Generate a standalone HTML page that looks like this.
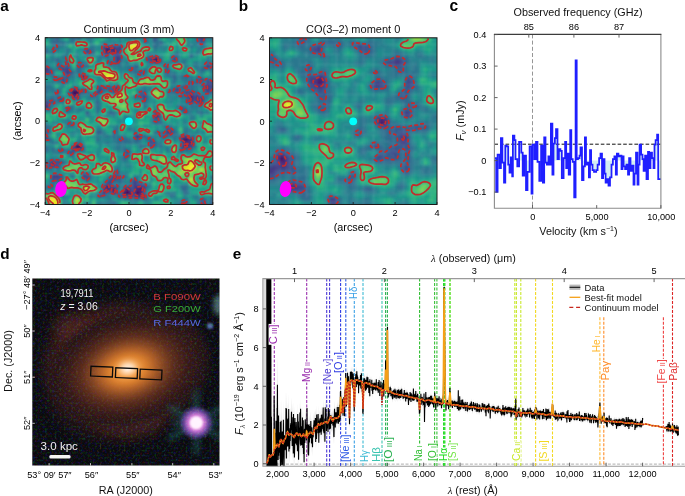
<!DOCTYPE html>
<html><head><meta charset="utf-8"><style>
html,body{margin:0;padding:0;background:#fff;}
#fig{position:relative;width:685px;height:496px;overflow:hidden;background:#fff;will-change:transform;}
svg{position:absolute;left:0;top:0;}
text{font-family:"Liberation Sans", sans-serif;}
</style></head><body><div id="fig">
<svg width="685" height="496" viewBox="0 0 685 496">
<defs>
<filter id="blur1" x="-5%" y="-5%" width="110%" height="110%"><feGaussianBlur stdDeviation="1.1"/></filter>
</defs>
<text x="0.3" y="10.8" font-size="15.3" fill="#000" font-weight="bold">a</text>
<text x="238.8" y="11.2" font-size="15.3" fill="#000" font-weight="bold">b</text>
<text x="449.5" y="11.0" font-size="15.6" fill="#000" font-weight="bold">c</text>
<text x="0.2" y="259.0" font-size="15.3" fill="#000" font-weight="bold">d</text>
<text x="232.8" y="259.1" font-size="15.3" fill="#000" font-weight="bold">e</text>
<clipPath id="ca"><rect x="45.20" y="37.70" width="167.60" height="166.80"/></clipPath>
<g clip-path="url(#ca)"><g filter="url(#blur1)">
<path fill="#1f9a8a" d="M42.2 34.7h6.7v6.6h-6.7zM62.0 34.7h3.7v6.6h-3.7zM115.6 34.7h3.7v6.6h-3.7zM189.3 34.7h3.7v6.6h-3.7zM48.6 44.4h3.7v3.6h-3.7zM65.3 44.4h3.7v3.6h-3.7zM142.4 44.4h3.7v3.6h-3.7zM165.9 47.7h3.7v3.6h-3.7zM162.5 51.0h3.7v3.6h-3.7zM179.3 54.4h3.7v3.6h-3.7zM196.0 54.4h3.7v3.6h-3.7zM209.4 54.4h6.7v3.6h-6.7zM189.3 57.7h3.7v3.6h-3.7zM196.0 57.7h3.7v3.6h-3.7zM92.1 61.1h3.7v3.6h-3.7zM98.8 61.1h3.7v3.6h-3.7zM189.3 64.4h3.7v3.6h-3.7zM72.0 67.7h3.7v3.6h-3.7zM192.7 67.7h3.7v3.6h-3.7zM125.6 71.1h3.7v3.6h-3.7zM186.0 71.1h3.7v3.6h-3.7zM95.5 74.4h3.7v3.6h-3.7zM152.5 74.4h3.7v3.6h-3.7zM192.7 74.4h3.7v3.6h-3.7zM206.1 74.4h3.7v3.6h-3.7zM78.7 77.7h3.7v3.6h-3.7zM139.1 84.4h3.7v3.6h-3.7zM105.5 91.1h3.7v3.6h-3.7zM72.0 101.1h3.7v3.6h-3.7zM162.5 101.1h3.7v3.6h-3.7zM92.1 104.4h3.7v3.6h-3.7zM129.0 107.8h3.7v3.6h-3.7zM48.6 111.1h3.7v3.6h-3.7zM159.2 111.1h3.7v3.6h-3.7zM179.3 111.1h3.7v3.6h-3.7zM98.8 114.4h3.7v3.6h-3.7zM186.0 114.4h3.7v3.6h-3.7zM179.3 117.8h3.7v3.6h-3.7zM186.0 117.8h3.7v3.6h-3.7zM51.9 124.4h3.7v3.6h-3.7zM75.4 124.4h3.7v3.6h-3.7zM132.4 124.4h3.7v3.6h-3.7zM135.7 124.4h3.7v3.6h-3.7zM159.2 124.4h3.7v3.6h-3.7zM199.4 124.4h3.7v3.6h-3.7zM62.0 127.8h3.7v3.6h-3.7zM72.0 127.8h3.7v3.6h-3.7zM159.2 127.8h3.7v3.6h-3.7zM199.4 127.8h3.7v3.6h-3.7zM58.6 131.1h3.7v3.6h-3.7zM105.5 131.1h3.7v3.6h-3.7zM48.6 134.4h3.7v3.6h-3.7zM58.6 134.4h3.7v3.6h-3.7zM88.8 134.4h3.7v3.6h-3.7zM125.6 134.4h3.7v3.6h-3.7zM206.1 134.4h3.7v3.6h-3.7zM75.4 137.8h3.7v3.6h-3.7zM85.4 137.8h3.7v3.6h-3.7zM206.1 141.1h3.7v3.6h-3.7zM88.8 144.5h3.7v3.6h-3.7zM135.7 147.8h3.7v3.6h-3.7zM169.2 147.8h3.7v3.6h-3.7zM75.4 151.1h3.7v3.6h-3.7zM85.4 151.1h3.7v3.6h-3.7zM142.4 157.8h3.7v3.6h-3.7zM172.6 161.1h3.7v3.6h-3.7zM92.1 164.5h3.7v3.6h-3.7zM78.7 174.5h3.7v3.6h-3.7zM72.0 177.8h3.7v3.6h-3.7zM78.7 177.8h3.7v3.6h-3.7zM42.2 181.1h6.7v3.6h-6.7zM98.8 181.1h3.7v3.6h-3.7zM155.8 184.5h3.7v3.6h-3.7zM98.8 187.8h3.7v3.6h-3.7zM189.3 191.2h3.7v3.6h-3.7zM186.0 194.5h3.7v3.6h-3.7zM88.8 197.8h3.7v3.6h-3.7zM98.8 197.8h3.7v3.6h-3.7zM115.6 197.8h3.7v3.6h-3.7z"/>
<path fill="#277f8e" d="M48.6 34.7h3.7v6.6h-3.7zM118.9 34.7h3.7v6.6h-3.7zM125.6 34.7h3.7v6.6h-3.7zM186.0 41.0h3.7v3.6h-3.7zM62.0 44.4h3.7v3.6h-3.7zM88.8 44.4h3.7v3.6h-3.7zM92.1 44.4h3.7v3.6h-3.7zM186.0 44.4h3.7v3.6h-3.7zM196.0 47.7h3.7v3.6h-3.7zM199.4 47.7h3.7v3.6h-3.7zM169.2 54.4h3.7v3.6h-3.7zM42.2 57.7h6.7v3.6h-6.7zM58.6 57.7h3.7v3.6h-3.7zM62.0 57.7h3.7v3.6h-3.7zM95.5 57.7h3.7v3.6h-3.7zM105.5 57.7h3.7v3.6h-3.7zM145.8 61.1h3.7v3.6h-3.7zM172.6 61.1h3.7v3.6h-3.7zM196.0 61.1h3.7v3.6h-3.7zM108.9 64.4h3.7v3.6h-3.7zM115.6 64.4h3.7v3.6h-3.7zM125.6 64.4h3.7v3.6h-3.7zM51.9 67.7h3.7v3.6h-3.7zM55.3 67.7h3.7v3.6h-3.7zM118.9 67.7h3.7v3.6h-3.7zM122.3 67.7h3.7v3.6h-3.7zM182.6 67.7h3.7v3.6h-3.7zM48.6 74.4h3.7v3.6h-3.7zM179.3 77.7h3.7v3.6h-3.7zM169.2 81.1h3.7v3.6h-3.7zM182.6 81.1h3.7v3.6h-3.7zM142.4 84.4h3.7v3.6h-3.7zM196.0 84.4h3.7v3.6h-3.7zM78.7 87.7h3.7v3.6h-3.7zM139.1 87.7h3.7v3.6h-3.7zM65.3 91.1h3.7v3.6h-3.7zM58.6 94.4h3.7v3.6h-3.7zM78.7 94.4h3.7v3.6h-3.7zM165.9 94.4h3.7v3.6h-3.7zM78.7 97.7h3.7v3.6h-3.7zM85.4 97.7h3.7v3.6h-3.7zM169.2 97.7h3.7v3.6h-3.7zM62.0 101.1h3.7v3.6h-3.7zM145.8 104.4h3.7v3.6h-3.7zM82.1 107.8h3.7v3.6h-3.7zM98.8 107.8h3.7v3.6h-3.7zM152.5 107.8h3.7v3.6h-3.7zM196.0 107.8h3.7v3.6h-3.7zM85.4 114.4h3.7v3.6h-3.7zM105.5 114.4h3.7v3.6h-3.7zM65.3 117.8h3.7v3.6h-3.7zM55.3 121.1h3.7v3.6h-3.7zM62.0 121.1h3.7v3.6h-3.7zM118.9 121.1h3.7v3.6h-3.7zM75.4 127.8h3.7v3.6h-3.7zM189.3 127.8h3.7v3.6h-3.7zM72.0 131.1h3.7v3.6h-3.7zM115.6 131.1h3.7v3.6h-3.7zM175.9 131.1h3.7v3.6h-3.7zM186.0 131.1h3.7v3.6h-3.7zM115.6 134.4h3.7v3.6h-3.7zM209.4 134.4h6.7v3.6h-6.7zM78.7 137.8h3.7v3.6h-3.7zM98.8 137.8h3.7v3.6h-3.7zM162.5 137.8h3.7v3.6h-3.7zM48.6 141.1h3.7v3.6h-3.7zM155.8 141.1h3.7v3.6h-3.7zM118.9 144.5h3.7v3.6h-3.7zM155.8 144.5h3.7v3.6h-3.7zM48.6 147.8h3.7v3.6h-3.7zM65.3 147.8h3.7v3.6h-3.7zM72.0 157.8h3.7v3.6h-3.7zM118.9 157.8h3.7v3.6h-3.7zM125.6 157.8h3.7v3.6h-3.7zM125.6 164.5h3.7v3.6h-3.7zM51.9 171.1h3.7v3.6h-3.7zM139.1 171.1h3.7v3.6h-3.7zM48.6 174.5h3.7v3.6h-3.7zM135.7 174.5h3.7v3.6h-3.7zM62.0 177.8h3.7v3.6h-3.7zM149.1 177.8h3.7v3.6h-3.7zM209.4 177.8h6.7v3.6h-6.7zM58.6 181.1h3.7v3.6h-3.7zM149.1 184.5h3.7v3.6h-3.7zM51.9 187.8h3.7v3.6h-3.7zM75.4 191.2h3.7v3.6h-3.7zM88.8 194.5h3.7v3.6h-3.7zM122.3 197.8h3.7v3.6h-3.7zM196.0 197.8h3.7v3.6h-3.7zM129.0 201.2h3.7v6.6h-3.7zM175.9 201.2h3.7v6.6h-3.7z"/>
<path fill="#2c738e" d="M51.9 34.7h3.7v6.6h-3.7zM68.7 34.7h3.7v6.6h-3.7zM75.4 34.7h3.7v6.6h-3.7zM129.0 34.7h3.7v6.6h-3.7zM62.0 41.0h3.7v3.6h-3.7zM155.8 41.0h3.7v3.6h-3.7zM155.8 44.4h3.7v3.6h-3.7zM92.1 47.7h3.7v3.6h-3.7zM98.8 54.4h3.7v3.6h-3.7zM175.9 54.4h3.7v3.6h-3.7zM51.9 57.7h3.7v3.6h-3.7zM58.6 61.1h3.7v3.6h-3.7zM175.9 61.1h3.7v3.6h-3.7zM112.2 64.4h3.7v3.6h-3.7zM118.9 64.4h3.7v3.6h-3.7zM129.0 64.4h3.7v3.6h-3.7zM68.7 67.7h3.7v3.6h-3.7zM196.0 67.7h3.7v3.6h-3.7zM206.1 67.7h3.7v3.6h-3.7zM72.0 71.1h3.7v3.6h-3.7zM199.4 71.1h3.7v3.6h-3.7zM142.4 74.4h3.7v3.6h-3.7zM165.9 74.4h3.7v3.6h-3.7zM169.2 74.4h3.7v3.6h-3.7zM186.0 77.7h3.7v3.6h-3.7zM209.4 77.7h6.7v3.6h-6.7zM42.2 84.4h6.7v3.6h-6.7zM48.6 84.4h3.7v3.6h-3.7zM199.4 84.4h3.7v3.6h-3.7zM51.9 87.7h3.7v3.6h-3.7zM42.2 91.1h6.7v3.6h-6.7zM95.5 94.4h3.7v3.6h-3.7zM132.4 94.4h3.7v3.6h-3.7zM42.2 97.7h6.7v3.6h-6.7zM95.5 97.7h3.7v3.6h-3.7zM145.8 97.7h3.7v3.6h-3.7zM189.3 104.4h3.7v3.6h-3.7zM196.0 104.4h3.7v3.6h-3.7zM65.3 111.1h3.7v3.6h-3.7zM196.0 111.1h3.7v3.6h-3.7zM206.1 111.1h3.7v3.6h-3.7zM159.2 117.8h3.7v3.6h-3.7zM98.8 127.8h3.7v3.6h-3.7zM112.2 127.8h3.7v3.6h-3.7zM48.6 131.1h3.7v3.6h-3.7zM132.4 131.1h3.7v3.6h-3.7zM182.6 131.1h3.7v3.6h-3.7zM196.0 131.1h3.7v3.6h-3.7zM105.5 134.4h3.7v3.6h-3.7zM118.9 134.4h3.7v3.6h-3.7zM192.7 134.4h3.7v3.6h-3.7zM115.6 137.8h3.7v3.6h-3.7zM139.1 137.8h3.7v3.6h-3.7zM152.5 137.8h3.7v3.6h-3.7zM192.7 137.8h3.7v3.6h-3.7zM55.3 141.1h3.7v3.6h-3.7zM105.5 141.1h3.7v3.6h-3.7zM115.6 141.1h3.7v3.6h-3.7zM122.3 141.1h3.7v3.6h-3.7zM125.6 141.1h3.7v3.6h-3.7zM135.7 141.1h3.7v3.6h-3.7zM159.2 141.1h3.7v3.6h-3.7zM122.3 151.1h3.7v3.6h-3.7zM62.0 174.5h3.7v3.6h-3.7zM68.7 174.5h3.7v3.6h-3.7zM108.9 174.5h3.7v3.6h-3.7zM82.1 177.8h3.7v3.6h-3.7zM105.5 177.8h3.7v3.6h-3.7zM186.0 191.2h3.7v3.6h-3.7zM62.0 194.5h3.7v3.6h-3.7zM105.5 194.5h3.7v3.6h-3.7zM129.0 197.8h3.7v3.6h-3.7zM108.9 201.2h3.7v6.6h-3.7zM196.0 201.2h3.7v6.6h-3.7z"/>
<path fill="#34608d" d="M55.3 34.7h3.7v6.6h-3.7zM142.4 34.7h3.7v6.6h-3.7zM196.0 34.7h3.7v6.6h-3.7zM55.3 44.4h3.7v3.6h-3.7zM115.6 44.4h3.7v3.6h-3.7zM51.9 51.0h3.7v3.6h-3.7zM135.7 64.4h3.7v3.6h-3.7zM142.4 71.1h3.7v3.6h-3.7zM172.6 74.4h3.7v3.6h-3.7zM186.0 74.4h3.7v3.6h-3.7zM196.0 81.1h3.7v3.6h-3.7zM98.8 84.4h3.7v3.6h-3.7zM78.7 91.1h3.7v3.6h-3.7zM82.1 91.1h3.7v3.6h-3.7zM175.9 91.1h3.7v3.6h-3.7zM192.7 91.1h3.7v3.6h-3.7zM48.6 101.1h3.7v3.6h-3.7zM142.4 101.1h3.7v3.6h-3.7zM199.4 104.4h3.7v3.6h-3.7zM179.3 107.8h3.7v3.6h-3.7zM112.2 111.1h3.7v3.6h-3.7zM152.5 111.1h3.7v3.6h-3.7zM98.8 131.1h3.7v3.6h-3.7zM155.8 131.1h3.7v3.6h-3.7zM42.2 134.4h6.7v3.6h-6.7zM159.2 134.4h3.7v3.6h-3.7zM186.0 134.4h3.7v3.6h-3.7zM192.7 141.1h3.7v3.6h-3.7zM182.6 147.8h3.7v3.6h-3.7zM125.6 184.5h3.7v3.6h-3.7zM115.6 187.8h3.7v3.6h-3.7zM108.9 191.2h3.7v3.6h-3.7zM199.4 201.2h3.7v6.6h-3.7z"/>
<path fill="#26828e" d="M58.6 34.7h3.7v6.6h-3.7zM108.9 34.7h3.7v6.6h-3.7zM135.7 34.7h3.7v6.6h-3.7zM139.1 34.7h3.7v6.6h-3.7zM169.2 34.7h3.7v6.6h-3.7zM48.6 41.0h3.7v3.6h-3.7zM68.7 41.0h3.7v3.6h-3.7zM192.7 41.0h3.7v3.6h-3.7zM122.3 44.4h3.7v3.6h-3.7zM192.7 44.4h3.7v3.6h-3.7zM196.0 44.4h3.7v3.6h-3.7zM68.7 47.7h3.7v3.6h-3.7zM155.8 47.7h3.7v3.6h-3.7zM189.3 47.7h3.7v3.6h-3.7zM48.6 51.0h3.7v3.6h-3.7zM149.1 51.0h3.7v3.6h-3.7zM48.6 57.7h3.7v3.6h-3.7zM108.9 57.7h3.7v3.6h-3.7zM122.3 57.7h3.7v3.6h-3.7zM179.3 61.1h3.7v3.6h-3.7zM182.6 64.4h3.7v3.6h-3.7zM82.1 67.7h3.7v3.6h-3.7zM112.2 67.7h3.7v3.6h-3.7zM145.8 67.7h3.7v3.6h-3.7zM55.3 74.4h3.7v3.6h-3.7zM175.9 74.4h3.7v3.6h-3.7zM85.4 77.7h3.7v3.6h-3.7zM175.9 77.7h3.7v3.6h-3.7zM42.2 81.1h6.7v3.6h-6.7zM48.6 81.1h3.7v3.6h-3.7zM51.9 81.1h3.7v3.6h-3.7zM58.6 81.1h3.7v3.6h-3.7zM85.4 87.7h3.7v3.6h-3.7zM145.8 87.7h3.7v3.6h-3.7zM165.9 87.7h3.7v3.6h-3.7zM115.6 91.1h3.7v3.6h-3.7zM145.8 91.1h3.7v3.6h-3.7zM48.6 94.4h3.7v3.6h-3.7zM169.2 94.4h3.7v3.6h-3.7zM88.8 97.7h3.7v3.6h-3.7zM135.7 97.7h3.7v3.6h-3.7zM179.3 97.7h3.7v3.6h-3.7zM182.6 97.7h3.7v3.6h-3.7zM98.8 101.1h3.7v3.6h-3.7zM152.5 101.1h3.7v3.6h-3.7zM65.3 104.4h3.7v3.6h-3.7zM82.1 104.4h3.7v3.6h-3.7zM98.8 104.4h3.7v3.6h-3.7zM72.0 107.8h3.7v3.6h-3.7zM108.9 107.8h3.7v3.6h-3.7zM135.7 107.8h3.7v3.6h-3.7zM192.7 107.8h3.7v3.6h-3.7zM75.4 111.1h3.7v3.6h-3.7zM115.6 111.1h3.7v3.6h-3.7zM189.3 111.1h3.7v3.6h-3.7zM202.7 111.1h3.7v3.6h-3.7zM88.8 114.4h3.7v3.6h-3.7zM102.2 114.4h3.7v3.6h-3.7zM192.7 114.4h3.7v3.6h-3.7zM62.0 117.8h3.7v3.6h-3.7zM122.3 117.8h3.7v3.6h-3.7zM192.7 117.8h3.7v3.6h-3.7zM42.2 121.1h6.7v3.6h-6.7zM125.6 127.8h3.7v3.6h-3.7zM68.7 131.1h3.7v3.6h-3.7zM199.4 131.1h3.7v3.6h-3.7zM108.9 134.4h3.7v3.6h-3.7zM159.2 137.8h3.7v3.6h-3.7zM102.2 141.1h3.7v3.6h-3.7zM112.2 141.1h3.7v3.6h-3.7zM139.1 141.1h3.7v3.6h-3.7zM145.8 144.5h3.7v3.6h-3.7zM68.7 147.8h3.7v3.6h-3.7zM112.2 147.8h3.7v3.6h-3.7zM139.1 147.8h3.7v3.6h-3.7zM149.1 147.8h3.7v3.6h-3.7zM42.2 151.1h6.7v3.6h-6.7zM95.5 151.1h3.7v3.6h-3.7zM95.5 154.5h3.7v3.6h-3.7zM129.0 154.5h3.7v3.6h-3.7zM175.9 154.5h3.7v3.6h-3.7zM58.6 157.8h3.7v3.6h-3.7zM65.3 161.1h3.7v3.6h-3.7zM125.6 161.1h3.7v3.6h-3.7zM115.6 164.5h3.7v3.6h-3.7zM112.2 167.8h3.7v3.6h-3.7zM118.9 171.1h3.7v3.6h-3.7zM122.3 171.1h3.7v3.6h-3.7zM125.6 174.5h3.7v3.6h-3.7zM122.3 181.1h3.7v3.6h-3.7zM98.8 184.5h3.7v3.6h-3.7zM118.9 184.5h3.7v3.6h-3.7zM145.8 187.8h3.7v3.6h-3.7zM179.3 187.8h3.7v3.6h-3.7zM58.6 194.5h3.7v3.6h-3.7zM65.3 194.5h3.7v3.6h-3.7zM182.6 194.5h3.7v3.6h-3.7zM62.0 197.8h3.7v3.6h-3.7zM105.5 197.8h3.7v3.6h-3.7zM139.1 197.8h3.7v3.6h-3.7zM155.8 197.8h3.7v3.6h-3.7zM179.3 197.8h3.7v3.6h-3.7zM65.3 201.2h3.7v6.6h-3.7zM85.4 201.2h3.7v6.6h-3.7zM102.2 201.2h3.7v6.6h-3.7zM132.4 201.2h3.7v6.6h-3.7zM145.8 201.2h3.7v6.6h-3.7z"/>
<path fill="#21a585" d="M65.3 34.7h3.7v6.6h-3.7zM102.2 34.7h3.7v6.6h-3.7zM165.9 41.0h3.7v3.6h-3.7zM175.9 41.0h3.7v3.6h-3.7zM172.6 44.4h3.7v3.6h-3.7zM209.4 44.4h6.7v3.6h-6.7zM72.0 47.7h3.7v3.6h-3.7zM72.0 51.0h3.7v3.6h-3.7zM182.6 51.0h3.7v3.6h-3.7zM186.0 51.0h3.7v3.6h-3.7zM162.5 54.4h3.7v3.6h-3.7zM162.5 57.7h3.7v3.6h-3.7zM142.4 61.1h3.7v3.6h-3.7zM155.8 64.4h3.7v3.6h-3.7zM202.7 74.4h3.7v3.6h-3.7zM92.1 77.7h3.7v3.6h-3.7zM122.3 77.7h3.7v3.6h-3.7zM162.5 77.7h3.7v3.6h-3.7zM165.9 77.7h3.7v3.6h-3.7zM159.2 87.7h3.7v3.6h-3.7zM129.0 94.4h3.7v3.6h-3.7zM82.1 97.7h3.7v3.6h-3.7zM102.2 101.1h3.7v3.6h-3.7zM155.8 101.1h3.7v3.6h-3.7zM159.2 101.1h3.7v3.6h-3.7zM102.2 104.4h3.7v3.6h-3.7zM149.1 104.4h3.7v3.6h-3.7zM112.2 107.8h3.7v3.6h-3.7zM145.8 107.8h3.7v3.6h-3.7zM165.9 107.8h3.7v3.6h-3.7zM75.4 114.4h3.7v3.6h-3.7zM142.4 114.4h3.7v3.6h-3.7zM149.1 114.4h3.7v3.6h-3.7zM196.0 114.4h3.7v3.6h-3.7zM202.7 114.4h3.7v3.6h-3.7zM51.9 117.8h3.7v3.6h-3.7zM75.4 117.8h3.7v3.6h-3.7zM92.1 121.1h3.7v3.6h-3.7zM95.5 121.1h3.7v3.6h-3.7zM108.9 121.1h3.7v3.6h-3.7zM179.3 121.1h3.7v3.6h-3.7zM206.1 121.1h3.7v3.6h-3.7zM62.0 124.4h3.7v3.6h-3.7zM105.5 124.4h3.7v3.6h-3.7zM139.1 124.4h3.7v3.6h-3.7zM179.3 124.4h3.7v3.6h-3.7zM108.9 127.8h3.7v3.6h-3.7zM152.5 127.8h3.7v3.6h-3.7zM108.9 131.1h3.7v3.6h-3.7zM118.9 131.1h3.7v3.6h-3.7zM92.1 137.8h3.7v3.6h-3.7zM169.2 137.8h3.7v3.6h-3.7zM58.6 141.1h3.7v3.6h-3.7zM162.5 141.1h3.7v3.6h-3.7zM175.9 141.1h3.7v3.6h-3.7zM92.1 144.5h3.7v3.6h-3.7zM95.5 144.5h3.7v3.6h-3.7zM196.0 144.5h3.7v3.6h-3.7zM85.4 147.8h3.7v3.6h-3.7zM132.4 151.1h3.7v3.6h-3.7zM152.5 151.1h3.7v3.6h-3.7zM196.0 151.1h3.7v3.6h-3.7zM72.0 161.1h3.7v3.6h-3.7zM75.4 161.1h3.7v3.6h-3.7zM92.1 161.1h3.7v3.6h-3.7zM98.8 161.1h3.7v3.6h-3.7zM135.7 161.1h3.7v3.6h-3.7zM88.8 164.5h3.7v3.6h-3.7zM132.4 167.8h3.7v3.6h-3.7zM159.2 167.8h3.7v3.6h-3.7zM129.0 171.1h3.7v3.6h-3.7zM98.8 174.5h3.7v3.6h-3.7zM196.0 174.5h3.7v3.6h-3.7zM172.6 177.8h3.7v3.6h-3.7zM206.1 177.8h3.7v3.6h-3.7zM82.1 181.1h3.7v3.6h-3.7zM155.8 181.1h3.7v3.6h-3.7zM162.5 181.1h3.7v3.6h-3.7zM62.0 184.5h3.7v3.6h-3.7zM68.7 187.8h3.7v3.6h-3.7zM152.5 187.8h3.7v3.6h-3.7zM62.0 191.2h3.7v3.6h-3.7zM72.0 194.5h3.7v3.6h-3.7zM162.5 194.5h3.7v3.6h-3.7zM175.9 194.5h3.7v3.6h-3.7zM159.2 201.2h3.7v6.6h-3.7zM189.3 201.2h3.7v6.6h-3.7z"/>
<path fill="#31688e" d="M72.0 34.7h3.7v6.6h-3.7zM51.9 41.0h3.7v3.6h-3.7zM55.3 41.0h3.7v3.6h-3.7zM145.8 41.0h3.7v3.6h-3.7zM152.5 44.4h3.7v3.6h-3.7zM82.1 47.7h3.7v3.6h-3.7zM155.8 54.4h3.7v3.6h-3.7zM65.3 57.7h3.7v3.6h-3.7zM175.9 57.7h3.7v3.6h-3.7zM58.6 67.7h3.7v3.6h-3.7zM132.4 67.7h3.7v3.6h-3.7zM142.4 67.7h3.7v3.6h-3.7zM135.7 71.1h3.7v3.6h-3.7zM51.9 74.4h3.7v3.6h-3.7zM51.9 77.7h3.7v3.6h-3.7zM172.6 77.7h3.7v3.6h-3.7zM202.7 77.7h3.7v3.6h-3.7zM65.3 81.1h3.7v3.6h-3.7zM192.7 81.1h3.7v3.6h-3.7zM199.4 81.1h3.7v3.6h-3.7zM179.3 84.4h3.7v3.6h-3.7zM186.0 87.7h3.7v3.6h-3.7zM172.6 91.1h3.7v3.6h-3.7zM51.9 97.7h3.7v3.6h-3.7zM202.7 97.7h3.7v3.6h-3.7zM142.4 104.4h3.7v3.6h-3.7zM179.3 104.4h3.7v3.6h-3.7zM68.7 107.8h3.7v3.6h-3.7zM186.0 111.1h3.7v3.6h-3.7zM72.0 121.1h3.7v3.6h-3.7zM159.2 121.1h3.7v3.6h-3.7zM165.9 124.4h3.7v3.6h-3.7zM42.2 127.8h6.7v3.6h-6.7zM172.6 131.1h3.7v3.6h-3.7zM112.2 134.4h3.7v3.6h-3.7zM132.4 134.4h3.7v3.6h-3.7zM159.2 144.5h3.7v3.6h-3.7zM192.7 144.5h3.7v3.6h-3.7zM122.3 147.8h3.7v3.6h-3.7zM189.3 147.8h3.7v3.6h-3.7zM55.3 157.8h3.7v3.6h-3.7zM122.3 157.8h3.7v3.6h-3.7zM42.2 167.8h6.7v3.6h-6.7zM115.6 167.8h3.7v3.6h-3.7zM72.0 174.5h3.7v3.6h-3.7zM88.8 174.5h3.7v3.6h-3.7zM118.9 174.5h3.7v3.6h-3.7zM129.0 184.5h3.7v3.6h-3.7zM145.8 184.5h3.7v3.6h-3.7zM182.6 184.5h3.7v3.6h-3.7zM105.5 191.2h3.7v3.6h-3.7zM118.9 191.2h3.7v3.6h-3.7zM169.2 194.5h3.7v3.6h-3.7zM142.4 197.8h3.7v3.6h-3.7zM209.4 197.8h6.7v3.6h-6.7zM186.0 201.2h3.7v6.6h-3.7z"/>
<path fill="#2d708e" d="M78.7 34.7h3.7v6.6h-3.7zM155.8 34.7h3.7v6.6h-3.7zM209.4 34.7h6.7v6.6h-6.7zM58.6 41.0h3.7v3.6h-3.7zM152.5 41.0h3.7v3.6h-3.7zM202.7 41.0h3.7v3.6h-3.7zM42.2 47.7h6.7v3.6h-6.7zM42.2 51.0h6.7v3.6h-6.7zM82.1 51.0h3.7v3.6h-3.7zM92.1 51.0h3.7v3.6h-3.7zM175.9 51.0h3.7v3.6h-3.7zM149.1 54.4h3.7v3.6h-3.7zM112.2 57.7h3.7v3.6h-3.7zM169.2 57.7h3.7v3.6h-3.7zM206.1 57.7h3.7v3.6h-3.7zM55.3 61.1h3.7v3.6h-3.7zM82.1 61.1h3.7v3.6h-3.7zM125.6 61.1h3.7v3.6h-3.7zM55.3 64.4h3.7v3.6h-3.7zM62.0 64.4h3.7v3.6h-3.7zM202.7 64.4h3.7v3.6h-3.7zM78.7 67.7h3.7v3.6h-3.7zM51.9 71.1h3.7v3.6h-3.7zM132.4 71.1h3.7v3.6h-3.7zM62.0 74.4h3.7v3.6h-3.7zM68.7 74.4h3.7v3.6h-3.7zM139.1 74.4h3.7v3.6h-3.7zM182.6 77.7h3.7v3.6h-3.7zM189.3 77.7h3.7v3.6h-3.7zM172.6 81.1h3.7v3.6h-3.7zM95.5 84.4h3.7v3.6h-3.7zM108.9 84.4h3.7v3.6h-3.7zM175.9 84.4h3.7v3.6h-3.7zM42.2 87.7h6.7v3.6h-6.7zM142.4 87.7h3.7v3.6h-3.7zM149.1 87.7h3.7v3.6h-3.7zM179.3 87.7h3.7v3.6h-3.7zM182.6 87.7h3.7v3.6h-3.7zM85.4 91.1h3.7v3.6h-3.7zM169.2 91.1h3.7v3.6h-3.7zM55.3 94.4h3.7v3.6h-3.7zM68.7 94.4h3.7v3.6h-3.7zM145.8 94.4h3.7v3.6h-3.7zM55.3 97.7h3.7v3.6h-3.7zM192.7 101.1h3.7v3.6h-3.7zM68.7 104.4h3.7v3.6h-3.7zM175.9 104.4h3.7v3.6h-3.7zM95.5 111.1h3.7v3.6h-3.7zM72.0 124.4h3.7v3.6h-3.7zM48.6 127.8h3.7v3.6h-3.7zM129.0 127.8h3.7v3.6h-3.7zM169.2 134.4h3.7v3.6h-3.7zM189.3 134.4h3.7v3.6h-3.7zM95.5 137.8h3.7v3.6h-3.7zM125.6 137.8h3.7v3.6h-3.7zM132.4 137.8h3.7v3.6h-3.7zM172.6 137.8h3.7v3.6h-3.7zM51.9 141.1h3.7v3.6h-3.7zM118.9 141.1h3.7v3.6h-3.7zM129.0 141.1h3.7v3.6h-3.7zM142.4 144.5h3.7v3.6h-3.7zM179.3 151.1h3.7v3.6h-3.7zM58.6 164.5h3.7v3.6h-3.7zM48.6 167.8h3.7v3.6h-3.7zM209.4 174.5h6.7v3.6h-6.7zM135.7 177.8h3.7v3.6h-3.7zM118.9 181.1h3.7v3.6h-3.7zM179.3 184.5h3.7v3.6h-3.7zM42.2 187.8h6.7v3.6h-6.7zM165.9 191.2h3.7v3.6h-3.7zM182.6 197.8h3.7v3.6h-3.7z"/>
<path fill="#20928c" d="M82.1 34.7h3.7v6.6h-3.7zM105.5 34.7h3.7v6.6h-3.7zM159.2 34.7h3.7v6.6h-3.7zM209.4 41.0h6.7v3.6h-6.7zM42.2 44.4h6.7v3.6h-6.7zM55.3 51.0h3.7v3.6h-3.7zM68.7 51.0h3.7v3.6h-3.7zM98.8 51.0h3.7v3.6h-3.7zM192.7 51.0h3.7v3.6h-3.7zM58.6 54.4h3.7v3.6h-3.7zM72.0 54.4h3.7v3.6h-3.7zM102.2 57.7h3.7v3.6h-3.7zM125.6 57.7h3.7v3.6h-3.7zM142.4 57.7h3.7v3.6h-3.7zM132.4 61.1h3.7v3.6h-3.7zM135.7 61.1h3.7v3.6h-3.7zM92.1 64.4h3.7v3.6h-3.7zM179.3 71.1h3.7v3.6h-3.7zM182.6 71.1h3.7v3.6h-3.7zM196.0 71.1h3.7v3.6h-3.7zM202.7 71.1h3.7v3.6h-3.7zM92.1 74.4h3.7v3.6h-3.7zM98.8 74.4h3.7v3.6h-3.7zM145.8 74.4h3.7v3.6h-3.7zM72.0 81.1h3.7v3.6h-3.7zM175.9 81.1h3.7v3.6h-3.7zM179.3 81.1h3.7v3.6h-3.7zM145.8 84.4h3.7v3.6h-3.7zM149.1 94.4h3.7v3.6h-3.7zM98.8 97.7h3.7v3.6h-3.7zM152.5 97.7h3.7v3.6h-3.7zM165.9 97.7h3.7v3.6h-3.7zM149.1 101.1h3.7v3.6h-3.7zM175.9 101.1h3.7v3.6h-3.7zM55.3 104.4h3.7v3.6h-3.7zM165.9 104.4h3.7v3.6h-3.7zM132.4 107.8h3.7v3.6h-3.7zM192.7 111.1h3.7v3.6h-3.7zM95.5 114.4h3.7v3.6h-3.7zM129.0 114.4h3.7v3.6h-3.7zM68.7 117.8h3.7v3.6h-3.7zM82.1 117.8h3.7v3.6h-3.7zM88.8 117.8h3.7v3.6h-3.7zM92.1 117.8h3.7v3.6h-3.7zM172.6 117.8h3.7v3.6h-3.7zM206.1 117.8h3.7v3.6h-3.7zM209.4 117.8h6.7v3.6h-6.7zM169.2 121.1h3.7v3.6h-3.7zM95.5 124.4h3.7v3.6h-3.7zM98.8 124.4h3.7v3.6h-3.7zM155.8 124.4h3.7v3.6h-3.7zM175.9 124.4h3.7v3.6h-3.7zM186.0 124.4h3.7v3.6h-3.7zM78.7 127.8h3.7v3.6h-3.7zM102.2 127.8h3.7v3.6h-3.7zM65.3 131.1h3.7v3.6h-3.7zM142.4 131.1h3.7v3.6h-3.7zM92.1 134.4h3.7v3.6h-3.7zM202.7 134.4h3.7v3.6h-3.7zM51.9 137.8h3.7v3.6h-3.7zM155.8 137.8h3.7v3.6h-3.7zM206.1 137.8h3.7v3.6h-3.7zM72.0 141.1h3.7v3.6h-3.7zM82.1 141.1h3.7v3.6h-3.7zM172.6 141.1h3.7v3.6h-3.7zM51.9 144.5h3.7v3.6h-3.7zM152.5 147.8h3.7v3.6h-3.7zM162.5 147.8h3.7v3.6h-3.7zM51.9 154.5h3.7v3.6h-3.7zM55.3 154.5h3.7v3.6h-3.7zM98.8 154.5h3.7v3.6h-3.7zM102.2 154.5h3.7v3.6h-3.7zM85.4 161.1h3.7v3.6h-3.7zM129.0 161.1h3.7v3.6h-3.7zM125.6 167.8h3.7v3.6h-3.7zM72.0 171.1h3.7v3.6h-3.7zM105.5 174.5h3.7v3.6h-3.7zM125.6 177.8h3.7v3.6h-3.7zM196.0 177.8h3.7v3.6h-3.7zM149.1 181.1h3.7v3.6h-3.7zM186.0 181.1h3.7v3.6h-3.7zM62.0 187.8h3.7v3.6h-3.7zM149.1 187.8h3.7v3.6h-3.7zM92.1 191.2h3.7v3.6h-3.7zM162.5 191.2h3.7v3.6h-3.7zM165.9 194.5h3.7v3.6h-3.7zM189.3 194.5h3.7v3.6h-3.7zM206.1 194.5h3.7v3.6h-3.7zM112.2 197.8h3.7v3.6h-3.7zM169.2 197.8h3.7v3.6h-3.7zM68.7 201.2h3.7v6.6h-3.7zM88.8 201.2h3.7v6.6h-3.7zM135.7 201.2h3.7v6.6h-3.7z"/>
<path fill="#2a778e" d="M85.4 34.7h3.7v6.6h-3.7zM88.8 34.7h3.7v6.6h-3.7zM145.8 34.7h3.7v6.6h-3.7zM51.9 44.4h3.7v3.6h-3.7zM58.6 44.4h3.7v3.6h-3.7zM159.2 44.4h3.7v3.6h-3.7zM189.3 44.4h3.7v3.6h-3.7zM202.7 44.4h3.7v3.6h-3.7zM65.3 47.7h3.7v3.6h-3.7zM65.3 51.0h3.7v3.6h-3.7zM196.0 51.0h3.7v3.6h-3.7zM62.0 54.4h3.7v3.6h-3.7zM65.3 54.4h3.7v3.6h-3.7zM145.8 54.4h3.7v3.6h-3.7zM98.8 57.7h3.7v3.6h-3.7zM75.4 61.1h3.7v3.6h-3.7zM118.9 61.1h3.7v3.6h-3.7zM68.7 64.4h3.7v3.6h-3.7zM192.7 64.4h3.7v3.6h-3.7zM196.0 64.4h3.7v3.6h-3.7zM125.6 67.7h3.7v3.6h-3.7zM75.4 71.1h3.7v3.6h-3.7zM118.9 71.1h3.7v3.6h-3.7zM129.0 71.1h3.7v3.6h-3.7zM172.6 71.1h3.7v3.6h-3.7zM135.7 74.4h3.7v3.6h-3.7zM179.3 74.4h3.7v3.6h-3.7zM189.3 74.4h3.7v3.6h-3.7zM196.0 74.4h3.7v3.6h-3.7zM112.2 84.4h3.7v3.6h-3.7zM192.7 84.4h3.7v3.6h-3.7zM48.6 87.7h3.7v3.6h-3.7zM55.3 87.7h3.7v3.6h-3.7zM68.7 87.7h3.7v3.6h-3.7zM92.1 91.1h3.7v3.6h-3.7zM51.9 94.4h3.7v3.6h-3.7zM202.7 94.4h3.7v3.6h-3.7zM206.1 94.4h3.7v3.6h-3.7zM55.3 101.1h3.7v3.6h-3.7zM182.6 104.4h3.7v3.6h-3.7zM192.7 104.4h3.7v3.6h-3.7zM186.0 107.8h3.7v3.6h-3.7zM125.6 117.8h3.7v3.6h-3.7zM189.3 117.8h3.7v3.6h-3.7zM65.3 121.1h3.7v3.6h-3.7zM48.6 124.4h3.7v3.6h-3.7zM65.3 124.4h3.7v3.6h-3.7zM115.6 124.4h3.7v3.6h-3.7zM162.5 124.4h3.7v3.6h-3.7zM169.2 124.4h3.7v3.6h-3.7zM132.4 127.8h3.7v3.6h-3.7zM186.0 127.8h3.7v3.6h-3.7zM135.7 131.1h3.7v3.6h-3.7zM145.8 134.4h3.7v3.6h-3.7zM172.6 134.4h3.7v3.6h-3.7zM112.2 137.8h3.7v3.6h-3.7zM78.7 141.1h3.7v3.6h-3.7zM132.4 141.1h3.7v3.6h-3.7zM42.2 144.5h6.7v3.6h-6.7zM115.6 144.5h3.7v3.6h-3.7zM115.6 147.8h3.7v3.6h-3.7zM72.0 154.5h3.7v3.6h-3.7zM48.6 157.8h3.7v3.6h-3.7zM55.3 167.8h3.7v3.6h-3.7zM55.3 171.1h3.7v3.6h-3.7zM112.2 171.1h3.7v3.6h-3.7zM88.8 177.8h3.7v3.6h-3.7zM129.0 177.8h3.7v3.6h-3.7zM55.3 181.1h3.7v3.6h-3.7zM102.2 181.1h3.7v3.6h-3.7zM142.4 181.1h3.7v3.6h-3.7zM42.2 184.5h6.7v3.6h-6.7zM122.3 184.5h3.7v3.6h-3.7zM186.0 184.5h3.7v3.6h-3.7zM48.6 187.8h3.7v3.6h-3.7zM169.2 191.2h3.7v3.6h-3.7zM115.6 194.5h3.7v3.6h-3.7zM172.6 194.5h3.7v3.6h-3.7zM192.7 194.5h3.7v3.6h-3.7zM196.0 194.5h3.7v3.6h-3.7zM108.9 197.8h3.7v3.6h-3.7zM145.8 197.8h3.7v3.6h-3.7zM186.0 197.8h3.7v3.6h-3.7zM98.8 201.2h3.7v6.6h-3.7z"/>
<path fill="#238a8d" d="M92.1 34.7h3.7v6.6h-3.7zM122.3 34.7h3.7v6.6h-3.7zM149.1 34.7h3.7v6.6h-3.7zM108.9 41.0h3.7v3.6h-3.7zM115.6 41.0h3.7v3.6h-3.7zM162.5 44.4h3.7v3.6h-3.7zM165.9 44.4h3.7v3.6h-3.7zM58.6 47.7h3.7v3.6h-3.7zM62.0 47.7h3.7v3.6h-3.7zM98.8 47.7h3.7v3.6h-3.7zM145.8 51.0h3.7v3.6h-3.7zM152.5 51.0h3.7v3.6h-3.7zM172.6 51.0h3.7v3.6h-3.7zM82.1 54.4h3.7v3.6h-3.7zM88.8 54.4h3.7v3.6h-3.7zM92.1 54.4h3.7v3.6h-3.7zM192.7 54.4h3.7v3.6h-3.7zM206.1 54.4h3.7v3.6h-3.7zM78.7 57.7h3.7v3.6h-3.7zM179.3 57.7h3.7v3.6h-3.7zM186.0 57.7h3.7v3.6h-3.7zM42.2 61.1h6.7v3.6h-6.7zM122.3 61.1h3.7v3.6h-3.7zM199.4 61.1h3.7v3.6h-3.7zM48.6 64.4h3.7v3.6h-3.7zM88.8 64.4h3.7v3.6h-3.7zM115.6 67.7h3.7v3.6h-3.7zM139.1 67.7h3.7v3.6h-3.7zM162.5 67.7h3.7v3.6h-3.7zM169.2 67.7h3.7v3.6h-3.7zM58.6 74.4h3.7v3.6h-3.7zM132.4 74.4h3.7v3.6h-3.7zM209.4 74.4h6.7v3.6h-6.7zM68.7 77.7h3.7v3.6h-3.7zM169.2 77.7h3.7v3.6h-3.7zM75.4 84.4h3.7v3.6h-3.7zM48.6 91.1h3.7v3.6h-3.7zM135.7 91.1h3.7v3.6h-3.7zM65.3 94.4h3.7v3.6h-3.7zM172.6 94.4h3.7v3.6h-3.7zM92.1 97.7h3.7v3.6h-3.7zM132.4 97.7h3.7v3.6h-3.7zM149.1 97.7h3.7v3.6h-3.7zM165.9 101.1h3.7v3.6h-3.7zM186.0 104.4h3.7v3.6h-3.7zM175.9 107.8h3.7v3.6h-3.7zM199.4 107.8h3.7v3.6h-3.7zM206.1 107.8h3.7v3.6h-3.7zM135.7 111.1h3.7v3.6h-3.7zM132.4 114.4h3.7v3.6h-3.7zM132.4 117.8h3.7v3.6h-3.7zM149.1 117.8h3.7v3.6h-3.7zM122.3 121.1h3.7v3.6h-3.7zM129.0 121.1h3.7v3.6h-3.7zM149.1 121.1h3.7v3.6h-3.7zM162.5 121.1h3.7v3.6h-3.7zM175.9 121.1h3.7v3.6h-3.7zM145.8 124.4h3.7v3.6h-3.7zM65.3 127.8h3.7v3.6h-3.7zM55.3 131.1h3.7v3.6h-3.7zM189.3 131.1h3.7v3.6h-3.7zM55.3 134.4h3.7v3.6h-3.7zM72.0 134.4h3.7v3.6h-3.7zM152.5 134.4h3.7v3.6h-3.7zM155.8 134.4h3.7v3.6h-3.7zM108.9 137.8h3.7v3.6h-3.7zM142.4 137.8h3.7v3.6h-3.7zM175.9 137.8h3.7v3.6h-3.7zM129.0 144.5h3.7v3.6h-3.7zM162.5 144.5h3.7v3.6h-3.7zM98.8 147.8h3.7v3.6h-3.7zM169.2 151.1h3.7v3.6h-3.7zM115.6 154.5h3.7v3.6h-3.7zM118.9 154.5h3.7v3.6h-3.7zM42.2 157.8h6.7v3.6h-6.7zM118.9 161.1h3.7v3.6h-3.7zM112.2 164.5h3.7v3.6h-3.7zM118.9 164.5h3.7v3.6h-3.7zM58.6 171.1h3.7v3.6h-3.7zM88.8 171.1h3.7v3.6h-3.7zM139.1 174.5h3.7v3.6h-3.7zM95.5 177.8h3.7v3.6h-3.7zM95.5 181.1h3.7v3.6h-3.7zM172.6 181.1h3.7v3.6h-3.7zM112.2 194.5h3.7v3.6h-3.7zM159.2 194.5h3.7v3.6h-3.7zM65.3 197.8h3.7v3.6h-3.7zM118.9 197.8h3.7v3.6h-3.7zM149.1 197.8h3.7v3.6h-3.7zM175.9 197.8h3.7v3.6h-3.7zM192.7 197.8h3.7v3.6h-3.7zM206.1 197.8h3.7v3.6h-3.7zM172.6 201.2h3.7v6.6h-3.7z"/>
<path fill="#1fa187" d="M95.5 34.7h3.7v6.6h-3.7zM92.1 41.0h3.7v3.6h-3.7zM182.6 44.4h3.7v3.6h-3.7zM179.3 47.7h3.7v3.6h-3.7zM169.2 51.0h3.7v3.6h-3.7zM192.7 57.7h3.7v3.6h-3.7zM199.4 57.7h3.7v3.6h-3.7zM68.7 61.1h3.7v3.6h-3.7zM189.3 61.1h3.7v3.6h-3.7zM85.4 67.7h3.7v3.6h-3.7zM172.6 67.7h3.7v3.6h-3.7zM75.4 77.7h3.7v3.6h-3.7zM118.9 77.7h3.7v3.6h-3.7zM68.7 81.1h3.7v3.6h-3.7zM115.6 81.1h3.7v3.6h-3.7zM129.0 97.7h3.7v3.6h-3.7zM162.5 97.7h3.7v3.6h-3.7zM135.7 101.1h3.7v3.6h-3.7zM108.9 104.4h3.7v3.6h-3.7zM172.6 107.8h3.7v3.6h-3.7zM42.2 111.1h6.7v3.6h-6.7zM78.7 111.1h3.7v3.6h-3.7zM182.6 114.4h3.7v3.6h-3.7zM135.7 117.8h3.7v3.6h-3.7zM139.1 117.8h3.7v3.6h-3.7zM142.4 117.8h3.7v3.6h-3.7zM58.6 121.1h3.7v3.6h-3.7zM135.7 121.1h3.7v3.6h-3.7zM165.9 121.1h3.7v3.6h-3.7zM209.4 121.1h6.7v3.6h-6.7zM118.9 124.4h3.7v3.6h-3.7zM152.5 124.4h3.7v3.6h-3.7zM68.7 127.8h3.7v3.6h-3.7zM149.1 127.8h3.7v3.6h-3.7zM125.6 131.1h3.7v3.6h-3.7zM129.0 131.1h3.7v3.6h-3.7zM199.4 134.4h3.7v3.6h-3.7zM82.1 137.8h3.7v3.6h-3.7zM165.9 137.8h3.7v3.6h-3.7zM132.4 144.5h3.7v3.6h-3.7zM209.4 144.5h6.7v3.6h-6.7zM155.8 147.8h3.7v3.6h-3.7zM175.9 147.8h3.7v3.6h-3.7zM78.7 151.1h3.7v3.6h-3.7zM139.1 151.1h3.7v3.6h-3.7zM202.7 151.1h3.7v3.6h-3.7zM186.0 154.5h3.7v3.6h-3.7zM85.4 157.8h3.7v3.6h-3.7zM152.5 161.1h3.7v3.6h-3.7zM132.4 164.5h3.7v3.6h-3.7zM88.8 167.8h3.7v3.6h-3.7zM78.7 171.1h3.7v3.6h-3.7zM169.2 174.5h3.7v3.6h-3.7zM199.4 174.5h3.7v3.6h-3.7zM42.2 177.8h6.7v3.6h-6.7zM139.1 177.8h3.7v3.6h-3.7zM78.7 181.1h3.7v3.6h-3.7zM189.3 184.5h3.7v3.6h-3.7zM206.1 184.5h3.7v3.6h-3.7zM72.0 187.8h3.7v3.6h-3.7zM175.9 187.8h3.7v3.6h-3.7zM48.6 191.2h3.7v3.6h-3.7zM175.9 191.2h3.7v3.6h-3.7zM192.7 191.2h3.7v3.6h-3.7zM196.0 191.2h3.7v3.6h-3.7zM78.7 194.5h3.7v3.6h-3.7zM199.4 194.5h3.7v3.6h-3.7zM159.2 197.8h3.7v3.6h-3.7zM189.3 197.8h3.7v3.6h-3.7zM169.2 201.2h3.7v6.6h-3.7z"/>
<path fill="#26ad81" d="M98.8 34.7h3.7v6.6h-3.7zM162.5 34.7h3.7v6.6h-3.7zM42.2 41.0h6.7v3.6h-6.7zM95.5 51.0h3.7v3.6h-3.7zM165.9 51.0h3.7v3.6h-3.7zM139.1 57.7h3.7v3.6h-3.7zM152.5 64.4h3.7v3.6h-3.7zM206.1 71.1h3.7v3.6h-3.7zM122.3 74.4h3.7v3.6h-3.7zM68.7 84.4h3.7v3.6h-3.7zM78.7 84.4h3.7v3.6h-3.7zM159.2 84.4h3.7v3.6h-3.7zM62.0 87.7h3.7v3.6h-3.7zM125.6 91.1h3.7v3.6h-3.7zM155.8 97.7h3.7v3.6h-3.7zM159.2 97.7h3.7v3.6h-3.7zM75.4 101.1h3.7v3.6h-3.7zM125.6 101.1h3.7v3.6h-3.7zM206.1 101.1h3.7v3.6h-3.7zM112.2 104.4h3.7v3.6h-3.7zM105.5 107.8h3.7v3.6h-3.7zM122.3 111.1h3.7v3.6h-3.7zM129.0 111.1h3.7v3.6h-3.7zM51.9 114.4h3.7v3.6h-3.7zM169.2 114.4h3.7v3.6h-3.7zM162.5 117.8h3.7v3.6h-3.7zM82.1 121.1h3.7v3.6h-3.7zM85.4 121.1h3.7v3.6h-3.7zM142.4 121.1h3.7v3.6h-3.7zM145.8 121.1h3.7v3.6h-3.7zM55.3 124.4h3.7v3.6h-3.7zM196.0 124.4h3.7v3.6h-3.7zM192.7 127.8h3.7v3.6h-3.7zM202.7 127.8h3.7v3.6h-3.7zM51.9 131.1h3.7v3.6h-3.7zM145.8 131.1h3.7v3.6h-3.7zM209.4 131.1h6.7v3.6h-6.7zM92.1 141.1h3.7v3.6h-3.7zM196.0 141.1h3.7v3.6h-3.7zM199.4 141.1h3.7v3.6h-3.7zM175.9 144.5h3.7v3.6h-3.7zM132.4 147.8h3.7v3.6h-3.7zM196.0 147.8h3.7v3.6h-3.7zM162.5 151.1h3.7v3.6h-3.7zM199.4 151.1h3.7v3.6h-3.7zM206.1 151.1h3.7v3.6h-3.7zM58.6 154.5h3.7v3.6h-3.7zM75.4 154.5h3.7v3.6h-3.7zM179.3 154.5h3.7v3.6h-3.7zM189.3 154.5h3.7v3.6h-3.7zM135.7 157.8h3.7v3.6h-3.7zM149.1 157.8h3.7v3.6h-3.7zM165.9 157.8h3.7v3.6h-3.7zM102.2 161.1h3.7v3.6h-3.7zM105.5 161.1h3.7v3.6h-3.7zM145.8 161.1h3.7v3.6h-3.7zM206.1 161.1h3.7v3.6h-3.7zM152.5 164.5h3.7v3.6h-3.7zM135.7 167.8h3.7v3.6h-3.7zM142.4 167.8h3.7v3.6h-3.7zM132.4 171.1h3.7v3.6h-3.7zM135.7 171.1h3.7v3.6h-3.7zM65.3 174.5h3.7v3.6h-3.7zM75.4 174.5h3.7v3.6h-3.7zM98.8 177.8h3.7v3.6h-3.7zM179.3 177.8h3.7v3.6h-3.7zM62.0 181.1h3.7v3.6h-3.7zM152.5 184.5h3.7v3.6h-3.7zM58.6 187.8h3.7v3.6h-3.7zM165.9 187.8h3.7v3.6h-3.7zM172.6 187.8h3.7v3.6h-3.7zM206.1 187.8h3.7v3.6h-3.7zM42.2 197.8h6.7v3.6h-6.7zM68.7 197.8h3.7v3.6h-3.7zM92.1 197.8h3.7v3.6h-3.7z"/>
<path fill="#218e8d" d="M112.2 34.7h3.7v6.6h-3.7zM149.1 41.0h3.7v3.6h-3.7zM162.5 41.0h3.7v3.6h-3.7zM95.5 44.4h3.7v3.6h-3.7zM149.1 44.4h3.7v3.6h-3.7zM175.9 44.4h3.7v3.6h-3.7zM206.1 44.4h3.7v3.6h-3.7zM48.6 47.7h3.7v3.6h-3.7zM175.9 47.7h3.7v3.6h-3.7zM62.0 51.0h3.7v3.6h-3.7zM48.6 54.4h3.7v3.6h-3.7zM95.5 54.4h3.7v3.6h-3.7zM108.9 54.4h3.7v3.6h-3.7zM122.3 54.4h3.7v3.6h-3.7zM159.2 54.4h3.7v3.6h-3.7zM209.4 57.7h6.7v3.6h-6.7zM51.9 61.1h3.7v3.6h-3.7zM162.5 61.1h3.7v3.6h-3.7zM122.3 71.1h3.7v3.6h-3.7zM175.9 71.1h3.7v3.6h-3.7zM75.4 74.4h3.7v3.6h-3.7zM95.5 77.7h3.7v3.6h-3.7zM108.9 81.1h3.7v3.6h-3.7zM51.9 84.4h3.7v3.6h-3.7zM58.6 84.4h3.7v3.6h-3.7zM149.1 84.4h3.7v3.6h-3.7zM62.0 94.4h3.7v3.6h-3.7zM209.4 94.4h6.7v3.6h-6.7zM92.1 101.1h3.7v3.6h-3.7zM169.2 104.4h3.7v3.6h-3.7zM62.0 107.8h3.7v3.6h-3.7zM155.8 107.8h3.7v3.6h-3.7zM72.0 111.1h3.7v3.6h-3.7zM88.8 111.1h3.7v3.6h-3.7zM132.4 111.1h3.7v3.6h-3.7zM108.9 114.4h3.7v3.6h-3.7zM78.7 117.8h3.7v3.6h-3.7zM115.6 117.8h3.7v3.6h-3.7zM118.9 117.8h3.7v3.6h-3.7zM129.0 117.8h3.7v3.6h-3.7zM125.6 121.1h3.7v3.6h-3.7zM132.4 121.1h3.7v3.6h-3.7zM186.0 121.1h3.7v3.6h-3.7zM108.9 124.4h3.7v3.6h-3.7zM142.4 124.4h3.7v3.6h-3.7zM182.6 124.4h3.7v3.6h-3.7zM162.5 127.8h3.7v3.6h-3.7zM75.4 131.1h3.7v3.6h-3.7zM78.7 131.1h3.7v3.6h-3.7zM68.7 134.4h3.7v3.6h-3.7zM58.6 144.5h3.7v3.6h-3.7zM105.5 144.5h3.7v3.6h-3.7zM108.9 144.5h3.7v3.6h-3.7zM135.7 144.5h3.7v3.6h-3.7zM95.5 147.8h3.7v3.6h-3.7zM129.0 147.8h3.7v3.6h-3.7zM192.7 147.8h3.7v3.6h-3.7zM48.6 151.1h3.7v3.6h-3.7zM82.1 151.1h3.7v3.6h-3.7zM135.7 151.1h3.7v3.6h-3.7zM165.9 151.1h3.7v3.6h-3.7zM175.9 151.1h3.7v3.6h-3.7zM182.6 151.1h3.7v3.6h-3.7zM48.6 154.5h3.7v3.6h-3.7zM62.0 157.8h3.7v3.6h-3.7zM98.8 157.8h3.7v3.6h-3.7zM145.8 157.8h3.7v3.6h-3.7zM88.8 161.1h3.7v3.6h-3.7zM115.6 161.1h3.7v3.6h-3.7zM122.3 164.5h3.7v3.6h-3.7zM159.2 164.5h3.7v3.6h-3.7zM118.9 167.8h3.7v3.6h-3.7zM62.0 171.1h3.7v3.6h-3.7zM65.3 171.1h3.7v3.6h-3.7zM68.7 171.1h3.7v3.6h-3.7zM105.5 171.1h3.7v3.6h-3.7zM92.1 174.5h3.7v3.6h-3.7zM149.1 174.5h3.7v3.6h-3.7zM145.8 181.1h3.7v3.6h-3.7zM182.6 181.1h3.7v3.6h-3.7zM58.6 184.5h3.7v3.6h-3.7zM175.9 184.5h3.7v3.6h-3.7zM118.9 187.8h3.7v3.6h-3.7zM68.7 191.2h3.7v3.6h-3.7zM78.7 191.2h3.7v3.6h-3.7zM145.8 191.2h3.7v3.6h-3.7zM92.1 194.5h3.7v3.6h-3.7zM102.2 197.8h3.7v3.6h-3.7zM152.5 197.8h3.7v3.6h-3.7zM172.6 197.8h3.7v3.6h-3.7zM82.1 201.2h3.7v6.6h-3.7zM142.4 201.2h3.7v6.6h-3.7zM149.1 201.2h3.7v6.6h-3.7z"/>
<path fill="#2f6c8e" d="M132.4 34.7h3.7v6.6h-3.7zM142.4 41.0h3.7v3.6h-3.7zM196.0 41.0h3.7v3.6h-3.7zM108.9 44.4h3.7v3.6h-3.7zM199.4 44.4h3.7v3.6h-3.7zM55.3 47.7h3.7v3.6h-3.7zM88.8 47.7h3.7v3.6h-3.7zM105.5 61.1h3.7v3.6h-3.7zM159.2 61.1h3.7v3.6h-3.7zM182.6 61.1h3.7v3.6h-3.7zM42.2 64.4h6.7v3.6h-6.7zM75.4 64.4h3.7v3.6h-3.7zM85.4 64.4h3.7v3.6h-3.7zM132.4 64.4h3.7v3.6h-3.7zM162.5 64.4h3.7v3.6h-3.7zM75.4 67.7h3.7v3.6h-3.7zM199.4 67.7h3.7v3.6h-3.7zM209.4 67.7h6.7v3.6h-6.7zM78.7 71.1h3.7v3.6h-3.7zM182.6 74.4h3.7v3.6h-3.7zM102.2 84.4h3.7v3.6h-3.7zM105.5 84.4h3.7v3.6h-3.7zM189.3 84.4h3.7v3.6h-3.7zM95.5 87.7h3.7v3.6h-3.7zM105.5 87.7h3.7v3.6h-3.7zM169.2 87.7h3.7v3.6h-3.7zM189.3 87.7h3.7v3.6h-3.7zM165.9 91.1h3.7v3.6h-3.7zM179.3 91.1h3.7v3.6h-3.7zM202.7 91.1h3.7v3.6h-3.7zM209.4 91.1h6.7v3.6h-6.7zM88.8 94.4h3.7v3.6h-3.7zM182.6 94.4h3.7v3.6h-3.7zM48.6 97.7h3.7v3.6h-3.7zM72.0 97.7h3.7v3.6h-3.7zM48.6 104.4h3.7v3.6h-3.7zM95.5 104.4h3.7v3.6h-3.7zM48.6 107.8h3.7v3.6h-3.7zM78.7 107.8h3.7v3.6h-3.7zM95.5 107.8h3.7v3.6h-3.7zM199.4 111.1h3.7v3.6h-3.7zM159.2 114.4h3.7v3.6h-3.7zM68.7 121.1h3.7v3.6h-3.7zM152.5 121.1h3.7v3.6h-3.7zM42.2 124.4h6.7v3.6h-6.7zM68.7 124.4h3.7v3.6h-3.7zM115.6 127.8h3.7v3.6h-3.7zM172.6 127.8h3.7v3.6h-3.7zM159.2 131.1h3.7v3.6h-3.7zM162.5 131.1h3.7v3.6h-3.7zM48.6 137.8h3.7v3.6h-3.7zM145.8 137.8h3.7v3.6h-3.7zM75.4 141.1h3.7v3.6h-3.7zM179.3 141.1h3.7v3.6h-3.7zM82.1 144.5h3.7v3.6h-3.7zM139.1 144.5h3.7v3.6h-3.7zM42.2 147.8h6.7v3.6h-6.7zM51.9 147.8h3.7v3.6h-3.7zM82.1 147.8h3.7v3.6h-3.7zM125.6 147.8h3.7v3.6h-3.7zM165.9 147.8h3.7v3.6h-3.7zM58.6 151.1h3.7v3.6h-3.7zM65.3 151.1h3.7v3.6h-3.7zM68.7 154.5h3.7v3.6h-3.7zM51.9 157.8h3.7v3.6h-3.7zM42.2 161.1h6.7v3.6h-6.7zM85.4 171.1h3.7v3.6h-3.7zM51.9 181.1h3.7v3.6h-3.7zM129.0 181.1h3.7v3.6h-3.7zM51.9 184.5h3.7v3.6h-3.7zM98.8 191.2h3.7v3.6h-3.7zM182.6 191.2h3.7v3.6h-3.7zM135.7 197.8h3.7v3.6h-3.7zM112.2 201.2h3.7v6.6h-3.7z"/>
<path fill="#38588c" d="M152.5 34.7h3.7v6.6h-3.7zM202.7 34.7h3.7v6.6h-3.7zM118.9 54.4h3.7v3.6h-3.7zM152.5 61.1h3.7v3.6h-3.7zM65.3 64.4h3.7v3.6h-3.7zM165.9 64.4h3.7v3.6h-3.7zM209.4 64.4h6.7v3.6h-6.7zM129.0 67.7h3.7v3.6h-3.7zM165.9 67.7h3.7v3.6h-3.7zM65.3 74.4h3.7v3.6h-3.7zM78.7 74.4h3.7v3.6h-3.7zM206.1 77.7h3.7v3.6h-3.7zM62.0 81.1h3.7v3.6h-3.7zM82.1 87.7h3.7v3.6h-3.7zM139.1 91.1h3.7v3.6h-3.7zM139.1 94.4h3.7v3.6h-3.7zM62.0 97.7h3.7v3.6h-3.7zM75.4 97.7h3.7v3.6h-3.7zM51.9 101.1h3.7v3.6h-3.7zM186.0 101.1h3.7v3.6h-3.7zM182.6 107.8h3.7v3.6h-3.7zM42.2 131.1h6.7v3.6h-6.7zM179.3 147.8h3.7v3.6h-3.7zM115.6 174.5h3.7v3.6h-3.7zM105.5 181.1h3.7v3.6h-3.7zM115.6 191.2h3.7v3.6h-3.7zM142.4 191.2h3.7v3.6h-3.7z"/>
<path fill="#1f968b" d="M165.9 34.7h3.7v6.6h-3.7zM172.6 34.7h3.7v6.6h-3.7zM98.8 41.0h3.7v3.6h-3.7zM122.3 41.0h3.7v3.6h-3.7zM169.2 41.0h3.7v3.6h-3.7zM75.4 47.7h3.7v3.6h-3.7zM58.6 51.0h3.7v3.6h-3.7zM155.8 51.0h3.7v3.6h-3.7zM159.2 51.0h3.7v3.6h-3.7zM179.3 51.0h3.7v3.6h-3.7zM82.1 57.7h3.7v3.6h-3.7zM202.7 57.7h3.7v3.6h-3.7zM186.0 61.1h3.7v3.6h-3.7zM51.9 64.4h3.7v3.6h-3.7zM105.5 64.4h3.7v3.6h-3.7zM159.2 64.4h3.7v3.6h-3.7zM88.8 74.4h3.7v3.6h-3.7zM129.0 74.4h3.7v3.6h-3.7zM149.1 74.4h3.7v3.6h-3.7zM95.5 81.1h3.7v3.6h-3.7zM98.8 81.1h3.7v3.6h-3.7zM118.9 84.4h3.7v3.6h-3.7zM199.4 87.7h3.7v3.6h-3.7zM175.9 97.7h3.7v3.6h-3.7zM172.6 101.1h3.7v3.6h-3.7zM62.0 104.4h3.7v3.6h-3.7zM105.5 104.4h3.7v3.6h-3.7zM172.6 104.4h3.7v3.6h-3.7zM92.1 107.8h3.7v3.6h-3.7zM139.1 107.8h3.7v3.6h-3.7zM202.7 107.8h3.7v3.6h-3.7zM92.1 114.4h3.7v3.6h-3.7zM58.6 117.8h3.7v3.6h-3.7zM169.2 117.8h3.7v3.6h-3.7zM88.8 121.1h3.7v3.6h-3.7zM115.6 121.1h3.7v3.6h-3.7zM149.1 124.4h3.7v3.6h-3.7zM172.6 124.4h3.7v3.6h-3.7zM175.9 127.8h3.7v3.6h-3.7zM122.3 131.1h3.7v3.6h-3.7zM42.2 141.1h6.7v3.6h-6.7zM142.4 141.1h3.7v3.6h-3.7zM125.6 144.5h3.7v3.6h-3.7zM169.2 144.5h3.7v3.6h-3.7zM108.9 147.8h3.7v3.6h-3.7zM98.8 151.1h3.7v3.6h-3.7zM115.6 151.1h3.7v3.6h-3.7zM118.9 151.1h3.7v3.6h-3.7zM65.3 154.5h3.7v3.6h-3.7zM142.4 154.5h3.7v3.6h-3.7zM75.4 157.8h3.7v3.6h-3.7zM82.1 161.1h3.7v3.6h-3.7zM209.4 161.1h6.7v3.6h-6.7zM122.3 167.8h3.7v3.6h-3.7zM129.0 167.8h3.7v3.6h-3.7zM139.1 167.8h3.7v3.6h-3.7zM95.5 174.5h3.7v3.6h-3.7zM172.6 174.5h3.7v3.6h-3.7zM92.1 177.8h3.7v3.6h-3.7zM102.2 177.8h3.7v3.6h-3.7zM175.9 177.8h3.7v3.6h-3.7zM92.1 181.1h3.7v3.6h-3.7zM175.9 181.1h3.7v3.6h-3.7zM179.3 181.1h3.7v3.6h-3.7zM55.3 184.5h3.7v3.6h-3.7zM95.5 184.5h3.7v3.6h-3.7zM202.7 187.8h3.7v3.6h-3.7zM58.6 191.2h3.7v3.6h-3.7zM72.0 191.2h3.7v3.6h-3.7zM179.3 191.2h3.7v3.6h-3.7zM68.7 194.5h3.7v3.6h-3.7zM152.5 194.5h3.7v3.6h-3.7zM155.8 194.5h3.7v3.6h-3.7zM95.5 197.8h3.7v3.6h-3.7zM42.2 201.2h6.7v6.6h-6.7z"/>
<path fill="#42be71" d="M175.9 34.7h3.7v6.6h-3.7zM129.0 41.0h3.7v3.6h-3.7zM92.1 57.7h3.7v3.6h-3.7zM95.5 67.7h3.7v3.6h-3.7zM92.1 81.1h3.7v3.6h-3.7zM165.9 81.1h3.7v3.6h-3.7zM125.6 84.4h3.7v3.6h-3.7zM155.8 87.7h3.7v3.6h-3.7zM132.4 91.1h3.7v3.6h-3.7zM85.4 104.4h3.7v3.6h-3.7zM118.9 107.8h3.7v3.6h-3.7zM149.1 107.8h3.7v3.6h-3.7zM118.9 111.1h3.7v3.6h-3.7zM125.6 111.1h3.7v3.6h-3.7zM139.1 111.1h3.7v3.6h-3.7zM58.6 114.4h3.7v3.6h-3.7zM95.5 117.8h3.7v3.6h-3.7zM51.9 127.8h3.7v3.6h-3.7zM92.1 127.8h3.7v3.6h-3.7zM139.1 127.8h3.7v3.6h-3.7zM179.3 127.8h3.7v3.6h-3.7zM169.2 141.1h3.7v3.6h-3.7zM172.6 151.1h3.7v3.6h-3.7zM88.8 154.5h3.7v3.6h-3.7zM112.2 154.5h3.7v3.6h-3.7zM196.0 154.5h3.7v3.6h-3.7zM68.7 161.1h3.7v3.6h-3.7zM82.1 164.5h3.7v3.6h-3.7zM95.5 164.5h3.7v3.6h-3.7zM98.8 164.5h3.7v3.6h-3.7zM175.9 164.5h3.7v3.6h-3.7zM82.1 167.8h3.7v3.6h-3.7zM75.4 171.1h3.7v3.6h-3.7zM186.0 171.1h3.7v3.6h-3.7zM145.8 174.5h3.7v3.6h-3.7zM152.5 174.5h3.7v3.6h-3.7zM65.3 177.8h3.7v3.6h-3.7zM186.0 177.8h3.7v3.6h-3.7zM199.4 177.8h3.7v3.6h-3.7zM78.7 184.5h3.7v3.6h-3.7zM159.2 184.5h3.7v3.6h-3.7zM199.4 191.2h3.7v3.6h-3.7zM58.6 201.2h3.7v6.6h-3.7zM78.7 201.2h3.7v6.6h-3.7zM92.1 201.2h3.7v6.6h-3.7z"/>
<path fill="#65cb5e" d="M179.3 34.7h3.7v6.6h-3.7zM179.3 41.0h3.7v3.6h-3.7zM182.6 41.0h3.7v3.6h-3.7zM125.6 47.7h3.7v3.6h-3.7zM142.4 47.7h3.7v3.6h-3.7zM145.8 47.7h3.7v3.6h-3.7zM169.2 47.7h3.7v3.6h-3.7zM209.4 47.7h6.7v3.6h-6.7zM135.7 57.7h3.7v3.6h-3.7zM98.8 64.4h3.7v3.6h-3.7zM98.8 67.7h3.7v3.6h-3.7zM125.6 74.4h3.7v3.6h-3.7zM105.5 77.7h3.7v3.6h-3.7zM129.0 81.1h3.7v3.6h-3.7zM152.5 81.1h3.7v3.6h-3.7zM65.3 101.1h3.7v3.6h-3.7zM159.2 104.4h3.7v3.6h-3.7zM125.6 107.8h3.7v3.6h-3.7zM209.4 107.8h6.7v3.6h-6.7zM169.2 111.1h3.7v3.6h-3.7zM172.6 111.1h3.7v3.6h-3.7zM102.2 117.8h3.7v3.6h-3.7zM145.8 147.8h3.7v3.6h-3.7zM132.4 154.5h3.7v3.6h-3.7zM152.5 154.5h3.7v3.6h-3.7zM88.8 157.8h3.7v3.6h-3.7zM202.7 164.5h3.7v3.6h-3.7zM95.5 167.8h3.7v3.6h-3.7zM169.2 167.8h3.7v3.6h-3.7zM179.3 167.8h3.7v3.6h-3.7zM92.1 171.1h3.7v3.6h-3.7zM162.5 171.1h3.7v3.6h-3.7zM182.6 171.1h3.7v3.6h-3.7zM159.2 174.5h3.7v3.6h-3.7zM142.4 177.8h3.7v3.6h-3.7zM159.2 177.8h3.7v3.6h-3.7zM75.4 181.1h3.7v3.6h-3.7zM65.3 184.5h3.7v3.6h-3.7zM82.1 184.5h3.7v3.6h-3.7zM42.2 194.5h6.7v3.6h-6.7zM78.7 197.8h3.7v3.6h-3.7z"/>
<path fill="#4ac16d" d="M182.6 34.7h3.7v6.6h-3.7zM75.4 41.0h3.7v3.6h-3.7zM125.6 51.0h3.7v3.6h-3.7zM172.6 64.4h3.7v3.6h-3.7zM149.1 67.7h3.7v3.6h-3.7zM162.5 81.1h3.7v3.6h-3.7zM132.4 84.4h3.7v3.6h-3.7zM122.3 87.7h3.7v3.6h-3.7zM159.2 91.1h3.7v3.6h-3.7zM159.2 94.4h3.7v3.6h-3.7zM118.9 97.7h3.7v3.6h-3.7zM68.7 101.1h3.7v3.6h-3.7zM115.6 104.4h3.7v3.6h-3.7zM125.6 104.4h3.7v3.6h-3.7zM55.3 107.8h3.7v3.6h-3.7zM122.3 107.8h3.7v3.6h-3.7zM51.9 111.1h3.7v3.6h-3.7zM165.9 114.4h3.7v3.6h-3.7zM105.5 117.8h3.7v3.6h-3.7zM202.7 121.1h3.7v3.6h-3.7zM82.1 124.4h3.7v3.6h-3.7zM209.4 124.4h6.7v3.6h-6.7zM58.6 137.8h3.7v3.6h-3.7zM199.4 137.8h3.7v3.6h-3.7zM209.4 141.1h6.7v3.6h-6.7zM202.7 147.8h3.7v3.6h-3.7zM82.1 154.5h3.7v3.6h-3.7zM92.1 154.5h3.7v3.6h-3.7zM159.2 154.5h3.7v3.6h-3.7zM182.6 154.5h3.7v3.6h-3.7zM206.1 154.5h3.7v3.6h-3.7zM209.4 154.5h6.7v3.6h-6.7zM196.0 157.8h3.7v3.6h-3.7zM68.7 164.5h3.7v3.6h-3.7zM108.9 164.5h3.7v3.6h-3.7zM155.8 174.5h3.7v3.6h-3.7zM192.7 174.5h3.7v3.6h-3.7zM209.4 187.8h6.7v3.6h-6.7zM152.5 191.2h3.7v3.6h-3.7zM155.8 191.2h3.7v3.6h-3.7zM206.1 191.2h3.7v3.6h-3.7zM75.4 194.5h3.7v3.6h-3.7zM149.1 194.5h3.7v3.6h-3.7z"/>
<path fill="#24868e" d="M186.0 34.7h3.7v6.6h-3.7zM192.7 34.7h3.7v6.6h-3.7zM206.1 34.7h3.7v6.6h-3.7zM65.3 41.0h3.7v3.6h-3.7zM105.5 41.0h3.7v3.6h-3.7zM118.9 41.0h3.7v3.6h-3.7zM189.3 41.0h3.7v3.6h-3.7zM98.8 44.4h3.7v3.6h-3.7zM78.7 47.7h3.7v3.6h-3.7zM95.5 47.7h3.7v3.6h-3.7zM159.2 47.7h3.7v3.6h-3.7zM75.4 51.0h3.7v3.6h-3.7zM189.3 51.0h3.7v3.6h-3.7zM199.4 51.0h3.7v3.6h-3.7zM51.9 54.4h3.7v3.6h-3.7zM85.4 54.4h3.7v3.6h-3.7zM75.4 57.7h3.7v3.6h-3.7zM48.6 61.1h3.7v3.6h-3.7zM62.0 61.1h3.7v3.6h-3.7zM202.7 61.1h3.7v3.6h-3.7zM122.3 64.4h3.7v3.6h-3.7zM145.8 64.4h3.7v3.6h-3.7zM149.1 64.4h3.7v3.6h-3.7zM199.4 64.4h3.7v3.6h-3.7zM82.1 71.1h3.7v3.6h-3.7zM145.8 71.1h3.7v3.6h-3.7zM209.4 71.1h6.7v3.6h-6.7zM118.9 74.4h3.7v3.6h-3.7zM162.5 74.4h3.7v3.6h-3.7zM199.4 74.4h3.7v3.6h-3.7zM72.0 77.7h3.7v3.6h-3.7zM98.8 77.7h3.7v3.6h-3.7zM102.2 77.7h3.7v3.6h-3.7zM192.7 77.7h3.7v3.6h-3.7zM55.3 81.1h3.7v3.6h-3.7zM62.0 84.4h3.7v3.6h-3.7zM72.0 84.4h3.7v3.6h-3.7zM169.2 84.4h3.7v3.6h-3.7zM172.6 84.4h3.7v3.6h-3.7zM118.9 87.7h3.7v3.6h-3.7zM135.7 87.7h3.7v3.6h-3.7zM196.0 87.7h3.7v3.6h-3.7zM199.4 91.1h3.7v3.6h-3.7zM82.1 94.4h3.7v3.6h-3.7zM85.4 94.4h3.7v3.6h-3.7zM172.6 97.7h3.7v3.6h-3.7zM206.1 97.7h3.7v3.6h-3.7zM145.8 101.1h3.7v3.6h-3.7zM169.2 101.1h3.7v3.6h-3.7zM179.3 101.1h3.7v3.6h-3.7zM182.6 101.1h3.7v3.6h-3.7zM152.5 104.4h3.7v3.6h-3.7zM142.4 107.8h3.7v3.6h-3.7zM68.7 111.1h3.7v3.6h-3.7zM105.5 111.1h3.7v3.6h-3.7zM122.3 114.4h3.7v3.6h-3.7zM199.4 114.4h3.7v3.6h-3.7zM182.6 117.8h3.7v3.6h-3.7zM75.4 121.1h3.7v3.6h-3.7zM112.2 124.4h3.7v3.6h-3.7zM129.0 124.4h3.7v3.6h-3.7zM155.8 127.8h3.7v3.6h-3.7zM196.0 127.8h3.7v3.6h-3.7zM192.7 131.1h3.7v3.6h-3.7zM202.7 131.1h3.7v3.6h-3.7zM78.7 134.4h3.7v3.6h-3.7zM98.8 134.4h3.7v3.6h-3.7zM102.2 137.8h3.7v3.6h-3.7zM105.5 137.8h3.7v3.6h-3.7zM202.7 137.8h3.7v3.6h-3.7zM95.5 141.1h3.7v3.6h-3.7zM98.8 141.1h3.7v3.6h-3.7zM108.9 141.1h3.7v3.6h-3.7zM145.8 141.1h3.7v3.6h-3.7zM202.7 141.1h3.7v3.6h-3.7zM48.6 144.5h3.7v3.6h-3.7zM98.8 144.5h3.7v3.6h-3.7zM112.2 144.5h3.7v3.6h-3.7zM165.9 144.5h3.7v3.6h-3.7zM159.2 147.8h3.7v3.6h-3.7zM88.8 151.1h3.7v3.6h-3.7zM159.2 151.1h3.7v3.6h-3.7zM186.0 151.1h3.7v3.6h-3.7zM189.3 151.1h3.7v3.6h-3.7zM145.8 154.5h3.7v3.6h-3.7zM105.5 157.8h3.7v3.6h-3.7zM122.3 161.1h3.7v3.6h-3.7zM129.0 164.5h3.7v3.6h-3.7zM51.9 167.8h3.7v3.6h-3.7zM58.6 167.8h3.7v3.6h-3.7zM48.6 171.1h3.7v3.6h-3.7zM125.6 171.1h3.7v3.6h-3.7zM132.4 174.5h3.7v3.6h-3.7zM125.6 181.1h3.7v3.6h-3.7zM95.5 191.2h3.7v3.6h-3.7zM108.9 194.5h3.7v3.6h-3.7zM209.4 194.5h6.7v3.6h-6.7zM95.5 201.2h3.7v6.6h-3.7zM115.6 201.2h3.7v6.6h-3.7zM206.1 201.2h3.7v6.6h-3.7z"/>
<path fill="#443b84" d="M199.4 34.7h3.7v6.6h-3.7zM149.1 57.7h3.7v3.6h-3.7zM112.2 87.7h3.7v3.6h-3.7zM165.9 131.1h3.7v3.6h-3.7zM169.2 131.1h3.7v3.6h-3.7zM182.6 141.1h3.7v3.6h-3.7zM72.0 147.8h3.7v3.6h-3.7zM51.9 174.5h3.7v3.6h-3.7zM55.3 174.5h3.7v3.6h-3.7zM135.7 184.5h3.7v3.6h-3.7zM139.1 184.5h3.7v3.6h-3.7zM102.2 187.8h3.7v3.6h-3.7zM132.4 191.2h3.7v3.6h-3.7z"/>
<path fill="#297b8e" d="M72.0 41.0h3.7v3.6h-3.7zM88.8 41.0h3.7v3.6h-3.7zM102.2 41.0h3.7v3.6h-3.7zM112.2 41.0h3.7v3.6h-3.7zM152.5 47.7h3.7v3.6h-3.7zM162.5 47.7h3.7v3.6h-3.7zM75.4 54.4h3.7v3.6h-3.7zM182.6 57.7h3.7v3.6h-3.7zM85.4 61.1h3.7v3.6h-3.7zM95.5 61.1h3.7v3.6h-3.7zM165.9 61.1h3.7v3.6h-3.7zM169.2 61.1h3.7v3.6h-3.7zM192.7 61.1h3.7v3.6h-3.7zM209.4 61.1h6.7v3.6h-6.7zM186.0 64.4h3.7v3.6h-3.7zM135.7 67.7h3.7v3.6h-3.7zM162.5 71.1h3.7v3.6h-3.7zM169.2 71.1h3.7v3.6h-3.7zM42.2 74.4h6.7v3.6h-6.7zM72.0 74.4h3.7v3.6h-3.7zM135.7 77.7h3.7v3.6h-3.7zM186.0 81.1h3.7v3.6h-3.7zM202.7 81.1h3.7v3.6h-3.7zM58.6 87.7h3.7v3.6h-3.7zM192.7 87.7h3.7v3.6h-3.7zM51.9 91.1h3.7v3.6h-3.7zM58.6 91.1h3.7v3.6h-3.7zM88.8 91.1h3.7v3.6h-3.7zM102.2 91.1h3.7v3.6h-3.7zM108.9 91.1h3.7v3.6h-3.7zM42.2 94.4h6.7v3.6h-6.7zM175.9 94.4h3.7v3.6h-3.7zM139.1 97.7h3.7v3.6h-3.7zM58.6 101.1h3.7v3.6h-3.7zM202.7 101.1h3.7v3.6h-3.7zM51.9 104.4h3.7v3.6h-3.7zM72.0 104.4h3.7v3.6h-3.7zM75.4 107.8h3.7v3.6h-3.7zM189.3 107.8h3.7v3.6h-3.7zM112.2 114.4h3.7v3.6h-3.7zM125.6 114.4h3.7v3.6h-3.7zM189.3 114.4h3.7v3.6h-3.7zM51.9 121.1h3.7v3.6h-3.7zM182.6 121.1h3.7v3.6h-3.7zM199.4 121.1h3.7v3.6h-3.7zM95.5 127.8h3.7v3.6h-3.7zM182.6 127.8h3.7v3.6h-3.7zM102.2 131.1h3.7v3.6h-3.7zM152.5 131.1h3.7v3.6h-3.7zM95.5 134.4h3.7v3.6h-3.7zM102.2 134.4h3.7v3.6h-3.7zM122.3 134.4h3.7v3.6h-3.7zM149.1 134.4h3.7v3.6h-3.7zM175.9 134.4h3.7v3.6h-3.7zM129.0 137.8h3.7v3.6h-3.7zM122.3 144.5h3.7v3.6h-3.7zM55.3 147.8h3.7v3.6h-3.7zM118.9 147.8h3.7v3.6h-3.7zM51.9 151.1h3.7v3.6h-3.7zM55.3 151.1h3.7v3.6h-3.7zM62.0 151.1h3.7v3.6h-3.7zM129.0 151.1h3.7v3.6h-3.7zM48.6 177.8h3.7v3.6h-3.7zM122.3 177.8h3.7v3.6h-3.7zM48.6 181.1h3.7v3.6h-3.7zM85.4 181.1h3.7v3.6h-3.7zM112.2 181.1h3.7v3.6h-3.7zM115.6 181.1h3.7v3.6h-3.7zM186.0 187.8h3.7v3.6h-3.7zM172.6 191.2h3.7v3.6h-3.7zM95.5 194.5h3.7v3.6h-3.7zM145.8 194.5h3.7v3.6h-3.7zM125.6 197.8h3.7v3.6h-3.7zM132.4 197.8h3.7v3.6h-3.7zM62.0 201.2h3.7v6.6h-3.7zM105.5 201.2h3.7v6.6h-3.7z"/>
<path fill="#5ac864" d="M78.7 41.0h3.7v3.6h-3.7zM206.1 47.7h3.7v3.6h-3.7zM129.0 51.0h3.7v3.6h-3.7zM202.7 51.0h3.7v3.6h-3.7zM132.4 57.7h3.7v3.6h-3.7zM88.8 61.1h3.7v3.6h-3.7zM112.2 71.1h3.7v3.6h-3.7zM152.5 71.1h3.7v3.6h-3.7zM115.6 74.4h3.7v3.6h-3.7zM159.2 81.1h3.7v3.6h-3.7zM122.3 91.1h3.7v3.6h-3.7zM78.7 101.1h3.7v3.6h-3.7zM108.9 101.1h3.7v3.6h-3.7zM122.3 101.1h3.7v3.6h-3.7zM135.7 104.4h3.7v3.6h-3.7zM165.9 111.1h3.7v3.6h-3.7zM105.5 121.1h3.7v3.6h-3.7zM122.3 124.4h3.7v3.6h-3.7zM209.4 127.8h6.7v3.6h-6.7zM196.0 137.8h3.7v3.6h-3.7zM142.4 151.1h3.7v3.6h-3.7zM78.7 154.5h3.7v3.6h-3.7zM192.7 154.5h3.7v3.6h-3.7zM139.1 157.8h3.7v3.6h-3.7zM152.5 157.8h3.7v3.6h-3.7zM199.4 157.8h3.7v3.6h-3.7zM85.4 164.5h3.7v3.6h-3.7zM175.9 167.8h3.7v3.6h-3.7zM98.8 171.1h3.7v3.6h-3.7zM155.8 171.1h3.7v3.6h-3.7zM165.9 174.5h3.7v3.6h-3.7zM179.3 174.5h3.7v3.6h-3.7zM145.8 177.8h3.7v3.6h-3.7zM72.0 181.1h3.7v3.6h-3.7zM75.4 184.5h3.7v3.6h-3.7z"/>
<path fill="#3bbb75" d="M82.1 41.0h3.7v3.6h-3.7zM75.4 44.4h3.7v3.6h-3.7zM85.4 44.4h3.7v3.6h-3.7zM68.7 54.4h3.7v3.6h-3.7zM72.0 61.1h3.7v3.6h-3.7zM88.8 77.7h3.7v3.6h-3.7zM115.6 77.7h3.7v3.6h-3.7zM78.7 81.1h3.7v3.6h-3.7zM118.9 81.1h3.7v3.6h-3.7zM122.3 84.4h3.7v3.6h-3.7zM165.9 84.4h3.7v3.6h-3.7zM88.8 87.7h3.7v3.6h-3.7zM162.5 91.1h3.7v3.6h-3.7zM125.6 94.4h3.7v3.6h-3.7zM162.5 94.4h3.7v3.6h-3.7zM115.6 107.8h3.7v3.6h-3.7zM102.2 111.1h3.7v3.6h-3.7zM142.4 111.1h3.7v3.6h-3.7zM145.8 111.1h3.7v3.6h-3.7zM135.7 114.4h3.7v3.6h-3.7zM162.5 114.4h3.7v3.6h-3.7zM72.0 117.8h3.7v3.6h-3.7zM85.4 117.8h3.7v3.6h-3.7zM189.3 121.1h3.7v3.6h-3.7zM102.2 124.4h3.7v3.6h-3.7zM58.6 127.8h3.7v3.6h-3.7zM142.4 127.8h3.7v3.6h-3.7zM145.8 127.8h3.7v3.6h-3.7zM62.0 141.1h3.7v3.6h-3.7zM172.6 144.5h3.7v3.6h-3.7zM105.5 147.8h3.7v3.6h-3.7zM108.9 151.1h3.7v3.6h-3.7zM155.8 154.5h3.7v3.6h-3.7zM162.5 154.5h3.7v3.6h-3.7zM132.4 157.8h3.7v3.6h-3.7zM155.8 157.8h3.7v3.6h-3.7zM172.6 157.8h3.7v3.6h-3.7zM112.2 161.1h3.7v3.6h-3.7zM139.1 161.1h3.7v3.6h-3.7zM202.7 161.1h3.7v3.6h-3.7zM65.3 164.5h3.7v3.6h-3.7zM172.6 164.5h3.7v3.6h-3.7zM199.4 164.5h3.7v3.6h-3.7zM62.0 167.8h3.7v3.6h-3.7zM85.4 167.8h3.7v3.6h-3.7zM149.1 167.8h3.7v3.6h-3.7zM165.9 167.8h3.7v3.6h-3.7zM209.4 167.8h6.7v3.6h-6.7zM42.2 174.5h6.7v3.6h-6.7zM75.4 177.8h3.7v3.6h-3.7zM169.2 177.8h3.7v3.6h-3.7zM192.7 177.8h3.7v3.6h-3.7zM169.2 181.1h3.7v3.6h-3.7zM202.7 181.1h3.7v3.6h-3.7zM92.1 184.5h3.7v3.6h-3.7zM196.0 184.5h3.7v3.6h-3.7zM209.4 184.5h6.7v3.6h-6.7zM55.3 187.8h3.7v3.6h-3.7zM202.7 191.2h3.7v3.6h-3.7zM72.0 197.8h3.7v3.6h-3.7zM85.4 197.8h3.7v3.6h-3.7z"/>
<path fill="#23a983" d="M85.4 41.0h3.7v3.6h-3.7zM125.6 41.0h3.7v3.6h-3.7zM139.1 44.4h3.7v3.6h-3.7zM139.1 47.7h3.7v3.6h-3.7zM172.6 47.7h3.7v3.6h-3.7zM202.7 47.7h3.7v3.6h-3.7zM42.2 54.4h6.7v3.6h-6.7zM182.6 54.4h3.7v3.6h-3.7zM199.4 54.4h3.7v3.6h-3.7zM165.9 57.7h3.7v3.6h-3.7zM139.1 64.4h3.7v3.6h-3.7zM142.4 64.4h3.7v3.6h-3.7zM186.0 67.7h3.7v3.6h-3.7zM55.3 71.1h3.7v3.6h-3.7zM58.6 71.1h3.7v3.6h-3.7zM85.4 71.1h3.7v3.6h-3.7zM155.8 71.1h3.7v3.6h-3.7zM132.4 77.7h3.7v3.6h-3.7zM152.5 77.7h3.7v3.6h-3.7zM135.7 81.1h3.7v3.6h-3.7zM65.3 84.4h3.7v3.6h-3.7zM155.8 84.4h3.7v3.6h-3.7zM129.0 87.7h3.7v3.6h-3.7zM132.4 87.7h3.7v3.6h-3.7zM62.0 91.1h3.7v3.6h-3.7zM129.0 91.1h3.7v3.6h-3.7zM149.1 91.1h3.7v3.6h-3.7zM112.2 94.4h3.7v3.6h-3.7zM68.7 97.7h3.7v3.6h-3.7zM209.4 97.7h6.7v3.6h-6.7zM85.4 101.1h3.7v3.6h-3.7zM105.5 101.1h3.7v3.6h-3.7zM129.0 101.1h3.7v3.6h-3.7zM75.4 104.4h3.7v3.6h-3.7zM129.0 104.4h3.7v3.6h-3.7zM155.8 104.4h3.7v3.6h-3.7zM202.7 104.4h3.7v3.6h-3.7zM88.8 107.8h3.7v3.6h-3.7zM169.2 107.8h3.7v3.6h-3.7zM149.1 111.1h3.7v3.6h-3.7zM48.6 114.4h3.7v3.6h-3.7zM65.3 114.4h3.7v3.6h-3.7zM206.1 114.4h3.7v3.6h-3.7zM209.4 114.4h6.7v3.6h-6.7zM108.9 117.8h3.7v3.6h-3.7zM145.8 117.8h3.7v3.6h-3.7zM196.0 117.8h3.7v3.6h-3.7zM112.2 121.1h3.7v3.6h-3.7zM105.5 127.8h3.7v3.6h-3.7zM139.1 131.1h3.7v3.6h-3.7zM82.1 134.4h3.7v3.6h-3.7zM196.0 134.4h3.7v3.6h-3.7zM88.8 137.8h3.7v3.6h-3.7zM202.7 144.5h3.7v3.6h-3.7zM206.1 144.5h3.7v3.6h-3.7zM88.8 147.8h3.7v3.6h-3.7zM206.1 147.8h3.7v3.6h-3.7zM149.1 151.1h3.7v3.6h-3.7zM192.7 151.1h3.7v3.6h-3.7zM108.9 154.5h3.7v3.6h-3.7zM95.5 157.8h3.7v3.6h-3.7zM108.9 157.8h3.7v3.6h-3.7zM129.0 157.8h3.7v3.6h-3.7zM108.9 161.1h3.7v3.6h-3.7zM196.0 161.1h3.7v3.6h-3.7zM149.1 164.5h3.7v3.6h-3.7zM155.8 164.5h3.7v3.6h-3.7zM162.5 164.5h3.7v3.6h-3.7zM206.1 164.5h3.7v3.6h-3.7zM78.7 167.8h3.7v3.6h-3.7zM206.1 167.8h3.7v3.6h-3.7zM149.1 171.1h3.7v3.6h-3.7zM169.2 171.1h3.7v3.6h-3.7zM206.1 171.1h3.7v3.6h-3.7zM209.4 171.1h6.7v3.6h-6.7zM102.2 174.5h3.7v3.6h-3.7zM206.1 174.5h3.7v3.6h-3.7zM159.2 181.1h3.7v3.6h-3.7zM196.0 181.1h3.7v3.6h-3.7zM199.4 181.1h3.7v3.6h-3.7zM209.4 181.1h6.7v3.6h-6.7zM169.2 187.8h3.7v3.6h-3.7zM179.3 194.5h3.7v3.6h-3.7zM118.9 201.2h3.7v6.6h-3.7zM139.1 201.2h3.7v6.6h-3.7zM192.7 201.2h3.7v6.6h-3.7z"/>
<path fill="#35b779" d="M95.5 41.0h3.7v3.6h-3.7zM68.7 44.4h3.7v3.6h-3.7zM186.0 47.7h3.7v3.6h-3.7zM132.4 51.0h3.7v3.6h-3.7zM142.4 54.4h3.7v3.6h-3.7zM72.0 57.7h3.7v3.6h-3.7zM102.2 61.1h3.7v3.6h-3.7zM102.2 64.4h3.7v3.6h-3.7zM155.8 67.7h3.7v3.6h-3.7zM88.8 71.1h3.7v3.6h-3.7zM149.1 71.1h3.7v3.6h-3.7zM159.2 71.1h3.7v3.6h-3.7zM125.6 77.7h3.7v3.6h-3.7zM82.1 81.1h3.7v3.6h-3.7zM125.6 81.1h3.7v3.6h-3.7zM152.5 87.7h3.7v3.6h-3.7zM108.9 94.4h3.7v3.6h-3.7zM152.5 94.4h3.7v3.6h-3.7zM88.8 101.1h3.7v3.6h-3.7zM118.9 101.1h3.7v3.6h-3.7zM139.1 104.4h3.7v3.6h-3.7zM162.5 104.4h3.7v3.6h-3.7zM58.6 111.1h3.7v3.6h-3.7zM42.2 114.4h6.7v3.6h-6.7zM172.6 114.4h3.7v3.6h-3.7zM202.7 117.8h3.7v3.6h-3.7zM78.7 121.1h3.7v3.6h-3.7zM98.8 121.1h3.7v3.6h-3.7zM139.1 121.1h3.7v3.6h-3.7zM189.3 124.4h3.7v3.6h-3.7zM92.1 131.1h3.7v3.6h-3.7zM51.9 134.4h3.7v3.6h-3.7zM209.4 137.8h6.7v3.6h-6.7zM199.4 147.8h3.7v3.6h-3.7zM105.5 151.1h3.7v3.6h-3.7zM172.6 154.5h3.7v3.6h-3.7zM199.4 154.5h3.7v3.6h-3.7zM202.7 154.5h3.7v3.6h-3.7zM78.7 157.8h3.7v3.6h-3.7zM82.1 157.8h3.7v3.6h-3.7zM169.2 157.8h3.7v3.6h-3.7zM175.9 157.8h3.7v3.6h-3.7zM202.7 157.8h3.7v3.6h-3.7zM159.2 161.1h3.7v3.6h-3.7zM169.2 161.1h3.7v3.6h-3.7zM199.4 161.1h3.7v3.6h-3.7zM139.1 164.5h3.7v3.6h-3.7zM145.8 164.5h3.7v3.6h-3.7zM165.9 164.5h3.7v3.6h-3.7zM209.4 164.5h6.7v3.6h-6.7zM92.1 167.8h3.7v3.6h-3.7zM142.4 171.1h3.7v3.6h-3.7zM159.2 171.1h3.7v3.6h-3.7zM202.7 174.5h3.7v3.6h-3.7zM152.5 181.1h3.7v3.6h-3.7zM165.9 181.1h3.7v3.6h-3.7zM162.5 184.5h3.7v3.6h-3.7zM192.7 184.5h3.7v3.6h-3.7zM95.5 187.8h3.7v3.6h-3.7zM65.3 191.2h3.7v3.6h-3.7zM82.1 191.2h3.7v3.6h-3.7zM149.1 191.2h3.7v3.6h-3.7zM162.5 197.8h3.7v3.6h-3.7zM122.3 201.2h3.7v6.6h-3.7zM165.9 201.2h3.7v6.6h-3.7z"/>
<path fill="#81d34d" d="M132.4 41.0h3.7v3.6h-3.7zM129.0 57.7h3.7v3.6h-3.7zM152.5 67.7h3.7v3.6h-3.7zM108.9 71.1h3.7v3.6h-3.7zM145.8 81.1h3.7v3.6h-3.7zM122.3 94.4h3.7v3.6h-3.7zM209.4 101.1h6.7v3.6h-6.7zM122.3 104.4h3.7v3.6h-3.7zM82.1 131.1h3.7v3.6h-3.7zM62.0 134.4h3.7v3.6h-3.7zM165.9 141.1h3.7v3.6h-3.7zM182.6 157.8h3.7v3.6h-3.7zM179.3 164.5h3.7v3.6h-3.7zM65.3 167.8h3.7v3.6h-3.7zM172.6 167.8h3.7v3.6h-3.7zM202.7 167.8h3.7v3.6h-3.7zM175.9 171.1h3.7v3.6h-3.7zM189.3 171.1h3.7v3.6h-3.7zM196.0 171.1h3.7v3.6h-3.7zM68.7 184.5h3.7v3.6h-3.7zM88.8 187.8h3.7v3.6h-3.7zM92.1 187.8h3.7v3.6h-3.7z"/>
<path fill="#a0da39" d="M135.7 41.0h3.7v3.6h-3.7zM135.7 54.4h3.7v3.6h-3.7zM95.5 71.1h3.7v3.6h-3.7zM139.1 81.1h3.7v3.6h-3.7zM152.5 91.1h3.7v3.6h-3.7zM155.8 91.1h3.7v3.6h-3.7zM105.5 94.4h3.7v3.6h-3.7zM115.6 94.4h3.7v3.6h-3.7zM139.1 114.4h3.7v3.6h-3.7zM98.8 117.8h3.7v3.6h-3.7zM102.2 121.1h3.7v3.6h-3.7zM82.1 127.8h3.7v3.6h-3.7zM172.6 147.8h3.7v3.6h-3.7zM186.0 157.8h3.7v3.6h-3.7zM186.0 161.1h3.7v3.6h-3.7zM108.9 167.8h3.7v3.6h-3.7zM48.6 194.5h3.7v3.6h-3.7zM75.4 201.2h3.7v6.6h-3.7z"/>
<path fill="#1f9e89" d="M139.1 41.0h3.7v3.6h-3.7zM206.1 41.0h3.7v3.6h-3.7zM72.0 44.4h3.7v3.6h-3.7zM145.8 44.4h3.7v3.6h-3.7zM192.7 47.7h3.7v3.6h-3.7zM78.7 51.0h3.7v3.6h-3.7zM55.3 54.4h3.7v3.6h-3.7zM78.7 54.4h3.7v3.6h-3.7zM186.0 54.4h3.7v3.6h-3.7zM129.0 61.1h3.7v3.6h-3.7zM169.2 64.4h3.7v3.6h-3.7zM42.2 77.7h6.7v3.6h-6.7zM48.6 77.7h3.7v3.6h-3.7zM75.4 81.1h3.7v3.6h-3.7zM102.2 81.1h3.7v3.6h-3.7zM112.2 81.1h3.7v3.6h-3.7zM82.1 84.4h3.7v3.6h-3.7zM92.1 84.4h3.7v3.6h-3.7zM152.5 84.4h3.7v3.6h-3.7zM65.3 87.7h3.7v3.6h-3.7zM98.8 94.4h3.7v3.6h-3.7zM132.4 101.1h3.7v3.6h-3.7zM139.1 101.1h3.7v3.6h-3.7zM78.7 104.4h3.7v3.6h-3.7zM85.4 107.8h3.7v3.6h-3.7zM62.0 111.1h3.7v3.6h-3.7zM82.1 111.1h3.7v3.6h-3.7zM92.1 111.1h3.7v3.6h-3.7zM98.8 111.1h3.7v3.6h-3.7zM209.4 111.1h6.7v3.6h-6.7zM55.3 114.4h3.7v3.6h-3.7zM68.7 114.4h3.7v3.6h-3.7zM78.7 114.4h3.7v3.6h-3.7zM82.1 114.4h3.7v3.6h-3.7zM115.6 114.4h3.7v3.6h-3.7zM145.8 114.4h3.7v3.6h-3.7zM55.3 117.8h3.7v3.6h-3.7zM112.2 117.8h3.7v3.6h-3.7zM175.9 117.8h3.7v3.6h-3.7zM48.6 121.1h3.7v3.6h-3.7zM172.6 121.1h3.7v3.6h-3.7zM196.0 121.1h3.7v3.6h-3.7zM92.1 124.4h3.7v3.6h-3.7zM125.6 124.4h3.7v3.6h-3.7zM135.7 127.8h3.7v3.6h-3.7zM62.0 131.1h3.7v3.6h-3.7zM75.4 134.4h3.7v3.6h-3.7zM85.4 134.4h3.7v3.6h-3.7zM129.0 134.4h3.7v3.6h-3.7zM55.3 137.8h3.7v3.6h-3.7zM68.7 141.1h3.7v3.6h-3.7zM68.7 144.5h3.7v3.6h-3.7zM85.4 144.5h3.7v3.6h-3.7zM102.2 144.5h3.7v3.6h-3.7zM92.1 147.8h3.7v3.6h-3.7zM209.4 147.8h6.7v3.6h-6.7zM92.1 151.1h3.7v3.6h-3.7zM155.8 151.1h3.7v3.6h-3.7zM42.2 154.5h6.7v3.6h-6.7zM105.5 154.5h3.7v3.6h-3.7zM165.9 154.5h3.7v3.6h-3.7zM169.2 154.5h3.7v3.6h-3.7zM65.3 157.8h3.7v3.6h-3.7zM102.2 157.8h3.7v3.6h-3.7zM115.6 157.8h3.7v3.6h-3.7zM206.1 157.8h3.7v3.6h-3.7zM209.4 157.8h6.7v3.6h-6.7zM132.4 161.1h3.7v3.6h-3.7zM179.3 161.1h3.7v3.6h-3.7zM62.0 164.5h3.7v3.6h-3.7zM42.2 171.1h6.7v3.6h-6.7zM145.8 171.1h3.7v3.6h-3.7zM152.5 177.8h3.7v3.6h-3.7zM88.8 181.1h3.7v3.6h-3.7zM172.6 184.5h3.7v3.6h-3.7zM75.4 187.8h3.7v3.6h-3.7zM155.8 187.8h3.7v3.6h-3.7zM189.3 187.8h3.7v3.6h-3.7zM192.7 187.8h3.7v3.6h-3.7zM196.0 187.8h3.7v3.6h-3.7zM199.4 187.8h3.7v3.6h-3.7zM42.2 191.2h6.7v3.6h-6.7zM55.3 191.2h3.7v3.6h-3.7zM88.8 191.2h3.7v3.6h-3.7zM82.1 194.5h3.7v3.6h-3.7zM202.7 194.5h3.7v3.6h-3.7z"/>
<path fill="#32648e" d="M159.2 41.0h3.7v3.6h-3.7zM118.9 51.0h3.7v3.6h-3.7zM102.2 54.4h3.7v3.6h-3.7zM112.2 54.4h3.7v3.6h-3.7zM152.5 54.4h3.7v3.6h-3.7zM172.6 54.4h3.7v3.6h-3.7zM189.3 54.4h3.7v3.6h-3.7zM55.3 57.7h3.7v3.6h-3.7zM78.7 61.1h3.7v3.6h-3.7zM112.2 61.1h3.7v3.6h-3.7zM149.1 61.1h3.7v3.6h-3.7zM206.1 61.1h3.7v3.6h-3.7zM82.1 64.4h3.7v3.6h-3.7zM202.7 67.7h3.7v3.6h-3.7zM62.0 71.1h3.7v3.6h-3.7zM58.6 77.7h3.7v3.6h-3.7zM182.6 84.4h3.7v3.6h-3.7zM186.0 84.4h3.7v3.6h-3.7zM102.2 87.7h3.7v3.6h-3.7zM172.6 87.7h3.7v3.6h-3.7zM196.0 91.1h3.7v3.6h-3.7zM95.5 101.1h3.7v3.6h-3.7zM42.2 107.8h6.7v3.6h-6.7zM108.9 111.1h3.7v3.6h-3.7zM182.6 111.1h3.7v3.6h-3.7zM152.5 117.8h3.7v3.6h-3.7zM155.8 121.1h3.7v3.6h-3.7zM95.5 131.1h3.7v3.6h-3.7zM142.4 134.4h3.7v3.6h-3.7zM165.9 134.4h3.7v3.6h-3.7zM122.3 137.8h3.7v3.6h-3.7zM152.5 144.5h3.7v3.6h-3.7zM179.3 144.5h3.7v3.6h-3.7zM62.0 147.8h3.7v3.6h-3.7zM186.0 147.8h3.7v3.6h-3.7zM122.3 154.5h3.7v3.6h-3.7zM62.0 161.1h3.7v3.6h-3.7zM42.2 164.5h6.7v3.6h-6.7zM82.1 171.1h3.7v3.6h-3.7zM122.3 174.5h3.7v3.6h-3.7zM115.6 177.8h3.7v3.6h-3.7zM118.9 177.8h3.7v3.6h-3.7zM112.2 184.5h3.7v3.6h-3.7zM182.6 187.8h3.7v3.6h-3.7zM102.2 194.5h3.7v3.6h-3.7zM199.4 197.8h3.7v3.6h-3.7zM179.3 201.2h3.7v6.6h-3.7zM209.4 201.2h6.7v6.6h-6.7z"/>
<path fill="#2fb47c" d="M172.6 41.0h3.7v3.6h-3.7zM82.1 44.4h3.7v3.6h-3.7zM125.6 44.4h3.7v3.6h-3.7zM179.3 44.4h3.7v3.6h-3.7zM122.3 47.7h3.7v3.6h-3.7zM135.7 47.7h3.7v3.6h-3.7zM122.3 51.0h3.7v3.6h-3.7zM125.6 54.4h3.7v3.6h-3.7zM202.7 54.4h3.7v3.6h-3.7zM85.4 57.7h3.7v3.6h-3.7zM139.1 61.1h3.7v3.6h-3.7zM72.0 64.4h3.7v3.6h-3.7zM88.8 67.7h3.7v3.6h-3.7zM108.9 67.7h3.7v3.6h-3.7zM115.6 71.1h3.7v3.6h-3.7zM155.8 74.4h3.7v3.6h-3.7zM159.2 74.4h3.7v3.6h-3.7zM149.1 77.7h3.7v3.6h-3.7zM105.5 81.1h3.7v3.6h-3.7zM132.4 81.1h3.7v3.6h-3.7zM92.1 87.7h3.7v3.6h-3.7zM102.2 94.4h3.7v3.6h-3.7zM65.3 97.7h3.7v3.6h-3.7zM125.6 97.7h3.7v3.6h-3.7zM132.4 104.4h3.7v3.6h-3.7zM102.2 107.8h3.7v3.6h-3.7zM55.3 111.1h3.7v3.6h-3.7zM72.0 114.4h3.7v3.6h-3.7zM118.9 114.4h3.7v3.6h-3.7zM179.3 114.4h3.7v3.6h-3.7zM48.6 117.8h3.7v3.6h-3.7zM165.9 117.8h3.7v3.6h-3.7zM85.4 124.4h3.7v3.6h-3.7zM118.9 127.8h3.7v3.6h-3.7zM122.3 127.8h3.7v3.6h-3.7zM206.1 131.1h3.7v3.6h-3.7zM65.3 134.4h3.7v3.6h-3.7zM62.0 154.5h3.7v3.6h-3.7zM149.1 154.5h3.7v3.6h-3.7zM68.7 157.8h3.7v3.6h-3.7zM179.3 157.8h3.7v3.6h-3.7zM78.7 161.1h3.7v3.6h-3.7zM165.9 161.1h3.7v3.6h-3.7zM135.7 164.5h3.7v3.6h-3.7zM142.4 164.5h3.7v3.6h-3.7zM145.8 167.8h3.7v3.6h-3.7zM162.5 167.8h3.7v3.6h-3.7zM102.2 171.1h3.7v3.6h-3.7zM108.9 171.1h3.7v3.6h-3.7zM172.6 171.1h3.7v3.6h-3.7zM142.4 174.5h3.7v3.6h-3.7zM186.0 174.5h3.7v3.6h-3.7zM155.8 177.8h3.7v3.6h-3.7zM202.7 177.8h3.7v3.6h-3.7zM169.2 184.5h3.7v3.6h-3.7zM65.3 187.8h3.7v3.6h-3.7zM162.5 187.8h3.7v3.6h-3.7zM159.2 191.2h3.7v3.6h-3.7zM58.6 197.8h3.7v3.6h-3.7zM165.9 197.8h3.7v3.6h-3.7zM155.8 201.2h3.7v6.6h-3.7zM162.5 201.2h3.7v6.6h-3.7z"/>
<path fill="#3a538b" d="M199.4 41.0h3.7v3.6h-3.7zM102.2 44.4h3.7v3.6h-3.7zM118.9 57.7h3.7v3.6h-3.7zM65.3 61.1h3.7v3.6h-3.7zM108.9 61.1h3.7v3.6h-3.7zM58.6 64.4h3.7v3.6h-3.7zM139.1 71.1h3.7v3.6h-3.7zM55.3 77.7h3.7v3.6h-3.7zM82.1 77.7h3.7v3.6h-3.7zM189.3 81.1h3.7v3.6h-3.7zM115.6 84.4h3.7v3.6h-3.7zM108.9 87.7h3.7v3.6h-3.7zM209.4 87.7h6.7v3.6h-6.7zM55.3 91.1h3.7v3.6h-3.7zM186.0 94.4h3.7v3.6h-3.7zM196.0 101.1h3.7v3.6h-3.7zM65.3 107.8h3.7v3.6h-3.7zM169.2 127.8h3.7v3.6h-3.7zM162.5 134.4h3.7v3.6h-3.7zM149.1 137.8h3.7v3.6h-3.7zM179.3 137.8h3.7v3.6h-3.7zM125.6 154.5h3.7v3.6h-3.7zM48.6 161.1h3.7v3.6h-3.7zM58.6 161.1h3.7v3.6h-3.7zM48.6 164.5h3.7v3.6h-3.7zM115.6 171.1h3.7v3.6h-3.7zM108.9 177.8h3.7v3.6h-3.7zM132.4 177.8h3.7v3.6h-3.7zM135.7 181.1h3.7v3.6h-3.7zM102.2 184.5h3.7v3.6h-3.7zM108.9 184.5h3.7v3.6h-3.7zM118.9 194.5h3.7v3.6h-3.7zM125.6 194.5h3.7v3.6h-3.7z"/>
<path fill="#2ab07f" d="M78.7 44.4h3.7v3.6h-3.7zM169.2 44.4h3.7v3.6h-3.7zM149.1 47.7h3.7v3.6h-3.7zM135.7 51.0h3.7v3.6h-3.7zM142.4 51.0h3.7v3.6h-3.7zM165.9 54.4h3.7v3.6h-3.7zM92.1 67.7h3.7v3.6h-3.7zM175.9 67.7h3.7v3.6h-3.7zM179.3 67.7h3.7v3.6h-3.7zM92.1 71.1h3.7v3.6h-3.7zM189.3 71.1h3.7v3.6h-3.7zM139.1 77.7h3.7v3.6h-3.7zM122.3 81.1h3.7v3.6h-3.7zM55.3 84.4h3.7v3.6h-3.7zM135.7 84.4h3.7v3.6h-3.7zM125.6 87.7h3.7v3.6h-3.7zM162.5 87.7h3.7v3.6h-3.7zM82.1 101.1h3.7v3.6h-3.7zM58.6 104.4h3.7v3.6h-3.7zM51.9 107.8h3.7v3.6h-3.7zM58.6 107.8h3.7v3.6h-3.7zM42.2 117.8h6.7v3.6h-6.7zM199.4 117.8h3.7v3.6h-3.7zM88.8 124.4h3.7v3.6h-3.7zM149.1 131.1h3.7v3.6h-3.7zM179.3 131.1h3.7v3.6h-3.7zM68.7 137.8h3.7v3.6h-3.7zM72.0 137.8h3.7v3.6h-3.7zM85.4 141.1h3.7v3.6h-3.7zM88.8 141.1h3.7v3.6h-3.7zM55.3 144.5h3.7v3.6h-3.7zM62.0 144.5h3.7v3.6h-3.7zM65.3 144.5h3.7v3.6h-3.7zM199.4 144.5h3.7v3.6h-3.7zM102.2 147.8h3.7v3.6h-3.7zM142.4 147.8h3.7v3.6h-3.7zM102.2 151.1h3.7v3.6h-3.7zM112.2 151.1h3.7v3.6h-3.7zM85.4 154.5h3.7v3.6h-3.7zM95.5 161.1h3.7v3.6h-3.7zM142.4 161.1h3.7v3.6h-3.7zM149.1 161.1h3.7v3.6h-3.7zM155.8 161.1h3.7v3.6h-3.7zM175.9 161.1h3.7v3.6h-3.7zM129.0 174.5h3.7v3.6h-3.7zM175.9 174.5h3.7v3.6h-3.7zM68.7 177.8h3.7v3.6h-3.7zM162.5 177.8h3.7v3.6h-3.7zM165.9 177.8h3.7v3.6h-3.7zM206.1 181.1h3.7v3.6h-3.7zM165.9 184.5h3.7v3.6h-3.7zM199.4 184.5h3.7v3.6h-3.7zM202.7 184.5h3.7v3.6h-3.7zM78.7 187.8h3.7v3.6h-3.7zM51.9 191.2h3.7v3.6h-3.7zM55.3 194.5h3.7v3.6h-3.7zM85.4 194.5h3.7v3.6h-3.7zM82.1 197.8h3.7v3.6h-3.7zM125.6 201.2h3.7v6.6h-3.7zM152.5 201.2h3.7v6.6h-3.7z"/>
<path fill="#404588" d="M105.5 44.4h3.7v3.6h-3.7zM115.6 47.7h3.7v3.6h-3.7zM115.6 54.4h3.7v3.6h-3.7zM172.6 57.7h3.7v3.6h-3.7zM115.6 61.1h3.7v3.6h-3.7zM62.0 67.7h3.7v3.6h-3.7zM42.2 71.1h6.7v3.6h-6.7zM68.7 91.1h3.7v3.6h-3.7zM95.5 91.1h3.7v3.6h-3.7zM189.3 91.1h3.7v3.6h-3.7zM42.2 101.1h6.7v3.6h-6.7zM189.3 101.1h3.7v3.6h-3.7zM182.6 134.4h3.7v3.6h-3.7zM149.1 144.5h3.7v3.6h-3.7zM189.3 144.5h3.7v3.6h-3.7zM55.3 164.5h3.7v3.6h-3.7zM108.9 181.1h3.7v3.6h-3.7zM142.4 184.5h3.7v3.6h-3.7zM129.0 187.8h3.7v3.6h-3.7zM142.4 187.8h3.7v3.6h-3.7zM122.3 194.5h3.7v3.6h-3.7z"/>
<path fill="#3d4e8a" d="M112.2 44.4h3.7v3.6h-3.7zM118.9 44.4h3.7v3.6h-3.7zM85.4 47.7h3.7v3.6h-3.7zM108.9 51.0h3.7v3.6h-3.7zM155.8 61.1h3.7v3.6h-3.7zM78.7 64.4h3.7v3.6h-3.7zM62.0 77.7h3.7v3.6h-3.7zM209.4 81.1h6.7v3.6h-6.7zM98.8 91.1h3.7v3.6h-3.7zM192.7 97.7h3.7v3.6h-3.7zM152.5 114.4h3.7v3.6h-3.7zM165.9 127.8h3.7v3.6h-3.7zM139.1 134.4h3.7v3.6h-3.7zM152.5 141.1h3.7v3.6h-3.7zM72.0 144.5h3.7v3.6h-3.7zM125.6 151.1h3.7v3.6h-3.7zM58.6 174.5h3.7v3.6h-3.7zM85.4 174.5h3.7v3.6h-3.7zM55.3 177.8h3.7v3.6h-3.7zM85.4 177.8h3.7v3.6h-3.7zM112.2 177.8h3.7v3.6h-3.7zM122.3 187.8h3.7v3.6h-3.7zM132.4 194.5h3.7v3.6h-3.7zM182.6 201.2h3.7v6.6h-3.7zM202.7 201.2h3.7v6.6h-3.7z"/>
<path fill="#f4e61e" d="M129.0 44.4h3.7v3.6h-3.7zM135.7 44.4h3.7v3.6h-3.7zM85.4 187.8h3.7v3.6h-3.7z"/>
<path fill="#fde725" d="M132.4 44.4h3.7v3.6h-3.7zM105.5 74.4h3.7v3.6h-3.7zM108.9 74.4h3.7v3.6h-3.7zM189.3 164.5h3.7v3.6h-3.7zM192.7 164.5h3.7v3.6h-3.7zM186.0 167.8h3.7v3.6h-3.7zM189.3 167.8h3.7v3.6h-3.7zM48.6 197.8h3.7v3.6h-3.7zM51.9 197.8h3.7v3.6h-3.7z"/>
<path fill="#365c8d" d="M51.9 47.7h3.7v3.6h-3.7zM88.8 51.0h3.7v3.6h-3.7zM105.5 54.4h3.7v3.6h-3.7zM145.8 57.7h3.7v3.6h-3.7zM159.2 57.7h3.7v3.6h-3.7zM48.6 67.7h3.7v3.6h-3.7zM165.9 71.1h3.7v3.6h-3.7zM85.4 74.4h3.7v3.6h-3.7zM65.3 77.7h3.7v3.6h-3.7zM196.0 77.7h3.7v3.6h-3.7zM202.7 87.7h3.7v3.6h-3.7zM112.2 91.1h3.7v3.6h-3.7zM142.4 91.1h3.7v3.6h-3.7zM182.6 91.1h3.7v3.6h-3.7zM92.1 94.4h3.7v3.6h-3.7zM135.7 94.4h3.7v3.6h-3.7zM179.3 94.4h3.7v3.6h-3.7zM199.4 94.4h3.7v3.6h-3.7zM186.0 97.7h3.7v3.6h-3.7zM85.4 111.1h3.7v3.6h-3.7zM155.8 117.8h3.7v3.6h-3.7zM112.2 131.1h3.7v3.6h-3.7zM179.3 134.4h3.7v3.6h-3.7zM118.9 137.8h3.7v3.6h-3.7zM135.7 137.8h3.7v3.6h-3.7zM58.6 147.8h3.7v3.6h-3.7zM72.0 151.1h3.7v3.6h-3.7zM58.6 177.8h3.7v3.6h-3.7zM139.1 181.1h3.7v3.6h-3.7zM48.6 184.5h3.7v3.6h-3.7zM115.6 184.5h3.7v3.6h-3.7zM202.7 197.8h3.7v3.6h-3.7z"/>
<path fill="#3e4989" d="M102.2 47.7h3.7v3.6h-3.7zM85.4 51.0h3.7v3.6h-3.7zM102.2 51.0h3.7v3.6h-3.7zM48.6 71.1h3.7v3.6h-3.7zM68.7 71.1h3.7v3.6h-3.7zM199.4 77.7h3.7v3.6h-3.7zM206.1 81.1h3.7v3.6h-3.7zM202.7 84.4h3.7v3.6h-3.7zM209.4 84.4h6.7v3.6h-6.7zM186.0 91.1h3.7v3.6h-3.7zM206.1 91.1h3.7v3.6h-3.7zM192.7 94.4h3.7v3.6h-3.7zM58.6 97.7h3.7v3.6h-3.7zM142.4 97.7h3.7v3.6h-3.7zM42.2 137.8h6.7v3.6h-6.7zM149.1 141.1h3.7v3.6h-3.7zM68.7 151.1h3.7v3.6h-3.7zM55.3 161.1h3.7v3.6h-3.7zM51.9 177.8h3.7v3.6h-3.7zM132.4 187.8h3.7v3.6h-3.7zM98.8 194.5h3.7v3.6h-3.7z"/>
<path fill="#48186a" d="M105.5 47.7h3.7v3.6h-3.7zM182.6 137.8h3.7v3.6h-3.7zM186.0 137.8h3.7v3.6h-3.7zM125.6 187.8h3.7v3.6h-3.7zM139.1 187.8h3.7v3.6h-3.7z"/>
<path fill="#472d7b" d="M108.9 47.7h3.7v3.6h-3.7zM189.3 97.7h3.7v3.6h-3.7zM199.4 101.1h3.7v3.6h-3.7zM42.2 104.4h6.7v3.6h-6.7zM112.2 174.5h3.7v3.6h-3.7zM105.5 187.8h3.7v3.6h-3.7z"/>
<path fill="#482374" d="M112.2 47.7h3.7v3.6h-3.7zM82.1 74.4h3.7v3.6h-3.7zM72.0 94.4h3.7v3.6h-3.7zM189.3 141.1h3.7v3.6h-3.7zM78.7 144.5h3.7v3.6h-3.7zM135.7 187.8h3.7v3.6h-3.7zM129.0 191.2h3.7v3.6h-3.7z"/>
<path fill="#424086" d="M118.9 47.7h3.7v3.6h-3.7zM115.6 51.0h3.7v3.6h-3.7zM65.3 67.7h3.7v3.6h-3.7zM98.8 87.7h3.7v3.6h-3.7zM175.9 87.7h3.7v3.6h-3.7zM142.4 94.4h3.7v3.6h-3.7zM196.0 94.4h3.7v3.6h-3.7zM155.8 111.1h3.7v3.6h-3.7zM78.7 147.8h3.7v3.6h-3.7zM51.9 164.5h3.7v3.6h-3.7zM132.4 181.1h3.7v3.6h-3.7zM132.4 184.5h3.7v3.6h-3.7z"/>
<path fill="#cae11f" d="M129.0 47.7h3.7v3.6h-3.7zM98.8 71.1h3.7v3.6h-3.7zM102.2 71.1h3.7v3.6h-3.7zM182.6 164.5h3.7v3.6h-3.7zM182.6 167.8h3.7v3.6h-3.7zM189.3 177.8h3.7v3.6h-3.7z"/>
<path fill="#aadc32" d="M132.4 47.7h3.7v3.6h-3.7zM115.6 97.7h3.7v3.6h-3.7zM159.2 107.8h3.7v3.6h-3.7z"/>
<path fill="#52c569" d="M182.6 47.7h3.7v3.6h-3.7zM139.1 51.0h3.7v3.6h-3.7zM129.0 54.4h3.7v3.6h-3.7zM132.4 54.4h3.7v3.6h-3.7zM68.7 57.7h3.7v3.6h-3.7zM95.5 64.4h3.7v3.6h-3.7zM159.2 67.7h3.7v3.6h-3.7zM192.7 71.1h3.7v3.6h-3.7zM108.9 77.7h3.7v3.6h-3.7zM129.0 77.7h3.7v3.6h-3.7zM142.4 77.7h3.7v3.6h-3.7zM159.2 77.7h3.7v3.6h-3.7zM85.4 84.4h3.7v3.6h-3.7zM88.8 84.4h3.7v3.6h-3.7zM102.2 97.7h3.7v3.6h-3.7zM122.3 97.7h3.7v3.6h-3.7zM162.5 107.8h3.7v3.6h-3.7zM62.0 114.4h3.7v3.6h-3.7zM175.9 114.4h3.7v3.6h-3.7zM192.7 121.1h3.7v3.6h-3.7zM55.3 127.8h3.7v3.6h-3.7zM65.3 141.1h3.7v3.6h-3.7zM209.4 151.1h6.7v3.6h-6.7zM135.7 154.5h3.7v3.6h-3.7zM92.1 157.8h3.7v3.6h-3.7zM192.7 157.8h3.7v3.6h-3.7zM182.6 161.1h3.7v3.6h-3.7zM78.7 164.5h3.7v3.6h-3.7zM196.0 164.5h3.7v3.6h-3.7zM72.0 167.8h3.7v3.6h-3.7zM75.4 167.8h3.7v3.6h-3.7zM155.8 167.8h3.7v3.6h-3.7zM165.9 171.1h3.7v3.6h-3.7zM192.7 171.1h3.7v3.6h-3.7zM162.5 174.5h3.7v3.6h-3.7zM182.6 174.5h3.7v3.6h-3.7zM182.6 177.8h3.7v3.6h-3.7zM85.4 191.2h3.7v3.6h-3.7zM72.0 201.2h3.7v6.6h-3.7z"/>
<path fill="#482878" d="M105.5 51.0h3.7v3.6h-3.7zM112.2 51.0h3.7v3.6h-3.7zM189.3 94.4h3.7v3.6h-3.7zM105.5 184.5h3.7v3.6h-3.7zM112.2 191.2h3.7v3.6h-3.7z"/>
<path fill="#8bd646" d="M206.1 51.0h3.7v3.6h-3.7zM88.8 57.7h3.7v3.6h-3.7zM102.2 74.4h3.7v3.6h-3.7zM108.9 97.7h3.7v3.6h-3.7zM115.6 101.1h3.7v3.6h-3.7zM192.7 124.4h3.7v3.6h-3.7zM88.8 131.1h3.7v3.6h-3.7zM145.8 151.1h3.7v3.6h-3.7zM112.2 157.8h3.7v3.6h-3.7zM68.7 167.8h3.7v3.6h-3.7zM152.5 167.8h3.7v3.6h-3.7zM152.5 171.1h3.7v3.6h-3.7zM65.3 181.1h3.7v3.6h-3.7zM189.3 181.1h3.7v3.6h-3.7zM85.4 184.5h3.7v3.6h-3.7zM88.8 184.5h3.7v3.6h-3.7z"/>
<path fill="#77d153" d="M209.4 51.0h6.7v3.6h-6.7zM102.2 67.7h3.7v3.6h-3.7zM112.2 77.7h3.7v3.6h-3.7zM155.8 77.7h3.7v3.6h-3.7zM85.4 81.1h3.7v3.6h-3.7zM142.4 81.1h3.7v3.6h-3.7zM149.1 81.1h3.7v3.6h-3.7zM118.9 91.1h3.7v3.6h-3.7zM112.2 101.1h3.7v3.6h-3.7zM206.1 104.4h3.7v3.6h-3.7zM58.6 124.4h3.7v3.6h-3.7zM206.1 124.4h3.7v3.6h-3.7zM88.8 127.8h3.7v3.6h-3.7zM206.1 127.8h3.7v3.6h-3.7zM85.4 131.1h3.7v3.6h-3.7zM62.0 137.8h3.7v3.6h-3.7zM65.3 137.8h3.7v3.6h-3.7zM162.5 161.1h3.7v3.6h-3.7zM192.7 161.1h3.7v3.6h-3.7zM75.4 164.5h3.7v3.6h-3.7zM169.2 164.5h3.7v3.6h-3.7zM98.8 167.8h3.7v3.6h-3.7zM95.5 171.1h3.7v3.6h-3.7zM189.3 174.5h3.7v3.6h-3.7zM192.7 181.1h3.7v3.6h-3.7zM72.0 184.5h3.7v3.6h-3.7z"/>
<path fill="#b5de2b" d="M139.1 54.4h3.7v3.6h-3.7zM199.4 167.8h3.7v3.6h-3.7z"/>
<path fill="#453781" d="M115.6 57.7h3.7v3.6h-3.7zM65.3 71.1h3.7v3.6h-3.7zM206.1 84.4h3.7v3.6h-3.7zM72.0 87.7h3.7v3.6h-3.7zM75.4 87.7h3.7v3.6h-3.7zM206.1 87.7h3.7v3.6h-3.7zM196.0 97.7h3.7v3.6h-3.7zM189.3 137.8h3.7v3.6h-3.7zM75.4 147.8h3.7v3.6h-3.7zM82.1 174.5h3.7v3.6h-3.7zM108.9 187.8h3.7v3.6h-3.7zM135.7 194.5h3.7v3.6h-3.7zM139.1 194.5h3.7v3.6h-3.7z"/>
<path fill="#481d6f" d="M152.5 57.7h3.7v3.6h-3.7zM115.6 87.7h3.7v3.6h-3.7zM112.2 187.8h3.7v3.6h-3.7zM139.1 191.2h3.7v3.6h-3.7z"/>
<path fill="#470d60" d="M155.8 57.7h3.7v3.6h-3.7z"/>
<path fill="#6ece58" d="M175.9 64.4h3.7v3.6h-3.7zM179.3 64.4h3.7v3.6h-3.7zM105.5 67.7h3.7v3.6h-3.7zM189.3 67.7h3.7v3.6h-3.7zM88.8 81.1h3.7v3.6h-3.7zM155.8 81.1h3.7v3.6h-3.7zM129.0 84.4h3.7v3.6h-3.7zM162.5 84.4h3.7v3.6h-3.7zM112.2 97.7h3.7v3.6h-3.7zM88.8 104.4h3.7v3.6h-3.7zM118.9 104.4h3.7v3.6h-3.7zM162.5 111.1h3.7v3.6h-3.7zM175.9 111.1h3.7v3.6h-3.7zM78.7 124.4h3.7v3.6h-3.7zM202.7 124.4h3.7v3.6h-3.7zM85.4 127.8h3.7v3.6h-3.7zM139.1 154.5h3.7v3.6h-3.7zM72.0 164.5h3.7v3.6h-3.7zM102.2 164.5h3.7v3.6h-3.7zM105.5 167.8h3.7v3.6h-3.7zM196.0 167.8h3.7v3.6h-3.7zM199.4 171.1h3.7v3.6h-3.7zM202.7 171.1h3.7v3.6h-3.7zM68.7 181.1h3.7v3.6h-3.7zM159.2 187.8h3.7v3.6h-3.7zM209.4 191.2h6.7v3.6h-6.7zM48.6 201.2h3.7v6.6h-3.7z"/>
<path fill="#46327e" d="M206.1 64.4h3.7v3.6h-3.7zM42.2 67.7h6.7v3.6h-6.7zM75.4 94.4h3.7v3.6h-3.7zM199.4 97.7h3.7v3.6h-3.7zM155.8 114.4h3.7v3.6h-3.7zM135.7 134.4h3.7v3.6h-3.7zM186.0 141.1h3.7v3.6h-3.7zM182.6 144.5h3.7v3.6h-3.7zM186.0 144.5h3.7v3.6h-3.7zM51.9 161.1h3.7v3.6h-3.7zM102.2 191.2h3.7v3.6h-3.7zM129.0 194.5h3.7v3.6h-3.7zM142.4 194.5h3.7v3.6h-3.7z"/>
<path fill="#c0df25" d="M105.5 71.1h3.7v3.6h-3.7zM102.2 167.8h3.7v3.6h-3.7zM55.3 197.8h3.7v3.6h-3.7zM75.4 197.8h3.7v3.6h-3.7z"/>
<path fill="#eae51a" d="M112.2 74.4h3.7v3.6h-3.7zM51.9 201.2h3.7v6.6h-3.7zM55.3 201.2h3.7v6.6h-3.7z"/>
<path fill="#95d840" d="M145.8 77.7h3.7v3.6h-3.7zM155.8 94.4h3.7v3.6h-3.7zM105.5 97.7h3.7v3.6h-3.7zM159.2 157.8h3.7v3.6h-3.7zM162.5 157.8h3.7v3.6h-3.7zM189.3 157.8h3.7v3.6h-3.7zM105.5 164.5h3.7v3.6h-3.7zM192.7 167.8h3.7v3.6h-3.7zM179.3 171.1h3.7v3.6h-3.7zM82.1 187.8h3.7v3.6h-3.7zM51.9 194.5h3.7v3.6h-3.7z"/>
<path fill="#440154" d="M72.0 91.1h3.7v3.6h-3.7zM75.4 91.1h3.7v3.6h-3.7zM75.4 144.5h3.7v3.6h-3.7zM125.6 191.2h3.7v3.6h-3.7z"/>
<path fill="#d5e21a" d="M118.9 94.4h3.7v3.6h-3.7zM209.4 104.4h6.7v3.6h-6.7zM189.3 161.1h3.7v3.6h-3.7zM186.0 164.5h3.7v3.6h-3.7z"/>
<path fill="#471365" d="M122.3 191.2h3.7v3.6h-3.7z"/>
<path fill="#46075a" d="M135.7 191.2h3.7v3.6h-3.7z"/>
</g>
<path d="M183.7 38.2 184.2 39.2 184.8 40.2 184.7 41.7 183.7 43.2 182.8 44.2 181.9 45.2 181.4 45.2 180.4 44.2 179.7 42.9 178.7 41.3 177.7 40.4 176.7 39.4 176.4 38.2M130.7 61.2 129.7 61.0 128.7 60.1 128.0 58.2 127.7 56.5 127.1 55.2 125.7 54.4 124.7 53.2 124.1 52.2 123.7 51.2 123.7 50.2 124.7 48.6 125.7 47.9 126.7 46.5 126.8 45.2 127.2 43.2 128.7 42.2 129.7 42.0 131.7 41.9 133.7 41.6 135.3 41.2 136.7 41.1 137.7 41.3 139.0 42.2 139.7 43.9 139.7 44.5 139.2 46.2 138.5 47.2 137.7 48.2 136.7 49.2 135.6 50.2 134.7 51.2 133.7 52.5 132.6 53.2 131.3 54.2 132.7 54.4 134.1 54.2 135.7 53.3 136.7 52.6 137.7 52.0 139.7 51.4 140.7 51.2 141.6 49.2 142.5 48.2 143.7 47.6 144.8 47.2 146.7 46.9 148.7 47.2 149.6 48.2 148.7 50.1 147.7 50.3 145.7 50.4 143.7 51.2 143.0 52.2 143.6 54.2 143.7 55.2 143.5 56.2 142.7 57.4 141.4 58.2 139.7 58.8 138.7 59.3 136.9 60.2 135.7 60.4 133.7 60.3 131.7 61.0 130.7 61.2zM86.7 45.6 84.7 45.9 82.7 45.3 81.7 44.9 80.3 45.2 78.7 45.7 76.7 45.8 75.9 44.2 76.5 42.2 77.7 41.8 79.7 41.8 81.7 42.0 83.7 42.1 85.0 42.2 86.7 43.2 87.1 44.2 86.7 45.6zM171.7 50.4 169.7 50.5 169.3 49.2 169.7 47.6 170.7 46.4 172.7 47.0 173.0 48.2 172.7 49.4 171.7 50.4zM185.7 50.8 183.7 50.7 182.7 49.7 182.5 48.2 183.7 47.8 185.7 48.2 186.7 48.8 186.7 49.8 185.7 50.8zM212.7 53.4 210.7 54.0 208.7 53.9 206.7 54.2 205.7 54.6 203.7 55.0 202.8 53.2 203.2 51.2 203.7 50.2 204.7 49.2 206.7 48.6 208.7 48.4 209.7 48.1 211.7 48.0 212.7 48.2M72.7 63.0 70.7 62.4 69.9 61.2 69.5 60.2 69.5 58.2 69.7 56.8 70.5 55.2 70.8 55.2 71.5 57.2 72.3 58.2 73.1 59.2 73.7 60.6 73.7 61.4 72.7 63.0zM91.7 62.4 89.7 62.8 88.7 62.0 87.7 60.5 87.2 59.2 87.7 58.1 89.7 57.6 91.7 57.6 93.2 58.2 93.0 60.2 92.4 61.2 91.7 62.4zM114.7 80.4 112.7 80.3 111.7 80.0 109.7 79.8 108.5 80.2 106.7 80.9 105.7 79.6 104.7 78.3 103.7 77.4 102.7 76.5 101.7 75.6 100.7 74.9 98.7 74.6 96.7 74.6 95.4 74.2 94.6 73.2 94.4 71.2 94.9 70.2 95.7 68.8 95.8 67.2 95.7 66.2 96.0 65.2 97.4 64.2 98.7 63.9 100.7 63.2 101.7 62.8 103.6 63.2 103.7 64.2 103.4 65.2 103.7 67.0 105.7 67.1 106.7 67.2 108.7 67.8 109.7 68.8 110.4 70.2 111.7 71.2 112.7 71.5 114.7 71.7 116.0 72.2 116.7 73.2 117.3 75.2 117.7 77.2 117.5 79.2 115.7 80.1 114.7 80.4zM141.7 65.5 141.1 64.2 141.7 62.6 142.7 63.7 142.7 65.0 141.7 65.5zM179.7 69.3 178.4 69.2 176.7 68.6 175.4 68.2 173.7 67.6 172.7 66.3 172.7 66.1 173.7 64.8 175.7 64.9 177.7 64.4 178.7 64.0 180.2 64.2 181.5 65.2 181.9 66.2 181.7 67.3 180.7 68.8 179.7 69.3zM154.7 73.3 152.7 73.5 151.7 73.1 150.3 72.2 149.3 71.2 149.7 69.3 150.7 68.3 151.7 67.5 152.7 66.9 154.7 66.7 155.7 67.2 156.6 69.2 155.5 70.2 155.1 72.2 154.7 73.3zM159.7 72.3 158.7 72.0 157.7 71.2 156.7 69.2 157.7 68.0 159.7 68.0 160.7 68.6 161.6 70.2 160.7 71.9 159.7 72.3zM193.7 73.5 192.7 73.2 191.6 72.2 189.7 71.3 188.7 70.9 188.1 69.2 188.8 68.2 190.7 67.7 191.7 68.5 192.7 69.8 193.7 71.0 194.5 72.2 193.7 73.5zM91.7 71.2 89.7 71.8 88.0 71.2 88.7 70.1 90.7 69.8 91.9 70.2 91.7 71.2zM119.7 114.6 119.4 113.2 119.3 111.2 118.7 110.2 116.7 109.3 115.7 108.9 113.8 108.2 113.3 107.2 114.7 106.3 115.7 105.5 116.0 104.2 114.7 103.6 112.7 103.5 110.7 103.5 109.7 103.0 108.7 102.2 106.7 101.3 105.7 101.1 103.7 100.4 102.7 99.7 102.0 98.2 102.7 96.3 103.7 95.6 104.7 94.9 106.0 94.2 107.7 93.9 108.7 94.2 109.8 95.2 110.7 96.5 111.7 97.5 113.5 97.2 114.2 96.2 114.9 95.2 116.0 94.2 117.2 93.2 118.5 92.2 119.7 91.5 120.7 90.9 121.7 90.0 122.3 88.2 122.5 86.2 123.4 85.2 124.7 84.8 125.7 83.3 126.7 82.3 127.7 81.4 128.1 80.2 127.2 79.2 125.7 78.7 124.7 77.4 124.4 76.2 124.7 74.5 125.7 73.8 127.2 74.2 128.0 75.2 128.7 76.9 129.7 77.6 131.7 78.1 132.6 79.2 132.7 80.2 133.4 82.2 134.7 83.0 135.7 83.2 137.0 84.2 136.5 85.2 135.5 86.2 133.7 86.7 131.9 87.2 130.7 87.9 128.7 88.2 127.2 87.2 125.7 86.5 125.2 88.2 125.2 90.2 125.3 92.2 125.7 94.2 126.4 95.2 127.3 96.2 127.8 97.2 127.5 98.2 126.4 99.2 125.4 100.2 125.7 101.6 126.7 102.9 127.7 104.2 127.7 104.4 127.3 106.2 127.6 108.2 128.1 109.2 128.7 110.2 128.7 112.0 127.7 112.5 126.3 112.2 124.7 111.5 122.7 111.3 121.7 112.2 120.7 113.5 119.7 114.6zM165.7 87.6 163.7 87.9 162.7 87.1 161.7 86.1 160.7 85.0 159.7 84.1 157.7 83.6 155.7 83.8 153.7 83.8 151.7 84.0 149.7 84.1 147.7 84.0 145.7 83.7 143.7 83.7 142.3 84.2 140.7 84.4 139.3 84.2 137.8 83.2 138.6 81.2 139.4 80.2 140.6 79.2 141.7 78.9 143.7 78.6 144.7 78.1 146.7 77.4 148.7 77.5 149.7 78.8 150.7 79.8 152.6 80.2 152.7 80.2 154.7 79.2 155.3 78.2 155.9 77.2 157.0 76.2 158.7 75.9 160.3 76.2 161.1 77.2 161.3 79.2 161.7 80.5 162.7 81.3 164.2 81.2 165.7 80.7 167.3 81.2 167.6 83.2 167.4 85.2 166.7 86.7 165.7 87.6zM90.7 89.3 89.7 89.2 88.5 88.2 87.6 87.2 86.4 86.2 84.7 85.3 83.7 84.7 82.7 83.7 82.7 83.0 84.0 82.2 85.7 81.5 86.7 81.1 88.3 80.2 89.6 79.2 90.7 79.0 91.7 79.5 93.0 80.2 93.8 81.2 93.4 82.2 92.5 83.2 91.5 84.2 91.3 86.2 91.9 87.2 91.7 89.1 90.7 89.3zM158.7 98.6 157.5 98.2 155.8 97.2 154.7 96.5 153.7 95.6 152.7 94.7 151.7 93.6 151.4 92.2 151.9 91.2 152.8 90.2 153.8 89.2 155.4 88.2 156.3 88.2 157.7 89.1 158.7 90.2 159.7 91.0 160.7 91.5 162.7 91.7 163.7 93.0 163.8 94.2 163.7 95.2 162.7 96.9 160.7 96.7 159.6 97.2 158.7 98.6zM68.7 103.5 66.7 103.3 66.1 102.2 66.6 100.2 67.7 99.3 69.4 100.2 70.1 101.2 69.7 102.7 68.7 103.5zM121.3 102.2 122.7 101.3 122.9 100.2 121.7 99.6 120.0 100.2 119.6 101.2 120.1 102.2 121.3 102.2zM212.7 109.6 210.7 110.1 209.5 109.2 208.4 108.2 206.7 107.3 205.7 107.1 204.5 106.2 204.7 105.1 205.7 103.6 206.7 103.0 208.3 102.2 209.6 101.2 210.7 100.2 211.7 99.6M79.7 104.6 77.7 105.1 76.5 104.2 76.7 103.1 77.9 102.2 79.7 101.5 80.7 101.2 82.4 101.2 81.7 103.0 80.7 103.9 79.7 104.6zM90.7 107.9 88.7 108.1 86.7 107.4 86.3 106.2 86.6 104.2 87.4 103.2 88.7 102.6 90.2 103.2 90.9 104.2 91.7 106.1 91.7 106.6 90.7 107.9zM139.7 106.6 137.7 107.1 135.7 106.7 134.5 106.2 134.4 104.2 135.7 103.9 137.7 103.2 138.7 103.1 139.7 103.6 140.2 105.2 139.7 106.6zM165.7 120.0 164.7 119.2 163.9 117.2 163.7 115.3 163.5 114.2 162.7 113.0 161.6 112.2 160.2 111.2 159.0 110.2 158.2 109.2 157.6 108.2 157.3 106.2 157.8 105.2 159.7 104.3 161.7 104.6 163.2 105.2 163.7 106.2 164.1 108.2 164.7 109.3 165.8 110.2 167.7 110.9 169.7 110.8 171.7 111.0 173.7 110.9 175.7 110.4 177.3 111.2 178.7 112.2 179.7 113.1 180.6 114.2 179.7 115.7 178.4 116.2 176.7 116.8 174.7 116.3 173.7 115.7 172.7 115.2 170.7 114.9 169.2 115.2 167.9 116.2 167.3 117.2 166.7 118.8 165.7 120.0zM149.7 110.9 148.0 110.2 148.7 108.6 149.7 108.0 150.7 109.0 150.7 109.8 149.7 110.9zM54.7 113.2 52.7 113.6 52.3 112.2 52.7 110.9 53.7 109.3 54.7 108.6 56.7 108.4 57.6 110.2 56.7 111.6 55.7 112.5 54.7 113.2zM102.7 112.3 101.9 111.2 102.7 110.1 103.9 109.2 105.1 109.2 104.8 111.2 103.7 112.1 102.7 112.3zM64.7 116.2 62.7 116.7 60.7 117.0 59.2 116.2 59.2 114.2 59.7 112.2 60.7 111.7 61.7 112.5 62.7 113.3 64.2 114.2 65.3 115.2 64.7 116.2zM140.7 117.3 138.7 118.0 137.2 117.2 136.6 116.2 136.7 114.2 137.4 113.2 138.7 112.3 139.7 111.9 141.7 112.1 143.7 112.0 145.7 111.6 147.1 112.2 146.7 113.2 144.7 114.1 143.7 114.6 142.7 115.5 141.7 116.6 140.7 117.3zM74.7 119.3 73.5 119.2 72.1 118.2 72.7 116.3 73.7 115.8 75.6 116.2 76.2 117.2 75.7 118.6 74.7 119.3zM104.7 125.7 102.7 125.6 101.7 124.7 100.7 123.3 99.7 122.4 98.7 121.8 97.1 121.2 96.1 120.2 96.7 118.7 97.7 117.6 99.7 117.2 101.7 118.0 102.7 118.4 104.7 118.7 106.7 118.8 107.7 119.6 107.9 121.2 107.5 122.2 106.7 123.6 105.7 124.8 104.7 125.7zM212.7 132.3 211.7 131.6 209.7 131.8 207.7 132.1 206.7 130.9 205.7 129.5 204.7 128.8 203.2 128.2 202.4 127.2 202.7 125.2 203.0 124.2 203.4 122.2 203.7 120.8 204.7 121.2 205.8 122.2 206.7 123.2 208.7 124.2 209.7 124.4 211.3 125.2 212.7 126.2M193.7 128.3 192.7 127.9 191.7 126.9 190.7 125.7 189.7 124.5 189.4 123.2 190.6 122.2 191.7 121.9 193.7 121.7 195.2 122.2 195.9 123.2 196.5 125.2 195.8 127.2 194.7 128.1 193.7 128.3zM85.7 134.3 83.7 134.2 82.7 133.6 81.7 132.2 81.4 131.2 81.2 129.2 80.7 127.8 79.7 127.2 78.3 126.2 78.2 124.2 78.9 123.2 80.7 122.3 82.7 123.2 83.7 123.9 84.7 124.6 85.7 125.6 86.7 126.5 88.7 126.9 90.7 127.1 91.7 127.5 92.7 128.2 93.7 130.0 93.7 130.4 93.1 132.2 91.9 133.2 90.7 133.7 88.7 133.9 86.7 134.0 85.7 134.3zM53.7 131.2 52.9 130.2 53.2 128.2 54.4 127.2 55.7 126.9 56.8 126.2 57.7 125.2 58.7 124.1 60.7 124.1 61.7 125.0 62.2 126.2 61.7 127.8 60.7 128.8 59.7 129.5 57.7 129.8 56.4 130.2 54.7 130.9 53.7 131.2zM121.7 130.5 120.7 130.2 120.5 128.2 120.7 126.8 121.5 125.2 122.7 124.5 124.7 125.2 124.8 126.2 124.5 127.2 123.7 128.9 122.7 130.1 121.7 130.5zM139.7 131.3 138.7 130.4 138.7 129.6 139.7 128.7 141.7 128.8 143.7 129.2 143.7 129.5 142.7 130.2 140.7 131.2 139.7 131.3zM148.7 132.5 147.7 132.1 146.5 131.2 144.7 130.2 144.7 130.0 146.7 129.2 148.7 130.0 149.6 131.2 148.7 132.5zM66.7 144.5 64.7 144.6 62.7 145.1 61.7 143.3 61.4 142.2 60.3 141.2 59.3 140.2 59.6 138.2 60.4 137.2 61.0 136.2 61.7 134.9 62.7 133.9 64.7 134.1 65.7 134.8 66.7 135.9 67.7 137.0 68.7 138.2 69.1 139.2 68.7 140.9 68.2 142.2 67.7 143.8 66.7 144.5zM199.7 141.6 197.7 141.6 196.7 140.4 196.4 139.2 196.7 137.4 197.5 136.2 198.7 135.8 199.9 136.2 200.9 137.2 201.1 139.2 200.7 140.2 199.7 141.6zM169.7 143.5 167.7 143.7 165.7 143.3 164.8 142.2 165.7 140.7 166.7 140.1 168.7 139.7 170.2 140.2 170.8 141.2 170.7 142.4 169.7 143.5zM212.7 144.0 210.7 143.7 209.9 142.2 210.3 140.2 211.7 139.9M174.7 152.3 173.0 152.2 172.1 151.2 171.7 149.9 171.7 149.2 172.5 147.2 173.2 146.2 174.6 145.2 175.7 145.1 176.4 146.2 176.3 148.2 176.2 150.2 175.7 151.3 174.7 152.3zM202.7 150.4 201.7 150.2 201.1 148.2 202.6 147.2 203.3 147.2 204.7 147.9 204.7 148.8 203.7 149.9 202.7 150.4zM108.7 152.8 107.2 152.2 105.7 151.3 104.7 150.7 104.3 149.2 105.7 148.6 106.8 149.2 107.9 150.2 108.9 151.2 108.7 152.8zM147.7 153.5 145.7 153.5 143.8 153.2 142.7 152.8 142.6 151.2 143.2 150.2 144.3 149.2 145.7 148.5 147.7 149.2 148.5 150.2 148.9 151.2 148.7 152.8 147.7 153.5zM196.7 186.4 195.0 186.2 193.7 185.6 192.7 185.2 191.1 184.2 190.0 183.2 189.0 182.2 188.3 181.2 187.6 180.2 186.7 179.0 185.4 179.2 183.7 179.7 181.7 179.2 180.9 178.2 180.3 177.2 179.1 176.2 177.7 175.4 176.7 174.7 175.7 173.7 174.7 172.5 173.7 172.0 171.7 171.4 170.7 170.9 169.7 170.2 168.0 170.2 168.2 172.2 168.7 174.0 169.0 175.2 169.1 177.2 169.7 178.3 170.7 179.2 171.0 181.2 170.7 182.4 169.7 183.8 168.2 183.2 167.5 182.2 167.6 180.2 168.0 179.2 167.7 178.2 165.7 177.5 163.7 178.0 162.9 179.2 161.9 180.2 160.7 180.7 158.7 180.7 157.6 180.2 156.7 178.3 156.2 177.2 154.7 176.3 153.7 175.9 152.6 175.2 151.7 173.6 151.3 172.2 150.8 170.2 149.9 169.2 148.7 168.8 147.0 168.2 146.6 167.2 146.8 166.2 147.7 164.7 148.7 165.8 149.4 167.2 150.7 168.1 152.5 167.2 153.7 166.5 154.7 166.0 155.7 166.3 156.7 167.3 157.5 169.2 157.7 170.6 158.7 171.9 159.7 172.2 160.7 172.2 162.3 171.2 163.1 170.2 164.1 169.2 165.5 168.2 166.7 167.7 167.5 166.2 167.6 164.2 168.1 163.2 169.5 162.2 170.5 162.2 171.4 163.2 172.3 164.2 173.3 165.2 174.6 166.2 175.7 166.5 176.7 165.8 177.7 164.8 178.8 164.2 180.7 164.0 182.3 163.2 182.3 161.2 181.5 160.2 181.0 158.2 181.3 156.2 181.9 155.2 183.7 154.8 184.7 155.5 185.7 156.4 187.7 157.0 189.7 156.7 191.0 156.2 192.3 155.2 193.5 154.2 194.7 154.2 195.7 154.5 197.5 155.2 198.7 155.6 200.7 155.7 202.7 155.7 204.7 155.8 205.8 155.2 206.8 154.2 207.7 152.6 208.7 151.3 209.7 151.0 210.8 151.2 212.0 152.2 212.6 154.2 211.7 155.6 210.7 156.6 209.6 157.2 208.0 157.2 206.7 156.9 205.4 157.2 204.3 158.2 203.7 159.2 203.1 161.2 203.9 162.2 205.3 163.2 205.4 165.2 205.2 167.2 205.5 169.2 205.7 170.5 205.9 172.2 206.2 174.2 206.3 176.2 205.7 177.8 204.7 178.6 202.7 178.3 201.2 179.2 200.2 179.2 199.7 178.2 200.7 177.5 202.6 177.2 203.5 176.2 203.8 175.2 203.6 174.2 202.0 173.2 200.7 173.2 199.7 173.5 198.0 174.2 196.7 174.4 194.7 174.8 194.3 176.2 193.9 178.2 194.2 180.2 194.7 181.2 195.7 182.7 196.7 183.7 197.7 184.5 197.7 185.8 196.7 186.4zM112.7 162.4 111.7 162.1 110.9 160.2 111.1 158.2 111.7 157.0 112.2 155.2 111.6 154.2 111.7 152.7 113.6 153.2 113.9 154.2 114.0 156.2 114.7 157.3 115.5 159.2 115.0 161.2 113.7 162.1 112.7 162.4zM82.7 159.4 80.7 159.9 79.7 159.2 78.7 157.9 77.7 156.3 77.4 155.2 77.7 154.0 79.7 153.6 81.2 154.2 82.7 154.8 83.9 155.2 85.7 156.1 86.6 157.2 84.7 158.1 83.7 158.8 82.7 159.4zM143.7 165.4 141.7 165.8 139.7 165.3 139.5 164.2 139.4 162.2 138.7 160.9 137.8 159.2 136.7 158.4 134.7 158.7 133.7 159.5 131.9 159.2 132.2 157.2 132.3 155.2 132.7 154.2 134.7 153.8 136.0 154.2 137.7 154.3 138.7 154.1 140.7 153.8 141.7 154.2 142.2 156.2 142.2 158.2 141.7 160.2 142.6 162.2 143.7 163.0 144.4 164.2 143.7 165.4zM92.7 160.4 90.7 160.3 89.7 159.9 88.7 159.2 87.7 158.2 87.7 156.3 88.7 155.9 90.1 155.2 91.7 154.6 93.6 155.2 94.1 156.2 94.4 158.2 93.7 159.9 92.7 160.4zM165.7 163.7 163.7 164.1 161.8 163.2 160.7 162.5 159.7 161.9 157.7 161.2 156.7 160.7 154.7 160.5 153.4 160.2 151.7 159.6 150.8 158.2 150.6 157.2 150.7 155.2 151.7 154.6 153.7 154.5 155.7 155.0 156.7 155.2 157.7 155.1 159.7 155.0 161.5 155.2 162.7 155.3 164.7 156.2 165.4 157.2 165.9 158.2 166.2 160.2 166.5 162.2 165.7 163.7zM61.7 157.5 60.5 157.2 60.7 155.7 62.7 155.8 62.7 156.9 61.7 157.5zM177.7 161.4 176.2 161.2 174.9 160.2 173.7 159.5 171.7 159.3 171.5 158.2 172.1 157.2 173.7 156.4 174.7 157.9 175.7 158.8 176.8 159.2 178.3 160.2 177.7 161.4zM200.3 165.2 201.4 164.2 201.8 163.2 201.5 162.2 199.7 161.7 198.7 161.1 197.3 160.2 195.7 159.9 194.7 161.1 194.7 161.2 195.7 162.8 196.7 163.7 197.7 164.4 198.9 165.2 200.3 165.2zM77.7 173.4 76.7 172.7 75.9 171.2 74.7 170.3 73.7 170.1 72.6 170.2 70.7 170.6 68.7 170.9 66.7 170.6 65.0 170.2 63.7 169.7 63.0 168.2 63.7 167.2 65.1 166.2 66.7 165.7 68.6 165.2 69.2 164.2 69.5 162.2 69.7 161.1 70.7 161.4 71.7 162.4 72.8 163.2 74.7 164.0 76.7 163.7 77.7 163.2 79.7 163.0 80.6 164.2 81.3 165.2 82.7 165.5 83.7 165.0 85.7 164.5 87.6 165.2 88.2 166.2 87.9 168.2 86.7 169.2 85.7 169.6 83.7 169.5 82.7 169.0 81.7 167.8 79.7 167.8 78.7 168.8 78.0 170.2 78.0 172.2 77.7 173.4zM99.7 173.6 97.7 173.9 95.7 174.0 93.7 173.8 92.7 173.2 91.8 171.2 92.7 169.6 93.7 169.1 95.5 168.2 96.1 167.2 96.2 165.2 96.7 163.6 98.7 163.5 99.7 164.3 100.7 165.5 101.7 165.2 102.7 164.1 103.7 163.2 105.7 162.7 107.6 163.2 108.7 163.8 109.7 164.5 110.7 165.5 111.7 167.0 112.1 168.2 112.2 170.2 111.7 171.6 109.7 171.6 108.7 170.9 106.7 170.3 104.9 171.2 103.7 171.9 102.7 172.3 100.7 173.1 99.7 173.6zM212.7 170.5 211.4 170.2 210.3 169.2 209.8 167.2 210.7 166.1 211.7 166.2M187.8 176.2 188.7 175.0 188.7 173.7 187.7 172.7 185.7 173.1 184.9 174.2 185.7 175.9 186.7 176.7 187.8 176.2zM145.7 180.4 144.1 180.2 142.7 179.4 142.0 178.2 142.9 177.2 143.7 176.2 144.7 174.6 146.4 175.2 147.1 176.2 147.5 178.2 146.7 180.2 145.7 180.4zM85.7 193.9 84.1 193.2 83.2 192.2 82.6 191.2 81.7 189.8 80.7 189.0 78.7 188.3 77.7 187.9 75.7 187.9 73.7 187.8 71.7 187.4 69.7 187.9 68.7 188.3 67.7 188.2 66.7 186.9 65.7 186.0 64.5 185.2 63.4 184.2 63.7 182.8 64.7 181.7 65.7 180.7 66.4 179.2 66.1 177.2 67.6 177.2 68.1 178.2 68.7 179.2 69.7 180.2 71.5 181.2 72.7 181.2 73.7 180.9 75.1 180.2 76.7 179.4 77.6 181.2 77.9 182.2 78.7 183.9 79.7 184.6 81.7 184.3 82.7 184.1 83.7 184.3 85.7 184.5 87.7 184.3 88.7 184.1 90.7 183.8 91.7 184.4 92.7 185.2 94.3 186.2 95.7 187.2 96.7 188.1 96.7 188.4 95.7 189.4 94.2 190.2 92.7 190.6 90.7 190.8 89.1 191.2 87.7 192.1 86.7 193.0 85.7 193.9zM204.7 184.7 202.9 184.2 203.5 182.2 204.0 181.2 204.7 180.0 205.9 180.2 206.4 182.2 205.7 183.7 204.7 184.7zM212.7 194.1 210.7 193.6 208.7 193.4 206.7 193.5 204.7 193.6 203.7 194.2 201.7 194.7 200.6 194.2 200.1 192.2 201.7 191.7 203.7 192.0 205.5 191.2 206.7 190.5 207.7 190.2 209.6 189.2 210.0 188.2 210.5 186.2 210.8 185.2 211.7 183.7 212.7 183.2M150.7 196.2 149.6 196.2 148.6 195.2 148.7 193.3 149.7 192.5 150.7 192.1 152.4 191.2 153.7 190.8 155.7 190.9 157.7 191.0 158.7 189.2 159.0 188.2 159.4 186.2 159.9 185.2 160.7 184.2 162.7 184.2 163.5 185.2 164.0 186.2 163.9 188.2 163.5 189.2 162.7 190.9 161.7 191.8 159.7 191.7 157.7 191.6 156.7 193.0 155.7 193.4 153.7 193.4 152.6 194.2 151.7 195.5 150.7 196.2zM169.7 188.3 167.7 188.4 167.2 187.2 168.2 186.2 169.6 186.2 170.2 187.2 169.7 188.3zM45.7 193.4 47.7 194.0 49.7 193.5 50.7 192.8 52.7 192.6 53.7 193.4 54.7 194.4 55.7 195.3 56.7 196.2 57.7 197.3 58.7 198.5 59.7 199.9 60.0 201.2 59.8 203.2M73.2 204.2 72.7 202.4 72.4 201.2 72.7 199.8 73.3 198.2 73.7 197.0 74.7 195.6 76.7 195.3 78.7 196.2 79.7 197.2 80.6 198.2 81.2 199.2 80.8 201.2 80.1 202.2 79.2 203.2 78.6 204.2M49.1 204.2 48.7 202.9 48.0 201.2 47.5 200.2 46.7 198.7 45.7 197.8M167.7 202.0 165.7 201.9 164.2 201.2 163.6 200.2 164.7 199.5 165.7 199.2 166.7 199.4 168.0 200.2 167.7 202.0z" fill="none" stroke="#c42b2b" stroke-width="1.7" stroke-linejoin="round"/>
<path d="M132.7 50.3 130.7 50.7 129.7 49.8 129.2 48.2 128.9 46.2 129.1 44.2 130.7 43.3 131.7 43.1 133.7 42.6 135.7 42.3 137.5 43.2 137.9 44.2 137.7 45.3 136.7 46.9 135.7 47.8 134.7 48.4 133.6 49.2 132.7 50.3zM138.7 56.2 137.7 56.2 137.7 55.2 138.7 54.2 140.3 54.2 141.0 55.2 139.7 56.1 138.7 56.2zM113.7 77.9 111.7 78.1 109.7 77.9 107.7 78.2 105.7 77.5 104.7 76.7 103.7 75.7 102.7 74.2 102.0 73.2 100.7 72.4 98.7 72.5 98.7 71.6 99.7 71.2 101.7 71.1 103.7 70.9 105.3 71.2 106.7 71.8 107.7 72.2 109.7 72.7 111.7 73.2 112.7 73.4 114.7 74.2 115.0 75.2 114.7 76.7 113.7 77.9zM118.7 97.4 117.3 97.2 117.4 95.2 118.3 94.2 119.7 93.3 120.7 93.1 121.7 93.7 122.2 95.2 121.7 96.5 119.7 97.1 118.7 97.4zM107.7 98.6 105.7 98.2 105.3 97.2 106.4 96.2 107.7 96.1 108.5 97.2 107.7 98.6zM210.7 106.8 209.3 106.2 209.6 104.2 210.7 103.6 212.2 104.2 211.7 105.9 210.7 106.8zM139.7 115.7 138.4 115.2 138.7 114.0 140.7 113.9 140.7 115.1 139.7 115.7zM84.7 131.6 83.5 131.2 83.7 129.3 85.5 130.2 84.7 131.6zM191.7 170.5 189.7 170.9 187.7 170.4 185.7 170.5 184.2 170.2 183.1 169.2 182.5 168.2 182.3 166.2 183.7 165.2 184.7 164.8 186.7 164.8 187.9 164.2 188.7 162.4 189.1 161.2 190.7 160.8 191.7 161.3 192.8 162.2 193.7 163.2 194.7 164.7 195.2 166.2 194.7 167.4 193.7 168.6 192.7 169.6 191.7 170.5zM103.7 169.4 102.2 169.2 102.7 168.1 103.7 166.9 104.7 166.1 105.7 166.5 105.7 167.5 104.7 168.8 103.7 169.4zM86.7 190.4 84.7 190.7 83.7 189.3 83.4 188.2 83.7 187.1 85.3 186.2 86.7 186.1 87.7 186.3 89.6 187.2 88.7 188.3 87.7 189.5 86.7 190.4zM53.6 204.2 52.6 203.2 51.3 202.2 50.2 201.2 49.4 200.2 48.7 198.8 48.3 197.2 49.2 196.2 50.7 195.8 52.7 196.1 53.7 196.5 55.0 197.2 56.1 198.2 56.8 199.2 57.7 201.1 57.9 202.2 57.7 203.8" fill="none" stroke="#c42b2b" stroke-width="1.7" stroke-linejoin="round"/>
<path d="M145.9 41.2 145.7 40.1 144.7 38.9 143.7 39.4 143.6 41.2 144.7 41.8 145.9 41.2zM197.3 38.2 197.2 40.2 197.8 41.2 198.8 42.2 199.7 43.3 200.7 44.4 202.2 44.2 202.7 43.2 203.3 41.2 203.7 40.2 204.7 38.3M117.5 63.2 118.7 62.5 119.6 61.2 120.3 60.2 121.0 59.2 121.7 58.2 121.8 56.2 120.9 55.2 119.7 54.2 119.7 53.2 120.1 52.2 120.7 51.2 121.5 49.2 121.9 48.2 122.1 46.2 121.3 45.2 119.7 44.6 117.7 45.0 115.7 44.9 113.9 44.2 113.6 44.2 112.3 45.2 110.8 46.2 109.7 46.2 108.7 45.7 107.7 45.0 106.0 44.2 104.7 44.0 103.4 44.2 102.4 45.2 101.8 47.2 101.9 49.2 101.9 51.2 101.8 53.2 102.6 55.2 103.7 55.5 105.7 56.0 107.7 55.3 108.5 54.2 109.7 53.2 110.7 53.1 111.7 53.5 112.7 54.3 113.7 55.5 114.3 57.2 114.2 59.2 113.9 61.2 113.7 63.2 115.7 63.6 117.5 63.2zM53.0 52.2 54.7 51.3 55.5 50.2 56.0 49.2 56.7 47.8 57.3 46.2 56.7 45.1 55.7 45.3 54.7 46.4 53.7 47.7 52.7 49.1 52.2 50.2 52.6 52.2 53.0 52.2zM89.6 53.2 90.7 52.5 90.7 51.8 89.8 50.2 88.7 49.2 87.7 48.9 85.7 48.7 83.9 49.2 83.6 50.2 83.8 51.2 84.7 52.9 85.7 53.4 87.7 53.7 89.6 53.2zM159.2 62.2 160.3 61.2 160.4 59.2 159.7 58.1 158.7 57.2 157.0 56.2 155.7 55.7 153.7 55.7 152.1 56.2 150.7 56.7 148.7 57.1 147.7 57.3 146.5 58.2 146.7 59.6 147.7 60.5 148.8 61.2 150.5 62.2 151.7 62.5 153.7 62.6 155.7 62.8 157.7 62.6 159.2 62.2zM176.8 61.2 176.7 59.2 176.2 58.2 175.7 57.2 174.7 56.0 173.3 56.2 172.1 57.2 171.7 58.2 171.7 59.7 172.7 60.6 174.1 61.2 175.7 61.6 176.8 61.2zM66.1 82.2 66.9 81.2 67.0 79.2 66.7 78.2 66.7 77.0 67.7 76.1 69.1 75.2 70.1 74.2 70.9 73.2 70.7 71.4 69.7 70.2 69.0 69.2 68.7 68.2 68.7 66.2 68.7 65.2 68.5 64.2 67.7 62.3 67.0 61.2 66.6 60.2 65.7 58.3 65.2 60.2 65.5 62.2 65.8 63.2 66.1 65.2 65.5 66.2 63.7 66.6 62.5 66.2 60.9 65.2 59.7 64.2 58.7 63.6 57.7 64.8 57.5 66.2 57.7 67.4 58.7 68.3 60.6 69.2 61.7 70.2 62.5 71.2 63.2 72.2 63.9 73.2 64.5 75.2 63.7 77.0 62.7 77.7 61.7 78.3 60.1 79.2 61.0 80.2 61.7 81.5 62.7 82.6 64.7 82.9 66.1 82.2zM111.6 64.2 112.6 63.2 111.7 62.2 110.5 61.2 108.7 60.7 107.7 61.2 107.4 63.2 108.6 64.2 109.7 64.3 111.6 64.2zM212.7 64.1 210.7 63.6 209.7 62.9 208.4 62.2 206.9 62.2 205.7 62.9 204.7 64.2 204.5 65.2 204.5 67.2 205.7 68.1 206.7 68.3 208.7 68.6 210.1 68.2 211.1 67.2 212.0 66.2M81.2 67.2 82.7 66.3 83.4 65.2 82.7 63.7 81.7 63.0 79.7 62.3 77.7 63.0 77.0 64.2 77.7 66.1 78.7 67.0 79.7 67.3 81.2 67.2zM167.3 73.2 168.3 72.2 168.9 71.2 168.7 70.0 167.8 68.2 167.6 67.2 167.7 66.2 168.0 64.2 166.7 63.6 164.9 64.2 164.2 65.2 164.6 67.2 165.1 68.2 165.7 70.2 165.7 72.2 166.1 73.2 167.3 73.2zM45.7 73.5 47.7 74.1 49.7 73.8 51.7 73.5 51.9 72.2 51.6 71.2 50.7 69.9 49.7 68.6 48.7 67.5 47.7 66.6 45.7 66.2M132.1 70.2 132.6 68.2 130.7 67.8 129.5 68.2 129.5 70.2 130.7 70.7 132.1 70.2zM143.2 74.2 143.8 73.2 144.1 71.2 143.7 70.0 142.4 70.2 140.7 71.1 139.7 71.5 137.9 72.2 137.4 73.2 138.0 74.2 139.7 74.9 141.7 74.8 143.2 74.2zM85.2 79.2 86.3 78.2 86.8 77.2 86.7 75.2 85.7 74.3 84.7 73.9 82.7 73.4 81.0 73.2 80.2 73.2 79.2 74.2 79.4 76.2 80.1 77.2 81.0 78.2 82.2 79.2 83.7 79.7 85.2 79.2zM188.2 76.2 186.7 75.3 184.9 76.2 186.7 77.1 188.2 76.2zM56.8 80.2 58.7 79.4 59.7 78.2 57.7 77.5 56.5 77.2 54.7 76.8 53.3 77.2 53.6 79.2 54.7 80.2 55.7 80.4 56.8 80.2zM199.7 83.2 200.7 81.5 201.6 80.2 202.1 79.2 201.4 78.2 200.0 77.2 198.7 76.7 197.4 77.2 197.0 79.2 197.1 81.2 197.7 83.0 198.7 83.5 199.7 83.2zM212.7 81.2 211.7 81.1 210.4 80.2 209.5 79.2 207.7 78.5 205.7 79.0 205.0 80.2 205.1 82.2 204.5 83.2 203.4 84.2 202.3 85.2 202.5 87.2 202.9 88.2 203.7 90.1 203.9 91.2 204.7 93.1 205.7 93.9 207.7 93.7 208.7 92.8 209.7 91.8 210.7 91.1 211.7 90.0 212.7 88.6M192.3 84.2 193.1 83.2 192.7 82.0 191.7 81.0 189.7 81.0 189.1 82.2 189.0 84.2 190.7 84.8 192.3 84.2zM94.9 96.2 95.7 94.9 96.7 94.1 98.7 93.2 99.7 92.8 101.1 92.2 102.0 91.2 102.7 89.6 103.7 88.4 104.7 87.7 106.0 88.2 107.4 89.2 108.6 90.2 109.7 90.6 111.5 91.2 112.7 91.9 113.7 92.3 114.8 92.2 116.7 91.2 117.7 90.5 118.7 89.5 119.2 88.2 118.7 86.6 117.7 85.7 115.7 85.4 114.3 86.2 113.0 87.2 111.7 87.8 110.5 87.2 109.2 86.2 107.7 86.0 106.4 86.2 104.7 86.8 103.1 86.2 101.7 85.8 99.7 85.4 98.1 86.2 97.7 87.7 97.1 89.2 96.4 90.2 95.7 91.6 94.7 93.1 93.7 93.7 91.7 93.8 90.7 95.1 90.7 95.3 91.7 96.3 93.7 96.6 94.9 96.2zM179.4 92.2 179.7 91.2 180.1 89.2 180.5 87.2 179.7 85.8 177.7 86.1 176.7 86.8 175.7 87.6 174.7 88.5 173.7 89.4 173.4 91.2 174.7 91.9 175.7 92.2 177.7 92.7 179.4 92.2zM186.9 88.2 187.2 86.2 185.7 85.6 183.7 86.2 184.7 88.0 185.7 88.6 186.9 88.2zM77.4 99.2 78.3 98.2 78.4 96.2 78.7 94.6 79.4 93.2 80.1 92.2 79.7 90.8 78.7 89.9 77.7 88.8 76.7 87.8 74.7 87.2 72.7 88.2 71.7 88.9 70.7 89.6 69.7 90.2 68.6 91.2 68.4 93.2 68.9 94.2 69.8 95.2 70.8 96.2 71.7 97.2 72.7 98.2 73.9 99.2 75.7 99.7 77.4 99.2zM85.6 92.2 86.1 91.2 85.7 90.0 84.7 88.9 82.7 88.8 81.7 90.2 81.5 91.2 82.7 92.1 83.7 92.6 85.6 92.2zM168.8 92.2 170.1 91.2 169.7 90.1 168.5 90.2 167.7 91.2 168.6 92.2 168.8 92.2zM201.2 105.2 202.0 104.2 202.7 102.6 203.0 101.2 203.4 99.2 203.0 97.2 202.1 96.2 200.9 95.2 200.0 94.2 198.8 93.2 197.7 92.6 195.7 92.2 194.7 92.0 192.8 91.2 191.7 90.6 190.7 90.2 188.7 89.9 187.7 90.3 185.7 90.7 184.6 91.2 183.2 92.2 181.9 93.2 180.7 93.4 179.2 94.2 179.3 96.2 180.7 96.5 181.7 95.8 182.7 95.1 184.7 95.2 185.7 95.7 186.7 96.5 187.2 98.2 186.7 99.6 186.5 101.2 186.7 102.3 187.7 103.5 189.7 104.0 191.7 103.3 192.6 102.2 193.7 101.4 195.7 102.0 196.7 103.1 197.2 104.2 198.0 105.2 199.7 106.0 201.2 105.2zM57.3 93.2 58.2 92.2 57.7 90.4 55.7 91.2 55.3 92.2 55.7 93.7 57.3 93.2zM144.7 101.2 145.1 100.2 145.6 98.2 145.8 97.2 146.0 95.2 145.7 94.1 144.7 92.5 143.7 91.6 141.7 91.3 139.7 91.7 138.7 92.5 137.7 93.8 136.7 94.9 135.7 95.6 135.7 97.2 137.7 96.5 139.7 96.4 140.9 97.2 141.6 99.2 141.9 100.2 142.7 101.5 144.7 101.2zM62.0 101.2 63.2 100.2 63.3 98.2 61.7 97.2 60.7 97.1 59.7 97.2 58.3 98.2 58.7 100.2 59.7 100.9 60.7 101.2 62.0 101.2zM45.7 108.7 46.9 109.2 48.7 109.4 49.2 108.2 49.2 106.2 49.6 104.2 50.7 103.3 52.7 104.1 54.7 103.2 54.3 101.2 53.5 100.2 52.5 100.2 50.7 100.9 48.7 100.4 46.7 100.5M186.2 112.2 186.7 111.2 186.1 110.2 184.9 109.2 183.7 108.6 182.1 108.2 180.7 107.2 179.8 106.2 179.4 106.2 178.7 107.2 179.3 108.2 180.7 109.1 181.7 109.7 182.7 110.9 183.7 111.8 184.7 112.3 186.2 112.2zM67.8 110.2 68.7 109.1 69.8 108.2 70.8 107.2 69.7 106.9 68.6 107.2 66.7 107.7 65.7 108.4 65.4 110.2 66.7 110.8 67.8 110.2zM158.9 121.2 158.7 120.1 158.2 118.2 158.7 117.2 159.7 115.7 159.7 114.4 159.0 113.2 158.1 112.2 156.8 111.2 155.7 110.7 154.4 111.2 153.6 112.2 152.9 114.2 153.2 116.2 153.7 117.7 154.0 119.2 153.7 120.2 154.1 121.2 155.7 121.8 157.7 121.6 158.9 121.2zM72.7 125.2 73.7 124.5 74.0 123.2 72.7 122.3 71.7 122.1 70.7 122.3 68.7 123.2 68.2 124.2 69.6 125.2 70.7 125.4 72.7 125.2zM164.5 137.2 165.6 136.2 166.7 135.3 168.7 135.3 169.7 135.1 171.6 134.2 172.4 133.2 173.0 132.2 173.1 130.2 172.1 129.2 171.0 128.2 169.9 127.2 168.7 126.4 166.7 126.8 166.3 128.2 165.7 129.9 165.1 131.2 164.5 132.2 163.2 133.2 161.7 133.6 159.7 133.4 158.9 132.2 157.7 131.7 157.6 133.2 158.7 133.8 159.7 135.1 160.3 136.2 161.5 137.2 162.7 137.6 164.5 137.2zM45.7 140.0 46.7 140.2 48.6 140.2 48.9 139.2 48.3 138.2 47.7 137.0 46.7 135.4 46.2 134.2 47.0 133.2 48.0 132.2 48.4 130.2 46.7 129.9M114.8 133.2 114.9 131.2 114.4 131.2 113.6 132.2 113.7 133.9 114.8 133.2zM138.8 139.2 140.7 138.2 141.7 137.5 142.7 136.7 142.7 135.3 141.7 135.1 139.7 134.6 138.7 134.2 136.7 133.2 135.7 132.9 134.7 133.4 134.0 135.2 133.8 137.2 134.7 138.4 135.8 139.2 137.7 139.7 138.8 139.2zM182.0 150.2 183.7 149.4 184.7 149.2 186.7 149.1 187.7 149.2 189.7 149.2 190.7 148.4 191.7 147.4 192.7 146.6 193.6 145.2 193.8 144.2 193.7 142.3 193.4 141.2 192.9 139.2 192.7 137.8 191.7 136.6 189.7 136.3 188.7 136.1 186.7 135.3 185.7 134.7 183.7 134.2 181.7 134.9 180.7 135.5 179.7 136.5 179.6 138.2 180.1 139.2 180.7 140.5 181.1 142.2 181.1 144.2 180.7 146.2 180.4 147.2 180.0 149.2 180.7 150.5 182.0 150.2zM123.1 140.2 122.7 138.6 121.8 137.2 120.7 137.1 119.7 138.2 119.5 139.2 119.8 140.2 121.7 141.0 123.1 140.2zM152.4 147.2 153.2 146.2 154.0 145.2 154.8 144.2 154.7 142.3 154.1 141.2 153.4 140.2 152.7 139.1 151.7 137.9 149.7 137.7 148.5 138.2 148.3 140.2 148.7 142.1 148.7 142.2 148.4 144.2 148.7 145.9 149.6 147.2 150.7 147.9 152.4 147.2zM70.9 155.2 72.3 154.2 73.0 153.2 73.7 152.1 74.7 151.2 76.7 150.4 77.7 150.2 79.7 150.2 80.7 150.3 81.7 150.2 82.8 149.2 83.3 147.2 82.7 145.6 81.7 144.5 80.7 143.8 79.7 143.2 77.7 142.4 75.7 143.0 74.7 143.5 73.5 144.2 72.6 145.2 72.0 147.2 71.7 148.3 70.7 150.0 69.7 150.9 68.7 151.5 68.0 153.2 68.7 154.5 69.7 155.2 70.9 155.2zM61.4 151.2 62.7 150.3 62.7 150.0 61.7 148.9 59.7 149.1 58.7 150.2 58.7 150.4 59.7 151.4 61.4 151.2zM125.9 157.2 127.7 156.3 128.7 155.3 129.0 154.2 128.8 152.2 128.2 151.2 126.7 150.4 125.5 151.2 124.7 152.4 123.9 154.2 123.9 156.2 124.7 157.8 125.9 157.2zM45.7 165.1 46.7 165.9 46.9 167.2 47.6 169.2 47.9 169.2 49.4 168.2 50.7 167.6 52.7 167.3 53.7 167.2 55.7 167.2 56.7 167.4 58.0 167.2 58.8 166.2 59.7 164.2 60.6 163.2 61.3 162.2 60.4 161.2 58.7 160.3 57.7 159.9 55.7 159.9 53.7 159.7 51.7 159.8 50.7 160.3 49.7 161.2 48.7 162.4 47.7 163.3 46.2 163.2M101.4 196.2 102.7 195.8 104.7 195.3 105.5 194.2 105.9 193.2 106.7 192.0 108.7 191.3 110.0 192.2 111.1 193.2 112.7 193.9 114.7 194.0 116.7 193.5 117.2 192.2 117.0 190.2 117.0 188.2 117.7 186.3 117.7 185.6 116.7 184.9 115.5 185.2 113.7 185.8 111.7 186.2 111.3 184.2 111.9 183.2 112.5 181.2 113.4 180.2 114.7 179.8 116.5 179.2 117.7 178.2 117.7 177.2 117.6 176.2 117.4 174.2 117.5 172.2 116.9 170.2 115.7 169.7 114.9 171.2 114.6 172.2 113.7 173.6 112.7 174.6 111.7 175.3 110.6 176.2 109.7 177.6 108.7 179.0 107.7 179.9 106.7 180.9 105.7 181.9 104.7 182.8 103.7 183.6 102.7 184.7 102.0 186.2 101.8 188.2 101.7 189.2 101.0 191.2 100.1 192.2 98.7 193.2 97.9 194.2 98.3 196.2 99.7 196.6 101.4 196.2zM87.1 180.2 88.6 179.2 89.2 178.2 89.3 176.2 88.4 175.2 87.7 174.1 86.7 173.0 84.7 172.3 83.7 172.2 82.7 172.4 81.7 173.2 81.3 175.2 81.7 176.6 82.7 178.0 83.7 178.6 84.8 179.2 86.5 180.2 87.1 180.2zM52.8 181.2 54.7 180.7 56.7 180.6 58.7 180.3 59.7 179.7 60.7 179.1 61.8 178.2 62.3 176.2 61.6 175.2 59.7 174.6 58.6 174.2 56.7 173.4 54.7 173.2 52.7 173.5 51.5 174.2 50.9 176.2 50.9 178.2 51.4 180.2 52.6 181.2 52.8 181.2zM122.0 178.2 123.5 177.2 123.8 176.2 122.7 175.4 120.7 176.0 119.9 177.2 119.4 178.2 120.7 178.9 122.0 178.2zM145.7 198.2 146.0 197.2 145.7 195.2 145.2 194.2 144.7 192.9 144.5 191.2 144.7 190.2 145.1 188.2 145.7 186.8 146.3 185.2 145.7 184.2 143.7 183.2 142.7 182.9 140.8 182.2 139.7 181.9 137.7 181.3 136.7 180.9 135.7 179.7 134.7 178.2 133.7 178.2 132.7 178.5 131.7 179.2 130.7 181.0 130.7 181.7 131.0 183.2 131.3 185.2 130.7 186.2 128.9 186.2 127.7 185.8 125.7 185.6 124.7 186.5 123.7 188.1 123.0 189.2 122.3 190.2 121.5 191.2 120.6 192.2 119.5 193.2 118.7 194.2 118.7 196.2 119.7 196.9 121.7 197.2 121.9 197.2 123.7 197.2 125.7 196.8 127.7 197.1 128.7 197.7 130.7 197.9 132.7 197.2 133.7 197.1 134.7 197.5 136.1 198.2 137.2 198.2 138.7 197.7 140.7 197.6 142.1 198.2 143.7 198.9 145.7 198.2zM52.3 187.2 52.1 185.2 50.7 184.4 49.4 185.2 48.5 186.2 48.7 187.3 50.7 187.7 52.3 187.2zM205.6 204.2 204.9 202.2 204.6 201.2 204.0 199.2 202.7 198.4 200.9 199.2 200.4 200.2 200.6 202.2 201.5 203.2 202.4 204.2M184.1 203.2 185.7 202.7 186.7 202.0 186.7 200.4 185.7 200.0 183.7 200.0 182.7 200.3 181.5 201.2 181.0 203.2 182.7 203.5 184.1 203.2z" fill="none" stroke="#c42b2b" stroke-width="1.7" stroke-dasharray="3.8 2.3"/>
<path d="M115.4 53.2 115.8 52.2 115.7 50.8 115.1 49.2 114.2 48.2 112.7 47.9 111.7 48.2 109.7 48.9 108.7 48.1 107.6 47.2 105.7 46.5 104.7 47.4 104.3 49.2 104.4 51.2 104.7 52.3 106.7 53.1 107.9 52.2 109.0 51.2 110.7 50.7 111.7 51.4 112.7 52.2 114.2 53.2 115.4 53.2zM157.4 61.2 158.6 60.2 157.7 58.4 156.7 57.8 154.7 57.6 153.2 58.2 151.7 59.1 151.4 60.2 152.7 60.7 154.1 61.2 155.7 61.4 157.4 61.2zM84.4 78.2 85.4 77.2 84.7 75.3 83.7 75.0 81.8 75.2 81.4 76.2 81.8 77.2 83.1 78.2 84.4 78.2zM207.1 89.2 207.6 87.2 206.8 85.2 205.7 85.1 204.7 86.0 204.5 87.2 204.9 88.2 205.7 89.7 207.1 89.2zM115.9 90.2 117.3 89.2 117.8 88.2 117.1 87.2 115.7 87.2 114.7 88.1 114.2 89.2 114.7 90.3 115.9 90.2zM75.8 97.2 76.7 95.8 77.4 94.2 77.8 93.2 78.0 91.2 77.4 90.2 76.5 89.2 74.7 88.6 73.3 89.2 72.1 90.2 71.2 91.2 70.7 93.2 71.7 95.0 72.7 96.1 73.7 96.8 74.7 97.3 75.8 97.2zM190.2 101.2 191.0 100.2 190.9 98.2 191.7 96.4 192.0 95.2 191.7 94.1 190.5 93.2 189.2 93.2 188.2 94.2 188.7 95.2 189.7 96.4 190.6 98.2 189.6 99.2 189.0 101.2 190.2 101.2zM200.8 102.2 200.8 100.2 200.5 99.2 199.3 98.2 197.7 97.7 197.4 99.2 198.2 100.2 199.0 101.2 199.7 103.1 200.8 102.2zM157.4 115.2 157.1 113.2 155.7 112.7 154.7 113.4 154.5 115.2 155.7 116.2 157.4 115.2zM169.8 132.2 169.7 130.8 168.7 130.2 167.7 131.2 168.7 132.5 169.8 132.2zM187.3 146.2 186.8 144.2 188.7 144.2 189.7 144.4 191.0 144.2 191.8 143.2 191.7 141.9 190.9 140.2 190.3 139.2 189.4 138.2 187.7 137.5 186.7 137.2 184.7 136.7 182.7 136.5 181.5 137.2 181.7 138.8 182.5 140.2 183.4 141.2 184.7 142.0 185.7 142.3 187.2 143.2 185.7 144.0 184.5 144.2 183.3 145.2 183.7 146.5 185.7 147.0 187.3 146.2zM76.6 149.2 77.7 149.0 79.7 148.8 81.2 148.2 81.1 146.2 80.0 145.2 78.7 144.4 77.7 144.0 76.0 144.2 74.7 144.9 73.8 146.2 73.5 147.2 73.7 149.1 74.7 149.4 76.6 149.2zM55.5 164.2 54.7 162.9 53.7 162.2 52.0 162.2 51.0 163.2 51.7 164.9 53.7 165.1 55.5 164.2zM115.1 177.2 114.7 175.4 112.9 176.2 112.3 177.2 113.7 178.1 115.1 177.2zM104.1 191.2 105.6 190.2 106.7 189.6 107.7 189.2 109.2 188.2 108.8 186.2 108.4 185.2 106.7 185.0 105.7 185.7 104.7 186.6 103.7 188.0 103.5 189.2 103.5 191.2 104.1 191.2zM143.8 196.2 143.6 195.2 142.5 194.2 141.7 193.2 141.7 191.4 142.3 190.2 142.8 189.2 142.8 187.2 141.8 186.2 141.4 186.2 139.7 186.6 137.7 187.0 136.7 187.5 135.7 188.6 134.8 190.2 134.3 191.2 134.1 193.2 134.9 194.2 136.3 195.2 137.7 195.6 139.7 195.6 141.7 195.8 142.7 196.3 143.8 196.2zM114.6 192.2 115.3 191.2 115.0 189.2 114.0 188.2 113.1 188.2 111.7 188.8 111.2 190.2 111.7 191.3 112.7 192.2 114.6 192.2zM132.0 195.2 132.4 193.2 131.4 192.2 130.4 191.2 129.6 190.2 128.7 189.2 127.1 188.2 125.7 188.2 124.7 188.9 123.8 190.2 123.2 191.2 122.5 192.2 122.1 194.2 123.7 194.9 125.7 194.7 127.7 194.9 128.7 195.4 130.7 195.9 132.0 195.2z" fill="none" stroke="#c42b2b" stroke-width="1.7" stroke-dasharray="3.8 2.3"/>
</g>
<circle cx="128.9" cy="121.3" r="3.9" fill="#00ffff"/>
<ellipse cx="61" cy="189" rx="5.8" ry="8.1" fill="#ff00ff" transform="rotate(8 61 189)"/>
<rect x="45.20" y="37.70" width="167.60" height="166.80" fill="none" stroke="#1a1a1a" stroke-width="1"/>
<path d="M45.2 204.5v-2.5M45.2 204.5h2.5M87.1 204.5v-2.5M45.2 162.8h2.5M129.0 204.5v-2.5M45.2 121.1h2.5M170.9 204.5v-2.5M45.2 79.4h2.5M212.8 204.5v-2.5M45.2 37.7h2.5" stroke="#1a1a1a" stroke-width="0.8"/>
<text x="45.2" y="216.4" font-size="9.2" text-anchor="middle">−4</text>
<text x="40.2" y="207.8" font-size="9.2" text-anchor="end">−4</text>
<text x="87.1" y="216.4" font-size="9.2" text-anchor="middle">−2</text>
<text x="40.2" y="166.1" font-size="9.2" text-anchor="end">−2</text>
<text x="129.0" y="216.4" font-size="9.2" text-anchor="middle">0</text>
<text x="40.2" y="124.4" font-size="9.2" text-anchor="end">0</text>
<text x="170.9" y="216.4" font-size="9.2" text-anchor="middle">2</text>
<text x="40.2" y="82.7" font-size="9.2" text-anchor="end">2</text>
<text x="212.8" y="216.4" font-size="9.2" text-anchor="middle">4</text>
<text x="40.2" y="41.0" font-size="9.2" text-anchor="end">4</text>
<text x="129.0" y="230.6" font-size="10.8" text-anchor="middle">(arcsec)</text>
<text x="129.0" y="32.5" font-size="11" text-anchor="middle" fill="#111">Continuum (3 mm)</text>
<text x="20.6" y="120.9" font-size="10.8" text-anchor="middle" transform="rotate(-90 20.6 120.9)">(arcsec)</text>
<clipPath id="cb"><rect x="269.50" y="37.80" width="167.50" height="166.70"/></clipPath>
<g clip-path="url(#cb)"><g filter="url(#blur1)">
<path fill="#1f9a8a" d="M266.5 34.8h6.7v6.6h-6.7zM313.1 34.8h3.6v6.6h-3.6zM356.6 34.8h3.6v6.6h-3.6zM433.6 41.1h6.7v3.6h-6.7zM272.9 47.8h3.6v3.6h-3.6zM276.2 47.8h3.6v3.6h-3.6zM326.4 47.8h3.6v3.6h-3.6zM400.1 47.8h3.6v3.6h-3.6zM286.2 54.5h3.6v3.6h-3.6zM289.6 54.5h3.6v3.6h-3.6zM423.6 64.5h3.6v3.6h-3.6zM430.3 67.8h3.6v3.6h-3.6zM433.6 67.8h6.7v3.6h-6.7zM276.2 71.1h3.6v3.6h-3.6zM359.9 71.1h3.6v3.6h-3.6zM282.9 74.5h3.6v3.6h-3.6zM366.6 74.5h3.6v3.6h-3.6zM420.2 74.5h3.6v3.6h-3.6zM276.2 77.8h3.6v3.6h-3.6zM282.9 77.8h3.6v3.6h-3.6zM329.8 77.8h3.6v3.6h-3.6zM363.3 77.8h3.6v3.6h-3.6zM282.9 81.1h3.6v3.6h-3.6zM299.6 81.1h3.6v3.6h-3.6zM343.2 81.1h3.6v3.6h-3.6zM359.9 81.1h3.6v3.6h-3.6zM363.3 81.1h3.6v3.6h-3.6zM363.3 84.5h3.6v3.6h-3.6zM336.5 87.8h3.6v3.6h-3.6zM306.4 94.5h3.6v3.6h-3.6zM413.6 94.5h3.6v3.6h-3.6zM376.7 101.1h3.6v3.6h-3.6zM336.5 104.5h3.6v3.6h-3.6zM343.2 104.5h3.6v3.6h-3.6zM349.9 104.5h3.6v3.6h-3.6zM336.5 107.8h3.6v3.6h-3.6zM433.6 107.8h6.7v3.6h-6.7zM309.7 111.1h3.6v3.6h-3.6zM339.9 111.1h3.6v3.6h-3.6zM390.1 111.1h3.6v3.6h-3.6zM289.6 114.5h3.6v3.6h-3.6zM316.4 114.5h3.6v3.6h-3.6zM279.6 117.8h3.6v3.6h-3.6zM316.4 117.8h3.6v3.6h-3.6zM323.1 117.8h3.6v3.6h-3.6zM336.5 117.8h3.6v3.6h-3.6zM343.2 117.8h3.6v3.6h-3.6zM303.0 121.1h3.6v3.6h-3.6zM292.9 127.8h3.6v3.6h-3.6zM286.2 134.5h3.6v3.6h-3.6zM303.0 134.5h3.6v3.6h-3.6zM326.4 134.5h3.6v3.6h-3.6zM349.9 134.5h3.6v3.6h-3.6zM306.4 137.8h3.6v3.6h-3.6zM416.9 137.8h3.6v3.6h-3.6zM299.6 141.2h3.6v3.6h-3.6zM326.4 141.2h3.6v3.6h-3.6zM363.3 141.2h3.6v3.6h-3.6zM416.9 141.2h3.6v3.6h-3.6zM343.2 144.5h3.6v3.6h-3.6zM346.6 144.5h3.6v3.6h-3.6zM416.9 144.5h3.6v3.6h-3.6zM353.2 151.2h3.6v3.6h-3.6zM353.2 154.5h3.6v3.6h-3.6zM427.0 157.8h3.6v3.6h-3.6zM333.1 161.2h3.6v3.6h-3.6zM336.5 161.2h3.6v3.6h-3.6zM343.2 161.2h3.6v3.6h-3.6zM309.7 164.5h3.6v3.6h-3.6zM329.8 167.8h3.6v3.6h-3.6zM376.7 167.8h3.6v3.6h-3.6zM390.1 167.8h3.6v3.6h-3.6zM336.5 171.2h3.6v3.6h-3.6zM366.6 174.5h3.6v3.6h-3.6zM370.0 174.5h3.6v3.6h-3.6zM373.4 174.5h3.6v3.6h-3.6zM433.6 174.5h6.7v3.6h-6.7zM356.6 177.8h3.6v3.6h-3.6zM420.2 177.8h3.6v3.6h-3.6zM393.4 181.2h3.6v3.6h-3.6zM326.4 184.5h3.6v3.6h-3.6zM329.8 184.5h3.6v3.6h-3.6zM333.1 184.5h3.6v3.6h-3.6zM406.9 184.5h3.6v3.6h-3.6zM380.1 187.8h3.6v3.6h-3.6zM383.4 187.8h3.6v3.6h-3.6zM316.4 191.2h3.6v3.6h-3.6zM319.8 191.2h3.6v3.6h-3.6zM279.6 194.5h3.6v3.6h-3.6zM319.8 194.5h3.6v3.6h-3.6zM356.6 194.5h3.6v3.6h-3.6zM400.1 194.5h3.6v3.6h-3.6zM403.5 194.5h3.6v3.6h-3.6zM420.2 197.8h3.6v3.6h-3.6zM416.9 201.2h3.6v6.6h-3.6z"/>
<path fill="#21a585" d="M272.9 34.8h3.6v6.6h-3.6zM276.2 34.8h3.6v6.6h-3.6zM430.3 34.8h3.6v6.6h-3.6zM266.5 41.1h6.7v3.6h-6.7zM276.2 41.1h3.6v3.6h-3.6zM423.6 44.5h3.6v3.6h-3.6zM403.5 47.8h3.6v3.6h-3.6zM423.6 47.8h3.6v3.6h-3.6zM292.9 51.1h3.6v3.6h-3.6zM336.5 67.8h3.6v3.6h-3.6zM329.8 71.1h3.6v3.6h-3.6zM266.5 74.5h6.7v3.6h-6.7zM296.3 77.8h3.6v3.6h-3.6zM339.9 77.8h3.6v3.6h-3.6zM276.2 81.1h3.6v3.6h-3.6zM359.9 84.5h3.6v3.6h-3.6zM396.8 84.5h3.6v3.6h-3.6zM359.9 87.8h3.6v3.6h-3.6zM393.4 87.8h3.6v3.6h-3.6zM427.0 87.8h3.6v3.6h-3.6zM289.6 91.1h3.6v3.6h-3.6zM292.9 94.5h3.6v3.6h-3.6zM336.5 97.8h3.6v3.6h-3.6zM433.6 97.8h6.7v3.6h-6.7zM266.5 101.1h6.7v3.6h-6.7zM430.3 104.5h3.6v3.6h-3.6zM272.9 107.8h3.6v3.6h-3.6zM376.7 107.8h3.6v3.6h-3.6zM363.3 111.1h3.6v3.6h-3.6zM292.9 114.5h3.6v3.6h-3.6zM313.1 114.5h3.6v3.6h-3.6zM266.5 117.8h6.7v3.6h-6.7zM282.9 117.8h3.6v3.6h-3.6zM313.1 117.8h3.6v3.6h-3.6zM306.4 121.1h3.6v3.6h-3.6zM333.1 127.8h3.6v3.6h-3.6zM306.4 134.5h3.6v3.6h-3.6zM286.2 137.8h3.6v3.6h-3.6zM323.1 141.2h3.6v3.6h-3.6zM359.9 141.2h3.6v3.6h-3.6zM420.2 141.2h3.6v3.6h-3.6zM313.1 144.5h3.6v3.6h-3.6zM306.4 151.2h3.6v3.6h-3.6zM333.1 151.2h3.6v3.6h-3.6zM313.1 154.5h3.6v3.6h-3.6zM349.9 154.5h3.6v3.6h-3.6zM306.4 157.8h3.6v3.6h-3.6zM309.7 157.8h3.6v3.6h-3.6zM309.7 161.2h3.6v3.6h-3.6zM339.9 164.5h3.6v3.6h-3.6zM346.6 167.8h3.6v3.6h-3.6zM339.9 171.2h3.6v3.6h-3.6zM390.1 171.2h3.6v3.6h-3.6zM376.7 174.5h3.6v3.6h-3.6zM396.8 174.5h3.6v3.6h-3.6zM323.1 177.8h3.6v3.6h-3.6zM326.4 177.8h3.6v3.6h-3.6zM393.4 177.8h3.6v3.6h-3.6zM410.2 177.8h3.6v3.6h-3.6zM430.3 177.8h3.6v3.6h-3.6zM416.9 181.2h3.6v3.6h-3.6zM323.1 184.5h3.6v3.6h-3.6zM376.7 184.5h3.6v3.6h-3.6zM316.4 187.8h3.6v3.6h-3.6zM323.1 187.8h3.6v3.6h-3.6zM427.0 191.2h3.6v3.6h-3.6zM406.9 194.5h3.6v3.6h-3.6zM390.1 197.8h3.6v3.6h-3.6zM296.3 201.2h3.6v6.6h-3.6zM383.4 201.2h3.6v6.6h-3.6zM390.1 201.2h3.6v6.6h-3.6zM413.6 201.2h3.6v6.6h-3.6zM427.0 201.2h3.6v6.6h-3.6zM430.3 201.2h3.6v6.6h-3.6z"/>
<path fill="#238a8d" d="M279.6 34.8h3.6v6.6h-3.6zM309.7 34.8h3.6v6.6h-3.6zM343.2 34.8h3.6v6.6h-3.6zM346.6 34.8h3.6v6.6h-3.6zM383.4 34.8h3.6v6.6h-3.6zM279.6 41.1h3.6v3.6h-3.6zM393.4 41.1h3.6v3.6h-3.6zM390.1 44.5h3.6v3.6h-3.6zM292.9 47.8h3.6v3.6h-3.6zM329.8 47.8h3.6v3.6h-3.6zM416.9 47.8h3.6v3.6h-3.6zM282.9 51.1h3.6v3.6h-3.6zM326.4 51.1h3.6v3.6h-3.6zM329.8 51.1h3.6v3.6h-3.6zM353.2 51.1h3.6v3.6h-3.6zM376.7 51.1h3.6v3.6h-3.6zM380.1 51.1h3.6v3.6h-3.6zM376.7 54.5h3.6v3.6h-3.6zM380.1 54.5h3.6v3.6h-3.6zM433.6 54.5h6.7v3.6h-6.7zM313.1 57.8h3.6v3.6h-3.6zM329.8 57.8h3.6v3.6h-3.6zM343.2 57.8h3.6v3.6h-3.6zM353.2 57.8h3.6v3.6h-3.6zM319.8 61.1h3.6v3.6h-3.6zM329.8 61.1h3.6v3.6h-3.6zM333.1 61.1h3.6v3.6h-3.6zM339.9 61.1h3.6v3.6h-3.6zM343.2 61.1h3.6v3.6h-3.6zM370.0 61.1h3.6v3.6h-3.6zM353.2 64.5h3.6v3.6h-3.6zM373.4 64.5h3.6v3.6h-3.6zM376.7 64.5h3.6v3.6h-3.6zM266.5 67.8h6.7v3.6h-6.7zM272.9 67.8h3.6v3.6h-3.6zM383.4 67.8h3.6v3.6h-3.6zM279.6 71.1h3.6v3.6h-3.6zM416.9 74.5h3.6v3.6h-3.6zM279.6 77.8h3.6v3.6h-3.6zM333.1 81.1h3.6v3.6h-3.6zM336.5 81.1h3.6v3.6h-3.6zM356.6 81.1h3.6v3.6h-3.6zM336.5 84.5h3.6v3.6h-3.6zM333.1 87.8h3.6v3.6h-3.6zM420.2 87.8h3.6v3.6h-3.6zM433.6 87.8h6.7v3.6h-6.7zM306.4 91.1h3.6v3.6h-3.6zM333.1 91.1h3.6v3.6h-3.6zM376.7 91.1h3.6v3.6h-3.6zM380.1 91.1h3.6v3.6h-3.6zM390.1 91.1h3.6v3.6h-3.6zM299.6 94.5h3.6v3.6h-3.6zM333.1 94.5h3.6v3.6h-3.6zM356.6 94.5h3.6v3.6h-3.6zM359.9 94.5h3.6v3.6h-3.6zM370.0 94.5h3.6v3.6h-3.6zM383.4 94.5h3.6v3.6h-3.6zM410.2 94.5h3.6v3.6h-3.6zM416.9 94.5h3.6v3.6h-3.6zM433.6 94.5h6.7v3.6h-6.7zM309.7 97.8h3.6v3.6h-3.6zM346.6 97.8h3.6v3.6h-3.6zM380.1 97.8h3.6v3.6h-3.6zM416.9 97.8h3.6v3.6h-3.6zM420.2 97.8h3.6v3.6h-3.6zM343.2 101.1h3.6v3.6h-3.6zM346.6 101.1h3.6v3.6h-3.6zM349.9 101.1h3.6v3.6h-3.6zM329.8 104.5h3.6v3.6h-3.6zM383.4 104.5h3.6v3.6h-3.6zM390.1 104.5h3.6v3.6h-3.6zM359.9 107.8h3.6v3.6h-3.6zM383.4 107.8h3.6v3.6h-3.6zM430.3 107.8h3.6v3.6h-3.6zM356.6 111.1h3.6v3.6h-3.6zM373.4 111.1h3.6v3.6h-3.6zM416.9 111.1h3.6v3.6h-3.6zM319.8 114.5h3.6v3.6h-3.6zM363.3 114.5h3.6v3.6h-3.6zM416.9 114.5h3.6v3.6h-3.6zM427.0 114.5h3.6v3.6h-3.6zM276.2 117.8h3.6v3.6h-3.6zM353.2 117.8h3.6v3.6h-3.6zM393.4 117.8h3.6v3.6h-3.6zM400.1 117.8h3.6v3.6h-3.6zM416.9 117.8h3.6v3.6h-3.6zM339.9 121.1h3.6v3.6h-3.6zM343.2 121.1h3.6v3.6h-3.6zM346.6 121.1h3.6v3.6h-3.6zM349.9 121.1h3.6v3.6h-3.6zM403.5 121.1h3.6v3.6h-3.6zM339.9 124.5h3.6v3.6h-3.6zM433.6 124.5h6.7v3.6h-6.7zM339.9 127.8h3.6v3.6h-3.6zM366.6 127.8h3.6v3.6h-3.6zM430.3 127.8h3.6v3.6h-3.6zM266.5 131.2h6.7v3.6h-6.7zM339.9 131.2h3.6v3.6h-3.6zM370.0 131.2h3.6v3.6h-3.6zM373.4 131.2h3.6v3.6h-3.6zM319.8 134.5h3.6v3.6h-3.6zM366.6 134.5h3.6v3.6h-3.6zM376.7 134.5h3.6v3.6h-3.6zM309.7 137.8h3.6v3.6h-3.6zM353.2 137.8h3.6v3.6h-3.6zM370.0 137.8h3.6v3.6h-3.6zM376.7 137.8h3.6v3.6h-3.6zM276.2 141.2h3.6v3.6h-3.6zM339.9 141.2h3.6v3.6h-3.6zM413.6 141.2h3.6v3.6h-3.6zM266.5 144.5h6.7v3.6h-6.7zM286.2 144.5h3.6v3.6h-3.6zM356.6 144.5h3.6v3.6h-3.6zM292.9 147.8h3.6v3.6h-3.6zM416.9 154.5h3.6v3.6h-3.6zM423.6 154.5h3.6v3.6h-3.6zM299.6 157.8h3.6v3.6h-3.6zM370.0 161.2h3.6v3.6h-3.6zM306.4 164.5h3.6v3.6h-3.6zM380.1 164.5h3.6v3.6h-3.6zM433.6 167.8h6.7v3.6h-6.7zM383.4 171.2h3.6v3.6h-3.6zM413.6 171.2h3.6v3.6h-3.6zM433.6 171.2h6.7v3.6h-6.7zM400.1 174.5h3.6v3.6h-3.6zM420.2 174.5h3.6v3.6h-3.6zM333.1 177.8h3.6v3.6h-3.6zM370.0 184.5h3.6v3.6h-3.6zM393.4 184.5h3.6v3.6h-3.6zM266.5 187.8h6.7v3.6h-6.7zM272.9 187.8h3.6v3.6h-3.6zM276.2 187.8h3.6v3.6h-3.6zM279.6 187.8h3.6v3.6h-3.6zM376.7 187.8h3.6v3.6h-3.6zM403.5 187.8h3.6v3.6h-3.6zM276.2 191.2h3.6v3.6h-3.6zM353.2 191.2h3.6v3.6h-3.6zM376.7 191.2h3.6v3.6h-3.6zM396.8 191.2h3.6v3.6h-3.6zM339.9 194.5h3.6v3.6h-3.6zM370.0 194.5h3.6v3.6h-3.6zM390.1 194.5h3.6v3.6h-3.6zM393.4 194.5h3.6v3.6h-3.6zM356.6 197.8h3.6v3.6h-3.6zM403.5 197.8h3.6v3.6h-3.6zM309.7 201.2h3.6v6.6h-3.6zM343.2 201.2h3.6v6.6h-3.6zM373.4 201.2h3.6v6.6h-3.6z"/>
<path fill="#277f8e" d="M282.9 34.8h3.6v6.6h-3.6zM286.2 34.8h3.6v6.6h-3.6zM339.9 34.8h3.6v6.6h-3.6zM366.6 34.8h3.6v6.6h-3.6zM343.2 41.1h3.6v3.6h-3.6zM380.1 41.1h3.6v3.6h-3.6zM289.6 44.5h3.6v3.6h-3.6zM343.2 44.5h3.6v3.6h-3.6zM376.7 44.5h3.6v3.6h-3.6zM380.1 44.5h3.6v3.6h-3.6zM383.4 44.5h3.6v3.6h-3.6zM393.4 47.8h3.6v3.6h-3.6zM333.1 51.1h3.6v3.6h-3.6zM420.2 51.1h3.6v3.6h-3.6zM306.4 54.5h3.6v3.6h-3.6zM336.5 54.5h3.6v3.6h-3.6zM373.4 54.5h3.6v3.6h-3.6zM423.6 54.5h3.6v3.6h-3.6zM289.6 57.8h3.6v3.6h-3.6zM326.4 57.8h3.6v3.6h-3.6zM356.6 57.8h3.6v3.6h-3.6zM420.2 57.8h3.6v3.6h-3.6zM423.6 57.8h3.6v3.6h-3.6zM427.0 57.8h3.6v3.6h-3.6zM286.2 61.1h3.6v3.6h-3.6zM323.1 61.1h3.6v3.6h-3.6zM353.2 61.1h3.6v3.6h-3.6zM376.7 61.1h3.6v3.6h-3.6zM410.2 61.1h3.6v3.6h-3.6zM299.6 64.5h3.6v3.6h-3.6zM380.1 64.5h3.6v3.6h-3.6zM406.9 64.5h3.6v3.6h-3.6zM292.9 67.8h3.6v3.6h-3.6zM386.8 67.8h3.6v3.6h-3.6zM406.9 67.8h3.6v3.6h-3.6zM313.1 71.1h3.6v3.6h-3.6zM383.4 74.5h3.6v3.6h-3.6zM400.1 74.5h3.6v3.6h-3.6zM430.3 74.5h3.6v3.6h-3.6zM433.6 74.5h6.7v3.6h-6.7zM303.0 81.1h3.6v3.6h-3.6zM353.2 81.1h3.6v3.6h-3.6zM329.8 84.5h3.6v3.6h-3.6zM416.9 84.5h3.6v3.6h-3.6zM303.0 87.8h3.6v3.6h-3.6zM306.4 87.8h3.6v3.6h-3.6zM329.8 87.8h3.6v3.6h-3.6zM346.6 91.1h3.6v3.6h-3.6zM349.9 91.1h3.6v3.6h-3.6zM373.4 91.1h3.6v3.6h-3.6zM386.8 91.1h3.6v3.6h-3.6zM433.6 91.1h6.7v3.6h-6.7zM386.8 94.5h3.6v3.6h-3.6zM313.1 97.8h3.6v3.6h-3.6zM359.9 97.8h3.6v3.6h-3.6zM309.7 101.1h3.6v3.6h-3.6zM353.2 104.5h3.6v3.6h-3.6zM359.9 104.5h3.6v3.6h-3.6zM386.8 104.5h3.6v3.6h-3.6zM416.9 107.8h3.6v3.6h-3.6zM413.6 111.1h3.6v3.6h-3.6zM413.6 114.5h3.6v3.6h-3.6zM366.6 117.8h3.6v3.6h-3.6zM279.6 121.1h3.6v3.6h-3.6zM396.8 121.1h3.6v3.6h-3.6zM373.4 124.5h3.6v3.6h-3.6zM430.3 124.5h3.6v3.6h-3.6zM286.2 127.8h3.6v3.6h-3.6zM376.7 127.8h3.6v3.6h-3.6zM413.6 131.2h3.6v3.6h-3.6zM266.5 137.8h6.7v3.6h-6.7zM313.1 137.8h3.6v3.6h-3.6zM316.4 137.8h3.6v3.6h-3.6zM380.1 137.8h3.6v3.6h-3.6zM410.2 141.2h3.6v3.6h-3.6zM427.0 141.2h3.6v3.6h-3.6zM276.2 144.5h3.6v3.6h-3.6zM272.9 147.8h3.6v3.6h-3.6zM356.6 147.8h3.6v3.6h-3.6zM413.6 147.8h3.6v3.6h-3.6zM296.3 151.2h3.6v3.6h-3.6zM356.6 151.2h3.6v3.6h-3.6zM266.5 154.5h6.7v3.6h-6.7zM359.9 154.5h3.6v3.6h-3.6zM363.3 154.5h3.6v3.6h-3.6zM413.6 157.8h3.6v3.6h-3.6zM416.9 157.8h3.6v3.6h-3.6zM386.8 164.5h3.6v3.6h-3.6zM413.6 164.5h3.6v3.6h-3.6zM416.9 164.5h3.6v3.6h-3.6zM420.2 164.5h3.6v3.6h-3.6zM430.3 164.5h3.6v3.6h-3.6zM353.2 167.8h3.6v3.6h-3.6zM430.3 167.8h3.6v3.6h-3.6zM306.4 171.2h3.6v3.6h-3.6zM410.2 171.2h3.6v3.6h-3.6zM430.3 171.2h3.6v3.6h-3.6zM279.6 177.8h3.6v3.6h-3.6zM282.9 181.2h3.6v3.6h-3.6zM403.5 184.5h3.6v3.6h-3.6zM356.6 187.8h3.6v3.6h-3.6zM343.2 191.2h3.6v3.6h-3.6zM349.9 191.2h3.6v3.6h-3.6zM363.3 191.2h3.6v3.6h-3.6zM386.8 191.2h3.6v3.6h-3.6zM309.7 194.5h3.6v3.6h-3.6zM346.6 194.5h3.6v3.6h-3.6zM349.9 194.5h3.6v3.6h-3.6zM279.6 197.8h3.6v3.6h-3.6zM282.9 197.8h3.6v3.6h-3.6zM346.6 197.8h3.6v3.6h-3.6zM272.9 201.2h3.6v6.6h-3.6zM339.9 201.2h3.6v6.6h-3.6zM346.6 201.2h3.6v6.6h-3.6zM370.0 201.2h3.6v6.6h-3.6zM400.1 201.2h3.6v6.6h-3.6z"/>
<path fill="#26828e" d="M289.6 34.8h3.6v6.6h-3.6zM349.9 34.8h3.6v6.6h-3.6zM373.4 34.8h3.6v6.6h-3.6zM376.7 34.8h3.6v6.6h-3.6zM380.1 34.8h3.6v6.6h-3.6zM393.4 34.8h3.6v6.6h-3.6zM309.7 41.1h3.6v3.6h-3.6zM313.1 41.1h3.6v3.6h-3.6zM346.6 44.5h3.6v3.6h-3.6zM286.2 47.8h3.6v3.6h-3.6zM323.1 47.8h3.6v3.6h-3.6zM383.4 47.8h3.6v3.6h-3.6zM386.8 47.8h3.6v3.6h-3.6zM390.1 47.8h3.6v3.6h-3.6zM272.9 51.1h3.6v3.6h-3.6zM299.6 51.1h3.6v3.6h-3.6zM390.1 51.1h3.6v3.6h-3.6zM413.6 51.1h3.6v3.6h-3.6zM276.2 54.5h3.6v3.6h-3.6zM296.3 54.5h3.6v3.6h-3.6zM299.6 54.5h3.6v3.6h-3.6zM303.0 54.5h3.6v3.6h-3.6zM356.6 54.5h3.6v3.6h-3.6zM383.4 54.5h3.6v3.6h-3.6zM386.8 54.5h3.6v3.6h-3.6zM406.9 54.5h3.6v3.6h-3.6zM413.6 54.5h3.6v3.6h-3.6zM430.3 54.5h3.6v3.6h-3.6zM309.7 57.8h3.6v3.6h-3.6zM319.8 57.8h3.6v3.6h-3.6zM336.5 57.8h3.6v3.6h-3.6zM373.4 57.8h3.6v3.6h-3.6zM376.7 57.8h3.6v3.6h-3.6zM410.2 57.8h3.6v3.6h-3.6zM413.6 57.8h3.6v3.6h-3.6zM416.9 57.8h3.6v3.6h-3.6zM433.6 57.8h6.7v3.6h-6.7zM326.4 61.1h3.6v3.6h-3.6zM363.3 61.1h3.6v3.6h-3.6zM416.9 61.1h3.6v3.6h-3.6zM430.3 61.1h3.6v3.6h-3.6zM289.6 64.5h3.6v3.6h-3.6zM323.1 64.5h3.6v3.6h-3.6zM356.6 64.5h3.6v3.6h-3.6zM359.9 64.5h3.6v3.6h-3.6zM416.9 64.5h3.6v3.6h-3.6zM276.2 67.8h3.6v3.6h-3.6zM326.4 67.8h3.6v3.6h-3.6zM383.4 71.1h3.6v3.6h-3.6zM390.1 77.8h3.6v3.6h-3.6zM329.8 81.1h3.6v3.6h-3.6zM333.1 84.5h3.6v3.6h-3.6zM353.2 84.5h3.6v3.6h-3.6zM349.9 87.8h3.6v3.6h-3.6zM309.7 91.1h3.6v3.6h-3.6zM416.9 91.1h3.6v3.6h-3.6zM363.3 97.8h3.6v3.6h-3.6zM370.0 97.8h3.6v3.6h-3.6zM373.4 97.8h3.6v3.6h-3.6zM410.2 97.8h3.6v3.6h-3.6zM329.8 101.1h3.6v3.6h-3.6zM353.2 101.1h3.6v3.6h-3.6zM393.4 101.1h3.6v3.6h-3.6zM423.6 104.5h3.6v3.6h-3.6zM380.1 111.1h3.6v3.6h-3.6zM386.8 111.1h3.6v3.6h-3.6zM423.6 111.1h3.6v3.6h-3.6zM427.0 111.1h3.6v3.6h-3.6zM430.3 111.1h3.6v3.6h-3.6zM433.6 111.1h6.7v3.6h-6.7zM323.1 114.5h3.6v3.6h-3.6zM359.9 114.5h3.6v3.6h-3.6zM370.0 114.5h3.6v3.6h-3.6zM390.1 117.8h3.6v3.6h-3.6zM410.2 117.8h3.6v3.6h-3.6zM420.2 117.8h3.6v3.6h-3.6zM427.0 117.8h3.6v3.6h-3.6zM366.6 121.1h3.6v3.6h-3.6zM370.0 121.1h3.6v3.6h-3.6zM413.6 121.1h3.6v3.6h-3.6zM433.6 121.1h6.7v3.6h-6.7zM272.9 124.5h3.6v3.6h-3.6zM282.9 124.5h3.6v3.6h-3.6zM353.2 124.5h3.6v3.6h-3.6zM272.9 127.8h3.6v3.6h-3.6zM272.9 131.2h3.6v3.6h-3.6zM349.9 131.2h3.6v3.6h-3.6zM376.7 131.2h3.6v3.6h-3.6zM416.9 131.2h3.6v3.6h-3.6zM266.5 134.5h6.7v3.6h-6.7zM289.6 134.5h3.6v3.6h-3.6zM316.4 134.5h3.6v3.6h-3.6zM272.9 137.8h3.6v3.6h-3.6zM299.6 137.8h3.6v3.6h-3.6zM319.8 137.8h3.6v3.6h-3.6zM410.2 137.8h3.6v3.6h-3.6zM266.5 141.2h6.7v3.6h-6.7zM272.9 141.2h3.6v3.6h-3.6zM333.1 141.2h3.6v3.6h-3.6zM336.5 141.2h3.6v3.6h-3.6zM430.3 141.2h3.6v3.6h-3.6zM279.6 144.5h3.6v3.6h-3.6zM336.5 144.5h3.6v3.6h-3.6zM413.6 144.5h3.6v3.6h-3.6zM427.0 144.5h3.6v3.6h-3.6zM430.3 144.5h3.6v3.6h-3.6zM289.6 147.8h3.6v3.6h-3.6zM266.5 151.2h6.7v3.6h-6.7zM420.2 154.5h3.6v3.6h-3.6zM427.0 154.5h3.6v3.6h-3.6zM366.6 157.8h3.6v3.6h-3.6zM299.6 161.2h3.6v3.6h-3.6zM416.9 161.2h3.6v3.6h-3.6zM303.0 164.5h3.6v3.6h-3.6zM383.4 164.5h3.6v3.6h-3.6zM390.1 164.5h3.6v3.6h-3.6zM423.6 164.5h3.6v3.6h-3.6zM427.0 164.5h3.6v3.6h-3.6zM306.4 167.8h3.6v3.6h-3.6zM413.6 167.8h3.6v3.6h-3.6zM416.9 167.8h3.6v3.6h-3.6zM306.4 174.5h3.6v3.6h-3.6zM336.5 174.5h3.6v3.6h-3.6zM403.5 174.5h3.6v3.6h-3.6zM282.9 177.8h3.6v3.6h-3.6zM279.6 181.2h3.6v3.6h-3.6zM306.4 181.2h3.6v3.6h-3.6zM333.1 181.2h3.6v3.6h-3.6zM396.8 181.2h3.6v3.6h-3.6zM266.5 184.5h6.7v3.6h-6.7zM272.9 184.5h3.6v3.6h-3.6zM276.2 184.5h3.6v3.6h-3.6zM279.6 184.5h3.6v3.6h-3.6zM343.2 184.5h3.6v3.6h-3.6zM356.6 184.5h3.6v3.6h-3.6zM309.7 187.8h3.6v3.6h-3.6zM343.2 187.8h3.6v3.6h-3.6zM393.4 187.8h3.6v3.6h-3.6zM272.9 191.2h3.6v3.6h-3.6zM309.7 191.2h3.6v3.6h-3.6zM373.4 191.2h3.6v3.6h-3.6zM393.4 191.2h3.6v3.6h-3.6zM266.5 194.5h6.7v3.6h-6.7zM272.9 194.5h3.6v3.6h-3.6zM336.5 194.5h3.6v3.6h-3.6zM366.6 194.5h3.6v3.6h-3.6zM276.2 197.8h3.6v3.6h-3.6zM286.2 197.8h3.6v3.6h-3.6zM309.7 197.8h3.6v3.6h-3.6zM353.2 197.8h3.6v3.6h-3.6zM359.9 197.8h3.6v3.6h-3.6zM266.5 201.2h6.7v6.6h-6.7zM276.2 201.2h3.6v6.6h-3.6zM279.6 201.2h3.6v6.6h-3.6zM282.9 201.2h3.6v6.6h-3.6zM396.8 201.2h3.6v6.6h-3.6z"/>
<path fill="#297b8e" d="M292.9 34.8h3.6v6.6h-3.6zM319.8 34.8h3.6v6.6h-3.6zM370.0 34.8h3.6v6.6h-3.6zM396.8 34.8h3.6v6.6h-3.6zM282.9 41.1h3.6v3.6h-3.6zM286.2 41.1h3.6v3.6h-3.6zM289.6 41.1h3.6v3.6h-3.6zM346.6 41.1h3.6v3.6h-3.6zM376.7 41.1h3.6v3.6h-3.6zM326.4 44.5h3.6v3.6h-3.6zM329.8 44.5h3.6v3.6h-3.6zM296.3 47.8h3.6v3.6h-3.6zM333.1 47.8h3.6v3.6h-3.6zM339.9 47.8h3.6v3.6h-3.6zM303.0 51.1h3.6v3.6h-3.6zM336.5 51.1h3.6v3.6h-3.6zM373.4 51.1h3.6v3.6h-3.6zM400.1 51.1h3.6v3.6h-3.6zM416.9 51.1h3.6v3.6h-3.6zM309.7 54.5h3.6v3.6h-3.6zM313.1 54.5h3.6v3.6h-3.6zM316.4 54.5h3.6v3.6h-3.6zM390.1 54.5h3.6v3.6h-3.6zM279.6 57.8h3.6v3.6h-3.6zM299.6 57.8h3.6v3.6h-3.6zM303.0 57.8h3.6v3.6h-3.6zM306.4 57.8h3.6v3.6h-3.6zM363.3 57.8h3.6v3.6h-3.6zM380.1 57.8h3.6v3.6h-3.6zM430.3 57.8h3.6v3.6h-3.6zM289.6 61.1h3.6v3.6h-3.6zM299.6 61.1h3.6v3.6h-3.6zM413.6 61.1h3.6v3.6h-3.6zM410.2 64.5h3.6v3.6h-3.6zM279.6 67.8h3.6v3.6h-3.6zM370.0 67.8h3.6v3.6h-3.6zM376.7 67.8h3.6v3.6h-3.6zM390.1 67.8h3.6v3.6h-3.6zM410.2 67.8h3.6v3.6h-3.6zM416.9 67.8h3.6v3.6h-3.6zM326.4 71.1h3.6v3.6h-3.6zM380.1 71.1h3.6v3.6h-3.6zM386.8 71.1h3.6v3.6h-3.6zM416.9 71.1h3.6v3.6h-3.6zM326.4 74.5h3.6v3.6h-3.6zM386.8 74.5h3.6v3.6h-3.6zM396.8 74.5h3.6v3.6h-3.6zM413.6 74.5h3.6v3.6h-3.6zM386.8 77.8h3.6v3.6h-3.6zM386.8 81.1h3.6v3.6h-3.6zM416.9 87.8h3.6v3.6h-3.6zM303.0 91.1h3.6v3.6h-3.6zM329.8 91.1h3.6v3.6h-3.6zM410.2 91.1h3.6v3.6h-3.6zM313.1 94.5h3.6v3.6h-3.6zM390.1 94.5h3.6v3.6h-3.6zM383.4 97.8h3.6v3.6h-3.6zM313.1 101.1h3.6v3.6h-3.6zM383.4 101.1h3.6v3.6h-3.6zM400.1 101.1h3.6v3.6h-3.6zM309.7 104.5h3.6v3.6h-3.6zM356.6 107.8h3.6v3.6h-3.6zM413.6 107.8h3.6v3.6h-3.6zM427.0 107.8h3.6v3.6h-3.6zM316.4 111.1h3.6v3.6h-3.6zM326.4 111.1h3.6v3.6h-3.6zM383.4 111.1h3.6v3.6h-3.6zM430.3 114.5h3.6v3.6h-3.6zM356.6 117.8h3.6v3.6h-3.6zM370.0 117.8h3.6v3.6h-3.6zM403.5 117.8h3.6v3.6h-3.6zM406.9 117.8h3.6v3.6h-3.6zM430.3 117.8h3.6v3.6h-3.6zM433.6 117.8h6.7v3.6h-6.7zM276.2 121.1h3.6v3.6h-3.6zM356.6 121.1h3.6v3.6h-3.6zM430.3 121.1h3.6v3.6h-3.6zM356.6 124.5h3.6v3.6h-3.6zM363.3 124.5h3.6v3.6h-3.6zM276.2 131.2h3.6v3.6h-3.6zM282.9 131.2h3.6v3.6h-3.6zM420.2 131.2h3.6v3.6h-3.6zM423.6 131.2h3.6v3.6h-3.6zM299.6 134.5h3.6v3.6h-3.6zM346.6 141.2h3.6v3.6h-3.6zM349.9 141.2h3.6v3.6h-3.6zM363.3 144.5h3.6v3.6h-3.6zM373.4 147.8h3.6v3.6h-3.6zM410.2 154.5h3.6v3.6h-3.6zM430.3 154.5h3.6v3.6h-3.6zM433.6 154.5h6.7v3.6h-6.7zM413.6 161.2h3.6v3.6h-3.6zM430.3 161.2h3.6v3.6h-3.6zM299.6 164.5h3.6v3.6h-3.6zM420.2 171.2h3.6v3.6h-3.6zM286.2 177.8h3.6v3.6h-3.6zM276.2 181.2h3.6v3.6h-3.6zM336.5 181.2h3.6v3.6h-3.6zM363.3 184.5h3.6v3.6h-3.6zM366.6 184.5h3.6v3.6h-3.6zM346.6 187.8h3.6v3.6h-3.6zM359.9 187.8h3.6v3.6h-3.6zM373.4 187.8h3.6v3.6h-3.6zM396.8 187.8h3.6v3.6h-3.6zM400.1 187.8h3.6v3.6h-3.6zM346.6 191.2h3.6v3.6h-3.6zM370.0 191.2h3.6v3.6h-3.6zM390.1 191.2h3.6v3.6h-3.6zM299.6 197.8h3.6v3.6h-3.6zM339.9 197.8h3.6v3.6h-3.6zM356.6 201.2h3.6v6.6h-3.6zM359.9 201.2h3.6v6.6h-3.6zM403.5 201.2h3.6v6.6h-3.6z"/>
<path fill="#2d708e" d="M296.3 34.8h3.6v6.6h-3.6zM292.9 41.1h3.6v3.6h-3.6zM366.6 41.1h3.6v3.6h-3.6zM370.0 41.1h3.6v3.6h-3.6zM323.1 44.5h3.6v3.6h-3.6zM349.9 44.5h3.6v3.6h-3.6zM336.5 47.8h3.6v3.6h-3.6zM306.4 61.1h3.6v3.6h-3.6zM380.1 61.1h3.6v3.6h-3.6zM272.9 64.5h3.6v3.6h-3.6zM403.5 64.5h3.6v3.6h-3.6zM393.4 67.8h3.6v3.6h-3.6zM370.0 71.1h3.6v3.6h-3.6zM403.5 71.1h3.6v3.6h-3.6zM303.0 74.5h3.6v3.6h-3.6zM376.7 74.5h3.6v3.6h-3.6zM373.4 77.8h3.6v3.6h-3.6zM370.0 81.1h3.6v3.6h-3.6zM413.6 81.1h3.6v3.6h-3.6zM306.4 84.5h3.6v3.6h-3.6zM326.4 87.8h3.6v3.6h-3.6zM370.0 87.8h3.6v3.6h-3.6zM296.3 91.1h3.6v3.6h-3.6zM299.6 91.1h3.6v3.6h-3.6zM316.4 97.8h3.6v3.6h-3.6zM386.8 97.8h3.6v3.6h-3.6zM406.9 97.8h3.6v3.6h-3.6zM386.8 101.1h3.6v3.6h-3.6zM413.6 101.1h3.6v3.6h-3.6zM313.1 104.5h3.6v3.6h-3.6zM319.8 111.1h3.6v3.6h-3.6zM323.1 111.1h3.6v3.6h-3.6zM373.4 114.5h3.6v3.6h-3.6zM423.6 121.1h3.6v3.6h-3.6zM427.0 124.5h3.6v3.6h-3.6zM276.2 127.8h3.6v3.6h-3.6zM380.1 127.8h3.6v3.6h-3.6zM383.4 134.5h3.6v3.6h-3.6zM393.4 137.8h3.6v3.6h-3.6zM386.8 141.2h3.6v3.6h-3.6zM393.4 141.2h3.6v3.6h-3.6zM366.6 144.5h3.6v3.6h-3.6zM386.8 144.5h3.6v3.6h-3.6zM276.2 147.8h3.6v3.6h-3.6zM286.2 147.8h3.6v3.6h-3.6zM359.9 147.8h3.6v3.6h-3.6zM289.6 151.2h3.6v3.6h-3.6zM376.7 151.2h3.6v3.6h-3.6zM400.1 151.2h3.6v3.6h-3.6zM373.4 154.5h3.6v3.6h-3.6zM400.1 154.5h3.6v3.6h-3.6zM433.6 157.8h6.7v3.6h-6.7zM376.7 161.2h3.6v3.6h-3.6zM380.1 161.2h3.6v3.6h-3.6zM386.8 161.2h3.6v3.6h-3.6zM390.1 161.2h3.6v3.6h-3.6zM279.6 174.5h3.6v3.6h-3.6zM289.6 174.5h3.6v3.6h-3.6zM299.6 174.5h3.6v3.6h-3.6zM303.0 174.5h3.6v3.6h-3.6zM353.2 177.8h3.6v3.6h-3.6zM306.4 187.8h3.6v3.6h-3.6zM306.4 191.2h3.6v3.6h-3.6zM303.0 197.8h3.6v3.6h-3.6zM306.4 197.8h3.6v3.6h-3.6z"/>
<path fill="#34608d" d="M299.6 34.8h3.6v6.6h-3.6zM296.3 41.1h3.6v3.6h-3.6zM336.5 44.5h3.6v3.6h-3.6zM356.6 47.8h3.6v3.6h-3.6zM319.8 51.1h3.6v3.6h-3.6zM366.6 51.1h3.6v3.6h-3.6zM323.1 54.5h3.6v3.6h-3.6zM390.1 57.8h3.6v3.6h-3.6zM272.9 61.1h3.6v3.6h-3.6zM403.5 61.1h3.6v3.6h-3.6zM306.4 64.5h3.6v3.6h-3.6zM396.8 67.8h3.6v3.6h-3.6zM323.1 71.1h3.6v3.6h-3.6zM376.7 77.8h3.6v3.6h-3.6zM306.4 81.1h3.6v3.6h-3.6zM403.5 81.1h3.6v3.6h-3.6zM403.5 84.5h3.6v3.6h-3.6zM403.5 87.8h3.6v3.6h-3.6zM323.1 97.8h3.6v3.6h-3.6zM323.1 104.5h3.6v3.6h-3.6zM319.8 107.8h3.6v3.6h-3.6zM323.1 107.8h3.6v3.6h-3.6zM403.5 107.8h3.6v3.6h-3.6zM406.9 107.8h3.6v3.6h-3.6zM410.2 111.1h3.6v3.6h-3.6zM376.7 114.5h3.6v3.6h-3.6zM373.4 117.8h3.6v3.6h-3.6zM376.7 124.5h3.6v3.6h-3.6zM386.8 124.5h3.6v3.6h-3.6zM410.2 124.5h3.6v3.6h-3.6zM416.9 124.5h3.6v3.6h-3.6zM423.6 124.5h3.6v3.6h-3.6zM279.6 127.8h3.6v3.6h-3.6zM390.1 127.8h3.6v3.6h-3.6zM403.5 127.8h3.6v3.6h-3.6zM406.9 127.8h3.6v3.6h-3.6zM359.9 131.2h3.6v3.6h-3.6zM390.1 131.2h3.6v3.6h-3.6zM396.8 137.8h3.6v3.6h-3.6zM406.9 137.8h3.6v3.6h-3.6zM396.8 141.2h3.6v3.6h-3.6zM370.0 144.5h3.6v3.6h-3.6zM376.7 144.5h3.6v3.6h-3.6zM393.4 144.5h3.6v3.6h-3.6zM403.5 147.8h3.6v3.6h-3.6zM380.1 151.2h3.6v3.6h-3.6zM396.8 151.2h3.6v3.6h-3.6zM406.9 151.2h3.6v3.6h-3.6zM289.6 154.5h3.6v3.6h-3.6zM383.4 154.5h3.6v3.6h-3.6zM396.8 154.5h3.6v3.6h-3.6zM406.9 154.5h3.6v3.6h-3.6zM373.4 157.8h3.6v3.6h-3.6zM390.1 157.8h3.6v3.6h-3.6zM393.4 157.8h3.6v3.6h-3.6zM403.5 161.2h3.6v3.6h-3.6zM400.1 164.5h3.6v3.6h-3.6zM406.9 164.5h3.6v3.6h-3.6zM400.1 167.8h3.6v3.6h-3.6zM282.9 171.2h3.6v3.6h-3.6zM286.2 171.2h3.6v3.6h-3.6zM353.2 171.2h3.6v3.6h-3.6zM349.9 177.8h3.6v3.6h-3.6zM299.6 181.2h3.6v3.6h-3.6zM346.6 181.2h3.6v3.6h-3.6zM366.6 187.8h3.6v3.6h-3.6zM296.3 191.2h3.6v3.6h-3.6zM299.6 191.2h3.6v3.6h-3.6zM336.5 197.8h3.6v3.6h-3.6z"/>
<path fill="#365c8d" d="M303.0 34.8h3.6v6.6h-3.6zM299.6 41.1h3.6v3.6h-3.6zM319.8 44.5h3.6v3.6h-3.6zM353.2 44.5h3.6v3.6h-3.6zM366.6 44.5h3.6v3.6h-3.6zM309.7 47.8h3.6v3.6h-3.6zM366.6 47.8h3.6v3.6h-3.6zM363.3 51.1h3.6v3.6h-3.6zM272.9 57.8h3.6v3.6h-3.6zM276.2 61.1h3.6v3.6h-3.6zM383.4 61.1h3.6v3.6h-3.6zM393.4 64.5h3.6v3.6h-3.6zM400.1 64.5h3.6v3.6h-3.6zM319.8 71.1h3.6v3.6h-3.6zM373.4 71.1h3.6v3.6h-3.6zM306.4 77.8h3.6v3.6h-3.6zM370.0 84.5h3.6v3.6h-3.6zM383.4 84.5h3.6v3.6h-3.6zM323.1 87.8h3.6v3.6h-3.6zM406.9 87.8h3.6v3.6h-3.6zM316.4 91.1h3.6v3.6h-3.6zM323.1 91.1h3.6v3.6h-3.6zM400.1 91.1h3.6v3.6h-3.6zM319.8 94.5h3.6v3.6h-3.6zM323.1 94.5h3.6v3.6h-3.6zM403.5 94.5h3.6v3.6h-3.6zM413.6 104.5h3.6v3.6h-3.6zM383.4 114.5h3.6v3.6h-3.6zM413.6 124.5h3.6v3.6h-3.6zM420.2 124.5h3.6v3.6h-3.6zM393.4 127.8h3.6v3.6h-3.6zM396.8 127.8h3.6v3.6h-3.6zM400.1 127.8h3.6v3.6h-3.6zM413.6 127.8h3.6v3.6h-3.6zM393.4 131.2h3.6v3.6h-3.6zM403.5 131.2h3.6v3.6h-3.6zM396.8 134.5h3.6v3.6h-3.6zM396.8 144.5h3.6v3.6h-3.6zM396.8 147.8h3.6v3.6h-3.6zM406.9 147.8h3.6v3.6h-3.6zM386.8 151.2h3.6v3.6h-3.6zM386.8 154.5h3.6v3.6h-3.6zM289.6 161.2h3.6v3.6h-3.6zM289.6 164.5h3.6v3.6h-3.6zM292.9 167.8h3.6v3.6h-3.6zM406.9 167.8h3.6v3.6h-3.6zM279.6 171.2h3.6v3.6h-3.6zM289.6 171.2h3.6v3.6h-3.6zM292.9 171.2h3.6v3.6h-3.6zM349.9 174.5h3.6v3.6h-3.6zM353.2 174.5h3.6v3.6h-3.6zM346.6 177.8h3.6v3.6h-3.6zM303.0 184.5h3.6v3.6h-3.6zM303.0 187.8h3.6v3.6h-3.6z"/>
<path fill="#2f6c8e" d="M306.4 34.8h3.6v6.6h-3.6zM339.9 41.1h3.6v3.6h-3.6zM349.9 41.1h3.6v3.6h-3.6zM356.6 41.1h3.6v3.6h-3.6zM296.3 44.5h3.6v3.6h-3.6zM333.1 44.5h3.6v3.6h-3.6zM339.9 44.5h3.6v3.6h-3.6zM370.0 44.5h3.6v3.6h-3.6zM370.0 51.1h3.6v3.6h-3.6zM272.9 54.5h3.6v3.6h-3.6zM363.3 54.5h3.6v3.6h-3.6zM393.4 54.5h3.6v3.6h-3.6zM400.1 54.5h3.6v3.6h-3.6zM276.2 57.8h3.6v3.6h-3.6zM383.4 57.8h3.6v3.6h-3.6zM303.0 67.8h3.6v3.6h-3.6zM403.5 67.8h3.6v3.6h-3.6zM299.6 71.1h3.6v3.6h-3.6zM303.0 71.1h3.6v3.6h-3.6zM403.5 77.8h3.6v3.6h-3.6zM380.1 87.8h3.6v3.6h-3.6zM383.4 87.8h3.6v3.6h-3.6zM313.1 91.1h3.6v3.6h-3.6zM326.4 91.1h3.6v3.6h-3.6zM396.8 91.1h3.6v3.6h-3.6zM406.9 94.5h3.6v3.6h-3.6zM319.8 101.1h3.6v3.6h-3.6zM403.5 101.1h3.6v3.6h-3.6zM316.4 104.5h3.6v3.6h-3.6zM326.4 104.5h3.6v3.6h-3.6zM356.6 104.5h3.6v3.6h-3.6zM416.9 104.5h3.6v3.6h-3.6zM410.2 107.8h3.6v3.6h-3.6zM420.2 121.1h3.6v3.6h-3.6zM390.1 124.5h3.6v3.6h-3.6zM403.5 124.5h3.6v3.6h-3.6zM406.9 124.5h3.6v3.6h-3.6zM383.4 131.2h3.6v3.6h-3.6zM406.9 131.2h3.6v3.6h-3.6zM386.8 137.8h3.6v3.6h-3.6zM390.1 137.8h3.6v3.6h-3.6zM390.1 141.2h3.6v3.6h-3.6zM380.1 144.5h3.6v3.6h-3.6zM282.9 147.8h3.6v3.6h-3.6zM363.3 147.8h3.6v3.6h-3.6zM376.7 147.8h3.6v3.6h-3.6zM383.4 147.8h3.6v3.6h-3.6zM410.2 147.8h3.6v3.6h-3.6zM400.1 157.8h3.6v3.6h-3.6zM292.9 161.2h3.6v3.6h-3.6zM296.3 167.8h3.6v3.6h-3.6zM296.3 171.2h3.6v3.6h-3.6zM292.9 174.5h3.6v3.6h-3.6zM272.9 177.8h3.6v3.6h-3.6zM289.6 177.8h3.6v3.6h-3.6zM296.3 177.8h3.6v3.6h-3.6zM299.6 177.8h3.6v3.6h-3.6zM303.0 177.8h3.6v3.6h-3.6zM339.9 177.8h3.6v3.6h-3.6zM343.2 181.2h3.6v3.6h-3.6zM349.9 184.5h3.6v3.6h-3.6zM400.1 184.5h3.6v3.6h-3.6zM370.0 187.8h3.6v3.6h-3.6zM289.6 191.2h3.6v3.6h-3.6zM292.9 191.2h3.6v3.6h-3.6zM299.6 194.5h3.6v3.6h-3.6zM306.4 194.5h3.6v3.6h-3.6z"/>
<path fill="#218e8d" d="M316.4 34.8h3.6v6.6h-3.6zM386.8 34.8h3.6v6.6h-3.6zM390.1 34.8h3.6v6.6h-3.6zM400.1 34.8h3.6v6.6h-3.6zM386.8 41.1h3.6v3.6h-3.6zM390.1 41.1h3.6v3.6h-3.6zM393.4 44.5h3.6v3.6h-3.6zM266.5 47.8h6.7v3.6h-6.7zM289.6 47.8h3.6v3.6h-3.6zM349.9 47.8h3.6v3.6h-3.6zM433.6 47.8h6.7v3.6h-6.7zM296.3 51.1h3.6v3.6h-3.6zM433.6 51.1h6.7v3.6h-6.7zM292.9 54.5h3.6v3.6h-3.6zM316.4 57.8h3.6v3.6h-3.6zM346.6 57.8h3.6v3.6h-3.6zM316.4 61.1h3.6v3.6h-3.6zM420.2 61.1h3.6v3.6h-3.6zM423.6 61.1h3.6v3.6h-3.6zM329.8 64.5h3.6v3.6h-3.6zM336.5 64.5h3.6v3.6h-3.6zM363.3 64.5h3.6v3.6h-3.6zM370.0 64.5h3.6v3.6h-3.6zM313.1 67.8h3.6v3.6h-3.6zM316.4 67.8h3.6v3.6h-3.6zM366.6 67.8h3.6v3.6h-3.6zM292.9 71.1h3.6v3.6h-3.6zM279.6 74.5h3.6v3.6h-3.6zM359.9 74.5h3.6v3.6h-3.6zM370.0 74.5h3.6v3.6h-3.6zM427.0 74.5h3.6v3.6h-3.6zM359.9 77.8h3.6v3.6h-3.6zM370.0 77.8h3.6v3.6h-3.6zM339.9 81.1h3.6v3.6h-3.6zM390.1 81.1h3.6v3.6h-3.6zM400.1 81.1h3.6v3.6h-3.6zM343.2 91.1h3.6v3.6h-3.6zM356.6 91.1h3.6v3.6h-3.6zM303.0 94.5h3.6v3.6h-3.6zM309.7 94.5h3.6v3.6h-3.6zM353.2 94.5h3.6v3.6h-3.6zM363.3 94.5h3.6v3.6h-3.6zM366.6 94.5h3.6v3.6h-3.6zM343.2 97.8h3.6v3.6h-3.6zM349.9 97.8h3.6v3.6h-3.6zM376.7 97.8h3.6v3.6h-3.6zM339.9 101.1h3.6v3.6h-3.6zM313.1 111.1h3.6v3.6h-3.6zM359.9 111.1h3.6v3.6h-3.6zM366.6 114.5h3.6v3.6h-3.6zM420.2 114.5h3.6v3.6h-3.6zM396.8 117.8h3.6v3.6h-3.6zM413.6 117.8h3.6v3.6h-3.6zM282.9 121.1h3.6v3.6h-3.6zM406.9 121.1h3.6v3.6h-3.6zM286.2 124.5h3.6v3.6h-3.6zM366.6 124.5h3.6v3.6h-3.6zM266.5 127.8h6.7v3.6h-6.7zM289.6 127.8h3.6v3.6h-3.6zM336.5 127.8h3.6v3.6h-3.6zM343.2 127.8h3.6v3.6h-3.6zM346.6 127.8h3.6v3.6h-3.6zM373.4 127.8h3.6v3.6h-3.6zM289.6 131.2h3.6v3.6h-3.6zM336.5 131.2h3.6v3.6h-3.6zM343.2 131.2h3.6v3.6h-3.6zM427.0 131.2h3.6v3.6h-3.6zM339.9 134.5h3.6v3.6h-3.6zM370.0 134.5h3.6v3.6h-3.6zM326.4 137.8h3.6v3.6h-3.6zM333.1 137.8h3.6v3.6h-3.6zM336.5 137.8h3.6v3.6h-3.6zM339.9 137.8h3.6v3.6h-3.6zM343.2 137.8h3.6v3.6h-3.6zM356.6 137.8h3.6v3.6h-3.6zM427.0 137.8h3.6v3.6h-3.6zM289.6 141.2h3.6v3.6h-3.6zM296.3 141.2h3.6v3.6h-3.6zM433.6 141.2h6.7v3.6h-6.7zM289.6 144.5h3.6v3.6h-3.6zM339.9 144.5h3.6v3.6h-3.6zM349.9 144.5h3.6v3.6h-3.6zM433.6 144.5h6.7v3.6h-6.7zM296.3 147.8h3.6v3.6h-3.6zM416.9 147.8h3.6v3.6h-3.6zM423.6 147.8h3.6v3.6h-3.6zM416.9 151.2h3.6v3.6h-3.6zM430.3 151.2h3.6v3.6h-3.6zM299.6 154.5h3.6v3.6h-3.6zM359.9 157.8h3.6v3.6h-3.6zM376.7 164.5h3.6v3.6h-3.6zM349.9 167.8h3.6v3.6h-3.6zM380.1 167.8h3.6v3.6h-3.6zM326.4 171.2h3.6v3.6h-3.6zM333.1 171.2h3.6v3.6h-3.6zM380.1 171.2h3.6v3.6h-3.6zM386.8 171.2h3.6v3.6h-3.6zM333.1 174.5h3.6v3.6h-3.6zM416.9 174.5h3.6v3.6h-3.6zM430.3 174.5h3.6v3.6h-3.6zM326.4 181.2h3.6v3.6h-3.6zM329.8 181.2h3.6v3.6h-3.6zM309.7 184.5h3.6v3.6h-3.6zM339.9 184.5h3.6v3.6h-3.6zM386.8 187.8h3.6v3.6h-3.6zM326.4 191.2h3.6v3.6h-3.6zM329.8 191.2h3.6v3.6h-3.6zM339.9 191.2h3.6v3.6h-3.6zM383.4 191.2h3.6v3.6h-3.6zM323.1 194.5h3.6v3.6h-3.6zM353.2 194.5h3.6v3.6h-3.6zM386.8 194.5h3.6v3.6h-3.6zM289.6 197.8h3.6v3.6h-3.6zM296.3 197.8h3.6v3.6h-3.6zM323.1 197.8h3.6v3.6h-3.6zM396.8 197.8h3.6v3.6h-3.6zM400.1 197.8h3.6v3.6h-3.6zM376.7 201.2h3.6v6.6h-3.6zM393.4 201.2h3.6v6.6h-3.6z"/>
<path fill="#2a778e" d="M323.1 34.8h3.6v6.6h-3.6zM333.1 34.8h3.6v6.6h-3.6zM336.5 34.8h3.6v6.6h-3.6zM316.4 41.1h3.6v3.6h-3.6zM373.4 41.1h3.6v3.6h-3.6zM286.2 44.5h3.6v3.6h-3.6zM292.9 44.5h3.6v3.6h-3.6zM306.4 44.5h3.6v3.6h-3.6zM373.4 44.5h3.6v3.6h-3.6zM282.9 47.8h3.6v3.6h-3.6zM353.2 47.8h3.6v3.6h-3.6zM373.4 47.8h3.6v3.6h-3.6zM306.4 51.1h3.6v3.6h-3.6zM356.6 51.1h3.6v3.6h-3.6zM326.4 54.5h3.6v3.6h-3.6zM370.0 54.5h3.6v3.6h-3.6zM403.5 54.5h3.6v3.6h-3.6zM416.9 54.5h3.6v3.6h-3.6zM420.2 54.5h3.6v3.6h-3.6zM292.9 57.8h3.6v3.6h-3.6zM296.3 57.8h3.6v3.6h-3.6zM323.1 57.8h3.6v3.6h-3.6zM359.9 57.8h3.6v3.6h-3.6zM406.9 57.8h3.6v3.6h-3.6zM282.9 61.1h3.6v3.6h-3.6zM292.9 61.1h3.6v3.6h-3.6zM296.3 61.1h3.6v3.6h-3.6zM303.0 61.1h3.6v3.6h-3.6zM309.7 61.1h3.6v3.6h-3.6zM356.6 61.1h3.6v3.6h-3.6zM266.5 64.5h6.7v3.6h-6.7zM282.9 64.5h3.6v3.6h-3.6zM292.9 64.5h3.6v3.6h-3.6zM296.3 64.5h3.6v3.6h-3.6zM413.6 64.5h3.6v3.6h-3.6zM299.6 67.8h3.6v3.6h-3.6zM319.8 67.8h3.6v3.6h-3.6zM390.1 71.1h3.6v3.6h-3.6zM406.9 71.1h3.6v3.6h-3.6zM373.4 74.5h3.6v3.6h-3.6zM380.1 74.5h3.6v3.6h-3.6zM390.1 74.5h3.6v3.6h-3.6zM403.5 74.5h3.6v3.6h-3.6zM303.0 77.8h3.6v3.6h-3.6zM413.6 77.8h3.6v3.6h-3.6zM366.6 84.5h3.6v3.6h-3.6zM386.8 87.8h3.6v3.6h-3.6zM329.8 97.8h3.6v3.6h-3.6zM393.4 97.8h3.6v3.6h-3.6zM356.6 101.1h3.6v3.6h-3.6zM359.9 101.1h3.6v3.6h-3.6zM390.1 101.1h3.6v3.6h-3.6zM416.9 101.1h3.6v3.6h-3.6zM420.2 104.5h3.6v3.6h-3.6zM313.1 107.8h3.6v3.6h-3.6zM420.2 107.8h3.6v3.6h-3.6zM386.8 114.5h3.6v3.6h-3.6zM363.3 117.8h3.6v3.6h-3.6zM363.3 121.1h3.6v3.6h-3.6zM390.1 121.1h3.6v3.6h-3.6zM393.4 121.1h3.6v3.6h-3.6zM416.9 121.1h3.6v3.6h-3.6zM427.0 121.1h3.6v3.6h-3.6zM276.2 124.5h3.6v3.6h-3.6zM279.6 124.5h3.6v3.6h-3.6zM353.2 127.8h3.6v3.6h-3.6zM363.3 127.8h3.6v3.6h-3.6zM427.0 127.8h3.6v3.6h-3.6zM279.6 131.2h3.6v3.6h-3.6zM363.3 131.2h3.6v3.6h-3.6zM410.2 131.2h3.6v3.6h-3.6zM359.9 134.5h3.6v3.6h-3.6zM380.1 134.5h3.6v3.6h-3.6zM380.1 141.2h3.6v3.6h-3.6zM383.4 141.2h3.6v3.6h-3.6zM383.4 144.5h3.6v3.6h-3.6zM370.0 147.8h3.6v3.6h-3.6zM292.9 151.2h3.6v3.6h-3.6zM363.3 151.2h3.6v3.6h-3.6zM410.2 151.2h3.6v3.6h-3.6zM370.0 157.8h3.6v3.6h-3.6zM430.3 157.8h3.6v3.6h-3.6zM296.3 161.2h3.6v3.6h-3.6zM373.4 161.2h3.6v3.6h-3.6zM433.6 161.2h6.7v3.6h-6.7zM396.8 164.5h3.6v3.6h-3.6zM303.0 167.8h3.6v3.6h-3.6zM420.2 167.8h3.6v3.6h-3.6zM427.0 171.2h3.6v3.6h-3.6zM286.2 174.5h3.6v3.6h-3.6zM266.5 181.2h6.7v3.6h-6.7zM272.9 181.2h3.6v3.6h-3.6zM339.9 181.2h3.6v3.6h-3.6zM353.2 181.2h3.6v3.6h-3.6zM400.1 181.2h3.6v3.6h-3.6zM306.4 184.5h3.6v3.6h-3.6zM282.9 187.8h3.6v3.6h-3.6zM353.2 187.8h3.6v3.6h-3.6zM366.6 191.2h3.6v3.6h-3.6zM296.3 194.5h3.6v3.6h-3.6zM326.4 194.5h3.6v3.6h-3.6zM349.9 197.8h3.6v3.6h-3.6zM363.3 197.8h3.6v3.6h-3.6zM366.6 197.8h3.6v3.6h-3.6zM353.2 201.2h3.6v6.6h-3.6z"/>
<path fill="#2c738e" d="M326.4 34.8h3.6v6.6h-3.6zM329.8 34.8h3.6v6.6h-3.6zM306.4 41.1h3.6v3.6h-3.6zM359.9 41.1h3.6v3.6h-3.6zM363.3 41.1h3.6v3.6h-3.6zM282.9 44.5h3.6v3.6h-3.6zM303.0 44.5h3.6v3.6h-3.6zM299.6 47.8h3.6v3.6h-3.6zM303.0 47.8h3.6v3.6h-3.6zM306.4 47.8h3.6v3.6h-3.6zM266.5 51.1h6.7v3.6h-6.7zM323.1 51.1h3.6v3.6h-3.6zM393.4 51.1h3.6v3.6h-3.6zM396.8 51.1h3.6v3.6h-3.6zM359.9 54.5h3.6v3.6h-3.6zM366.6 54.5h3.6v3.6h-3.6zM359.9 61.1h3.6v3.6h-3.6zM406.9 61.1h3.6v3.6h-3.6zM303.0 64.5h3.6v3.6h-3.6zM383.4 64.5h3.6v3.6h-3.6zM296.3 67.8h3.6v3.6h-3.6zM323.1 67.8h3.6v3.6h-3.6zM373.4 67.8h3.6v3.6h-3.6zM413.6 67.8h3.6v3.6h-3.6zM296.3 71.1h3.6v3.6h-3.6zM309.7 71.1h3.6v3.6h-3.6zM316.4 71.1h3.6v3.6h-3.6zM393.4 71.1h3.6v3.6h-3.6zM410.2 71.1h3.6v3.6h-3.6zM413.6 71.1h3.6v3.6h-3.6zM299.6 74.5h3.6v3.6h-3.6zM393.4 74.5h3.6v3.6h-3.6zM326.4 77.8h3.6v3.6h-3.6zM383.4 77.8h3.6v3.6h-3.6zM386.8 84.5h3.6v3.6h-3.6zM296.3 87.8h3.6v3.6h-3.6zM299.6 87.8h3.6v3.6h-3.6zM400.1 87.8h3.6v3.6h-3.6zM413.6 87.8h3.6v3.6h-3.6zM329.8 94.5h3.6v3.6h-3.6zM393.4 94.5h3.6v3.6h-3.6zM390.1 97.8h3.6v3.6h-3.6zM396.8 97.8h3.6v3.6h-3.6zM316.4 101.1h3.6v3.6h-3.6zM403.5 104.5h3.6v3.6h-3.6zM326.4 107.8h3.6v3.6h-3.6zM400.1 107.8h3.6v3.6h-3.6zM423.6 107.8h3.6v3.6h-3.6zM400.1 114.5h3.6v3.6h-3.6zM433.6 114.5h6.7v3.6h-6.7zM359.9 117.8h3.6v3.6h-3.6zM359.9 121.1h3.6v3.6h-3.6zM359.9 124.5h3.6v3.6h-3.6zM380.1 131.2h3.6v3.6h-3.6zM292.9 134.5h3.6v3.6h-3.6zM353.2 134.5h3.6v3.6h-3.6zM292.9 137.8h3.6v3.6h-3.6zM296.3 137.8h3.6v3.6h-3.6zM383.4 137.8h3.6v3.6h-3.6zM370.0 141.2h3.6v3.6h-3.6zM376.7 141.2h3.6v3.6h-3.6zM410.2 144.5h3.6v3.6h-3.6zM366.6 147.8h3.6v3.6h-3.6zM272.9 151.2h3.6v3.6h-3.6zM359.9 151.2h3.6v3.6h-3.6zM296.3 154.5h3.6v3.6h-3.6zM266.5 157.8h6.7v3.6h-6.7zM296.3 157.8h3.6v3.6h-3.6zM410.2 157.8h3.6v3.6h-3.6zM383.4 161.2h3.6v3.6h-3.6zM393.4 161.2h3.6v3.6h-3.6zM396.8 161.2h3.6v3.6h-3.6zM410.2 161.2h3.6v3.6h-3.6zM296.3 164.5h3.6v3.6h-3.6zM410.2 164.5h3.6v3.6h-3.6zM299.6 167.8h3.6v3.6h-3.6zM410.2 167.8h3.6v3.6h-3.6zM423.6 167.8h3.6v3.6h-3.6zM427.0 167.8h3.6v3.6h-3.6zM299.6 171.2h3.6v3.6h-3.6zM303.0 171.2h3.6v3.6h-3.6zM400.1 171.2h3.6v3.6h-3.6zM423.6 171.2h3.6v3.6h-3.6zM282.9 174.5h3.6v3.6h-3.6zM296.3 174.5h3.6v3.6h-3.6zM346.6 174.5h3.6v3.6h-3.6zM276.2 177.8h3.6v3.6h-3.6zM336.5 177.8h3.6v3.6h-3.6zM282.9 184.5h3.6v3.6h-3.6zM346.6 184.5h3.6v3.6h-3.6zM353.2 184.5h3.6v3.6h-3.6zM396.8 184.5h3.6v3.6h-3.6zM349.9 187.8h3.6v3.6h-3.6zM286.2 191.2h3.6v3.6h-3.6zM333.1 194.5h3.6v3.6h-3.6zM326.4 201.2h3.6v6.6h-3.6zM349.9 201.2h3.6v6.6h-3.6zM363.3 201.2h3.6v6.6h-3.6zM366.6 201.2h3.6v6.6h-3.6z"/>
<path fill="#24868e" d="M353.2 34.8h3.6v6.6h-3.6zM383.4 41.1h3.6v3.6h-3.6zM279.6 44.5h3.6v3.6h-3.6zM386.8 44.5h3.6v3.6h-3.6zM279.6 47.8h3.6v3.6h-3.6zM376.7 47.8h3.6v3.6h-3.6zM380.1 47.8h3.6v3.6h-3.6zM396.8 47.8h3.6v3.6h-3.6zM339.9 51.1h3.6v3.6h-3.6zM383.4 51.1h3.6v3.6h-3.6zM386.8 51.1h3.6v3.6h-3.6zM403.5 51.1h3.6v3.6h-3.6zM329.8 54.5h3.6v3.6h-3.6zM333.1 54.5h3.6v3.6h-3.6zM339.9 54.5h3.6v3.6h-3.6zM410.2 54.5h3.6v3.6h-3.6zM427.0 54.5h3.6v3.6h-3.6zM282.9 57.8h3.6v3.6h-3.6zM286.2 57.8h3.6v3.6h-3.6zM333.1 57.8h3.6v3.6h-3.6zM339.9 57.8h3.6v3.6h-3.6zM366.6 57.8h3.6v3.6h-3.6zM370.0 57.8h3.6v3.6h-3.6zM313.1 61.1h3.6v3.6h-3.6zM336.5 61.1h3.6v3.6h-3.6zM346.6 61.1h3.6v3.6h-3.6zM349.9 61.1h3.6v3.6h-3.6zM373.4 61.1h3.6v3.6h-3.6zM427.0 61.1h3.6v3.6h-3.6zM433.6 61.1h6.7v3.6h-6.7zM286.2 64.5h3.6v3.6h-3.6zM313.1 64.5h3.6v3.6h-3.6zM319.8 64.5h3.6v3.6h-3.6zM326.4 64.5h3.6v3.6h-3.6zM282.9 67.8h3.6v3.6h-3.6zM380.1 67.8h3.6v3.6h-3.6zM366.6 71.1h3.6v3.6h-3.6zM430.3 71.1h3.6v3.6h-3.6zM433.6 71.1h6.7v3.6h-6.7zM296.3 74.5h3.6v3.6h-3.6zM299.6 77.8h3.6v3.6h-3.6zM353.2 77.8h3.6v3.6h-3.6zM356.6 77.8h3.6v3.6h-3.6zM393.4 77.8h3.6v3.6h-3.6zM349.9 81.1h3.6v3.6h-3.6zM366.6 81.1h3.6v3.6h-3.6zM303.0 84.5h3.6v3.6h-3.6zM349.9 84.5h3.6v3.6h-3.6zM400.1 84.5h3.6v3.6h-3.6zM292.9 87.8h3.6v3.6h-3.6zM346.6 87.8h3.6v3.6h-3.6zM353.2 87.8h3.6v3.6h-3.6zM366.6 87.8h3.6v3.6h-3.6zM396.8 87.8h3.6v3.6h-3.6zM292.9 91.1h3.6v3.6h-3.6zM353.2 91.1h3.6v3.6h-3.6zM370.0 91.1h3.6v3.6h-3.6zM383.4 91.1h3.6v3.6h-3.6zM393.4 91.1h3.6v3.6h-3.6zM413.6 91.1h3.6v3.6h-3.6zM420.2 91.1h3.6v3.6h-3.6zM346.6 94.5h3.6v3.6h-3.6zM349.9 94.5h3.6v3.6h-3.6zM373.4 94.5h3.6v3.6h-3.6zM420.2 94.5h3.6v3.6h-3.6zM356.6 97.8h3.6v3.6h-3.6zM366.6 97.8h3.6v3.6h-3.6zM363.3 101.1h3.6v3.6h-3.6zM396.8 101.1h3.6v3.6h-3.6zM420.2 101.1h3.6v3.6h-3.6zM400.1 104.5h3.6v3.6h-3.6zM309.7 107.8h3.6v3.6h-3.6zM386.8 107.8h3.6v3.6h-3.6zM376.7 111.1h3.6v3.6h-3.6zM420.2 111.1h3.6v3.6h-3.6zM326.4 114.5h3.6v3.6h-3.6zM356.6 114.5h3.6v3.6h-3.6zM423.6 117.8h3.6v3.6h-3.6zM272.9 121.1h3.6v3.6h-3.6zM353.2 121.1h3.6v3.6h-3.6zM400.1 121.1h3.6v3.6h-3.6zM410.2 121.1h3.6v3.6h-3.6zM343.2 124.5h3.6v3.6h-3.6zM346.6 124.5h3.6v3.6h-3.6zM349.9 124.5h3.6v3.6h-3.6zM349.9 127.8h3.6v3.6h-3.6zM286.2 131.2h3.6v3.6h-3.6zM366.6 131.2h3.6v3.6h-3.6zM272.9 134.5h3.6v3.6h-3.6zM313.1 134.5h3.6v3.6h-3.6zM363.3 134.5h3.6v3.6h-3.6zM410.2 134.5h3.6v3.6h-3.6zM420.2 134.5h3.6v3.6h-3.6zM423.6 134.5h3.6v3.6h-3.6zM289.6 137.8h3.6v3.6h-3.6zM323.1 137.8h3.6v3.6h-3.6zM373.4 137.8h3.6v3.6h-3.6zM423.6 137.8h3.6v3.6h-3.6zM292.9 141.2h3.6v3.6h-3.6zM343.2 141.2h3.6v3.6h-3.6zM353.2 141.2h3.6v3.6h-3.6zM366.6 141.2h3.6v3.6h-3.6zM272.9 144.5h3.6v3.6h-3.6zM282.9 144.5h3.6v3.6h-3.6zM333.1 144.5h3.6v3.6h-3.6zM353.2 144.5h3.6v3.6h-3.6zM359.9 144.5h3.6v3.6h-3.6zM266.5 147.8h6.7v3.6h-6.7zM427.0 147.8h3.6v3.6h-3.6zM366.6 151.2h3.6v3.6h-3.6zM420.2 151.2h3.6v3.6h-3.6zM423.6 151.2h3.6v3.6h-3.6zM427.0 151.2h3.6v3.6h-3.6zM356.6 154.5h3.6v3.6h-3.6zM366.6 154.5h3.6v3.6h-3.6zM370.0 154.5h3.6v3.6h-3.6zM363.3 157.8h3.6v3.6h-3.6zM393.4 164.5h3.6v3.6h-3.6zM433.6 164.5h6.7v3.6h-6.7zM383.4 167.8h3.6v3.6h-3.6zM386.8 167.8h3.6v3.6h-3.6zM396.8 167.8h3.6v3.6h-3.6zM329.8 171.2h3.6v3.6h-3.6zM346.6 171.2h3.6v3.6h-3.6zM416.9 171.2h3.6v3.6h-3.6zM339.9 174.5h3.6v3.6h-3.6zM343.2 174.5h3.6v3.6h-3.6zM406.9 174.5h3.6v3.6h-3.6zM423.6 174.5h3.6v3.6h-3.6zM427.0 174.5h3.6v3.6h-3.6zM306.4 177.8h3.6v3.6h-3.6zM400.1 177.8h3.6v3.6h-3.6zM403.5 181.2h3.6v3.6h-3.6zM359.9 184.5h3.6v3.6h-3.6zM390.1 187.8h3.6v3.6h-3.6zM266.5 191.2h6.7v3.6h-6.7zM282.9 191.2h3.6v3.6h-3.6zM286.2 194.5h3.6v3.6h-3.6zM289.6 194.5h3.6v3.6h-3.6zM292.9 194.5h3.6v3.6h-3.6zM343.2 194.5h3.6v3.6h-3.6zM363.3 194.5h3.6v3.6h-3.6zM266.5 197.8h6.7v3.6h-6.7zM272.9 197.8h3.6v3.6h-3.6zM343.2 197.8h3.6v3.6h-3.6zM370.0 197.8h3.6v3.6h-3.6zM286.2 201.2h3.6v6.6h-3.6zM303.0 201.2h3.6v6.6h-3.6zM306.4 201.2h3.6v6.6h-3.6zM406.9 201.2h3.6v6.6h-3.6z"/>
<path fill="#1f9e89" d="M359.9 34.8h3.6v6.6h-3.6zM430.3 41.1h3.6v3.6h-3.6zM276.2 44.5h3.6v3.6h-3.6zM416.9 44.5h3.6v3.6h-3.6zM420.2 44.5h3.6v3.6h-3.6zM346.6 47.8h3.6v3.6h-3.6zM430.3 47.8h3.6v3.6h-3.6zM343.2 51.1h3.6v3.6h-3.6zM427.0 51.1h3.6v3.6h-3.6zM346.6 54.5h3.6v3.6h-3.6zM349.9 54.5h3.6v3.6h-3.6zM286.2 67.8h3.6v3.6h-3.6zM420.2 67.8h3.6v3.6h-3.6zM427.0 67.8h3.6v3.6h-3.6zM276.2 74.5h3.6v3.6h-3.6zM423.6 74.5h3.6v3.6h-3.6zM366.6 77.8h3.6v3.6h-3.6zM416.9 77.8h3.6v3.6h-3.6zM296.3 84.5h3.6v3.6h-3.6zM423.6 84.5h3.6v3.6h-3.6zM289.6 87.8h3.6v3.6h-3.6zM339.9 87.8h3.6v3.6h-3.6zM363.3 87.8h3.6v3.6h-3.6zM390.1 87.8h3.6v3.6h-3.6zM423.6 87.8h3.6v3.6h-3.6zM336.5 91.1h3.6v3.6h-3.6zM363.3 91.1h3.6v3.6h-3.6zM380.1 107.8h3.6v3.6h-3.6zM370.0 111.1h3.6v3.6h-3.6zM266.5 114.5h6.7v3.6h-6.7zM272.9 114.5h3.6v3.6h-3.6zM393.4 114.5h3.6v3.6h-3.6zM286.2 117.8h3.6v3.6h-3.6zM333.1 117.8h3.6v3.6h-3.6zM339.9 117.8h3.6v3.6h-3.6zM319.8 121.1h3.6v3.6h-3.6zM296.3 127.8h3.6v3.6h-3.6zM299.6 131.2h3.6v3.6h-3.6zM329.8 134.5h3.6v3.6h-3.6zM333.1 134.5h3.6v3.6h-3.6zM427.0 134.5h3.6v3.6h-3.6zM359.9 137.8h3.6v3.6h-3.6zM306.4 141.2h3.6v3.6h-3.6zM316.4 141.2h3.6v3.6h-3.6zM356.6 141.2h3.6v3.6h-3.6zM299.6 147.8h3.6v3.6h-3.6zM339.9 147.8h3.6v3.6h-3.6zM433.6 147.8h6.7v3.6h-6.7zM303.0 154.5h3.6v3.6h-3.6zM339.9 157.8h3.6v3.6h-3.6zM349.9 157.8h3.6v3.6h-3.6zM353.2 157.8h3.6v3.6h-3.6zM326.4 164.5h3.6v3.6h-3.6zM373.4 164.5h3.6v3.6h-3.6zM356.6 167.8h3.6v3.6h-3.6zM309.7 171.2h3.6v3.6h-3.6zM373.4 171.2h3.6v3.6h-3.6zM396.8 171.2h3.6v3.6h-3.6zM326.4 174.5h3.6v3.6h-3.6zM329.8 174.5h3.6v3.6h-3.6zM406.9 177.8h3.6v3.6h-3.6zM323.1 181.2h3.6v3.6h-3.6zM406.9 181.2h3.6v3.6h-3.6zM373.4 184.5h3.6v3.6h-3.6zM390.1 184.5h3.6v3.6h-3.6zM326.4 187.8h3.6v3.6h-3.6zM336.5 187.8h3.6v3.6h-3.6zM333.1 191.2h3.6v3.6h-3.6zM336.5 191.2h3.6v3.6h-3.6zM403.5 191.2h3.6v3.6h-3.6zM316.4 194.5h3.6v3.6h-3.6zM423.6 194.5h3.6v3.6h-3.6zM319.8 197.8h3.6v3.6h-3.6zM376.7 197.8h3.6v3.6h-3.6zM416.9 197.8h3.6v3.6h-3.6zM292.9 201.2h3.6v6.6h-3.6zM316.4 201.2h3.6v6.6h-3.6zM410.2 201.2h3.6v6.6h-3.6zM433.6 201.2h6.7v6.6h-6.7z"/>
<path fill="#20928c" d="M363.3 34.8h3.6v6.6h-3.6zM433.6 34.8h6.7v6.6h-6.7zM396.8 41.1h3.6v3.6h-3.6zM420.2 47.8h3.6v3.6h-3.6zM279.6 51.1h3.6v3.6h-3.6zM406.9 51.1h3.6v3.6h-3.6zM410.2 51.1h3.6v3.6h-3.6zM430.3 51.1h3.6v3.6h-3.6zM279.6 54.5h3.6v3.6h-3.6zM282.9 54.5h3.6v3.6h-3.6zM343.2 54.5h3.6v3.6h-3.6zM353.2 54.5h3.6v3.6h-3.6zM349.9 57.8h3.6v3.6h-3.6zM366.6 61.1h3.6v3.6h-3.6zM316.4 64.5h3.6v3.6h-3.6zM333.1 64.5h3.6v3.6h-3.6zM339.9 64.5h3.6v3.6h-3.6zM346.6 64.5h3.6v3.6h-3.6zM349.9 64.5h3.6v3.6h-3.6zM433.6 64.5h6.7v3.6h-6.7zM282.9 71.1h3.6v3.6h-3.6zM363.3 71.1h3.6v3.6h-3.6zM427.0 71.1h3.6v3.6h-3.6zM363.3 74.5h3.6v3.6h-3.6zM349.9 77.8h3.6v3.6h-3.6zM396.8 77.8h3.6v3.6h-3.6zM400.1 77.8h3.6v3.6h-3.6zM416.9 81.1h3.6v3.6h-3.6zM299.6 84.5h3.6v3.6h-3.6zM339.9 84.5h3.6v3.6h-3.6zM346.6 84.5h3.6v3.6h-3.6zM420.2 84.5h3.6v3.6h-3.6zM343.2 87.8h3.6v3.6h-3.6zM343.2 94.5h3.6v3.6h-3.6zM376.7 94.5h3.6v3.6h-3.6zM339.9 97.8h3.6v3.6h-3.6zM353.2 97.8h3.6v3.6h-3.6zM413.6 97.8h3.6v3.6h-3.6zM306.4 101.1h3.6v3.6h-3.6zM373.4 101.1h3.6v3.6h-3.6zM380.1 101.1h3.6v3.6h-3.6zM339.9 104.5h3.6v3.6h-3.6zM427.0 104.5h3.6v3.6h-3.6zM329.8 107.8h3.6v3.6h-3.6zM396.8 111.1h3.6v3.6h-3.6zM396.8 114.5h3.6v3.6h-3.6zM423.6 114.5h3.6v3.6h-3.6zM272.9 117.8h3.6v3.6h-3.6zM289.6 117.8h3.6v3.6h-3.6zM286.2 121.1h3.6v3.6h-3.6zM292.9 121.1h3.6v3.6h-3.6zM296.3 121.1h3.6v3.6h-3.6zM289.6 124.5h3.6v3.6h-3.6zM292.9 124.5h3.6v3.6h-3.6zM296.3 124.5h3.6v3.6h-3.6zM299.6 124.5h3.6v3.6h-3.6zM303.0 124.5h3.6v3.6h-3.6zM370.0 124.5h3.6v3.6h-3.6zM433.6 127.8h6.7v3.6h-6.7zM292.9 131.2h3.6v3.6h-3.6zM346.6 131.2h3.6v3.6h-3.6zM309.7 134.5h3.6v3.6h-3.6zM336.5 134.5h3.6v3.6h-3.6zM373.4 134.5h3.6v3.6h-3.6zM276.2 137.8h3.6v3.6h-3.6zM329.8 137.8h3.6v3.6h-3.6zM349.9 137.8h3.6v3.6h-3.6zM366.6 137.8h3.6v3.6h-3.6zM313.1 141.2h3.6v3.6h-3.6zM329.8 141.2h3.6v3.6h-3.6zM423.6 141.2h3.6v3.6h-3.6zM292.9 144.5h3.6v3.6h-3.6zM336.5 147.8h3.6v3.6h-3.6zM430.3 147.8h3.6v3.6h-3.6zM299.6 151.2h3.6v3.6h-3.6zM370.0 151.2h3.6v3.6h-3.6zM373.4 151.2h3.6v3.6h-3.6zM413.6 151.2h3.6v3.6h-3.6zM413.6 154.5h3.6v3.6h-3.6zM420.2 157.8h3.6v3.6h-3.6zM326.4 167.8h3.6v3.6h-3.6zM356.6 171.2h3.6v3.6h-3.6zM376.7 171.2h3.6v3.6h-3.6zM356.6 174.5h3.6v3.6h-3.6zM410.2 174.5h3.6v3.6h-3.6zM403.5 177.8h3.6v3.6h-3.6zM336.5 184.5h3.6v3.6h-3.6zM339.9 187.8h3.6v3.6h-3.6zM313.1 191.2h3.6v3.6h-3.6zM359.9 191.2h3.6v3.6h-3.6zM380.1 191.2h3.6v3.6h-3.6zM400.1 191.2h3.6v3.6h-3.6zM276.2 194.5h3.6v3.6h-3.6zM282.9 194.5h3.6v3.6h-3.6zM373.4 194.5h3.6v3.6h-3.6zM376.7 194.5h3.6v3.6h-3.6zM406.9 197.8h3.6v3.6h-3.6zM289.6 201.2h3.6v6.6h-3.6zM380.1 201.2h3.6v6.6h-3.6z"/>
<path fill="#26ad81" d="M403.5 34.8h3.6v6.6h-3.6zM272.9 41.1h3.6v3.6h-3.6zM406.9 47.8h3.6v3.6h-3.6zM423.6 67.8h3.6v3.6h-3.6zM286.2 71.1h3.6v3.6h-3.6zM289.6 71.1h3.6v3.6h-3.6zM272.9 74.5h3.6v3.6h-3.6zM420.2 81.1h3.6v3.6h-3.6zM423.6 81.1h3.6v3.6h-3.6zM427.0 81.1h3.6v3.6h-3.6zM279.6 84.5h3.6v3.6h-3.6zM393.4 84.5h3.6v3.6h-3.6zM430.3 84.5h3.6v3.6h-3.6zM286.2 87.8h3.6v3.6h-3.6zM427.0 91.1h3.6v3.6h-3.6zM430.3 94.5h3.6v3.6h-3.6zM266.5 97.8h6.7v3.6h-6.7zM299.6 97.8h3.6v3.6h-3.6zM272.9 101.1h3.6v3.6h-3.6zM333.1 101.1h3.6v3.6h-3.6zM433.6 101.1h6.7v3.6h-6.7zM373.4 104.5h3.6v3.6h-3.6zM376.7 104.5h3.6v3.6h-3.6zM343.2 107.8h3.6v3.6h-3.6zM363.3 107.8h3.6v3.6h-3.6zM353.2 111.1h3.6v3.6h-3.6zM366.6 111.1h3.6v3.6h-3.6zM286.2 114.5h3.6v3.6h-3.6zM309.7 114.5h3.6v3.6h-3.6zM346.6 114.5h3.6v3.6h-3.6zM349.9 114.5h3.6v3.6h-3.6zM299.6 117.8h3.6v3.6h-3.6zM309.7 117.8h3.6v3.6h-3.6zM309.7 121.1h3.6v3.6h-3.6zM323.1 121.1h3.6v3.6h-3.6zM313.1 124.5h3.6v3.6h-3.6zM319.8 124.5h3.6v3.6h-3.6zM306.4 131.2h3.6v3.6h-3.6zM326.4 131.2h3.6v3.6h-3.6zM433.6 134.5h6.7v3.6h-6.7zM316.4 144.5h3.6v3.6h-3.6zM303.0 147.8h3.6v3.6h-3.6zM323.1 154.5h3.6v3.6h-3.6zM313.1 157.8h3.6v3.6h-3.6zM319.8 157.8h3.6v3.6h-3.6zM423.6 157.8h3.6v3.6h-3.6zM326.4 161.2h3.6v3.6h-3.6zM356.6 161.2h3.6v3.6h-3.6zM333.1 164.5h3.6v3.6h-3.6zM333.1 167.8h3.6v3.6h-3.6zM339.9 167.8h3.6v3.6h-3.6zM343.2 167.8h3.6v3.6h-3.6zM373.4 167.8h3.6v3.6h-3.6zM370.0 171.2h3.6v3.6h-3.6zM380.1 174.5h3.6v3.6h-3.6zM383.4 174.5h3.6v3.6h-3.6zM366.6 177.8h3.6v3.6h-3.6zM359.9 181.2h3.6v3.6h-3.6zM413.6 181.2h3.6v3.6h-3.6zM406.9 191.2h3.6v3.6h-3.6zM430.3 191.2h3.6v3.6h-3.6zM386.8 197.8h3.6v3.6h-3.6zM413.6 197.8h3.6v3.6h-3.6z"/>
<path fill="#35b779" d="M406.9 34.8h3.6v6.6h-3.6zM349.9 67.8h3.6v3.6h-3.6zM339.9 71.1h3.6v3.6h-3.6zM286.2 74.5h3.6v3.6h-3.6zM349.9 74.5h3.6v3.6h-3.6zM286.2 77.8h3.6v3.6h-3.6zM433.6 81.1h6.7v3.6h-6.7zM266.5 84.5h6.7v3.6h-6.7zM286.2 91.1h3.6v3.6h-3.6zM427.0 94.5h3.6v3.6h-3.6zM279.6 97.8h3.6v3.6h-3.6zM299.6 101.1h3.6v3.6h-3.6zM366.6 104.5h3.6v3.6h-3.6zM370.0 104.5h3.6v3.6h-3.6zM370.0 107.8h3.6v3.6h-3.6zM276.2 111.1h3.6v3.6h-3.6zM316.4 127.8h3.6v3.6h-3.6zM319.8 127.8h3.6v3.6h-3.6zM323.1 127.8h3.6v3.6h-3.6zM326.4 127.8h3.6v3.6h-3.6zM329.8 127.8h3.6v3.6h-3.6zM282.9 141.2h3.6v3.6h-3.6zM326.4 144.5h3.6v3.6h-3.6zM343.2 147.8h3.6v3.6h-3.6zM329.8 151.2h3.6v3.6h-3.6zM349.9 151.2h3.6v3.6h-3.6zM316.4 161.2h3.6v3.6h-3.6zM349.9 161.2h3.6v3.6h-3.6zM319.8 164.5h3.6v3.6h-3.6zM370.0 164.5h3.6v3.6h-3.6zM359.9 171.2h3.6v3.6h-3.6zM363.3 171.2h3.6v3.6h-3.6zM393.4 171.2h3.6v3.6h-3.6zM363.3 174.5h3.6v3.6h-3.6zM363.3 177.8h3.6v3.6h-3.6zM427.0 181.2h3.6v3.6h-3.6zM433.6 181.2h6.7v3.6h-6.7zM410.2 184.5h3.6v3.6h-3.6zM430.3 184.5h3.6v3.6h-3.6zM410.2 187.8h3.6v3.6h-3.6zM427.0 187.8h3.6v3.6h-3.6zM410.2 191.2h3.6v3.6h-3.6zM430.3 197.8h3.6v3.6h-3.6z"/>
<path fill="#65cb5e" d="M410.2 34.8h3.6v6.6h-3.6zM403.5 44.5h3.6v3.6h-3.6zM279.6 91.1h3.6v3.6h-3.6zM282.9 111.1h3.6v3.6h-3.6zM299.6 114.5h3.6v3.6h-3.6zM376.7 177.8h3.6v3.6h-3.6zM380.1 177.8h3.6v3.6h-3.6zM376.7 181.2h3.6v3.6h-3.6zM420.2 184.5h3.6v3.6h-3.6z"/>
<path fill="#8bd646" d="M413.6 34.8h3.6v6.6h-3.6zM416.9 34.8h3.6v6.6h-3.6zM299.6 111.1h3.6v3.6h-3.6z"/>
<path fill="#6ece58" d="M420.2 34.8h3.6v6.6h-3.6zM289.6 77.8h3.6v3.6h-3.6zM272.9 91.1h3.6v3.6h-3.6zM276.2 91.1h3.6v3.6h-3.6zM276.2 94.5h3.6v3.6h-3.6zM292.9 101.1h3.6v3.6h-3.6zM292.9 104.5h3.6v3.6h-3.6zM282.9 107.8h3.6v3.6h-3.6zM296.3 107.8h3.6v3.6h-3.6zM299.6 107.8h3.6v3.6h-3.6zM279.6 111.1h3.6v3.6h-3.6zM346.6 147.8h3.6v3.6h-3.6zM373.4 181.2h3.6v3.6h-3.6zM423.6 184.5h3.6v3.6h-3.6z"/>
<path fill="#52c569" d="M423.6 34.8h3.6v6.6h-3.6zM289.6 74.5h3.6v3.6h-3.6zM333.1 74.5h3.6v3.6h-3.6zM266.5 91.1h6.7v3.6h-6.7zM266.5 94.5h6.7v3.6h-6.7zM279.6 94.5h3.6v3.6h-3.6zM292.9 97.8h3.6v3.6h-3.6zM427.0 97.8h3.6v3.6h-3.6zM279.6 101.1h3.6v3.6h-3.6zM296.3 104.5h3.6v3.6h-3.6zM292.9 107.8h3.6v3.6h-3.6zM279.6 114.5h3.6v3.6h-3.6zM282.9 114.5h3.6v3.6h-3.6zM303.0 114.5h3.6v3.6h-3.6zM326.4 124.5h3.6v3.6h-3.6zM329.8 124.5h3.6v3.6h-3.6zM319.8 144.5h3.6v3.6h-3.6zM326.4 147.8h3.6v3.6h-3.6zM323.1 151.2h3.6v3.6h-3.6zM326.4 151.2h3.6v3.6h-3.6zM346.6 164.5h3.6v3.6h-3.6zM316.4 177.8h3.6v3.6h-3.6zM380.1 181.2h3.6v3.6h-3.6zM383.4 181.2h3.6v3.6h-3.6zM416.9 191.2h3.6v3.6h-3.6zM420.2 191.2h3.6v3.6h-3.6z"/>
<path fill="#3bbb75" d="M427.0 34.8h3.6v6.6h-3.6zM410.2 41.1h3.6v3.6h-3.6zM420.2 41.1h3.6v3.6h-3.6zM333.1 71.1h3.6v3.6h-3.6zM336.5 71.1h3.6v3.6h-3.6zM343.2 71.1h3.6v3.6h-3.6zM339.9 74.5h3.6v3.6h-3.6zM266.5 81.1h6.7v3.6h-6.7zM272.9 81.1h3.6v3.6h-3.6zM272.9 87.8h3.6v3.6h-3.6zM282.9 87.8h3.6v3.6h-3.6zM286.2 94.5h3.6v3.6h-3.6zM272.9 97.8h3.6v3.6h-3.6zM276.2 97.8h3.6v3.6h-3.6zM296.3 97.8h3.6v3.6h-3.6zM427.0 101.1h3.6v3.6h-3.6zM393.4 107.8h3.6v3.6h-3.6zM292.9 111.1h3.6v3.6h-3.6zM349.9 111.1h3.6v3.6h-3.6zM306.4 114.5h3.6v3.6h-3.6zM326.4 121.1h3.6v3.6h-3.6zM329.8 121.1h3.6v3.6h-3.6zM326.4 154.5h3.6v3.6h-3.6zM353.2 164.5h3.6v3.6h-3.6zM359.9 167.8h3.6v3.6h-3.6zM313.1 177.8h3.6v3.6h-3.6zM319.8 177.8h3.6v3.6h-3.6zM359.9 177.8h3.6v3.6h-3.6zM386.8 177.8h3.6v3.6h-3.6zM386.8 181.2h3.6v3.6h-3.6zM413.6 184.5h3.6v3.6h-3.6zM416.9 184.5h3.6v3.6h-3.6zM413.6 191.2h3.6v3.6h-3.6z"/>
<path fill="#32648e" d="M303.0 41.1h3.6v3.6h-3.6zM319.8 41.1h3.6v3.6h-3.6zM323.1 41.1h3.6v3.6h-3.6zM336.5 41.1h3.6v3.6h-3.6zM353.2 41.1h3.6v3.6h-3.6zM319.8 54.5h3.6v3.6h-3.6zM386.8 57.8h3.6v3.6h-3.6zM403.5 57.8h3.6v3.6h-3.6zM266.5 61.1h6.7v3.6h-6.7zM279.6 61.1h3.6v3.6h-3.6zM276.2 64.5h3.6v3.6h-3.6zM390.1 64.5h3.6v3.6h-3.6zM309.7 67.8h3.6v3.6h-3.6zM400.1 71.1h3.6v3.6h-3.6zM306.4 74.5h3.6v3.6h-3.6zM380.1 77.8h3.6v3.6h-3.6zM383.4 81.1h3.6v3.6h-3.6zM373.4 87.8h3.6v3.6h-3.6zM406.9 91.1h3.6v3.6h-3.6zM316.4 94.5h3.6v3.6h-3.6zM396.8 94.5h3.6v3.6h-3.6zM319.8 97.8h3.6v3.6h-3.6zM323.1 101.1h3.6v3.6h-3.6zM319.8 104.5h3.6v3.6h-3.6zM410.2 114.5h3.6v3.6h-3.6zM386.8 117.8h3.6v3.6h-3.6zM373.4 121.1h3.6v3.6h-3.6zM416.9 127.8h3.6v3.6h-3.6zM390.1 134.5h3.6v3.6h-3.6zM406.9 134.5h3.6v3.6h-3.6zM373.4 141.2h3.6v3.6h-3.6zM406.9 141.2h3.6v3.6h-3.6zM390.1 144.5h3.6v3.6h-3.6zM406.9 144.5h3.6v3.6h-3.6zM380.1 147.8h3.6v3.6h-3.6zM386.8 147.8h3.6v3.6h-3.6zM400.1 147.8h3.6v3.6h-3.6zM286.2 151.2h3.6v3.6h-3.6zM383.4 151.2h3.6v3.6h-3.6zM403.5 151.2h3.6v3.6h-3.6zM403.5 154.5h3.6v3.6h-3.6zM272.9 157.8h3.6v3.6h-3.6zM383.4 157.8h3.6v3.6h-3.6zM386.8 157.8h3.6v3.6h-3.6zM403.5 157.8h3.6v3.6h-3.6zM406.9 157.8h3.6v3.6h-3.6zM266.5 161.2h6.7v3.6h-6.7zM406.9 161.2h3.6v3.6h-3.6zM349.9 171.2h3.6v3.6h-3.6zM403.5 171.2h3.6v3.6h-3.6zM276.2 174.5h3.6v3.6h-3.6zM343.2 177.8h3.6v3.6h-3.6zM349.9 181.2h3.6v3.6h-3.6zM336.5 201.2h3.6v6.6h-3.6z"/>
<path fill="#31688e" d="M326.4 41.1h3.6v3.6h-3.6zM329.8 41.1h3.6v3.6h-3.6zM333.1 41.1h3.6v3.6h-3.6zM299.6 44.5h3.6v3.6h-3.6zM309.7 44.5h3.6v3.6h-3.6zM370.0 47.8h3.6v3.6h-3.6zM309.7 51.1h3.6v3.6h-3.6zM359.9 51.1h3.6v3.6h-3.6zM396.8 54.5h3.6v3.6h-3.6zM279.6 64.5h3.6v3.6h-3.6zM309.7 64.5h3.6v3.6h-3.6zM386.8 64.5h3.6v3.6h-3.6zM306.4 71.1h3.6v3.6h-3.6zM376.7 71.1h3.6v3.6h-3.6zM396.8 71.1h3.6v3.6h-3.6zM406.9 74.5h3.6v3.6h-3.6zM410.2 74.5h3.6v3.6h-3.6zM326.4 81.1h3.6v3.6h-3.6zM326.4 84.5h3.6v3.6h-3.6zM413.6 84.5h3.6v3.6h-3.6zM309.7 87.8h3.6v3.6h-3.6zM376.7 87.8h3.6v3.6h-3.6zM410.2 87.8h3.6v3.6h-3.6zM326.4 94.5h3.6v3.6h-3.6zM326.4 97.8h3.6v3.6h-3.6zM400.1 97.8h3.6v3.6h-3.6zM403.5 97.8h3.6v3.6h-3.6zM326.4 101.1h3.6v3.6h-3.6zM406.9 101.1h3.6v3.6h-3.6zM410.2 101.1h3.6v3.6h-3.6zM406.9 104.5h3.6v3.6h-3.6zM316.4 107.8h3.6v3.6h-3.6zM400.1 111.1h3.6v3.6h-3.6zM393.4 124.5h3.6v3.6h-3.6zM396.8 124.5h3.6v3.6h-3.6zM400.1 124.5h3.6v3.6h-3.6zM282.9 127.8h3.6v3.6h-3.6zM356.6 127.8h3.6v3.6h-3.6zM359.9 127.8h3.6v3.6h-3.6zM383.4 127.8h3.6v3.6h-3.6zM386.8 127.8h3.6v3.6h-3.6zM420.2 127.8h3.6v3.6h-3.6zM423.6 127.8h3.6v3.6h-3.6zM353.2 131.2h3.6v3.6h-3.6zM386.8 131.2h3.6v3.6h-3.6zM296.3 134.5h3.6v3.6h-3.6zM356.6 134.5h3.6v3.6h-3.6zM386.8 134.5h3.6v3.6h-3.6zM393.4 134.5h3.6v3.6h-3.6zM279.6 147.8h3.6v3.6h-3.6zM272.9 154.5h3.6v3.6h-3.6zM292.9 154.5h3.6v3.6h-3.6zM292.9 157.8h3.6v3.6h-3.6zM396.8 157.8h3.6v3.6h-3.6zM400.1 161.2h3.6v3.6h-3.6zM292.9 164.5h3.6v3.6h-3.6zM406.9 171.2h3.6v3.6h-3.6zM266.5 177.8h6.7v3.6h-6.7zM292.9 177.8h3.6v3.6h-3.6zM286.2 181.2h3.6v3.6h-3.6zM303.0 181.2h3.6v3.6h-3.6zM363.3 187.8h3.6v3.6h-3.6zM303.0 191.2h3.6v3.6h-3.6zM303.0 194.5h3.6v3.6h-3.6zM329.8 194.5h3.6v3.6h-3.6zM326.4 197.8h3.6v3.6h-3.6z"/>
<path fill="#2ab07f" d="M400.1 41.1h3.6v3.6h-3.6zM413.6 44.5h3.6v3.6h-3.6zM289.6 51.1h3.6v3.6h-3.6zM346.6 67.8h3.6v3.6h-3.6zM353.2 67.8h3.6v3.6h-3.6zM292.9 74.5h3.6v3.6h-3.6zM329.8 74.5h3.6v3.6h-3.6zM266.5 77.8h6.7v3.6h-6.7zM423.6 77.8h3.6v3.6h-3.6zM430.3 81.1h3.6v3.6h-3.6zM276.2 84.5h3.6v3.6h-3.6zM433.6 84.5h6.7v3.6h-6.7zM289.6 94.5h3.6v3.6h-3.6zM276.2 107.8h3.6v3.6h-3.6zM306.4 111.1h3.6v3.6h-3.6zM276.2 114.5h3.6v3.6h-3.6zM336.5 114.5h3.6v3.6h-3.6zM303.0 117.8h3.6v3.6h-3.6zM306.4 117.8h3.6v3.6h-3.6zM309.7 124.5h3.6v3.6h-3.6zM333.1 124.5h3.6v3.6h-3.6zM309.7 127.8h3.6v3.6h-3.6zM316.4 131.2h3.6v3.6h-3.6zM319.8 131.2h3.6v3.6h-3.6zM286.2 141.2h3.6v3.6h-3.6zM303.0 144.5h3.6v3.6h-3.6zM306.4 144.5h3.6v3.6h-3.6zM306.4 147.8h3.6v3.6h-3.6zM309.7 147.8h3.6v3.6h-3.6zM313.1 151.2h3.6v3.6h-3.6zM316.4 151.2h3.6v3.6h-3.6zM319.8 151.2h3.6v3.6h-3.6zM333.1 154.5h3.6v3.6h-3.6zM339.9 154.5h3.6v3.6h-3.6zM343.2 154.5h3.6v3.6h-3.6zM316.4 157.8h3.6v3.6h-3.6zM323.1 157.8h3.6v3.6h-3.6zM329.8 157.8h3.6v3.6h-3.6zM313.1 161.2h3.6v3.6h-3.6zM313.1 164.5h3.6v3.6h-3.6zM323.1 164.5h3.6v3.6h-3.6zM336.5 167.8h3.6v3.6h-3.6zM433.6 177.8h6.7v3.6h-6.7zM313.1 181.2h3.6v3.6h-3.6zM366.6 181.2h3.6v3.6h-3.6zM410.2 181.2h3.6v3.6h-3.6zM383.4 184.5h3.6v3.6h-3.6zM430.3 187.8h3.6v3.6h-3.6zM433.6 191.2h6.7v3.6h-6.7zM410.2 194.5h3.6v3.6h-3.6zM416.9 194.5h3.6v3.6h-3.6zM433.6 194.5h6.7v3.6h-6.7zM427.0 197.8h3.6v3.6h-3.6zM386.8 201.2h3.6v6.6h-3.6z"/>
<path fill="#42be71" d="M403.5 41.1h3.6v3.6h-3.6zM406.9 41.1h3.6v3.6h-3.6zM413.6 41.1h3.6v3.6h-3.6zM416.9 41.1h3.6v3.6h-3.6zM400.1 44.5h3.6v3.6h-3.6zM353.2 71.1h3.6v3.6h-3.6zM343.2 74.5h3.6v3.6h-3.6zM346.6 74.5h3.6v3.6h-3.6zM289.6 81.1h3.6v3.6h-3.6zM272.9 84.5h3.6v3.6h-3.6zM282.9 94.5h3.6v3.6h-3.6zM282.9 97.8h3.6v3.6h-3.6zM430.3 101.1h3.6v3.6h-3.6zM303.0 107.8h3.6v3.6h-3.6zM366.6 107.8h3.6v3.6h-3.6zM346.6 151.2h3.6v3.6h-3.6zM359.9 164.5h3.6v3.6h-3.6zM366.6 164.5h3.6v3.6h-3.6zM313.1 167.8h3.6v3.6h-3.6zM319.8 167.8h3.6v3.6h-3.6zM313.1 174.5h3.6v3.6h-3.6zM319.8 174.5h3.6v3.6h-3.6zM359.9 174.5h3.6v3.6h-3.6zM370.0 177.8h3.6v3.6h-3.6zM316.4 181.2h3.6v3.6h-3.6zM423.6 181.2h3.6v3.6h-3.6zM413.6 187.8h3.6v3.6h-3.6z"/>
<path fill="#2fb47c" d="M423.6 41.1h3.6v3.6h-3.6zM272.9 77.8h3.6v3.6h-3.6zM420.2 77.8h3.6v3.6h-3.6zM296.3 81.1h3.6v3.6h-3.6zM266.5 87.8h6.7v3.6h-6.7zM276.2 101.1h3.6v3.6h-3.6zM276.2 104.5h3.6v3.6h-3.6zM303.0 104.5h3.6v3.6h-3.6zM349.9 107.8h3.6v3.6h-3.6zM286.2 111.1h3.6v3.6h-3.6zM339.9 114.5h3.6v3.6h-3.6zM323.1 124.5h3.6v3.6h-3.6zM313.1 127.8h3.6v3.6h-3.6zM323.1 131.2h3.6v3.6h-3.6zM430.3 134.5h3.6v3.6h-3.6zM282.9 137.8h3.6v3.6h-3.6zM313.1 147.8h3.6v3.6h-3.6zM316.4 147.8h3.6v3.6h-3.6zM343.2 151.2h3.6v3.6h-3.6zM326.4 157.8h3.6v3.6h-3.6zM319.8 161.2h3.6v3.6h-3.6zM323.1 161.2h3.6v3.6h-3.6zM353.2 161.2h3.6v3.6h-3.6zM423.6 161.2h3.6v3.6h-3.6zM343.2 164.5h3.6v3.6h-3.6zM356.6 164.5h3.6v3.6h-3.6zM366.6 171.2h3.6v3.6h-3.6zM393.4 174.5h3.6v3.6h-3.6zM319.8 181.2h3.6v3.6h-3.6zM420.2 181.2h3.6v3.6h-3.6zM430.3 181.2h3.6v3.6h-3.6zM316.4 184.5h3.6v3.6h-3.6zM319.8 184.5h3.6v3.6h-3.6zM433.6 184.5h6.7v3.6h-6.7zM433.6 187.8h6.7v3.6h-6.7zM423.6 191.2h3.6v3.6h-3.6zM413.6 194.5h3.6v3.6h-3.6zM430.3 194.5h3.6v3.6h-3.6z"/>
<path fill="#23a983" d="M427.0 41.1h3.6v3.6h-3.6zM272.9 44.5h3.6v3.6h-3.6zM410.2 47.8h3.6v3.6h-3.6zM427.0 47.8h3.6v3.6h-3.6zM346.6 51.1h3.6v3.6h-3.6zM343.2 67.8h3.6v3.6h-3.6zM356.6 71.1h3.6v3.6h-3.6zM353.2 74.5h3.6v3.6h-3.6zM333.1 77.8h3.6v3.6h-3.6zM336.5 77.8h3.6v3.6h-3.6zM343.2 77.8h3.6v3.6h-3.6zM286.2 81.1h3.6v3.6h-3.6zM396.8 81.1h3.6v3.6h-3.6zM282.9 84.5h3.6v3.6h-3.6zM423.6 97.8h3.6v3.6h-3.6zM303.0 101.1h3.6v3.6h-3.6zM336.5 101.1h3.6v3.6h-3.6zM266.5 104.5h6.7v3.6h-6.7zM272.9 104.5h3.6v3.6h-3.6zM346.6 104.5h3.6v3.6h-3.6zM433.6 104.5h6.7v3.6h-6.7zM266.5 107.8h6.7v3.6h-6.7zM373.4 107.8h3.6v3.6h-3.6zM289.6 111.1h3.6v3.6h-3.6zM343.2 111.1h3.6v3.6h-3.6zM393.4 111.1h3.6v3.6h-3.6zM343.2 114.5h3.6v3.6h-3.6zM333.1 121.1h3.6v3.6h-3.6zM316.4 124.5h3.6v3.6h-3.6zM306.4 127.8h3.6v3.6h-3.6zM303.0 131.2h3.6v3.6h-3.6zM309.7 131.2h3.6v3.6h-3.6zM313.1 131.2h3.6v3.6h-3.6zM329.8 131.2h3.6v3.6h-3.6zM346.6 134.5h3.6v3.6h-3.6zM279.6 137.8h3.6v3.6h-3.6zM319.8 141.2h3.6v3.6h-3.6zM309.7 144.5h3.6v3.6h-3.6zM420.2 144.5h3.6v3.6h-3.6zM329.8 147.8h3.6v3.6h-3.6zM309.7 151.2h3.6v3.6h-3.6zM339.9 151.2h3.6v3.6h-3.6zM316.4 154.5h3.6v3.6h-3.6zM319.8 154.5h3.6v3.6h-3.6zM336.5 154.5h3.6v3.6h-3.6zM346.6 154.5h3.6v3.6h-3.6zM346.6 161.2h3.6v3.6h-3.6zM359.9 161.2h3.6v3.6h-3.6zM336.5 164.5h3.6v3.6h-3.6zM323.1 167.8h3.6v3.6h-3.6zM323.1 171.2h3.6v3.6h-3.6zM309.7 174.5h3.6v3.6h-3.6zM323.1 174.5h3.6v3.6h-3.6zM390.1 174.5h3.6v3.6h-3.6zM309.7 177.8h3.6v3.6h-3.6zM329.8 177.8h3.6v3.6h-3.6zM390.1 177.8h3.6v3.6h-3.6zM363.3 181.2h3.6v3.6h-3.6zM390.1 181.2h3.6v3.6h-3.6zM380.1 184.5h3.6v3.6h-3.6zM386.8 184.5h3.6v3.6h-3.6zM319.8 187.8h3.6v3.6h-3.6zM333.1 187.8h3.6v3.6h-3.6zM420.2 194.5h3.6v3.6h-3.6zM383.4 197.8h3.6v3.6h-3.6zM410.2 197.8h3.6v3.6h-3.6zM433.6 197.8h6.7v3.6h-6.7z"/>
<path fill="#1fa187" d="M266.5 44.5h6.7v3.6h-6.7zM396.8 44.5h3.6v3.6h-3.6zM427.0 44.5h3.6v3.6h-3.6zM430.3 44.5h3.6v3.6h-3.6zM286.2 51.1h3.6v3.6h-3.6zM349.9 51.1h3.6v3.6h-3.6zM333.1 67.8h3.6v3.6h-3.6zM339.9 67.8h3.6v3.6h-3.6zM356.6 67.8h3.6v3.6h-3.6zM272.9 71.1h3.6v3.6h-3.6zM423.6 71.1h3.6v3.6h-3.6zM346.6 77.8h3.6v3.6h-3.6zM427.0 77.8h3.6v3.6h-3.6zM393.4 81.1h3.6v3.6h-3.6zM286.2 84.5h3.6v3.6h-3.6zM289.6 84.5h3.6v3.6h-3.6zM292.9 84.5h3.6v3.6h-3.6zM427.0 84.5h3.6v3.6h-3.6zM339.9 91.1h3.6v3.6h-3.6zM423.6 91.1h3.6v3.6h-3.6zM423.6 94.5h3.6v3.6h-3.6zM303.0 97.8h3.6v3.6h-3.6zM333.1 97.8h3.6v3.6h-3.6zM423.6 101.1h3.6v3.6h-3.6zM333.1 104.5h3.6v3.6h-3.6zM363.3 104.5h3.6v3.6h-3.6zM380.1 104.5h3.6v3.6h-3.6zM393.4 104.5h3.6v3.6h-3.6zM396.8 104.5h3.6v3.6h-3.6zM306.4 107.8h3.6v3.6h-3.6zM333.1 107.8h3.6v3.6h-3.6zM390.1 107.8h3.6v3.6h-3.6zM396.8 107.8h3.6v3.6h-3.6zM266.5 111.1h6.7v3.6h-6.7zM272.9 111.1h3.6v3.6h-3.6zM333.1 111.1h3.6v3.6h-3.6zM336.5 111.1h3.6v3.6h-3.6zM333.1 114.5h3.6v3.6h-3.6zM353.2 114.5h3.6v3.6h-3.6zM296.3 117.8h3.6v3.6h-3.6zM326.4 117.8h3.6v3.6h-3.6zM329.8 117.8h3.6v3.6h-3.6zM266.5 121.1h6.7v3.6h-6.7zM313.1 121.1h3.6v3.6h-3.6zM306.4 124.5h3.6v3.6h-3.6zM299.6 127.8h3.6v3.6h-3.6zM303.0 127.8h3.6v3.6h-3.6zM333.1 131.2h3.6v3.6h-3.6zM430.3 131.2h3.6v3.6h-3.6zM433.6 131.2h6.7v3.6h-6.7zM279.6 134.5h3.6v3.6h-3.6zM282.9 134.5h3.6v3.6h-3.6zM363.3 137.8h3.6v3.6h-3.6zM430.3 137.8h3.6v3.6h-3.6zM433.6 137.8h6.7v3.6h-6.7zM279.6 141.2h3.6v3.6h-3.6zM303.0 141.2h3.6v3.6h-3.6zM299.6 144.5h3.6v3.6h-3.6zM329.8 144.5h3.6v3.6h-3.6zM303.0 151.2h3.6v3.6h-3.6zM336.5 151.2h3.6v3.6h-3.6zM306.4 154.5h3.6v3.6h-3.6zM309.7 154.5h3.6v3.6h-3.6zM303.0 157.8h3.6v3.6h-3.6zM333.1 157.8h3.6v3.6h-3.6zM336.5 157.8h3.6v3.6h-3.6zM306.4 161.2h3.6v3.6h-3.6zM329.8 161.2h3.6v3.6h-3.6zM363.3 161.2h3.6v3.6h-3.6zM427.0 161.2h3.6v3.6h-3.6zM329.8 164.5h3.6v3.6h-3.6zM393.4 167.8h3.6v3.6h-3.6zM343.2 171.2h3.6v3.6h-3.6zM386.8 174.5h3.6v3.6h-3.6zM413.6 177.8h3.6v3.6h-3.6zM423.6 177.8h3.6v3.6h-3.6zM427.0 177.8h3.6v3.6h-3.6zM309.7 181.2h3.6v3.6h-3.6zM313.1 184.5h3.6v3.6h-3.6zM329.8 187.8h3.6v3.6h-3.6zM406.9 187.8h3.6v3.6h-3.6zM427.0 194.5h3.6v3.6h-3.6zM316.4 197.8h3.6v3.6h-3.6zM380.1 197.8h3.6v3.6h-3.6zM423.6 197.8h3.6v3.6h-3.6zM319.8 201.2h3.6v6.6h-3.6zM423.6 201.2h3.6v6.6h-3.6z"/>
<path fill="#38588c" d="M313.1 44.5h3.6v3.6h-3.6zM319.8 47.8h3.6v3.6h-3.6zM313.1 51.1h3.6v3.6h-3.6zM266.5 54.5h6.7v3.6h-6.7zM266.5 57.8h6.7v3.6h-6.7zM396.8 64.5h3.6v3.6h-3.6zM306.4 67.8h3.6v3.6h-3.6zM400.1 67.8h3.6v3.6h-3.6zM309.7 74.5h3.6v3.6h-3.6zM313.1 74.5h3.6v3.6h-3.6zM410.2 77.8h3.6v3.6h-3.6zM319.8 91.1h3.6v3.6h-3.6zM403.5 91.1h3.6v3.6h-3.6zM400.1 94.5h3.6v3.6h-3.6zM410.2 104.5h3.6v3.6h-3.6zM380.1 114.5h3.6v3.6h-3.6zM386.8 121.1h3.6v3.6h-3.6zM410.2 127.8h3.6v3.6h-3.6zM356.6 131.2h3.6v3.6h-3.6zM396.8 131.2h3.6v3.6h-3.6zM403.5 144.5h3.6v3.6h-3.6zM390.1 147.8h3.6v3.6h-3.6zM282.9 151.2h3.6v3.6h-3.6zM289.6 157.8h3.6v3.6h-3.6zM380.1 157.8h3.6v3.6h-3.6zM272.9 161.2h3.6v3.6h-3.6zM403.5 164.5h3.6v3.6h-3.6zM272.9 174.5h3.6v3.6h-3.6zM296.3 181.2h3.6v3.6h-3.6zM286.2 187.8h3.6v3.6h-3.6z"/>
<path fill="#3d4e8a" d="M316.4 44.5h3.6v3.6h-3.6zM356.6 44.5h3.6v3.6h-3.6zM359.9 44.5h3.6v3.6h-3.6zM363.3 47.8h3.6v3.6h-3.6zM393.4 57.8h3.6v3.6h-3.6zM386.8 61.1h3.6v3.6h-3.6zM323.1 74.5h3.6v3.6h-3.6zM406.9 77.8h3.6v3.6h-3.6zM373.4 81.1h3.6v3.6h-3.6zM380.1 81.1h3.6v3.6h-3.6zM410.2 81.1h3.6v3.6h-3.6zM309.7 84.5h3.6v3.6h-3.6zM406.9 84.5h3.6v3.6h-3.6zM316.4 87.8h3.6v3.6h-3.6zM319.8 87.8h3.6v3.6h-3.6zM403.5 114.5h3.6v3.6h-3.6zM400.1 131.2h3.6v3.6h-3.6zM373.4 144.5h3.6v3.6h-3.6zM276.2 151.2h3.6v3.6h-3.6zM390.1 151.2h3.6v3.6h-3.6zM393.4 151.2h3.6v3.6h-3.6zM393.4 154.5h3.6v3.6h-3.6zM376.7 157.8h3.6v3.6h-3.6zM266.5 164.5h6.7v3.6h-6.7zM279.6 167.8h3.6v3.6h-3.6zM286.2 167.8h3.6v3.6h-3.6zM266.5 174.5h6.7v3.6h-6.7zM286.2 184.5h3.6v3.6h-3.6zM299.6 187.8h3.6v3.6h-3.6z"/>
<path fill="#3a538b" d="M363.3 44.5h3.6v3.6h-3.6zM359.9 47.8h3.6v3.6h-3.6zM316.4 51.1h3.6v3.6h-3.6zM400.1 57.8h3.6v3.6h-3.6zM410.2 84.5h3.6v3.6h-3.6zM313.1 87.8h3.6v3.6h-3.6zM400.1 144.5h3.6v3.6h-3.6zM393.4 147.8h3.6v3.6h-3.6zM286.2 154.5h3.6v3.6h-3.6zM376.7 154.5h3.6v3.6h-3.6zM380.1 154.5h3.6v3.6h-3.6zM390.1 154.5h3.6v3.6h-3.6zM289.6 167.8h3.6v3.6h-3.6zM403.5 167.8h3.6v3.6h-3.6zM276.2 171.2h3.6v3.6h-3.6zM329.8 201.2h3.6v6.6h-3.6z"/>
<path fill="#5ac864" d="M406.9 44.5h3.6v3.6h-3.6zM346.6 71.1h3.6v3.6h-3.6zM349.9 71.1h3.6v3.6h-3.6zM292.9 77.8h3.6v3.6h-3.6zM286.2 97.8h3.6v3.6h-3.6zM289.6 97.8h3.6v3.6h-3.6zM279.6 107.8h3.6v3.6h-3.6zM286.2 107.8h3.6v3.6h-3.6zM303.0 111.1h3.6v3.6h-3.6zM323.1 144.5h3.6v3.6h-3.6zM316.4 164.5h3.6v3.6h-3.6zM349.9 164.5h3.6v3.6h-3.6zM363.3 167.8h3.6v3.6h-3.6zM366.6 167.8h3.6v3.6h-3.6zM373.4 177.8h3.6v3.6h-3.6zM383.4 177.8h3.6v3.6h-3.6zM416.9 187.8h3.6v3.6h-3.6zM423.6 187.8h3.6v3.6h-3.6z"/>
<path fill="#4ac16d" d="M410.2 44.5h3.6v3.6h-3.6zM336.5 74.5h3.6v3.6h-3.6zM292.9 81.1h3.6v3.6h-3.6zM276.2 87.8h3.6v3.6h-3.6zM279.6 87.8h3.6v3.6h-3.6zM282.9 91.1h3.6v3.6h-3.6zM430.3 97.8h3.6v3.6h-3.6zM296.3 101.1h3.6v3.6h-3.6zM299.6 104.5h3.6v3.6h-3.6zM289.6 107.8h3.6v3.6h-3.6zM346.6 107.8h3.6v3.6h-3.6zM346.6 111.1h3.6v3.6h-3.6zM296.3 114.5h3.6v3.6h-3.6zM319.8 147.8h3.6v3.6h-3.6zM349.9 147.8h3.6v3.6h-3.6zM329.8 154.5h3.6v3.6h-3.6zM363.3 164.5h3.6v3.6h-3.6zM370.0 167.8h3.6v3.6h-3.6zM313.1 171.2h3.6v3.6h-3.6zM319.8 171.2h3.6v3.6h-3.6zM370.0 181.2h3.6v3.6h-3.6zM427.0 184.5h3.6v3.6h-3.6z"/>
<path fill="#1f968b" d="M433.6 44.5h6.7v3.6h-6.7zM343.2 47.8h3.6v3.6h-3.6zM413.6 47.8h3.6v3.6h-3.6zM276.2 51.1h3.6v3.6h-3.6zM423.6 51.1h3.6v3.6h-3.6zM343.2 64.5h3.6v3.6h-3.6zM366.6 64.5h3.6v3.6h-3.6zM420.2 64.5h3.6v3.6h-3.6zM427.0 64.5h3.6v3.6h-3.6zM430.3 64.5h3.6v3.6h-3.6zM289.6 67.8h3.6v3.6h-3.6zM329.8 67.8h3.6v3.6h-3.6zM359.9 67.8h3.6v3.6h-3.6zM363.3 67.8h3.6v3.6h-3.6zM266.5 71.1h6.7v3.6h-6.7zM420.2 71.1h3.6v3.6h-3.6zM356.6 74.5h3.6v3.6h-3.6zM430.3 77.8h3.6v3.6h-3.6zM433.6 77.8h6.7v3.6h-6.7zM279.6 81.1h3.6v3.6h-3.6zM346.6 81.1h3.6v3.6h-3.6zM343.2 84.5h3.6v3.6h-3.6zM356.6 84.5h3.6v3.6h-3.6zM390.1 84.5h3.6v3.6h-3.6zM356.6 87.8h3.6v3.6h-3.6zM430.3 87.8h3.6v3.6h-3.6zM359.9 91.1h3.6v3.6h-3.6zM366.6 91.1h3.6v3.6h-3.6zM430.3 91.1h3.6v3.6h-3.6zM296.3 94.5h3.6v3.6h-3.6zM336.5 94.5h3.6v3.6h-3.6zM339.9 94.5h3.6v3.6h-3.6zM380.1 94.5h3.6v3.6h-3.6zM306.4 97.8h3.6v3.6h-3.6zM366.6 101.1h3.6v3.6h-3.6zM370.0 101.1h3.6v3.6h-3.6zM306.4 104.5h3.6v3.6h-3.6zM339.9 107.8h3.6v3.6h-3.6zM353.2 107.8h3.6v3.6h-3.6zM329.8 111.1h3.6v3.6h-3.6zM329.8 114.5h3.6v3.6h-3.6zM390.1 114.5h3.6v3.6h-3.6zM292.9 117.8h3.6v3.6h-3.6zM319.8 117.8h3.6v3.6h-3.6zM346.6 117.8h3.6v3.6h-3.6zM349.9 117.8h3.6v3.6h-3.6zM289.6 121.1h3.6v3.6h-3.6zM299.6 121.1h3.6v3.6h-3.6zM316.4 121.1h3.6v3.6h-3.6zM336.5 121.1h3.6v3.6h-3.6zM266.5 124.5h6.7v3.6h-6.7zM336.5 124.5h3.6v3.6h-3.6zM370.0 127.8h3.6v3.6h-3.6zM296.3 131.2h3.6v3.6h-3.6zM276.2 134.5h3.6v3.6h-3.6zM323.1 134.5h3.6v3.6h-3.6zM343.2 134.5h3.6v3.6h-3.6zM413.6 134.5h3.6v3.6h-3.6zM416.9 134.5h3.6v3.6h-3.6zM303.0 137.8h3.6v3.6h-3.6zM346.6 137.8h3.6v3.6h-3.6zM413.6 137.8h3.6v3.6h-3.6zM420.2 137.8h3.6v3.6h-3.6zM309.7 141.2h3.6v3.6h-3.6zM296.3 144.5h3.6v3.6h-3.6zM423.6 144.5h3.6v3.6h-3.6zM333.1 147.8h3.6v3.6h-3.6zM353.2 147.8h3.6v3.6h-3.6zM420.2 147.8h3.6v3.6h-3.6zM433.6 151.2h6.7v3.6h-6.7zM343.2 157.8h3.6v3.6h-3.6zM346.6 157.8h3.6v3.6h-3.6zM356.6 157.8h3.6v3.6h-3.6zM303.0 161.2h3.6v3.6h-3.6zM339.9 161.2h3.6v3.6h-3.6zM366.6 161.2h3.6v3.6h-3.6zM420.2 161.2h3.6v3.6h-3.6zM309.7 167.8h3.6v3.6h-3.6zM413.6 174.5h3.6v3.6h-3.6zM396.8 177.8h3.6v3.6h-3.6zM416.9 177.8h3.6v3.6h-3.6zM356.6 181.2h3.6v3.6h-3.6zM313.1 187.8h3.6v3.6h-3.6zM279.6 191.2h3.6v3.6h-3.6zM323.1 191.2h3.6v3.6h-3.6zM356.6 191.2h3.6v3.6h-3.6zM313.1 194.5h3.6v3.6h-3.6zM359.9 194.5h3.6v3.6h-3.6zM380.1 194.5h3.6v3.6h-3.6zM383.4 194.5h3.6v3.6h-3.6zM396.8 194.5h3.6v3.6h-3.6zM292.9 197.8h3.6v3.6h-3.6zM313.1 197.8h3.6v3.6h-3.6zM373.4 197.8h3.6v3.6h-3.6zM393.4 197.8h3.6v3.6h-3.6zM299.6 201.2h3.6v6.6h-3.6zM313.1 201.2h3.6v6.6h-3.6zM323.1 201.2h3.6v6.6h-3.6zM420.2 201.2h3.6v6.6h-3.6z"/>
<path fill="#424086" d="M313.1 47.8h3.6v3.6h-3.6zM319.8 74.5h3.6v3.6h-3.6zM309.7 77.8h3.6v3.6h-3.6zM309.7 81.1h3.6v3.6h-3.6zM376.7 84.5h3.6v3.6h-3.6zM406.9 111.1h3.6v3.6h-3.6zM380.1 124.5h3.6v3.6h-3.6zM403.5 134.5h3.6v3.6h-3.6zM286.2 157.8h3.6v3.6h-3.6zM276.2 161.2h3.6v3.6h-3.6zM272.9 164.5h3.6v3.6h-3.6zM329.8 197.8h3.6v3.6h-3.6zM333.1 197.8h3.6v3.6h-3.6z"/>
<path fill="#453781" d="M316.4 47.8h3.6v3.6h-3.6zM393.4 61.1h3.6v3.6h-3.6zM396.8 61.1h3.6v3.6h-3.6zM313.1 77.8h3.6v3.6h-3.6zM376.7 117.8h3.6v3.6h-3.6zM400.1 137.8h3.6v3.6h-3.6zM282.9 154.5h3.6v3.6h-3.6zM279.6 164.5h3.6v3.6h-3.6z"/>
<path fill="#404588" d="M396.8 57.8h3.6v3.6h-3.6zM390.1 61.1h3.6v3.6h-3.6zM400.1 61.1h3.6v3.6h-3.6zM323.1 77.8h3.6v3.6h-3.6zM376.7 81.1h3.6v3.6h-3.6zM406.9 81.1h3.6v3.6h-3.6zM323.1 84.5h3.6v3.6h-3.6zM373.4 84.5h3.6v3.6h-3.6zM403.5 111.1h3.6v3.6h-3.6zM383.4 124.5h3.6v3.6h-3.6zM400.1 141.2h3.6v3.6h-3.6zM403.5 141.2h3.6v3.6h-3.6zM286.2 164.5h3.6v3.6h-3.6zM276.2 167.8h3.6v3.6h-3.6zM272.9 171.2h3.6v3.6h-3.6zM289.6 187.8h3.6v3.6h-3.6zM292.9 187.8h3.6v3.6h-3.6zM296.3 187.8h3.6v3.6h-3.6z"/>
<path fill="#3e4989" d="M316.4 74.5h3.6v3.6h-3.6zM380.1 84.5h3.6v3.6h-3.6zM406.9 114.5h3.6v3.6h-3.6zM279.6 151.2h3.6v3.6h-3.6zM282.9 167.8h3.6v3.6h-3.6zM289.6 181.2h3.6v3.6h-3.6zM292.9 181.2h3.6v3.6h-3.6zM299.6 184.5h3.6v3.6h-3.6zM333.1 201.2h3.6v6.6h-3.6z"/>
<path fill="#482878" d="M316.4 77.8h3.6v3.6h-3.6zM319.8 77.8h3.6v3.6h-3.6zM282.9 157.8h3.6v3.6h-3.6zM279.6 161.2h3.6v3.6h-3.6zM282.9 161.2h3.6v3.6h-3.6z"/>
<path fill="#46327e" d="M313.1 81.1h3.6v3.6h-3.6zM316.4 84.5h3.6v3.6h-3.6zM319.8 84.5h3.6v3.6h-3.6zM383.4 117.8h3.6v3.6h-3.6zM376.7 121.1h3.6v3.6h-3.6zM276.2 154.5h3.6v3.6h-3.6zM276.2 157.8h3.6v3.6h-3.6zM282.9 164.5h3.6v3.6h-3.6z"/>
<path fill="#481d6f" d="M316.4 81.1h3.6v3.6h-3.6zM319.8 81.1h3.6v3.6h-3.6z"/>
<path fill="#443b84" d="M323.1 81.1h3.6v3.6h-3.6zM313.1 84.5h3.6v3.6h-3.6zM400.1 134.5h3.6v3.6h-3.6zM403.5 137.8h3.6v3.6h-3.6zM286.2 161.2h3.6v3.6h-3.6zM276.2 164.5h3.6v3.6h-3.6zM266.5 167.8h6.7v3.6h-6.7zM272.9 167.8h3.6v3.6h-3.6zM266.5 171.2h6.7v3.6h-6.7zM296.3 184.5h3.6v3.6h-3.6z"/>
<path fill="#77d153" d="M272.9 94.5h3.6v3.6h-3.6zM279.6 104.5h3.6v3.6h-3.6zM323.1 147.8h3.6v3.6h-3.6zM316.4 174.5h3.6v3.6h-3.6zM420.2 187.8h3.6v3.6h-3.6z"/>
<path fill="#aadc32" d="M282.9 101.1h3.6v3.6h-3.6z"/>
<path fill="#dfe318" d="M286.2 101.1h3.6v3.6h-3.6z"/>
<path fill="#c0df25" d="M289.6 101.1h3.6v3.6h-3.6zM289.6 104.5h3.6v3.6h-3.6z"/>
<path fill="#d5e21a" d="M282.9 104.5h3.6v3.6h-3.6z"/>
<path fill="#f4e61e" d="M286.2 104.5h3.6v3.6h-3.6z"/>
<path fill="#81d34d" d="M296.3 111.1h3.6v3.6h-3.6z"/>
<path fill="#482374" d="M380.1 117.8h3.6v3.6h-3.6zM383.4 121.1h3.6v3.6h-3.6zM279.6 154.5h3.6v3.6h-3.6z"/>
<path fill="#471365" d="M380.1 121.1h3.6v3.6h-3.6zM279.6 157.8h3.6v3.6h-3.6z"/>
<path fill="#b5de2b" d="M316.4 167.8h3.6v3.6h-3.6zM316.4 171.2h3.6v3.6h-3.6z"/>
<path fill="#472d7b" d="M289.6 184.5h3.6v3.6h-3.6zM292.9 184.5h3.6v3.6h-3.6z"/>
</g>
<path d="M428.2 38.3 428.0 39.5 427.0 40.8 426.0 41.5 424.0 42.2 423.0 42.4 421.0 42.6 419.0 42.7 417.0 42.9 415.0 43.2 414.0 43.7 413.5 45.3 413.0 46.4 411.9 47.3 410.0 48.0 408.0 48.2 406.0 48.0 404.0 47.6 402.8 47.3 401.0 46.3 400.5 45.3 401.0 43.8 402.0 42.9 403.0 42.3 405.0 41.5 406.0 41.2 407.7 40.3 408.0 39.1M339.0 77.4 337.0 77.9 335.0 78.0 333.0 77.4 332.1 76.3 332.0 75.3 332.2 74.3 333.0 73.1 334.0 72.3 336.0 71.8 338.0 72.0 339.4 72.3 341.0 72.7 343.0 72.4 344.0 71.9 345.1 71.3 347.0 70.4 348.0 70.1 350.0 69.5 352.0 69.4 354.0 69.9 355.0 70.7 355.5 72.3 354.9 73.3 353.7 74.3 352.0 75.2 351.0 75.6 349.1 76.3 348.0 76.6 346.0 76.9 344.0 76.7 342.0 76.6 340.0 77.1 339.0 77.4zM295.0 83.5 293.0 83.6 291.8 83.3 290.0 82.4 289.0 81.7 288.0 80.4 287.5 79.3 287.2 77.3 287.8 75.3 288.5 74.3 290.0 73.7 291.3 74.3 292.5 75.3 293.5 76.3 294.3 77.3 295.0 78.4 296.0 80.1 296.5 81.3 296.0 83.1 295.0 83.5zM270.0 90.8 271.0 90.1 271.9 88.3 271.0 86.4 270.5 85.3 270.2 83.3 271.0 81.7 272.0 80.6 274.0 81.3 274.5 82.3 275.0 83.4 275.2 85.3 275.0 86.5 275.0 87.5 277.0 87.9 279.0 87.5 281.0 87.4 283.0 88.2 284.0 89.0 285.0 89.8 286.0 90.9 287.0 92.2 287.7 93.3 288.2 94.3 289.0 95.5 290.0 96.4 292.0 97.2 293.0 97.4 295.0 97.9 296.1 98.3 298.0 99.2 299.0 100.0 300.0 101.1 300.9 102.3 301.7 103.3 302.5 104.3 303.2 105.3 304.0 107.1 304.4 108.3 305.0 109.6 305.8 111.3 306.3 112.3 307.0 113.6 307.9 115.3 308.0 116.3 307.4 117.3 306.0 117.8 304.0 118.1 302.0 118.1 300.0 117.9 298.3 117.3 297.0 116.6 296.0 115.8 295.0 114.5 294.3 113.3 293.6 112.3 292.7 111.3 291.0 110.4 290.0 110.3 289.0 110.4 287.0 111.3 286.8 112.3 286.8 114.3 286.0 116.1 285.0 116.9 283.6 117.3 282.8 117.3 281.0 116.9 279.6 116.3 278.3 115.3 277.7 114.3 277.6 112.3 278.0 111.2 278.5 109.3 278.2 107.3 278.2 105.3 278.5 103.3 279.0 101.3 279.0 100.3 278.0 100.0 276.0 99.9 274.0 99.5 273.0 99.1 271.5 98.3 270.0 97.4M432.0 103.4 430.0 103.3 429.0 103.0 427.8 102.3 426.9 101.3 426.7 99.3 427.0 97.7 427.7 96.3 429.0 95.7 430.1 96.3 431.2 97.3 432.1 98.3 433.0 99.7 433.4 101.3 433.0 102.7 432.0 103.4zM368.0 110.4 367.0 110.2 366.1 108.3 367.0 106.5 368.0 105.8 370.0 105.6 371.8 106.3 372.4 107.3 372.0 108.3 370.9 109.3 369.0 110.3 368.0 110.4zM350.0 113.7 348.0 113.7 347.0 113.0 346.0 111.3 345.8 110.3 346.0 109.3 347.0 108.0 349.0 107.9 350.0 108.7 351.0 110.3 351.4 111.3 351.0 113.2 350.0 113.7zM332.0 128.5 330.0 129.2 328.0 129.3 326.0 129.0 324.8 128.3 324.5 126.3 324.9 124.3 325.4 123.3 326.4 122.3 328.0 121.7 330.0 121.7 331.5 122.3 332.7 123.3 333.4 124.3 333.5 126.3 333.0 127.4 332.0 128.5zM322.0 130.5 320.0 130.6 318.0 130.3 317.4 129.3 319.0 128.9 321.0 129.1 322.0 129.3 322.0 130.5zM330.0 158.4 328.0 158.3 327.1 157.3 326.4 156.3 325.6 155.3 324.5 154.3 323.4 153.3 322.3 152.3 321.2 151.3 320.3 150.3 319.7 149.3 319.2 147.3 319.4 145.3 320.0 144.3 322.0 143.7 324.0 144.1 325.0 144.4 326.8 145.3 328.0 146.3 328.6 147.3 329.0 148.4 329.3 150.3 330.0 152.3 331.0 152.7 332.7 153.3 333.5 154.3 333.4 156.3 332.6 157.3 331.0 158.1 330.0 158.4zM350.0 152.6 348.0 153.1 346.0 152.7 345.0 151.4 344.6 150.3 345.0 148.6 346.0 147.8 348.0 147.4 350.0 147.9 351.0 148.6 351.8 150.3 351.0 152.0 350.0 152.6zM319.0 184.5 317.7 184.3 316.5 183.3 315.5 182.3 314.6 181.3 313.9 180.3 313.3 178.3 313.3 176.3 313.3 174.3 313.3 172.3 313.4 170.3 313.8 168.3 314.1 167.3 314.9 165.3 315.5 164.3 316.4 163.3 318.0 162.6 319.4 163.3 320.5 164.3 321.0 165.3 321.7 167.3 321.9 169.3 322.0 171.3 322.0 173.3 321.9 175.3 321.7 177.3 321.1 179.3 320.7 180.3 320.0 182.3 319.6 183.3 319.0 184.5zM350.0 167.4 348.0 167.7 346.0 167.5 345.0 166.5 345.0 166.1 346.0 164.7 347.0 164.0 348.5 163.3 350.0 162.8 352.0 162.4 354.0 162.6 355.6 163.3 356.6 164.3 356.0 165.3 354.0 166.2 353.0 166.5 351.0 167.1 350.0 167.4zM363.0 180.3 361.6 180.3 360.7 179.3 360.4 177.3 360.5 175.3 360.9 173.3 361.1 172.3 361.0 170.7 360.6 169.3 360.0 168.0 359.5 166.3 360.0 165.0 362.0 164.4 364.0 164.6 366.0 164.8 368.0 165.1 369.0 165.3 371.0 166.1 372.0 166.9 372.8 168.3 372.0 170.3 371.0 171.0 370.0 171.4 368.0 171.7 366.0 171.8 364.1 172.3 363.7 173.3 364.0 174.7 364.3 176.3 364.4 178.3 364.0 179.5 363.0 180.3zM385.0 184.4 383.6 184.3 382.0 184.1 380.0 184.1 378.0 184.2 376.0 184.2 374.0 183.9 372.0 183.4 371.0 183.0 369.5 182.3 368.7 181.3 369.0 180.2 370.1 179.3 372.0 178.5 373.0 178.2 375.0 177.9 377.0 177.5 378.0 177.3 380.0 176.9 382.0 176.7 384.0 176.8 386.0 177.3 387.0 177.8 388.0 178.7 388.6 180.3 388.3 182.3 387.6 183.3 386.0 184.3 385.0 184.4zM420.0 194.5 418.0 194.7 416.0 194.6 414.7 194.3 413.0 193.3 412.1 192.3 411.7 191.3 411.5 189.3 411.7 187.3 412.0 186.0 413.0 184.9 415.0 185.2 416.0 185.4 417.0 185.3 419.0 184.4 420.0 183.7 421.0 183.0 422.2 182.3 424.0 181.7 426.0 181.8 427.6 182.3 429.0 183.0 430.0 183.9 430.5 185.3 430.0 186.4 429.0 187.9 428.0 189.0 427.0 189.9 426.0 190.8 425.0 191.6 424.0 192.4 422.7 193.3 421.0 194.1 420.0 194.5z" fill="none" stroke="#c42b2b" stroke-width="1.7" stroke-linejoin="round"/>
<path d="M288.0 107.4 286.0 107.6 284.1 107.3 283.0 106.4 282.7 105.3 283.0 103.9 284.0 102.7 285.0 102.0 287.0 101.3 288.0 101.2 289.4 101.3 291.0 101.9 292.0 103.0 292.2 104.3 291.9 105.3 291.0 106.3 289.0 107.2 288.0 107.4zM318.0 172.5 316.5 172.3 316.4 170.3 318.0 169.9 318.2 171.3 318.0 172.5z" fill="none" stroke="#c42b2b" stroke-width="1.7" stroke-linejoin="round"/>
<path d="M302.8 38.3 301.0 39.0 300.0 39.5 298.6 40.3 297.5 41.3 297.6 43.3 298.8 44.3 300.0 44.3 301.0 43.7 302.0 43.1 303.4 42.3 305.0 41.5 306.0 40.6 306.1 39.3 305.1 38.3M324.3 56.3 324.2 54.3 323.0 53.6 322.0 53.1 321.3 51.3 321.6 49.3 321.7 47.3 322.0 45.3 323.0 44.4 324.0 43.4 324.0 42.8 323.0 42.2 321.8 42.3 320.1 43.3 319.0 43.7 317.0 44.1 316.0 44.3 314.0 44.9 313.0 45.3 311.5 46.3 310.8 47.3 310.3 49.3 311.0 51.3 311.9 52.3 313.0 52.9 314.4 53.3 316.0 53.5 318.0 53.6 320.0 54.0 320.8 55.3 322.0 56.3 323.0 56.6 324.3 56.3zM339.7 45.3 340.0 44.3 339.5 43.3 338.0 42.8 336.7 43.3 336.8 45.3 338.0 46.2 339.7 45.3zM367.5 53.3 368.7 52.3 369.3 51.3 369.6 49.3 369.6 47.3 369.0 45.4 368.0 44.5 367.0 44.2 365.0 43.9 363.0 43.8 361.0 43.6 359.0 43.3 358.0 43.1 356.0 42.7 354.0 42.5 352.4 43.3 352.6 45.3 353.5 46.3 354.6 47.3 356.0 48.3 357.0 49.0 358.0 49.6 359.2 50.3 360.7 51.3 361.9 52.3 363.0 53.3 364.0 53.9 366.0 54.0 367.5 53.3zM270.0 61.8 271.8 62.3 273.0 62.8 274.0 63.4 275.3 64.3 277.0 65.3 278.0 65.6 280.0 65.5 281.0 64.4 281.0 64.1 280.2 62.3 279.0 61.4 278.0 60.8 277.0 60.2 275.6 59.3 274.7 58.3 273.9 57.3 273.0 56.1 272.0 55.0 271.0 54.3M402.9 71.3 403.4 70.3 403.4 68.3 403.0 66.7 403.0 66.1 404.0 64.5 404.8 63.3 405.2 62.3 405.1 60.3 404.5 59.3 403.4 58.3 402.0 57.5 401.0 57.2 399.0 56.6 397.0 56.4 395.0 57.0 394.0 57.5 392.5 58.3 391.0 58.9 389.1 59.3 388.0 59.5 386.0 59.8 384.9 60.3 383.8 61.3 383.8 63.3 385.0 64.3 386.0 64.7 388.0 65.2 389.0 65.4 391.0 65.8 393.0 66.1 394.5 66.3 396.0 66.9 397.0 68.3 397.3 69.3 398.0 70.8 399.0 71.7 401.0 72.2 402.9 71.3zM309.7 70.3 310.6 69.3 311.1 68.3 311.0 66.8 310.0 65.4 309.0 64.9 307.1 65.3 306.2 66.3 305.7 67.3 305.5 69.3 306.2 70.3 308.0 71.0 309.7 70.3zM376.6 73.3 377.1 72.3 376.4 71.3 375.0 70.9 373.3 71.3 374.0 73.1 375.0 73.5 376.6 73.3zM325.5 99.3 326.0 98.1 326.1 96.3 326.0 95.3 325.5 93.3 325.0 91.5 325.0 90.4 325.5 89.3 326.0 88.3 326.8 86.3 327.0 85.3 327.1 83.3 327.0 82.3 326.4 80.3 326.0 78.7 325.7 77.3 325.5 75.3 325.2 73.3 324.6 72.3 323.0 71.4 321.0 71.8 320.0 72.3 318.4 73.3 317.0 74.0 316.0 74.4 314.0 74.7 312.0 74.5 310.0 74.3 308.0 75.1 307.3 76.3 307.0 77.5 306.7 79.3 306.9 81.3 307.1 82.3 308.0 84.2 308.6 85.3 309.3 86.3 310.1 87.3 311.0 88.4 312.0 89.5 313.0 90.3 314.3 91.3 315.3 92.3 316.0 93.3 317.0 94.6 318.0 95.8 319.0 96.9 320.0 97.8 321.0 98.6 322.2 99.3 324.0 100.2 325.5 99.3zM404.8 98.3 405.8 97.3 406.3 96.3 407.0 94.6 407.3 93.3 408.0 91.5 408.9 90.3 410.0 89.5 411.0 88.9 412.0 88.3 413.4 87.3 414.1 86.3 414.3 84.3 414.0 82.8 413.6 81.3 413.0 79.6 412.4 78.3 411.7 77.3 410.2 76.3 409.0 76.2 408.0 76.5 407.0 77.4 406.0 78.8 405.4 80.3 405.0 81.3 404.7 83.3 404.7 85.3 404.7 87.3 404.3 89.3 403.4 90.3 402.0 91.2 401.0 91.8 400.0 92.4 399.0 93.6 398.6 95.3 399.0 96.3 400.0 97.4 401.6 98.3 403.0 98.7 404.8 98.3zM384.3 88.3 385.5 87.3 385.8 85.3 385.2 83.3 384.6 82.3 383.7 81.3 382.4 80.3 381.0 79.6 380.0 79.2 378.0 79.1 377.0 79.3 375.0 80.3 374.0 81.0 373.0 81.8 372.0 82.7 371.0 83.9 370.4 85.3 370.9 87.3 371.9 88.3 373.0 88.9 375.0 89.1 377.0 88.9 379.0 88.7 381.0 88.6 383.0 88.6 384.3 88.3zM413.8 107.3 415.0 106.9 416.1 106.3 416.2 104.3 415.0 103.6 414.0 103.2 412.0 103.0 410.0 103.1 409.0 103.5 408.6 105.3 409.3 106.3 411.0 107.3 412.0 107.4 413.8 107.3zM323.2 110.3 324.8 109.3 325.3 108.3 325.7 106.3 325.3 104.3 324.0 103.7 323.0 104.5 322.0 105.3 320.5 106.3 319.2 107.3 318.9 108.3 319.4 109.3 321.0 110.2 322.0 110.4 323.2 110.3zM409.6 117.3 411.0 116.4 411.8 115.3 412.0 114.3 412.0 113.3 411.1 111.3 410.4 110.3 409.2 109.3 408.0 108.8 406.0 108.7 404.1 109.3 403.0 110.1 402.2 111.3 401.9 112.3 402.0 113.6 402.7 115.3 403.5 116.3 405.0 117.3 406.0 117.6 408.0 117.7 409.6 117.3zM385.2 128.3 387.0 127.3 387.9 126.3 388.5 125.3 388.9 123.3 388.6 121.3 388.0 119.3 387.5 118.3 387.0 117.3 386.0 116.0 385.0 115.3 383.0 114.9 381.0 115.1 379.7 115.3 378.0 115.7 376.6 116.3 375.3 117.3 374.6 118.3 374.2 120.3 374.8 122.3 375.4 123.3 376.1 124.3 377.0 125.3 378.2 126.3 379.6 127.3 381.0 128.1 382.0 128.5 384.0 128.6 385.2 128.3zM407.8 171.3 408.7 170.3 409.0 169.3 409.0 167.4 408.7 166.3 408.0 164.8 407.4 163.3 407.2 161.3 407.9 159.3 408.2 158.3 408.2 156.3 408.2 154.3 409.0 152.3 409.4 151.3 409.9 149.3 409.0 147.5 408.3 146.3 408.0 145.3 407.8 143.3 408.0 141.3 408.1 140.3 408.1 138.3 408.0 137.3 407.6 135.3 407.0 133.5 406.4 132.3 406.0 131.3 406.3 130.3 408.0 130.0 409.4 130.3 411.0 130.5 413.0 130.5 414.1 130.3 416.0 129.7 417.1 129.3 419.0 128.6 421.0 128.6 423.0 128.7 424.4 128.3 425.4 127.3 425.4 125.3 424.5 124.3 423.0 123.6 421.0 123.9 419.9 124.3 418.0 125.1 416.0 125.2 414.0 125.3 413.0 125.4 411.0 125.8 409.5 126.3 408.0 127.0 407.0 127.4 405.0 127.5 404.0 127.2 402.0 126.7 400.0 126.6 398.0 126.8 396.0 126.9 394.0 126.9 392.6 127.3 391.1 128.3 390.3 129.3 389.8 130.3 389.6 132.3 390.0 133.4 391.5 134.3 392.5 134.3 394.0 134.2 395.0 134.3 396.2 135.3 397.0 136.9 397.3 138.3 397.5 140.3 397.5 142.3 397.0 144.2 396.0 145.1 395.0 145.4 393.0 145.7 391.3 146.3 390.1 147.3 389.2 148.3 388.3 149.3 387.4 150.3 386.3 151.3 385.0 152.1 383.0 151.8 382.0 151.2 380.2 151.3 379.5 152.3 378.7 153.3 377.7 154.3 376.6 155.3 375.5 156.3 374.8 157.3 374.4 159.3 375.2 160.3 377.0 161.1 379.0 161.1 381.0 160.7 382.0 160.3 383.6 159.3 384.8 158.3 386.0 157.7 387.7 158.3 389.0 158.9 390.0 159.3 392.0 159.7 394.0 159.6 395.3 159.3 397.0 158.4 397.8 157.3 398.1 156.3 398.4 154.3 398.6 152.3 399.0 150.9 400.0 149.4 401.0 148.9 403.0 148.8 404.2 149.3 405.1 150.3 405.7 152.3 405.9 154.3 405.8 156.3 405.5 158.3 405.0 159.6 404.0 160.9 403.0 161.9 402.0 163.0 401.3 164.3 400.9 165.3 400.8 167.3 401.0 168.3 402.0 170.3 403.0 171.3 404.0 171.8 406.0 172.0 407.8 171.3zM360.1 134.3 361.0 132.7 361.0 131.4 360.1 130.3 359.0 130.0 357.6 130.3 356.0 131.2 355.2 132.3 355.5 134.3 357.0 135.2 359.0 135.0 360.1 134.3zM378.4 147.3 378.4 145.3 377.8 144.3 376.9 143.3 375.0 142.4 373.0 142.6 371.9 143.3 371.0 144.4 370.6 146.3 371.6 147.3 373.0 147.6 375.0 147.8 377.0 147.6 378.4 147.3zM270.0 178.7 272.0 178.3 273.0 178.0 274.7 177.3 276.0 176.6 277.0 175.8 278.0 175.1 279.2 174.3 281.0 173.4 282.0 173.1 284.0 172.7 286.0 172.4 288.0 172.5 290.0 173.1 291.0 173.5 293.0 173.8 294.5 173.3 295.5 172.3 296.0 170.3 295.0 168.4 294.0 167.4 293.0 166.5 292.2 165.3 291.9 164.3 292.0 163.2 292.6 161.3 293.0 159.6 293.1 158.3 292.9 157.3 292.0 156.0 291.0 155.1 290.0 154.3 288.6 153.3 287.0 152.3 286.0 151.8 285.0 151.3 283.0 150.4 282.0 150.2 280.0 149.9 278.0 150.2 277.0 150.8 276.0 151.7 275.1 153.3 274.7 154.3 274.3 156.3 274.1 158.3 273.9 159.3 273.0 160.9 272.0 161.8 271.0 162.6M350.7 182.3 351.4 181.3 352.0 179.7 353.0 178.7 354.0 177.8 354.8 176.3 355.1 175.3 355.1 173.3 354.7 172.3 353.0 171.6 351.5 172.3 350.8 173.3 350.2 175.3 350.0 176.9 349.0 177.8 347.5 178.3 346.0 179.0 345.0 179.9 345.0 180.7 346.0 181.8 347.0 182.4 349.0 182.9 350.7 182.3zM302.2 192.3 303.6 191.3 304.5 190.3 305.0 189.3 305.3 187.3 305.0 186.0 304.2 184.3 303.5 183.3 302.4 182.3 301.0 181.6 299.1 181.3 298.0 181.1 296.0 180.5 295.0 180.3 293.0 179.9 291.0 180.3 290.0 180.7 289.0 181.4 288.0 182.3 287.0 183.4 286.0 184.9 285.5 186.3 285.6 188.3 286.2 189.3 287.1 190.3 289.0 191.3 290.0 191.4 292.0 191.5 294.0 191.7 296.0 192.1 297.0 192.3 299.0 192.8 301.0 192.8 302.2 192.3zM336.2 204.3 337.0 203.3 338.0 202.0 338.5 200.3 338.0 199.0 337.0 198.0 335.8 197.3 334.0 196.6 332.9 196.3 331.0 196.1 330.0 196.3 328.6 197.3 328.0 198.8 328.0 199.7 328.5 201.3 329.3 202.3 330.3 203.3 331.2 204.3" fill="none" stroke="#c42b2b" stroke-width="1.7" stroke-dasharray="3.8 2.3"/>
<path d="M321.2 86.3 322.5 85.3 323.2 84.3 323.5 82.3 323.1 80.3 322.6 79.3 322.0 78.2 320.9 77.3 319.0 77.3 318.0 77.6 316.4 78.3 315.0 79.1 314.0 79.8 313.0 81.3 313.4 83.3 314.0 84.4 315.0 85.5 316.5 86.3 318.0 86.7 320.0 86.7 321.2 86.3zM384.8 124.3 385.4 123.3 385.6 121.3 385.0 119.6 384.0 118.6 383.0 118.1 381.0 118.0 380.0 118.3 378.4 119.3 377.8 120.3 378.0 122.3 378.6 123.3 379.7 124.3 381.0 125.0 383.0 125.2 384.8 124.3zM404.1 139.3 404.2 137.3 403.2 136.3 402.6 136.3 401.8 137.3 402.0 139.3 403.0 140.1 404.1 139.3zM285.2 165.3 286.0 163.8 286.3 162.3 286.2 160.3 285.8 159.3 285.0 157.5 284.3 156.3 283.4 155.3 282.0 154.3 281.0 153.9 279.0 153.9 278.0 154.6 277.2 156.3 277.0 158.3 277.6 160.3 278.1 161.3 279.0 163.0 279.6 164.3 280.5 165.3 282.0 165.9 284.0 166.0 285.2 165.3zM296.1 187.3 296.3 185.3 295.0 184.3 294.0 184.0 292.0 183.9 290.8 184.3 289.9 185.3 290.0 186.9 291.0 187.7 293.0 187.9 295.0 187.7 296.1 187.3z" fill="none" stroke="#c42b2b" stroke-width="1.7" stroke-dasharray="3.8 2.3"/>
</g>
<circle cx="353.2" cy="121.3" r="3.9" fill="#00ffff"/>
<ellipse cx="285.5" cy="189" rx="5.8" ry="8.1" fill="#ff00ff" transform="rotate(8 285.5 189)"/>
<rect x="269.50" y="37.80" width="167.50" height="166.70" fill="none" stroke="#1a1a1a" stroke-width="1"/>
<path d="M269.5 204.5v-2.5M269.5 204.5h2.5M311.4 204.5v-2.5M269.5 162.8h2.5M353.2 204.5v-2.5M269.5 121.2h2.5M395.1 204.5v-2.5M269.5 79.5h2.5M437.0 204.5v-2.5M269.5 37.8h2.5" stroke="#1a1a1a" stroke-width="0.8"/>
<text x="269.5" y="216.4" font-size="9.2" text-anchor="middle">−4</text>
<text x="264.5" y="207.8" font-size="9.2" text-anchor="end">−4</text>
<text x="311.4" y="216.4" font-size="9.2" text-anchor="middle">−2</text>
<text x="264.5" y="166.1" font-size="9.2" text-anchor="end">−2</text>
<text x="353.2" y="216.4" font-size="9.2" text-anchor="middle">0</text>
<text x="264.5" y="124.5" font-size="9.2" text-anchor="end">0</text>
<text x="395.1" y="216.4" font-size="9.2" text-anchor="middle">2</text>
<text x="264.5" y="82.8" font-size="9.2" text-anchor="end">2</text>
<text x="437.0" y="216.4" font-size="9.2" text-anchor="middle">4</text>
<text x="264.5" y="41.1" font-size="9.2" text-anchor="end">4</text>
<text x="353.2" y="230.6" font-size="10.8" text-anchor="middle">(arcsec)</text>
<text x="353.2" y="32.5" font-size="11" text-anchor="middle" fill="#111">CO(3–2) moment 0</text>
<path d="M494.4 160.6V158.2H496.2V191.8H497.6V154.5H499.5V168.2H500.9V138.2H502.4V162.7H504.0V182.7H505.3V145.5H506.7V146.4H508.2V164.5H509.5V172.7H510.7V157.3H512.2V176.4H512.9V135.5H514.4V140.0H515.5V159.1H517.3V166.4H519.1V141.8H521.3V152.7H522.7V175.5H524.2V155.5H526.0V190.0H527.5V171.8H529.6V146.4H531.5V193.6H532.5V144.5H534.4V159.1H536.0V141.8H537.5V161.8H539.3V180.9H541.1V145.5H542.9V182.7H544.2V137.3H545.5V162.7H546.9V164.5H548.4V156.4H549.6V164.5H550.9V123.6H552.4V174.5H553.5V143.6H554.9V138.2H556.0V129.1H557.5V159.1H558.9V149.1H560.4V150.9H561.8V178.2H563.6V158.2H565.1V141.8H566.2V168.2H567.3V153.6H568.7V174.5H570.2V130.0H571.3V159.1H572.7V161.8H574.2V197.3H575.6V60.3H576.7V159.1H578.0V158.2H579.5V155.5H580.5V147.3H582.0V180.0H583.5V166.4H584.9V137.3H586.0V164.5H587.5V162.7H588.9V177.3H590.0V150.0H591.1V164.5H592.5V170.0H594.0V171.8H596.2V170.0H597.6V164.5H599.1V158.2H600.5V153.6H602.0V178.2H603.1V159.1H604.5V173.6H605.6V182.7H607.1V179.1H608.5V185.5H610.0V177.3H611.5V164.5H612.9V159.1H614.4V156.4H615.8V174.5H616.9V153.6H618.4V156.4H620.0V155.5H621.5V169.1H622.5V156.4H623.6V166.4H625.1V169.1H626.5V164.5H628.0V174.5H629.1V158.2H630.5V170.9H632.0V165.5H633.5V184.5H634.5V173.6H636.0V152.7H637.5V184.5H638.5V164.5H639.6V144.5H641.1V154.5H642.5V159.1H643.6V170.9H645.1V155.5H646.5V179.1H648.0V151.8H649.1V168.2H650.5V152.7H652.0V158.2H653.5V168.2H654.5V144.5H655.6V140.0H657.1V134.5H658.2V179.1H660.9V160.6Z" fill="#d3edf3"/>
<path d="M532.5 34.4V208.3" stroke="#8a8a8a" stroke-width="0.9" stroke-dasharray="4 2.2"/>
<path d="M494.4 144.2H660.9" stroke="#111" stroke-width="1" stroke-dasharray="3.6 2"/>
<path d="M494.4 158.2V158.2H496.2V191.8H497.6V154.5H499.5V168.2H500.9V138.2H502.4V162.7H504.0V182.7H505.3V145.5H506.7V146.4H508.2V164.5H509.5V172.7H510.7V157.3H512.2V176.4H512.9V135.5H514.4V140.0H515.5V159.1H517.3V166.4H519.1V141.8H521.3V152.7H522.7V175.5H524.2V155.5H526.0V190.0H527.5V171.8H529.6V146.4H531.5V193.6H532.5V144.5H534.4V159.1H536.0V141.8H537.5V161.8H539.3V180.9H541.1V145.5H542.9V182.7H544.2V137.3H545.5V162.7H546.9V164.5H548.4V156.4H549.6V164.5H550.9V123.6H552.4V174.5H553.5V143.6H554.9V138.2H556.0V129.1H557.5V159.1H558.9V149.1H560.4V150.9H561.8V178.2H563.6V158.2H565.1V141.8H566.2V168.2H567.3V153.6H568.7V174.5H570.2V130.0H571.3V159.1H572.7V161.8H574.2V197.3H575.6V60.3H576.7V159.1H578.0V158.2H579.5V155.5H580.5V147.3H582.0V180.0H583.5V166.4H584.9V137.3H586.0V164.5H587.5V162.7H588.9V177.3H590.0V150.0H591.1V164.5H592.5V170.0H594.0V171.8H596.2V170.0H597.6V164.5H599.1V158.2H600.5V153.6H602.0V178.2H603.1V159.1H604.5V173.6H605.6V182.7H607.1V179.1H608.5V185.5H610.0V177.3H611.5V164.5H612.9V159.1H614.4V156.4H615.8V174.5H616.9V153.6H618.4V156.4H620.0V155.5H621.5V169.1H622.5V156.4H623.6V166.4H625.1V169.1H626.5V164.5H628.0V174.5H629.1V158.2H630.5V170.9H632.0V165.5H633.5V184.5H634.5V173.6H636.0V152.7H637.5V184.5H638.5V164.5H639.6V144.5H641.1V154.5H642.5V159.1H643.6V170.9H645.1V155.5H646.5V179.1H648.0V151.8H649.1V168.2H650.5V152.7H652.0V158.2H653.5V168.2H654.5V144.5H655.6V140.0H657.1V134.5H658.2V179.1H660.9" fill="none" stroke="#1f1fff" stroke-width="1.75" stroke-linejoin="miter"/>
<path d="M494.4 34.4V208.3H660.9V34.4" fill="none" stroke="#8c8c8c" stroke-width="1.1"/>
<path d="M493.9 34.4H661.4" stroke="#3c3c3c" stroke-width="1.1"/>
<path d="M532.5 208.3v-3.2M596.7 208.3v-3.2M660.9 208.3v-3.2M494.4 192.1h3.2M494.4 160.6h3.2M494.4 129.1h3.2M494.4 97.6h3.2M494.4 66.1h3.2M494.4 34.6h3.2M528.8 34.4v3.2M573.9 34.4v3.2M619.0 34.4v3.2" stroke="#555" stroke-width="0.9"/>
<text x="486.4" y="195.4" font-size="9.2" text-anchor="end">−0.1</text>
<text x="486.4" y="163.9" font-size="9.2" text-anchor="end">0</text>
<text x="486.4" y="132.4" font-size="9.2" text-anchor="end">0.1</text>
<text x="486.4" y="100.9" font-size="9.2" text-anchor="end">0.2</text>
<text x="486.4" y="69.4" font-size="9.2" text-anchor="end">0.3</text>
<text x="486.4" y="37.9" font-size="9.2" text-anchor="end">0.4</text>
<text x="532.9" y="220.3" font-size="9.2" text-anchor="middle">0</text>
<text x="597.1" y="220.3" font-size="9.2" text-anchor="middle">5,000</text>
<text x="661.3" y="220.3" font-size="9.2" text-anchor="middle">10,000</text>
<text x="528.8" y="29.9" font-size="9.2" text-anchor="middle">85</text>
<text x="573.9" y="29.9" font-size="9.2" text-anchor="middle">86</text>
<text x="619.0" y="29.9" font-size="9.2" text-anchor="middle">87</text>
<text x="578.0" y="15.9" font-size="10.8" text-anchor="middle" fill="#111">Observed frequency (GHz)</text>
<text x="539.3" y="235.0" font-size="10.8" fill="#111">Velocity (km s<tspan dy="-3.6" font-size="7">−1</tspan><tspan dy="3.6">)</tspan></text>
<text x="464.0" y="120.6" font-size="10.8" text-anchor="middle" fill="#111" transform="rotate(-90 464.0 120.6)"><tspan font-style="italic">F</tspan><tspan font-style="italic" dy="2.2" font-size="7.5">ν</tspan><tspan dy="-2.2"> (mJy)</tspan></text>
<defs>
<clipPath id="dclip"><rect x="32.3" y="278.4" width="187.2" height="187.2"/></clipPath>
<filter id="dnoise" x="0" y="0" width="100%" height="100%" color-interpolation-filters="sRGB">
 <feTurbulence type="fractalNoise" baseFrequency="0.42" numOctaves="2" seed="7" result="t"/>
 <feColorMatrix in="t" type="matrix" values="0.55 0 0 0 -0.29  0 0.57 0 0 -0.29  0 0 0.68 0 -0.32  0 0 0 0 1"/>
</filter>
<filter id="bl12" x="-50%" y="-50%" width="200%" height="200%"><feGaussianBlur stdDeviation="12"/></filter>
<filter id="bl8" x="-50%" y="-50%" width="200%" height="200%"><feGaussianBlur stdDeviation="8"/></filter>
<filter id="bl5" x="-50%" y="-50%" width="200%" height="200%"><feGaussianBlur stdDeviation="5"/></filter>
<filter id="bl3" x="-50%" y="-50%" width="200%" height="200%"><feGaussianBlur stdDeviation="3"/></filter>
<filter id="bl2" x="-50%" y="-50%" width="200%" height="200%"><feGaussianBlur stdDeviation="2"/></filter>
<filter id="bl1" x="-50%" y="-50%" width="200%" height="200%"><feGaussianBlur stdDeviation="1.1"/></filter>
</defs>
<g clip-path="url(#dclip)">
<rect x="32.3" y="278.4" width="187.2" height="187.20000000000005" fill="#0a0a0c"/>
<defs><radialGradient id="gal" cx="50%" cy="50%" r="50%"><stop offset="0" stop-color="#ffeada"/><stop offset="0.05" stop-color="#fdc080"/><stop offset="0.12" stop-color="#f29a3e"/><stop offset="0.22" stop-color="#d87a24"/><stop offset="0.32" stop-color="#ae5a1c"/><stop offset="0.43" stop-color="#7c3c16"/><stop offset="0.55" stop-color="#52220e"/><stop offset="0.7" stop-color="#321208"/><stop offset="0.85" stop-color="#1e0a05"/><stop offset="1" stop-color="#1e0a05" stop-opacity="0"/></radialGradient><radialGradient id="halo" cx="50%" cy="50%" r="50%"><stop offset="0" stop-color="#4e1c0e"/><stop offset="0.55" stop-color="#321108"/><stop offset="1" stop-color="#2e0f08" stop-opacity="0"/></radialGradient><radialGradient id="starg" cx="50%" cy="50%" r="50%"><stop offset="0" stop-color="#fff6ff"/><stop offset="0.25" stop-color="#ffd2f6"/><stop offset="0.45" stop-color="#c870d0"/><stop offset="0.7" stop-color="#5a3a8a"/><stop offset="1" stop-color="#2a2a5a" stop-opacity="0"/></radialGradient></defs>
<g style="mix-blend-mode:screen">
<ellipse cx="100" cy="350" rx="70" ry="50" fill="url(#halo)" transform="rotate(-28 100 350)"/>
<ellipse cx="126" cy="372" rx="92" ry="74" fill="url(#halo)" transform="rotate(-20 126 372)"/>
<ellipse cx="140" cy="395" rx="50" ry="38" fill="url(#halo)" transform="rotate(-20 140 395)" opacity="0.8"/>
<ellipse cx="80" cy="334" rx="28" ry="16" fill="#3c1409" filter="url(#bl8)" transform="rotate(25 80 334)"/>
<ellipse cx="172" cy="345" rx="18" ry="16" fill="#34160a" filter="url(#bl8)"/>
<ellipse cx="128" cy="420" rx="34" ry="14" fill="#34140a" filter="url(#bl8)"/>
<ellipse cx="127.5" cy="369.5" rx="86" ry="60" fill="url(#gal)" transform="rotate(-15 127.5 369.5)"/>
<ellipse cx="128" cy="367.5" rx="8" ry="5.5" fill="#fff0e0" filter="url(#bl3)" opacity="0.85"/>
<path d="M196.2 422.8l0.0 30.0M196.2 422.8l-26.0 15.0M196.2 422.8l-26.0 -15.0M196.2 422.8l-0.0 -30.0M196.2 422.8l26.0 -15.0M196.2 422.8l26.0 15.0M174.2 422.8h44" stroke="#1e6a62" stroke-width="4.5" stroke-linecap="round" filter="url(#bl3)" opacity="0.6"/>
<path d="M196.2 422.8l11.0 0.0M196.2 422.8l7.8 7.8M196.2 422.8l0.0 11.0M196.2 422.8l-7.8 7.8M196.2 422.8l-11.0 0.0M196.2 422.8l-7.8 -7.8M196.2 422.8l-0.0 -11.0M196.2 422.8l7.8 -7.8" stroke="#9a2aa0" stroke-width="4.5" stroke-linecap="round" filter="url(#bl2)"/>
<circle cx="196.2" cy="422.8" r="18" fill="url(#starg)"/>
<circle cx="196.2" cy="422.8" r="6" fill="#fff2ff" filter="url(#bl1)"/>
<circle cx="210" cy="326" r="3" fill="#4a6aa0" filter="url(#bl1)"/>
<ellipse cx="218" cy="305" rx="5" ry="10" fill="#3a5a5a" filter="url(#bl2)"/>
</g>
<defs><radialGradient id="nmaskg" cx="50%" cy="50%" r="50%"><stop offset="0" stop-color="#000"/><stop offset="0.35" stop-color="#222"/><stop offset="0.7" stop-color="#aaa"/><stop offset="1" stop-color="#fff"/></radialGradient><mask id="nmask" maskUnits="userSpaceOnUse" x="32" y="278" width="188" height="188"><rect x="32" y="278" width="188" height="188" fill="#fff"/><ellipse cx="128" cy="369" rx="70" ry="55" fill="url(#nmaskg)" transform="rotate(-14 128 369)"/></mask></defs>
<rect x="32.3" y="278.4" width="187.2" height="187.20000000000005" filter="url(#dnoise)" mask="url(#nmask)" style="mix-blend-mode:screen"/>
</g>
<rect x="90.8" y="366.7" width="21.8" height="9.8" fill="none" stroke="#0a0a0a" stroke-width="1.3" transform="rotate(2.6 101.7 371.6)"/>
<rect x="115.6" y="368.2" width="21.8" height="9.8" fill="none" stroke="#0a0a0a" stroke-width="1.3" transform="rotate(2.6 126.5 373.1)"/>
<rect x="140.0" y="369.6" width="21.8" height="9.8" fill="none" stroke="#0a0a0a" stroke-width="1.3" transform="rotate(2.6 150.9 374.5)"/>
<path d="M32.3 285.0h2.5M32.3 331.0h2.5M32.3 377.2h2.5M32.3 423.3h2.5M49.1 465.6v-2.5M90.5 465.6v-2.5M131.9 465.6v-2.5M172.7 465.6v-2.5M213.8 465.6v-2.5" stroke="#cfcfcf" stroke-width="0.9"/>
<text x="60.5" y="297.0" font-size="10.4" fill="#f2f2f2" textLength="32.8" lengthAdjust="spacingAndGlyphs">19,7911</text>
<text x="60.3" y="309.5" font-size="10.4" fill="#f2f2f2" textLength="37.4" lengthAdjust="spacingAndGlyphs"><tspan font-style="italic">z</tspan> = 3.06</text>
<text x="153.3" y="299.6" font-size="9.6" fill="#d03a3a" textLength="47.4" lengthAdjust="spacingAndGlyphs">B  F090W</text>
<text x="153.3" y="311.8" font-size="9.6" fill="#3aaa3a" textLength="47.4" lengthAdjust="spacingAndGlyphs">G  F200W</text>
<text x="153.3" y="326.1" font-size="9.6" fill="#5668e0" textLength="47.4" lengthAdjust="spacingAndGlyphs">R  F444W</text>
<text x="40.6" y="450.3" font-size="10.8" fill="#f2f2f2" textLength="37.3" lengthAdjust="spacingAndGlyphs">3.0 kpc</text>
<rect x="49.3" y="455.1" width="21.3" height="3.4" rx="1.5" fill="#f5f5f5"/>
<text x="29.6" y="285.0" font-size="9.2" text-anchor="middle" transform="rotate(-90 29.6 285.0)">−27° 48′ 49″</text>
<text x="29.6" y="331.0" font-size="9.2" text-anchor="middle" transform="rotate(-90 29.6 331.0)">50″</text>
<text x="29.6" y="377.2" font-size="9.2" text-anchor="middle" transform="rotate(-90 29.6 377.2)">51″</text>
<text x="29.6" y="423.3" font-size="9.2" text-anchor="middle" transform="rotate(-90 29.6 423.3)">52″</text>
<text x="49.4" y="477.8" font-size="9.2" text-anchor="middle">53° 09′ 57″</text>
<text x="91.4" y="477.8" font-size="9.2" text-anchor="middle">56″</text>
<text x="132.8" y="477.8" font-size="9.2" text-anchor="middle">55″</text>
<text x="174.2" y="477.8" font-size="9.2" text-anchor="middle">54″</text>
<text x="215.3" y="477.8" font-size="9.2" text-anchor="middle">53″</text>
<text x="125.8" y="494.3" font-size="10.8" text-anchor="middle" fill="#111">RA (J2000)</text>
<text x="12.2" y="361.0" font-size="10.8" text-anchor="middle" fill="#111" transform="rotate(-90 12.2 361.0)">Dec. (J2000)</text>
<clipPath id="eclip"><rect x="262.9" y="278.6" width="422.1" height="187.59999999999997"/></clipPath>
<g clip-path="url(#eclip)">
<rect x="263.4" y="278.6" width="3.9" height="187.59999999999997" fill="#dcdcdc"/>
<path d="M262.9 464.1H685" stroke="#bdbdbd" stroke-width="1.4" stroke-dasharray="3 1.6"/>
<path d="M274.3 278.6V466.2" stroke="#9b2fae" stroke-width="1.1" stroke-dasharray="3 1.5"/>
<path d="M306.7 278.6V466.2" stroke="#9b2fae" stroke-width="1.1" stroke-dasharray="3 1.5"/>
<path d="M326.7 278.6V466.2" stroke="#4a38d4" stroke-width="1.1" stroke-dasharray="3 1.5"/>
<path d="M329.6 278.6V466.2" stroke="#4a38d4" stroke-width="1.1" stroke-dasharray="3 1.5"/>
<path d="M340.6 278.6V466.2" stroke="#2c3ae4" stroke-width="1.1" stroke-dasharray="3 1.5"/>
<path d="M345.8 278.6V466.2" stroke="#2e5ae6" stroke-width="1.1" stroke-dasharray="3 1.5"/>
<path d="M354.3 278.6V466.2" stroke="#3aa0e6" stroke-width="1.1" stroke-dasharray="3 1.5"/>
<path d="M363.0 278.6V466.2" stroke="#3cbad4" stroke-width="1.1" stroke-dasharray="3 1.5"/>
<path d="M382.0 278.6V466.2" stroke="#3cc4b0" stroke-width="1.1" stroke-dasharray="3 1.5"/>
<path d="M385.6 278.6V466.2" stroke="#28b050" stroke-width="1.1" stroke-dasharray="3 1.5"/>
<path d="M387.4 278.6V466.2" stroke="#28b050" stroke-width="1.1" stroke-dasharray="3 1.5"/>
<path d="M419.6 278.6V466.2" stroke="#2ebc30" stroke-width="1.1" stroke-dasharray="3 1.5"/>
<path d="M434.6 278.6V466.2" stroke="#38c238" stroke-width="1.1" stroke-dasharray="3 1.5"/>
<path d="M436.9 278.6V466.2" stroke="#38c238" stroke-width="1.1" stroke-dasharray="3 1.5"/>
<path d="M443.6 278.6V466.2" stroke="#22dc22" stroke-width="1.1" stroke-dasharray="3 1.5"/>
<path d="M444.1 278.6V466.2" stroke="#22dc22" stroke-width="1.1" stroke-dasharray="3 1.5"/>
<path d="M444.9 278.6V466.2" stroke="#22dc22" stroke-width="1.1" stroke-dasharray="3 1.5"/>
<path d="M449.7 278.6V466.2" stroke="#70e444" stroke-width="1.1" stroke-dasharray="3 1.5"/>
<path d="M450.3 278.6V466.2" stroke="#70e444" stroke-width="1.1" stroke-dasharray="3 1.5"/>
<path d="M514.8 278.6V466.2" stroke="#c8e82a" stroke-width="1.1" stroke-dasharray="3 1.5"/>
<path d="M516.4 278.6V466.2" stroke="#c8e82a" stroke-width="1.1" stroke-dasharray="3 1.5"/>
<path d="M520.8 278.6V466.2" stroke="#c8e82a" stroke-width="1.1" stroke-dasharray="3 1.5"/>
<path d="M535.6 278.6V466.2" stroke="#f2d820" stroke-width="1.1" stroke-dasharray="3 1.5"/>
<path d="M552.5 278.6V466.2" stroke="#f2d820" stroke-width="1.1" stroke-dasharray="3 1.5"/>
<path d="M599.9 317.3V466.2" stroke="#ffb830" stroke-width="1.1" stroke-dasharray="3 1.5"/>
<path d="M603.8 317.3V466.2" stroke="#ff8c28" stroke-width="1.1" stroke-dasharray="3 1.5"/>
<path d="M663.4 317.3V466.2" stroke="#ee4040" stroke-width="1.1" stroke-dasharray="3 1.5"/>
<path d="M672.5 278.6V466.2" stroke="#dc2424" stroke-width="1.1" stroke-dasharray="3 1.5"/>
<path d="M266.8 273.6 267.0 471.2 267.2 273.6 267.4 471.2 267.6 273.6 267.7 471.2 267.9 273.6 268.1 471.2 268.3 273.6 268.5 471.2 268.7 273.6 268.8 471.2 269.0 273.6 269.2 471.2 269.4 273.6 269.6 471.2 269.8 273.6 269.9 471.2 270.1 273.6 270.3 471.2 270.5 273.6 270.7 471.2 270.8 273.6 271.0 471.2 271.2 351.7 271.6 471.2 271.8 413.3 271.9 445.6 272.1 412.0 272.3 458.9 272.5 406.6 273.0 449.3 273.2 425.9 273.6 456.9 274.1 358.9 274.5 457.4 274.7 397.2 274.9 442.7 275.2 412.2 275.4 470.0 276.0 388.0 276.1 446.0 276.3 394.6 276.5 442.9 276.7 422.7 276.9 435.6 277.4 355.3 278.1 431.8 278.5 387.9 278.7 428.4 279.2 405.8 279.4 426.6 279.8 412.2 280.2 434.1 280.3 397.3 280.5 441.9 280.7 439.7 280.9 441.2 281.1 397.1 281.4 435.6 281.8 410.4 282.2 443.3 282.3 409.6 282.5 443.0 282.9 422.6 283.1 430.3 283.3 423.4 283.4 399.4 284.0 451.1 284.5 416.2 285.1 431.7 285.4 417.8 285.6 425.6 286.0 390.2 286.4 440.6 286.5 391.0 286.9 429.1 287.1 401.8 287.8 429.4 288.2 401.5 288.4 421.7 288.7 392.3 288.9 435.1 289.1 415.1 289.6 432.1 290.0 412.4 290.2 425.1 290.6 409.0 290.7 414.8 290.9 407.7 291.3 413.2 291.5 396.6 292.2 431.4 292.9 402.9 293.3 439.5 293.5 400.0 293.8 435.8 294.0 407.9 294.4 443.9 294.9 404.8 295.1 430.7 295.5 424.4 295.9 430.8 296.2 409.3 296.6 430.3 296.9 419.2 297.5 438.8 297.7 401.5 298.0 432.7 298.4 409.2 298.6 447.4 299.1 415.4 299.3 423.0 299.5 424.0 299.7 422.2 300.0 400.5 300.4 432.4 300.6 396.7 300.8 433.7 301.5 414.5 301.9 433.2 302.4 405.8 302.8 436.3 303.2 408.7 303.5 442.6 303.9 423.1 304.1 450.8 304.4 418.4 304.8 431.7 305.3 408.5 306.4 429.6 307.0 397.1 307.2 426.2 307.5 413.3 307.7 426.6 307.9 414.1 308.1 443.8 308.4 416.1 308.6 444.8 309.0 413.6 309.4 432.1 309.9 415.7 310.5 427.8 310.8 410.8 311.5 433.4 311.9 417.4 312.5 437.2 312.6 423.0 312.8 426.9 313.2 426.9 314.1 410.5 314.5 422.3 314.8 414.2 315.0 420.4 315.4 408.5 315.7 432.3 315.9 408.9 316.5 429.5 316.7 405.0 317.0 419.0 317.2 420.2 317.4 415.8 317.8 417.6 317.9 423.7 318.1 404.6 318.3 414.7 318.7 413.9 318.8 433.4 319.0 411.1 319.8 423.4 319.9 409.2 320.3 422.2 320.9 408.6 321.2 425.6 321.4 405.9 321.6 422.3 321.8 405.2 322.3 419.5 322.7 407.8 322.9 416.0 323.2 398.6 323.6 422.7 323.8 421.9 324.0 424.3 324.1 418.5 324.5 423.3 324.7 409.4 324.9 432.8 325.2 398.4 325.6 409.3 326.0 399.9 326.5 422.2 326.7 414.0 326.9 419.2 327.2 419.6 327.4 414.8 327.6 416.7 327.8 407.8 328.0 423.3 328.3 399.4 328.5 412.1 329.1 401.9 329.4 420.6 329.6 412.3 330.0 420.5 330.2 412.3 330.5 420.1 330.7 406.6 331.3 415.4 332.0 411.7 332.2 414.9 332.5 408.9 332.9 417.1 333.3 409.1 334.0 429.0 334.5 400.7 335.3 419.6 335.5 404.3 335.6 414.2 335.8 407.0 336.2 408.6 336.4 404.5 336.9 415.8 337.3 399.4 337.5 412.4 337.6 402.5 337.8 404.7 338.0 405.3 338.2 404.8 338.4 416.2 338.7 399.3 338.9 413.4 339.1 409.0 339.3 412.7 339.5 406.2 339.7 414.7 339.8 397.4 340.2 412.1 340.6 383.4 341.3 405.7 341.8 397.8 342.2 404.4 342.8 391.7 343.1 408.7 343.7 390.3 343.8 399.9 344.0 393.8 344.4 396.2 344.6 409.4 344.8 388.3 345.1 383.1 345.3 390.3 345.7 366.2 346.4 399.8 347.5 366.2 348.0 382.5 348.6 371.2 349.5 418.1 350.4 365.7 350.6 379.5 351.0 368.9 351.1 376.4 351.3 365.5 351.7 374.0 352.1 366.2 352.8 382.5 353.2 367.8 353.7 376.1 354.2 405.7 355.0 376.1 355.3 371.7 355.7 372.9 355.9 368.6 356.3 381.7 356.8 365.9 357.4 378.7 357.5 371.7 357.9 379.7 358.4 374.4 358.6 388.2 358.8 375.6 359.0 375.0 359.2 376.7 359.5 374.2 359.7 380.3 359.9 374.4 360.3 380.2 360.6 370.1 360.8 382.4 361.2 383.2 361.4 368.3 362.3 387.4 362.5 382.9 362.8 408.0 363.7 376.3 364.3 373.4 364.5 383.3 364.8 373.9 365.4 385.9 365.7 375.1 366.5 384.9 367.0 372.0 367.6 383.2 367.9 372.6 368.1 381.6 368.5 378.7 368.9 388.4 369.2 376.5 369.8 391.7 369.9 374.7 370.7 383.2 370.9 381.3 371.0 382.3 371.6 380.7 371.8 375.3 372.0 386.3 372.1 379.9 372.7 389.6 372.9 378.8 373.0 384.7 373.4 379.8 373.6 385.6 374.3 378.3 374.5 385.1 374.7 378.7 374.9 382.3 375.1 381.5 375.2 382.7 375.4 379.3 375.6 386.4 376.0 378.0 376.2 383.2 376.3 375.1 376.5 384.8 376.7 381.5 377.2 386.3 377.6 382.8 377.8 385.6 378.2 378.0 378.3 388.7 379.1 375.8 379.8 391.8 380.0 381.9 380.2 387.1 380.9 377.6 381.4 387.2 381.8 387.8 382.0 396.2 382.2 384.5 382.5 392.3 382.9 379.2 383.3 388.1 383.5 376.1 383.8 392.7 384.2 379.9 384.4 384.3 384.7 382.4 385.1 383.2 385.6 356.8 386.6 385.7 387.5 323.4 388.2 393.8 388.6 383.3 388.9 390.7 389.3 388.2 389.8 390.0 390.2 383.0 390.4 389.5 390.8 384.3 390.9 392.6 391.5 388.1 391.8 391.6 392.0 388.1 392.6 395.5 392.8 387.1 392.9 394.8 393.5 387.3 394.4 394.2 394.6 386.5 394.8 393.1 394.9 385.0 395.3 392.0 395.7 386.9 395.9 394.9 396.6 389.4 397.1 392.1 397.3 386.9 397.9 394.6 398.6 385.8 399.0 394.2 399.3 387.2 400.1 394.2 400.4 386.3 400.8 394.4 401.7 385.1 402.1 392.5 402.2 391.0 402.6 392.7 403.0 391.6 403.2 395.2 403.3 390.0 403.7 394.6 403.9 390.2 404.1 393.1 404.3 386.5 404.8 394.1 405.2 389.2 405.4 389.9 405.5 389.4 405.7 398.0 406.1 389.2 406.4 391.8 406.6 388.9 407.0 395.2 407.4 388.9 407.7 393.3 408.1 391.6 408.5 401.4 408.6 396.0 408.8 397.5 409.0 394.8 409.2 396.6 409.5 391.9 409.9 393.4 410.1 388.4 410.3 394.8 410.6 389.8 411.0 398.5 411.2 389.8 411.4 392.7 411.9 390.9 412.5 396.9 412.6 393.2 413.0 395.0 413.4 385.0 413.6 397.3 413.7 391.6 414.1 391.1 414.3 396.7 414.5 390.9 415.0 395.5 415.8 387.6 415.9 395.3 416.1 392.4 416.3 395.5 416.5 391.9 417.0 398.1 417.6 390.2 417.9 398.3 418.3 395.0 418.5 395.6 418.7 395.3 418.9 394.0 419.4 410.3 419.6 407.2 419.8 409.7 420.1 397.5 420.3 400.6 420.9 390.2 421.2 401.2 421.4 394.5 422.0 397.0 422.3 394.1 423.1 401.1 423.4 398.5 423.6 400.1 424.0 390.1 424.5 418.4 424.7 405.5 425.2 395.5 425.4 399.0 425.6 396.3 425.8 388.6 426.0 396.7 426.2 397.1 426.3 396.4 426.7 399.7 427.1 393.9 427.4 401.1 427.8 396.0 428.0 397.2 428.5 393.8 428.7 403.6 428.9 394.8 429.1 396.2 429.3 395.0 429.4 402.3 429.6 393.5 429.8 401.5 430.5 392.3 430.9 400.4 431.6 392.9 432.0 398.8 432.4 394.8 432.5 400.2 433.1 396.3 433.6 404.2 433.8 394.9 434.2 399.8 434.7 389.0 435.1 401.2 435.3 393.2 435.8 406.7 436.0 396.4 436.2 400.9 436.4 399.5 436.6 400.6 436.9 394.7 437.3 399.2 437.7 396.9 437.8 403.2 438.0 395.2 438.2 399.7 439.1 393.0 439.5 401.8 440.0 397.1 440.2 401.9 440.6 397.2 440.9 399.5 441.1 396.1 441.5 404.9 441.7 399.1 442.2 401.7 442.8 398.6 443.5 379.1 444.2 283.4 445.0 371.2 446.0 407.3 446.2 397.3 446.8 401.8 447.5 396.8 447.9 402.5 448.1 398.7 448.6 405.9 449.9 384.7 450.6 401.6 450.8 403.0 451.0 398.9 451.2 401.9 451.3 397.4 451.7 402.0 452.3 397.3 452.4 404.7 453.2 398.3 453.7 402.7 453.9 398.5 454.1 401.0 454.4 397.5 454.8 403.7 455.2 399.2 455.4 402.0 455.5 398.2 456.1 403.1 456.5 398.5 457.0 403.6 457.2 399.4 457.4 405.7 457.9 397.7 458.1 402.3 458.3 386.9 458.5 407.3 458.6 399.9 459.2 407.1 459.7 393.1 459.9 402.0 460.1 396.8 460.5 406.1 461.0 399.8 461.2 404.0 461.4 400.0 461.6 402.5 461.7 396.5 461.9 403.0 462.3 403.1 462.5 402.3 462.7 396.1 463.0 405.0 463.4 400.9 463.6 405.5 463.8 400.7 464.5 405.3 464.7 403.9 464.8 405.3 465.2 398.6 465.8 407.9 466.1 401.7 466.5 402.3 466.7 400.4 467.0 403.9 467.2 398.7 467.4 408.2 467.8 405.2 468.1 405.4 468.3 403.9 468.5 405.2 468.9 401.8 469.6 406.6 470.0 401.2 470.1 402.7 470.3 400.9 470.5 401.2 470.7 400.8 470.9 406.0 471.4 398.3 472.3 407.9 472.9 401.0 473.1 405.3 473.4 398.9 473.6 405.1 473.8 401.5 474.0 405.2 474.5 401.5 474.9 406.6 475.1 399.9 475.2 403.5 475.4 402.0 475.6 401.7 475.8 402.2 476.3 408.5 477.1 399.9 477.6 408.7 478.0 401.2 478.2 407.3 478.4 404.0 479.1 409.1 479.3 406.2 479.4 409.1 479.6 401.3 480.0 405.0 480.2 404.4 480.4 405.0 480.7 404.7 480.9 405.8 481.1 405.5 481.3 408.5 481.8 404.3 482.0 405.8 482.2 400.0 482.4 405.5 483.1 400.6 483.5 407.0 483.8 402.7 484.4 405.4 484.7 401.4 485.3 409.3 485.8 403.8 486.0 413.0 486.4 402.7 486.7 406.9 486.9 404.0 487.3 406.1 487.7 402.5 488.4 408.9 488.8 400.4 489.3 406.9 489.7 402.8 490.0 405.4 490.2 415.4 490.6 406.6 490.8 407.0 490.9 405.9 491.1 407.3 491.7 404.4 492.0 407.0 492.4 403.2 493.0 408.2 493.5 403.0 493.7 407.1 493.9 402.9 494.4 408.1 494.8 404.2 495.3 410.7 495.5 406.5 496.2 408.9 496.8 404.3 497.0 406.7 497.1 405.8 497.5 406.9 497.7 410.0 498.2 402.6 498.4 407.9 498.6 406.0 498.8 408.7 499.3 404.9 499.5 407.1 499.7 405.2 499.9 408.2 500.1 405.6 500.4 408.3 500.8 406.3 501.2 411.0 501.3 406.7 501.7 412.3 503.0 401.9 503.2 411.4 503.5 405.2 503.9 411.2 504.4 404.4 504.6 411.8 505.0 407.6 505.2 408.7 505.4 406.7 505.5 407.2 505.7 403.3 505.9 407.8 506.1 407.3 506.3 407.5 506.5 405.0 506.6 410.4 506.8 406.7 507.2 411.1 507.4 404.7 507.6 406.3 507.7 404.1 507.9 407.0 508.1 406.1 508.3 407.4 508.5 406.4 508.6 408.9 508.8 403.8 509.0 410.2 509.2 403.8 509.4 408.5 510.1 404.3 510.5 410.3 510.8 406.5 511.0 414.2 511.2 405.7 511.6 412.6 511.9 406.3 512.1 411.2 512.8 405.4 513.0 408.2 513.4 405.9 513.8 408.6 513.9 405.2 514.1 412.1 514.3 408.4 514.7 410.2 514.9 408.6 515.0 409.0 515.2 403.1 515.6 408.5 515.8 395.4 516.1 416.6 516.5 410.9 516.7 413.4 517.2 408.6 517.6 414.1 518.1 405.9 518.5 410.9 519.0 404.5 519.4 413.7 519.6 410.8 520.0 412.6 520.1 411.6 520.5 412.6 520.7 414.0 521.4 409.6 521.6 414.3 522.1 409.0 522.3 413.3 522.9 405.0 523.2 411.3 523.4 407.3 523.8 410.7 524.0 407.2 524.2 412.2 524.7 407.6 525.1 413.1 525.3 410.9 525.6 410.0 525.8 411.0 526.2 408.5 526.5 412.8 526.7 407.4 526.9 414.1 527.3 408.2 527.4 411.9 527.8 405.6 528.5 411.3 528.7 408.9 529.5 410.1 529.6 414.4 530.2 404.7 530.5 409.8 530.7 408.0 530.9 408.8 531.5 414.3 531.8 407.0 532.0 415.6 532.4 409.3 532.9 415.6 533.3 409.7 533.8 412.9 534.0 409.4 534.4 416.0 534.7 406.6 535.3 412.9 535.5 404.1 536.0 411.7 536.2 404.6 536.4 411.7 536.6 405.5 536.9 416.5 537.1 407.9 537.7 412.0 538.0 408.5 538.4 415.6 538.9 407.7 539.7 416.5 539.9 408.0 540.0 412.5 540.4 407.6 540.6 411.0 540.8 409.1 540.9 410.5 541.1 409.4 541.3 410.6 541.5 408.4 542.0 412.8 542.2 408.2 542.4 416.3 542.6 410.6 543.0 410.3 543.1 411.2 543.5 406.2 543.9 416.1 544.8 409.2 545.0 412.9 545.3 411.8 545.5 414.2 545.9 405.6 546.4 417.3 546.6 409.6 547.0 413.4 547.2 406.0 547.5 415.9 547.9 409.4 548.2 414.4 548.6 407.2 549.0 415.7 549.5 408.9 549.9 412.9 550.3 410.3 550.6 415.8 551.0 408.9 551.5 412.5 551.7 407.4 551.9 411.4 552.4 401.1 553.7 413.4 554.1 410.5 554.3 414.6 554.8 411.8 555.0 413.1 555.2 407.6 555.4 417.0 555.9 410.3 556.1 416.8 556.3 410.0 556.5 416.1 556.6 411.1 557.2 414.4 557.6 412.5 557.9 417.4 558.3 411.0 558.8 412.9 559.2 411.9 559.9 415.7 560.1 412.6 560.3 415.3 560.7 409.9 560.8 414.0 561.2 409.5 561.4 417.5 561.8 412.2 561.9 415.0 562.3 411.6 562.5 414.5 562.8 409.1 563.2 415.2 563.8 409.6 564.1 415.0 564.5 412.3 564.7 414.5 565.4 411.5 565.8 414.9 566.0 412.9 566.1 415.9 566.3 411.4 566.9 419.6 567.0 408.5 567.6 413.7 568.0 407.3 568.1 415.6 568.3 412.3 568.7 413.7 568.9 413.2 569.1 416.3 569.2 412.5 569.6 419.1 569.8 412.1 570.1 418.8 570.5 412.7 570.7 416.3 570.9 410.1 571.4 417.5 571.6 414.6 572.2 412.1 572.3 414.5 572.7 411.2 573.1 415.0 573.2 412.9 573.4 415.5 573.6 413.2 574.0 416.8 574.2 412.9 574.3 414.1 574.5 412.6 574.7 417.4 574.9 411.8 575.3 415.2 575.8 414.5 576.0 412.5 576.4 417.1 576.7 410.1 577.1 416.8 577.6 411.6 577.8 416.0 578.7 411.8 579.1 415.7 579.3 408.7 579.5 417.6 579.8 412.2 580.2 415.3 580.5 413.2 581.1 417.2 581.5 416.7 581.6 412.2 582.2 416.3 582.4 412.6 582.6 418.7 582.9 413.4 583.3 417.4 583.5 413.8 583.7 416.6 584.0 415.0 584.2 417.6 584.6 410.3 585.1 417.5 586.0 410.3 586.2 415.6 586.4 412.3 586.9 416.4 587.1 417.0 587.3 415.8 587.5 417.1 587.7 415.4 587.9 417.9 588.6 411.7 588.9 417.0 589.3 414.0 589.9 419.9 590.2 411.2 590.4 416.2 591.1 414.0 591.3 420.5 591.5 416.2 591.7 415.0 591.9 416.1 592.0 413.0 592.2 416.6 592.6 411.5 592.8 416.1 593.0 415.5 593.1 416.2 593.3 413.7 593.5 420.5 594.1 413.7 594.4 417.8 594.6 412.2 595.0 417.6 595.3 413.2 595.7 419.8 596.2 414.1 596.4 418.7 596.6 415.7 596.8 419.1 597.0 416.1 597.2 419.4 597.3 417.4 597.5 419.9 597.7 418.6 597.9 424.6 598.3 413.5 598.8 416.2 599.9 399.7 601.2 420.9 601.4 414.6 601.5 416.8 601.7 414.9 602.1 416.4 602.3 413.8 602.5 418.0 602.8 414.8 603.0 418.5 603.2 413.6 603.9 418.5 604.1 410.0 604.3 418.7 604.6 415.0 605.6 420.3 606.3 415.5 606.6 423.5 606.8 417.1 607.2 424.6 607.4 415.1 607.7 418.4 608.3 417.7 608.7 418.2 609.2 412.7 609.6 419.5 609.9 417.5 610.7 419.0 611.0 415.4 611.6 421.3 611.9 418.4 612.5 421.1 612.7 418.8 612.9 423.1 613.4 417.4 613.8 421.1 614.3 416.7 614.9 419.1 615.0 417.1 615.4 422.2 615.6 416.6 615.8 419.9 616.3 416.7 616.5 425.9 616.9 416.5 617.0 423.4 617.2 418.3 617.6 421.5 617.8 419.8 618.0 423.4 618.3 416.7 618.5 422.8 618.9 416.6 619.2 420.1 619.4 415.9 619.6 423.1 620.3 417.1 620.5 422.8 621.1 416.2 621.6 421.8 621.8 419.5 622.0 421.5 622.3 418.6 622.5 420.7 622.7 415.4 623.3 422.3 624.0 416.5 624.5 421.7 624.9 420.0 625.1 424.1 625.3 419.6 625.4 422.8 625.6 420.6 625.8 421.7 626.2 414.4 626.4 423.3 626.7 415.6 626.9 422.5 627.5 419.5 627.6 424.0 628.2 414.2 628.9 426.3 629.3 416.7 629.5 420.5 629.8 421.1 630.0 420.3 630.2 423.5 630.4 417.0 630.6 421.7 630.9 416.6 631.3 421.3 631.5 416.4 632.2 424.2 632.6 416.9 632.7 421.4 633.1 418.8 633.5 420.5 633.7 418.9 634.0 422.0 634.2 418.4 634.6 420.0 634.8 419.2 634.9 427.1 635.1 420.3 635.5 425.6 635.7 416.1 636.0 421.9 636.4 420.2 636.6 420.9 636.8 424.6 637.5 419.1 637.7 423.7 638.0 420.4 638.6 423.1 638.8 419.7 639.0 420.9 639.1 419.6 639.7 423.7 639.9 420.7 640.2 424.3 640.6 419.1 640.8 418.1 641.0 419.3 641.1 417.9 641.7 423.3 642.1 417.4 642.2 420.2 642.6 415.2 642.8 416.8L642.8 422.4 642.6 420.8 642.2 425.7 642.1 423.0 641.7 428.9 641.1 423.5 641.0 424.8 640.8 423.7 640.6 424.7 640.2 429.9 639.9 426.3 639.7 429.3 639.1 425.2 639.0 426.5 638.8 425.3 638.6 428.7 638.0 425.9 637.7 429.3 637.5 424.7 636.8 430.2 636.6 426.4 636.4 425.8 636.0 427.4 635.7 421.6 635.5 431.1 635.1 425.9 634.9 432.7 634.8 424.8 634.6 425.6 634.2 423.9 634.0 427.6 633.7 424.5 633.5 426.0 633.1 424.4 632.7 426.9 632.6 422.5 632.2 429.8 631.5 422.0 631.3 426.9 630.9 422.2 630.6 427.2 630.4 422.6 630.2 429.1 630.0 425.8 629.8 426.7 629.5 426.0 629.3 422.2 628.9 431.8 628.2 419.8 627.6 429.6 627.5 425.1 626.9 428.1 626.7 421.2 626.4 428.8 626.2 419.9 625.8 427.3 625.6 426.2 625.4 428.4 625.3 425.1 625.1 429.7 624.9 425.6 624.5 427.2 624.0 422.1 623.3 427.9 622.7 421.0 622.5 426.2 622.3 424.1 622.0 427.0 621.8 425.0 621.6 427.4 621.1 421.8 620.5 428.4 620.3 422.6 619.6 428.7 619.4 421.5 619.2 425.6 618.9 422.2 618.5 428.4 618.3 422.3 618.0 429.0 617.8 425.3 617.6 427.1 617.2 423.9 617.0 428.9 616.9 422.1 616.5 431.5 616.3 422.3 615.8 425.4 615.6 422.2 615.4 427.8 615.0 422.7 614.9 424.7 614.3 422.3 613.8 426.6 613.4 422.9 612.9 428.6 612.7 424.4 612.5 426.7 611.9 424.0 611.6 426.8 611.0 421.0 610.7 424.5 609.9 423.1 609.6 425.1 609.2 418.2 608.7 423.8 608.3 423.3 607.7 424.0 607.4 420.7 607.2 430.1 606.8 422.7 606.6 429.1 606.3 421.1 605.6 425.9 604.6 420.5 604.3 424.3 604.1 415.6 603.9 424.1 603.2 419.2 603.0 424.0 602.8 420.4 602.5 423.6 602.3 419.4 602.1 422.0 601.7 420.4 601.5 422.4 601.4 420.2 601.2 426.5 599.9 405.2 598.8 421.8 598.3 419.1 597.9 430.2 597.7 424.2 597.5 425.5 597.3 423.0 597.2 425.0 597.0 421.7 596.8 424.6 596.6 421.3 596.4 424.2 596.2 419.7 595.7 425.4 595.3 418.8 595.0 423.1 594.6 417.8 594.4 423.4 594.1 419.3 593.5 426.1 593.3 419.3 593.1 421.8 593.0 421.0 592.8 421.7 592.6 417.1 592.2 422.2 592.0 418.6 591.9 421.6 591.7 420.6 591.5 421.8 591.3 426.1 591.1 419.6 590.4 421.8 590.2 416.8 589.9 425.5 589.3 419.6 588.9 422.6 588.6 417.3 587.9 423.4 587.7 421.0 587.5 422.7 587.3 421.4 587.1 422.6 586.9 422.0 586.4 417.9 586.2 421.2 586.0 415.8 585.1 423.1 584.6 415.9 584.2 423.2 584.0 420.6 583.7 422.2 583.5 419.3 583.3 422.9 582.9 419.0 582.6 424.2 582.4 418.2 582.2 421.9 581.6 417.8 581.5 422.3 581.1 422.8 580.5 418.8 580.2 420.9 579.8 417.8 579.5 423.2 579.3 414.3 579.1 421.3 578.7 417.3 577.8 421.6 577.6 417.2 577.1 422.3 576.7 415.6 576.4 422.7 576.0 418.1 575.8 420.1 575.3 420.8 574.9 417.4 574.7 423.0 574.5 418.2 574.3 419.7 574.2 418.5 574.0 422.4 573.6 418.8 573.4 421.1 573.2 418.5 573.1 420.6 572.7 416.8 572.3 420.1 572.2 417.7 571.6 420.2 571.4 423.1 570.9 415.7 570.7 421.8 570.5 418.3 570.1 424.4 569.8 417.7 569.6 424.7 569.2 418.1 569.1 421.9 568.9 418.8 568.7 419.3 568.3 417.9 568.1 421.2 568.0 412.9 567.6 419.3 567.0 414.1 566.9 425.2 566.3 417.0 566.1 421.5 566.0 418.5 565.8 420.5 565.4 417.1 564.7 420.1 564.5 418.0 564.1 420.6 563.8 415.2 563.2 420.8 562.8 414.7 562.5 420.1 562.3 417.3 561.9 420.6 561.8 417.8 561.4 423.2 561.2 415.2 560.8 419.6 560.7 415.6 560.3 421.0 560.1 418.3 559.9 421.3 559.2 417.5 558.8 418.6 558.3 416.7 557.9 423.1 557.6 418.1 557.2 420.1 556.6 416.8 556.5 421.8 556.3 415.7 556.1 422.5 555.9 416.0 555.4 422.7 555.2 413.3 555.0 418.8 554.8 417.5 554.3 420.3 554.1 416.2 553.7 419.1 552.4 406.8 551.9 417.2 551.7 413.1 551.5 418.3 551.0 414.6 550.6 421.5 550.3 416.0 549.9 418.7 549.5 414.6 549.0 421.5 548.6 412.9 548.2 420.1 547.9 415.1 547.5 421.7 547.2 411.8 547.0 419.2 546.6 415.3 546.4 423.1 545.9 411.3 545.5 420.0 545.3 417.6 545.0 418.7 544.8 415.0 543.9 421.8 543.5 412.0 543.1 417.0 543.0 416.1 542.6 416.4 542.4 422.1 542.2 414.0 542.0 418.6 541.5 414.2 541.3 416.4 541.1 415.2 540.9 416.3 540.8 414.9 540.6 416.8 540.4 413.4 540.0 418.3 539.9 413.9 539.7 422.3 538.9 413.5 538.4 421.5 538.0 414.4 537.7 417.9 537.1 413.7 536.9 422.3 536.6 411.3 536.4 417.6 536.2 410.5 536.0 417.5 535.5 410.0 535.3 418.8 534.7 412.5 534.4 421.9 534.0 415.3 533.8 418.8 533.3 415.6 532.9 421.5 532.4 415.2 532.0 421.5 531.8 412.9 531.5 420.2 530.9 414.7 530.7 413.9 530.5 415.7 530.2 410.6 529.6 420.3 529.5 416.1 528.7 414.9 528.5 417.2 527.8 411.5 527.4 417.8 527.3 414.1 526.9 420.0 526.7 413.4 526.5 418.8 526.2 414.4 525.8 417.0 525.6 415.9 525.3 416.9 525.1 419.0 524.7 413.6 524.2 418.1 524.0 413.2 523.8 416.7 523.4 413.2 523.2 417.2 522.9 411.0 522.3 419.3 522.1 415.0 521.6 420.3 521.4 415.6 520.7 420.0 520.5 418.5 520.1 417.6 520.0 418.6 519.6 416.8 519.4 419.7 519.0 410.5 518.5 416.9 518.1 411.9 517.6 420.1 517.2 414.6 516.7 419.4 516.5 417.0 516.1 422.7 515.8 401.4 515.6 414.6 515.2 409.1 515.0 415.0 514.7 416.3 514.3 414.4 514.1 418.2 513.9 411.2 513.8 414.7 513.4 411.9 513.0 414.2 512.8 411.4 512.1 417.2 511.9 412.3 511.6 418.7 511.2 411.8 511.0 420.2 510.8 412.5 510.5 416.4 510.1 410.4 509.4 414.6 509.2 409.9 509.0 416.3 508.8 409.9 508.6 415.0 508.5 412.5 508.3 413.5 508.1 412.2 507.9 413.1 507.7 410.2 507.6 412.4 507.4 410.8 507.2 417.2 506.8 412.8 506.6 416.6 506.5 411.1 506.3 413.7 506.1 413.4 505.9 413.9 505.7 409.4 505.5 413.3 505.4 412.8 505.2 414.8 505.0 413.7 504.6 417.9 504.4 410.5 503.9 417.3 503.5 411.3 503.2 417.5 503.0 408.0 501.7 418.5 501.3 412.9 501.2 417.1 500.8 412.5 500.4 414.5 500.1 411.8 499.9 414.3 499.7 411.4 499.5 413.2 499.3 411.0 498.8 414.8 498.6 412.2 498.4 414.1 498.2 408.8 497.7 416.2 497.5 413.1 497.1 412.0 497.0 412.9 496.8 410.4 496.2 415.1 495.5 412.7 495.3 416.9 494.8 410.4 494.4 414.3 493.9 409.2 493.7 413.3 493.5 409.3 493.0 414.5 492.4 409.5 492.0 413.2 491.7 410.6 491.1 413.6 490.9 412.1 490.8 413.3 490.6 412.9 490.2 421.6 490.0 411.6 489.7 409.1 489.3 413.1 488.8 406.6 488.4 415.1 487.7 408.7 487.3 412.3 486.9 410.3 486.7 413.2 486.4 409.0 486.0 419.3 485.8 410.1 485.3 415.6 484.7 407.7 484.4 411.7 483.8 409.0 483.5 413.3 483.1 406.9 482.4 411.8 482.2 406.3 482.0 412.1 481.8 410.6 481.3 414.8 481.1 411.8 480.9 412.1 480.7 411.0 480.4 411.4 480.2 410.7 480.0 411.3 479.6 407.7 479.4 415.4 479.3 412.5 479.1 415.4 478.4 410.3 478.2 413.6 478.0 407.5 477.6 415.0 477.1 406.3 476.3 414.9 475.8 408.6 475.6 408.1 475.4 408.3 475.2 409.9 475.1 406.3 474.9 413.0 474.5 407.9 474.0 411.6 473.8 407.9 473.6 411.5 473.4 405.2 473.1 411.7 472.9 407.3 472.3 414.3 471.4 404.7 470.9 412.4 470.7 407.3 470.5 407.6 470.3 407.3 470.1 409.1 470.0 407.6 469.6 413.0 468.9 408.2 468.5 411.7 468.3 410.4 468.1 411.8 467.8 411.7 467.4 414.7 467.2 405.1 467.0 410.3 466.7 406.8 466.5 408.7 466.1 408.2 465.8 414.3 465.2 405.1 464.8 411.7 464.7 410.4 464.5 411.7 463.8 407.2 463.6 411.9 463.4 407.4 463.0 411.5 462.7 402.6 462.5 408.8 462.3 409.6 461.9 409.4 461.7 403.0 461.6 409.0 461.4 406.5 461.2 410.5 461.0 406.3 460.5 412.6 460.1 403.3 459.9 408.6 459.7 399.6 459.2 413.6 458.6 406.5 458.5 413.8 458.3 393.4 458.1 408.8 457.9 404.3 457.4 412.2 457.2 405.9 457.0 410.2 456.5 405.0 456.1 409.7 455.5 404.7 455.4 408.6 455.2 405.8 454.8 410.3 454.4 404.1 454.1 407.6 453.9 405.1 453.7 409.3 453.2 404.9 452.4 411.3 452.3 403.9 451.7 408.6 451.3 404.1 451.2 408.5 451.0 405.5 450.8 409.6 450.6 408.3 449.9 391.3 448.6 412.5 448.1 405.4 447.9 409.2 447.5 403.4 446.8 408.4 446.2 404.0 446.0 413.9 445.0 377.9 444.2 290.1 443.3 398.4 442.2 408.5 441.7 405.9 441.5 411.7 441.3 403.3 440.9 406.2 440.6 404.0 440.2 408.7 440.0 403.9 439.5 408.6 439.1 399.7 438.2 406.5 438.0 402.0 437.8 409.9 437.7 403.7 437.3 406.0 436.9 401.5 436.6 407.4 436.4 406.3 436.2 407.7 436.0 403.2 435.8 413.5 435.3 400.0 435.1 408.0 434.7 395.8 434.2 406.6 433.8 401.8 433.6 411.0 433.1 403.1 432.5 407.1 432.4 401.7 432.0 405.7 431.6 399.8 430.9 407.3 430.5 399.2 429.8 408.4 429.6 400.4 429.4 409.2 429.3 401.9 429.1 403.1 428.9 401.7 428.7 410.6 428.5 400.7 428.0 404.1 427.8 402.9 427.4 408.1 427.1 400.8 426.7 406.6 426.3 403.3 426.2 404.0 426.0 403.6 425.8 395.5 425.6 403.2 425.4 405.9 425.2 402.5 424.7 412.4 424.5 425.3 424.0 397.0 423.6 407.0 423.4 405.4 423.1 408.1 422.3 401.1 422.0 404.0 421.4 401.5 421.2 408.2 420.9 397.2 420.3 407.6 420.1 404.5 419.8 416.7 419.6 414.3 419.4 417.3 418.9 401.0 418.7 402.3 418.5 402.6 418.3 402.0 417.9 405.4 417.6 397.3 417.0 405.2 416.5 399.0 416.3 402.5 416.1 399.5 415.9 402.4 415.8 394.7 415.0 402.6 414.5 398.0 414.3 403.8 414.1 398.2 413.7 398.7 413.6 404.4 413.4 392.1 413.0 402.1 412.6 400.3 412.5 404.0 411.9 398.1 411.4 399.8 411.2 396.9 411.0 405.6 410.6 396.9 410.3 401.9 410.1 395.6 409.9 400.5 409.5 399.0 409.2 403.8 409.0 401.9 408.8 404.6 408.6 403.2 408.5 408.5 408.1 398.7 407.7 400.5 407.4 396.1 407.0 402.3 406.6 396.1 406.4 399.0 406.1 396.4 405.7 405.2 405.5 396.6 405.4 397.1 405.2 396.4 404.8 401.3 404.3 393.7 404.1 400.3 403.9 397.4 403.7 401.8 403.3 397.2 403.2 402.4 403.0 398.8 402.6 400.0 402.2 398.3 402.1 399.7 401.7 392.4 400.8 401.6 400.4 393.6 400.1 401.4 399.3 394.4 399.0 401.5 398.6 393.1 397.9 401.9 397.3 394.2 397.1 399.4 396.6 396.7 395.9 402.2 395.7 394.2 395.3 399.3 394.9 392.3 394.8 400.5 394.6 393.8 394.4 401.5 393.5 394.6 392.9 402.1 392.8 394.4 392.6 402.9 392.0 395.4 391.8 399.0 391.5 395.5 390.9 400.0 390.8 391.7 390.4 396.9 390.2 390.4 389.8 397.4 389.3 395.6 388.9 398.1 388.6 390.8 388.2 401.2 387.5 330.8 386.6 393.1 385.6 364.4 385.1 390.8 384.7 390.1 384.4 392.0 384.2 387.7 383.8 400.4 383.5 383.9 383.3 395.9 382.9 387.0 382.5 400.2 382.2 392.4 382.0 404.1 381.8 395.8 381.6 394.9 381.4 395.2 380.9 385.6 380.2 395.2 380.0 390.0 379.8 400.0 379.1 383.9 378.3 397.0 378.2 386.3 377.8 393.9 377.6 391.1 377.2 394.6 376.7 389.9 376.5 393.3 376.3 383.6 376.2 391.7 376.0 386.5 375.6 394.9 375.4 387.8 375.2 391.3 375.1 390.1 374.9 390.9 374.7 387.3 374.5 393.7 374.3 387.0 373.6 394.3 373.4 388.5 373.0 393.5 372.9 387.6 372.7 398.4 372.1 388.8 372.0 395.2 371.8 384.2 371.6 389.6 371.0 391.2 370.9 390.3 370.7 392.2 369.9 383.7 369.8 400.7 369.2 385.6 368.9 397.6 368.5 388.0 368.1 390.8 367.9 381.8 367.6 392.5 367.0 381.4 366.5 394.3 365.7 384.6 365.4 395.5 364.8 383.4 364.5 392.9 364.3 383.0 363.7 386.0 362.8 417.8 362.5 392.7 362.3 397.2 361.4 378.2 361.2 393.1 360.8 392.3 360.6 380.1 360.3 390.1 359.9 384.4 359.7 390.4 359.5 384.2 359.2 386.8 359.0 385.1 358.8 385.7 358.6 398.4 358.4 384.6 357.9 389.9 357.5 382.0 357.4 389.0 356.8 376.4 356.3 392.3 355.9 379.3 355.7 383.6 355.3 382.6 355.0 387.0 354.2 416.9 353.7 387.4 353.2 379.2 352.8 394.0 352.1 377.9 351.7 385.8 351.3 377.4 351.1 388.3 351.0 380.9 350.6 391.5 350.4 377.8 349.5 430.4 348.6 383.8 348.0 395.3 347.5 379.1 346.4 413.0 345.7 379.5 345.3 403.7 345.1 396.6 344.8 401.8 344.6 423.0 344.4 409.9 344.0 407.6 343.8 413.7 343.7 404.1 343.1 422.7 342.8 405.8 342.2 418.7 341.8 412.1 341.3 420.2 340.6 398.1 340.2 426.9 339.8 412.2 339.7 429.5 339.5 421.1 339.3 427.7 339.1 424.0 338.9 428.4 338.7 414.4 338.4 431.3 338.2 420.0 338.0 420.6 337.8 420.1 337.6 417.8 337.5 427.8 337.3 414.9 336.9 431.3 336.4 420.2 336.2 424.3 336.0 424.9 335.8 422.8 335.6 430.1 335.5 420.3 335.3 435.6 334.5 416.9 334.0 445.3 333.3 425.6 332.9 433.7 332.5 425.6 332.2 431.6 332.0 428.4 331.3 432.3 330.7 423.6 330.5 437.1 330.2 429.4 330.0 437.6 329.6 429.4 329.4 437.8 329.1 419.1 328.5 429.4 328.3 416.7 328.0 440.7 327.8 425.2 327.6 434.2 327.4 432.2 327.2 437.1 326.9 436.7 326.7 431.6 326.5 439.8 326.0 417.6 325.6 427.0 325.2 416.2 324.9 450.6 324.7 427.3 324.5 441.2 324.1 436.4 324.0 442.3 323.8 439.9 323.6 440.8 323.2 416.7 322.9 434.1 322.7 426.0 322.3 437.7 321.8 423.5 321.6 440.7 321.4 424.3 321.2 444.0 320.9 427.0 320.3 440.8 319.9 427.8 319.8 442.0 319.6 433.9 319.2 436.8 319.0 429.9 318.8 452.2 318.7 432.7 318.3 433.6 318.1 423.5 317.9 442.6 317.8 436.5 317.4 434.8 317.2 439.2 317.0 438.1 316.7 424.1 316.5 448.6 315.9 428.1 315.7 451.6 315.4 427.8 315.0 439.7 314.8 433.6 314.5 441.7 314.1 430.0 313.2 446.7 312.8 446.9 312.6 443.0 312.5 457.3 311.9 437.6 311.5 453.8 310.8 431.4 310.5 448.5 309.9 436.6 309.4 453.2 309.0 434.8 308.6 466.1 308.4 437.5 308.1 465.3 307.9 435.7 307.7 448.2 307.5 435.0 307.2 448.0 307.0 418.9 306.4 451.6 305.3 430.9 304.8 454.3 304.4 441.1 304.1 471.2 303.9 446.0 303.5 465.6 303.2 431.8 302.8 459.5 302.4 429.2 301.9 456.7 301.5 438.2 300.8 457.6 300.6 420.6 300.4 456.4 300.0 424.6 299.7 446.5 299.5 448.3 299.3 447.4 299.1 439.9 298.6 471.2 298.4 433.9 298.0 457.5 297.7 426.5 297.5 463.8 296.9 444.4 296.6 455.6 296.2 434.7 295.9 456.3 295.5 450.3 295.1 457.0 294.9 431.3 294.4 471.0 294.0 435.4 293.8 463.4 293.5 428.1 293.3 467.8 292.9 431.5 292.2 460.9 291.5 426.7 291.3 443.5 290.9 438.5 290.7 445.8 290.6 440.2 290.2 456.7 290.0 444.1 289.6 464.2 289.1 447.8 288.9 468.0 288.7 425.4 288.4 455.2 288.2 435.2 287.8 463.5 287.1 436.6 286.9 464.1 286.5 426.4 286.4 471.2 286.0 426.1 285.8 454.0 285.6 462.0 285.4 454.4 285.1 468.7 284.5 454.3 284.4 464.6 284.0 471.2 283.6 470.9 283.4 440.3 283.1 471.2 282.9 464.8 282.5 471.2 282.3 453.2 282.2 471.2 281.8 455.5 281.6 471.2 281.2 469.9 281.1 444.2 280.9 471.2 280.5 471.2 280.3 446.6 280.2 471.2 279.8 463.2 279.4 471.2 279.2 458.6 279.1 471.2 278.9 469.3 278.7 471.2 278.5 443.1 278.1 471.2 278.0 453.8 277.6 458.0 277.4 414.2 276.9 471.2 276.5 471.2 276.3 458.3 276.1 471.2 276.0 453.4 275.8 471.2 274.9 471.2 274.7 468.2 274.5 471.2 274.1 432.4 274.0 471.2 271.0 471.2 270.8 273.6 270.7 471.2 270.5 273.6 270.3 471.2 270.1 273.6 269.9 471.2 269.8 273.6 269.6 471.2 269.4 273.6 269.2 471.2 269.0 273.6 268.8 471.2 268.7 273.6 268.5 471.2 268.3 273.6 268.1 471.2 267.9 273.6 267.7 471.2 267.6 275.1 267.4 471.2 267.2 277.2 267.0 471.2 266.8 278.9Z" fill="#c9c9c9" opacity="0.8"/>
<path d="M666.0 423.3 666.3 425.5 666.5 424.5 667.1 428.6 667.2 423.1 667.4 426.9 668.0 421.1 668.1 426.3 668.5 425.3 668.7 428.7 669.1 419.1 669.2 426.0 669.4 421.7 669.6 424.1 669.8 421.8 670.3 429.0 670.5 422.8 670.9 425.0 671.1 424.0 671.3 427.8 671.6 425.4 671.8 428.4 672.2 424.2 672.3 428.9 672.5 421.9 673.1 424.5 673.3 430.0 673.6 424.7 673.8 425.4 674.0 424.6 674.2 426.9 674.4 422.1 675.3 429.4 675.5 424.9 675.6 429.7 676.0 424.5 676.2 429.4 676.5 429.9 676.9 422.6 677.6 432.9 678.0 425.0 678.6 431.8L678.6 437.4 678.0 430.5 677.6 438.5 676.9 428.1 676.5 435.4 676.2 435.0 676.0 430.1 675.6 435.3 675.5 430.5 675.3 435.0 674.4 427.7 674.2 432.5 674.0 430.1 673.8 431.0 673.6 430.3 673.3 435.6 673.1 430.1 672.5 427.5 672.3 434.5 672.2 429.8 671.8 434.0 671.6 431.0 671.3 433.4 671.1 429.6 670.9 430.6 670.5 428.3 670.3 434.6 669.8 427.4 669.6 429.7 669.4 427.3 669.2 431.5 669.1 424.7 668.7 434.3 668.5 430.9 668.1 431.8 668.0 426.7 667.4 432.5 667.2 428.7 667.1 434.2 666.5 430.0 666.3 431.1 666.0 428.9Z" fill="#c9c9c9" opacity="0.8"/>
<polyline points="266.8 273.6 267.0 471.2 267.2 273.6 267.4 471.2 267.6 273.6 267.7 471.2 267.9 273.6 268.1 471.2 268.3 273.6 268.5 471.2 268.7 273.6 268.8 471.2 269.0 273.6 269.2 471.2 269.4 273.6 269.6 471.2 269.8 273.6 269.9 471.2 270.1 273.6 270.3 471.2 270.5 273.6 270.7 471.2 270.8 273.6 271.0 471.2 271.2 429.1 271.4 416.7 271.6 471.2 271.8 466.4 271.9 471.2 272.1 462.4 272.3 471.2 272.5 454.4 272.7 456.7 272.9 466.5 273.0 471.2 273.2 468.4 273.4 471.2 273.6 471.2 273.8 440.2 274.0 471.2 274.1 395.7 274.3 407.1 274.5 471.2 274.7 432.7 274.9 471.2 275.0 446.5 275.2 446.5 275.4 471.2 275.6 454.0 275.8 454.3 276.0 420.7 276.1 471.2 276.3 426.4 276.5 471.2 276.7 453.7 276.9 466.3 277.1 408.0 277.2 430.3 277.4 384.7 277.6 428.9 277.8 424.6 278.0 425.4 278.1 460.0 278.3 447.8 278.5 415.5 278.7 455.7 278.9 442.3 279.1 446.7 279.2 432.2 279.4 452.8 279.6 447.2 279.8 437.7 280.0 439.7 280.2 459.0 280.3 422.0 280.5 466.3 280.7 463.8 280.9 465.0 281.1 420.7 281.2 446.7 281.4 458.6 281.6 461.9 281.8 432.9 282.0 461.0 282.2 465.4 282.3 431.4 282.5 464.6 282.7 449.2 282.9 443.7 283.1 451.2 283.3 444.1 283.4 419.8 283.6 450.7 283.8 462.2 284.0 470.8 284.2 443.4 284.4 445.3 284.5 435.3 284.7 446.6 284.9 446.6 285.1 450.2 285.3 446.9 285.4 436.1 285.6 443.8 285.8 435.9 286.0 408.1 286.2 428.7 286.4 458.5 286.5 408.7 286.7 428.4 286.9 446.6 287.1 419.2 287.3 431.8 287.5 440.8 287.6 441.1 287.8 446.4 288.0 432.1 288.2 418.3 288.4 438.4 288.6 428.5 288.7 408.9 288.9 451.6 289.1 431.5 289.3 439.1 289.5 449.0 289.6 448.2 289.8 434.4 290.0 428.3 290.2 440.9 290.4 433.2 290.6 424.6 290.7 430.3 290.9 423.1 291.1 428.5 291.3 428.3 291.5 411.7 291.7 426.9 291.8 433.2 292.0 426.1 292.2 446.1 292.4 439.1 292.6 425.6 292.7 427.8 292.9 417.2 293.1 435.9 293.3 453.6 293.5 414.1 293.7 424.5 293.8 449.6 294.0 421.7 294.2 436.9 294.4 457.5 294.6 441.3 294.8 441.7 294.9 418.0 295.1 443.8 295.3 437.5 295.5 437.4 295.7 438.2 295.9 443.6 296.0 431.3 296.2 422.0 296.4 426.7 296.6 442.9 296.8 445.1 296.9 431.8 297.1 440.6 297.3 440.0 297.5 451.3 297.7 414.0 297.9 425.2 298.0 445.1 298.2 425.9 298.4 421.5 298.6 459.8 298.8 440.6 299.0 438.6 299.1 427.6 299.3 435.2 299.5 436.1 299.7 434.4 299.9 415.3 300.0 412.6 300.2 440.0 300.4 444.4 300.6 408.7 300.8 445.7 301.0 441.9 301.1 436.0 301.3 431.7 301.5 426.3 301.7 432.6 301.9 444.9 302.1 431.3 302.2 433.6 302.4 417.5 302.6 435.5 302.8 447.9 303.0 444.6 303.2 420.2 303.3 439.2 303.5 454.1 303.7 439.7 303.9 434.5 304.1 462.2 304.2 445.2 304.4 429.7 304.6 428.8 304.8 443.0 305.0 438.1 305.2 419.5 305.3 419.7 305.5 427.5 305.7 432.2 305.9 424.6 306.1 436.4 306.3 435.2 306.4 440.6 306.6 431.0 306.8 432.0 307.0 408.0 307.2 437.1 307.3 424.7 307.5 424.2 307.7 437.4 307.9 424.9 308.1 454.6 308.3 433.9 308.4 426.8 308.6 455.4 308.8 444.1 309.0 424.2 309.2 435.5 309.4 442.6 309.5 436.0 309.7 437.3 309.9 426.1 310.1 428.4 310.3 434.8 310.5 438.1 310.6 432.9 310.8 421.1 311.0 429.5 311.2 427.1 311.4 433.8 311.5 443.6 311.7 438.8 311.9 427.5 312.1 432.4 312.3 441.1 312.5 447.2 312.6 433.0 312.8 436.9 313.0 437.0 313.2 436.8 313.4 431.5 313.6 430.9 313.7 424.9 313.9 424.4 314.1 420.2 314.3 423.6 314.5 432.0 314.6 429.0 314.8 423.9 315.0 430.1 315.2 423.0 315.4 418.1 315.6 434.0 315.7 442.0 315.9 418.5 316.1 428.1 316.3 422.8 316.5 439.1 316.7 414.5 316.8 422.1 317.0 428.5 317.2 429.7 317.4 425.3 317.6 426.8 317.8 427.0 317.9 433.2 318.1 414.0 318.3 424.2 318.5 423.3 318.7 423.3 318.8 442.8 319.0 420.5 319.2 427.4 319.4 427.3 319.6 424.6 319.8 432.7 319.9 418.5 320.1 430.2 320.3 431.5 320.5 430.8 320.7 422.6 320.9 417.8 321.0 427.9 321.2 434.8 321.4 415.1 321.6 431.5 321.8 414.4 321.9 424.1 322.1 429.1 322.3 428.6 322.5 420.2 322.7 416.9 322.9 425.1 323.0 416.3 323.2 407.6 323.4 424.8 323.6 431.8 323.8 430.9 324.0 433.3 324.1 427.4 324.3 427.9 324.5 432.3 324.7 418.4 324.9 441.7 325.1 432.1 325.2 407.3 325.4 414.5 325.6 418.2 325.8 418.5 326.0 408.7 326.1 417.8 326.3 421.2 326.5 431.0 326.7 422.8 326.9 428.0 327.1 428.1 327.2 428.3 327.4 423.5 327.6 425.5 327.8 416.5 328.0 432.0 328.2 423.2 328.3 408.0 328.5 420.7 328.7 412.0 328.9 412.1 329.1 410.5 329.2 414.4 329.4 429.2 329.6 420.8 329.8 421.2 330.0 429.0 330.2 420.9 330.3 426.0 330.5 428.6 330.7 415.1 330.9 416.9 331.1 421.6 331.3 423.9 331.4 421.5 331.6 421.1 331.8 421.9 332.0 420.1 332.2 423.3 332.4 417.9 332.5 417.2 332.7 418.5 332.9 425.4 333.1 424.9 333.3 417.3 333.4 421.3 333.6 419.8 333.8 436.1 334.0 437.1 334.2 416.2 334.4 416.1 334.5 408.8 334.7 413.3 334.9 416.6 335.1 418.0 335.3 427.6 335.5 412.3 335.6 422.2 335.8 414.9 336.0 417.0 336.2 416.4 336.4 412.3 336.5 421.3 336.7 420.6 336.9 423.5 337.1 420.4 337.3 407.1 337.5 420.1 337.6 410.1 337.8 412.4 338.0 413.0 338.2 412.4 338.4 423.8 338.6 414.8 338.7 406.9 338.9 420.9 339.1 416.5 339.3 420.2 339.5 413.7 339.7 422.1 339.8 404.8 340.0 415.9 340.2 419.5 340.4 392.2 340.6 390.7 340.7 394.0 340.9 400.5 341.1 411.6 341.3 412.9 341.5 407.5 341.7 405.7 341.8 404.9 342.0 408.4 342.2 411.5 342.4 409.0 342.6 400.5 342.8 398.7 342.9 411.7 343.1 415.7 343.3 404.1 343.5 401.3 343.7 397.2 343.8 406.8 344.0 400.7 344.2 402.9 344.4 403.1 344.6 416.2 344.8 395.0 344.9 394.2 345.1 389.9 345.3 397.0 345.5 386.7 345.7 372.9 345.9 386.5 346.0 381.9 346.2 389.7 346.4 406.4 346.6 400.4 346.8 400.2 347.0 383.1 347.1 382.5 347.3 382.7 347.5 372.7 347.7 378.7 347.9 375.9 348.0 388.9 348.2 385.8 348.4 377.8 348.6 377.5 348.8 383.8 349.0 384.1 349.1 404.1 349.3 410.8 349.5 424.3 349.7 410.0 349.9 400.6 350.1 390.7 350.2 382.2 350.4 371.7 350.6 385.5 350.8 383.3 351.0 374.9 351.1 382.3 351.3 371.5 351.5 379.2 351.7 379.9 351.9 378.7 352.1 372.1 352.2 377.5 352.4 378.2 352.6 379.6 352.8 388.2 353.0 384.9 353.2 373.5 353.3 376.8 353.5 379.2 353.7 381.7 353.9 393.9 354.1 398.9 354.2 411.3 354.4 404.5 354.6 402.0 354.8 390.7 355.0 381.6 355.2 382.4 355.3 377.1 355.5 377.8 355.7 378.3 355.9 374.0 356.1 386.5 356.3 387.0 356.4 377.2 356.6 375.8 356.8 371.2 357.0 376.7 357.2 376.4 357.4 383.9 357.5 376.9 357.7 377.3 357.9 384.8 358.1 384.2 358.3 381.1 358.4 379.5 358.6 393.3 358.8 380.6 359.0 380.0 359.2 381.8 359.4 380.0 359.5 379.2 359.7 385.4 359.9 379.4 360.1 382.2 360.3 385.2 360.5 380.4 360.6 375.1 360.8 387.3 361.0 388.1 361.2 388.2 361.4 373.2 361.6 382.4 361.7 381.7 361.9 384.9 362.1 386.1 362.3 392.3 362.5 387.8 362.6 395.3 362.8 412.9 363.0 413.1 363.2 408.3 363.4 397.3 363.6 388.8 363.7 381.1 363.9 378.6 364.1 379.4 364.3 378.2 364.5 388.1 364.7 385.5 364.8 378.7 365.0 381.9 365.2 382.9 365.4 390.7 365.6 390.1 365.7 379.9 365.9 381.4 366.1 383.9 366.3 384.4 366.5 389.6 366.7 381.4 366.8 378.9 367.0 376.7 367.2 383.1 367.4 384.2 367.6 387.8 367.8 379.0 367.9 377.2 368.1 386.2 368.3 382.7 368.5 383.3 368.7 385.8 368.9 393.0 369.0 384.8 369.2 381.0 369.4 388.9 369.6 386.7 369.8 396.2 369.9 379.2 370.1 382.5 370.3 384.5 370.5 386.0 370.7 387.7 370.9 385.8 371.0 386.8 371.2 386.6 371.4 385.8 371.6 385.1 371.8 379.8 372.0 390.8 372.1 384.4 372.3 387.6 372.5 389.4 372.7 394.0 372.9 383.2 373.0 389.1 373.2 388.4 373.4 384.1 373.6 390.0 373.8 386.1 374.0 386.5 374.1 383.4 374.3 382.7 374.5 389.4 374.7 383.0 374.9 386.6 375.1 385.8 375.2 387.0 375.4 383.5 375.6 390.6 375.8 385.5 376.0 382.3 376.2 387.5 376.3 379.3 376.5 389.1 376.7 385.7 376.9 388.2 377.1 388.7 377.2 390.5 377.4 388.5 377.6 387.0 377.8 389.7 378.0 384.1 378.2 382.1 378.3 392.8 378.5 384.9 378.7 387.3 378.9 387.3 379.1 379.9 379.3 384.3 379.4 387.3 379.6 387.9 379.8 395.9 380.0 386.0 380.2 391.1 380.3 388.0 380.5 388.2 380.7 385.2 380.9 381.6 381.1 385.3 381.3 384.9 381.4 391.2 381.6 390.9 381.8 391.8 382.0 400.1 382.2 388.4 382.4 396.2 382.5 396.2 382.7 385.3 382.9 383.1 383.1 392.2 383.3 392.0 383.5 380.0 383.6 389.8 383.8 396.6 384.0 392.2 384.2 383.8 384.4 388.2 384.5 387.9 384.7 386.3 384.9 387.0 385.1 387.0 385.3 384.4 385.5 370.5 385.6 360.6 385.8 374.9 386.0 377.1 386.2 386.4 386.4 390.0 386.6 389.4 386.7 382.3 386.9 367.9 387.1 352.2 387.3 329.3 387.5 327.1 387.6 351.0 387.8 377.4 388.0 389.2 388.2 397.5 388.4 394.4 388.6 387.1 388.7 392.1 388.9 394.4 389.1 393.5 389.3 391.9 389.5 391.8 389.7 392.5 389.8 393.7 390.0 389.4 390.2 386.7 390.4 393.2 390.6 393.2 390.8 388.0 390.9 396.3 391.1 393.8 391.3 393.3 391.5 391.8 391.7 393.3 391.8 395.3 392.0 391.8 392.2 396.5 392.4 398.2 392.6 399.2 392.8 390.7 392.9 398.4 393.1 391.8 393.3 391.2 393.5 390.9 393.7 394.0 393.9 395.3 394.0 393.5 394.2 395.6 394.4 397.8 394.6 390.2 394.8 396.8 394.9 388.7 395.1 392.6 395.3 395.7 395.5 393.0 395.7 390.6 395.9 398.5 396.0 397.1 396.2 397.5 396.4 393.8 396.6 393.0 396.8 394.1 397.0 396.4 397.1 395.8 397.3 390.6 397.5 390.8 397.7 393.8 397.9 398.3 398.1 392.5 398.2 393.6 398.4 393.8 398.6 389.4 398.8 392.3 399.0 397.8 399.1 397.9 399.3 390.8 399.5 394.4 399.7 392.3 399.9 395.3 400.1 397.8 400.2 393.9 400.4 389.9 400.6 393.6 400.8 398.0 401.0 395.5 401.2 396.1 401.3 394.1 401.5 391.6 401.7 388.7 401.9 394.1 402.1 396.1 402.2 394.7 402.4 394.9 402.6 396.3 402.8 395.1 403.0 395.2 403.2 398.8 403.3 393.6 403.5 396.3 403.7 398.2 403.9 393.8 404.1 396.7 404.3 390.1 404.4 393.9 404.6 395.1 404.8 397.7 405.0 396.6 405.2 392.8 405.4 393.5 405.5 393.0 405.7 401.6 405.9 394.7 406.1 392.8 406.3 394.3 406.4 395.4 406.6 392.5 406.8 398.2 407.0 398.7 407.2 395.6 407.4 392.5 407.5 394.9 407.7 396.9 407.9 395.5 408.1 395.2 408.3 400.2 408.5 404.9 408.6 399.6 408.8 401.0 409.0 398.3 409.2 400.2 409.4 399.3 409.5 395.5 409.7 396.5 409.9 396.9 410.1 392.0 410.3 398.4 410.5 398.2 410.6 393.3 410.8 400.5 411.0 402.0 411.2 393.3 411.4 396.2 411.6 395.4 411.7 395.3 411.9 394.5 412.1 398.6 412.3 397.4 412.5 400.4 412.6 396.7 412.8 396.5 413.0 398.5 413.2 395.3 413.4 388.6 413.6 400.8 413.7 395.1 413.9 394.9 414.1 394.7 414.3 400.3 414.5 394.5 414.7 396.1 414.8 398.4 415.0 399.0 415.2 397.3 415.4 395.2 415.6 395.3 415.8 391.1 415.9 398.9 416.1 396.0 416.3 399.0 416.5 395.4 416.7 397.3 416.8 399.5 417.0 401.7 417.2 400.1 417.4 397.2 417.6 393.7 417.8 395.9 417.9 401.8 418.1 399.9 418.3 398.5 418.5 399.1 418.7 398.8 418.9 397.5 419.0 401.0 419.2 406.8 419.4 413.8 419.6 410.8 419.8 413.2 420.0 405.4 420.1 401.0 420.3 404.1 420.5 399.9 420.7 400.3 420.9 393.7 421.0 397.9 421.2 404.7 421.4 398.0 421.6 398.1 421.8 399.9 422.0 400.5 422.1 397.7 422.3 397.6 422.5 398.4 422.7 402.7 422.9 400.6 423.1 404.6 423.2 404.5 423.4 402.0 423.6 403.5 423.8 401.8 424.0 393.6 424.1 399.4 424.3 403.5 424.5 421.9 424.7 409.0 424.9 405.2 425.1 407.4 425.2 399.0 425.4 402.5 425.6 399.8 425.8 392.1 426.0 400.2 426.2 400.6 426.3 399.9 426.5 401.6 426.7 403.1 426.9 401.3 427.1 397.4 427.2 401.4 427.4 404.6 427.6 404.3 427.8 399.5 428.0 400.7 428.2 399.3 428.3 399.3 428.5 397.3 428.7 407.1 428.9 398.2 429.1 399.6 429.3 398.5 429.4 405.8 429.6 396.9 429.8 405.0 430.0 403.8 430.2 398.4 430.4 401.9 430.5 395.8 430.7 400.4 430.9 403.9 431.1 400.5 431.3 402.2 431.4 396.6 431.6 396.4 431.8 398.9 432.0 402.3 432.2 400.9 432.4 398.3 432.5 403.7 432.7 403.8 432.9 399.2 433.1 399.7 433.3 402.6 433.5 402.8 433.6 407.6 433.8 398.3 434.0 401.1 434.2 403.2 434.4 400.5 434.6 399.0 434.7 392.4 434.9 397.1 435.1 404.6 435.3 396.6 435.5 398.5 435.6 405.4 435.8 410.1 436.0 399.8 436.2 404.3 436.4 402.9 436.6 404.0 436.7 398.8 436.9 398.1 437.1 399.9 437.3 402.6 437.5 401.4 437.7 400.3 437.8 406.5 438.0 398.6 438.2 403.1 438.4 401.5 438.6 402.0 438.7 399.9 438.9 399.5 439.1 396.3 439.3 403.6 439.5 405.2 439.7 402.4 439.8 404.7 440.0 400.5 440.2 405.3 440.4 402.7 440.6 400.6 440.8 400.5 440.9 402.8 441.1 399.5 441.3 399.9 441.5 408.3 441.7 402.5 441.9 403.0 442.0 404.2 442.2 405.1 442.4 403.1 442.6 402.0 442.8 401.9 442.9 397.9 443.1 396.5 443.3 395.0 443.5 382.4 443.7 353.2 443.9 322.8 444.0 291.5 444.2 286.8 444.4 307.6 444.6 338.4 444.8 356.7 445.0 374.6 445.1 381.9 445.3 394.9 445.5 398.8 445.7 401.9 445.9 405.8 446.0 410.6 446.2 400.7 446.4 402.2 446.6 402.8 446.8 405.1 447.0 404.1 447.1 401.9 447.3 403.2 447.5 400.1 447.7 403.1 447.9 405.9 448.1 402.0 448.2 405.6 448.4 403.4 448.6 409.2 448.8 405.1 449.0 402.3 449.1 404.5 449.3 400.4 449.5 395.4 449.7 394.1 449.9 388.0 450.1 393.7 450.2 394.7 450.4 396.9 450.6 405.0 450.8 406.3 451.0 402.2 451.2 405.2 451.3 400.8 451.5 404.9 451.7 405.3 451.9 402.1 452.1 404.2 452.3 400.6 452.4 408.0 452.6 403.8 452.8 403.1 453.0 403.4 453.2 401.6 453.3 401.9 453.5 404.5 453.7 406.0 453.9 401.8 454.1 404.3 454.3 401.8 454.4 400.8 454.6 404.0 454.8 407.0 455.0 405.3 455.2 402.5 455.4 405.3 455.5 401.5 455.7 404.6 455.9 404.3 456.1 406.4 456.3 405.0 456.5 401.8 456.6 405.7 456.8 405.7 457.0 406.9 457.2 402.7 457.4 408.9 457.5 406.6 457.7 402.4 457.9 401.0 458.1 405.6 458.3 390.2 458.5 410.5 458.6 403.2 458.8 404.6 459.0 408.8 459.2 410.4 459.4 407.0 459.6 404.9 459.7 396.3 459.9 405.3 460.1 400.1 460.3 403.7 460.5 409.4 460.6 406.7 460.8 407.1 461.0 403.0 461.2 407.2 461.4 403.3 461.6 405.8 461.7 399.7 461.9 406.2 462.1 406.0 462.3 406.3 462.5 405.6 462.7 399.4 462.8 407.3 463.0 408.2 463.2 406.4 463.4 404.1 463.6 408.7 463.8 404.0 463.9 404.2 464.1 406.7 464.3 407.0 464.5 408.5 464.7 407.1 464.8 408.5 465.0 403.0 465.2 401.9 465.4 406.9 465.6 406.2 465.8 411.1 465.9 407.3 466.1 404.9 466.3 405.1 466.5 405.5 466.7 403.6 466.9 405.7 467.0 407.1 467.2 401.9 467.4 411.4 467.6 409.5 467.8 408.5 467.9 408.5 468.1 408.6 468.3 407.2 468.5 408.5 468.7 406.7 468.9 405.0 469.0 406.6 469.2 406.3 469.4 409.2 469.6 409.8 469.8 407.6 470.0 404.4 470.1 405.9 470.3 404.1 470.5 404.4 470.7 404.0 470.9 409.2 471.1 403.8 471.2 405.0 471.4 401.5 471.6 405.4 471.8 406.0 472.0 407.2 472.1 406.4 472.3 411.1 472.5 407.4 472.7 406.9 472.9 404.2 473.1 408.5 473.2 406.5 473.4 402.1 473.6 408.3 473.8 404.7 474.0 408.4 474.2 407.3 474.3 405.8 474.5 404.7 474.7 408.4 474.9 409.8 475.1 403.1 475.2 406.7 475.4 405.1 475.6 404.9 475.8 405.4 476.0 408.1 476.2 407.9 476.3 411.7 476.5 407.2 476.7 409.0 476.9 408.0 477.1 403.1 477.3 406.3 477.4 408.1 477.6 411.8 477.8 406.4 478.0 404.3 478.2 410.4 478.4 407.1 478.5 409.5 478.7 408.5 478.9 409.0 479.1 412.2 479.3 409.4 479.4 412.3 479.6 404.5 479.8 405.5 480.0 408.1 480.2 407.6 480.4 408.2 480.5 407.9 480.7 407.9 480.9 408.9 481.1 408.7 481.3 411.6 481.5 410.7 481.6 409.6 481.8 407.5 482.0 409.0 482.2 403.1 482.4 408.6 482.5 409.2 482.7 407.2 482.9 405.8 483.1 403.7 483.3 406.1 483.5 410.1 483.6 409.1 483.8 405.9 484.0 407.9 484.2 406.4 484.4 408.6 484.6 404.2 484.7 404.6 484.9 405.4 485.1 407.9 485.3 412.5 485.5 411.9 485.6 407.7 485.8 407.0 486.0 416.2 486.2 410.0 486.4 405.9 486.6 406.4 486.7 410.1 486.9 407.1 487.1 408.6 487.3 409.2 487.5 405.7 487.7 405.6 487.8 409.8 488.0 410.8 488.2 411.7 488.4 412.0 488.6 404.9 488.8 403.5 488.9 407.7 489.1 405.6 489.3 410.0 489.5 408.4 489.7 406.0 489.8 407.5 490.0 408.5 490.2 418.5 490.4 412.3 490.6 409.7 490.8 410.2 490.9 409.0 491.1 410.5 491.3 409.4 491.5 408.7 491.7 407.5 491.9 408.6 492.0 410.1 492.2 409.4 492.4 406.4 492.6 409.2 492.8 411.2 493.0 411.3 493.1 408.2 493.3 407.7 493.5 406.1 493.7 410.2 493.9 406.0 494.0 410.5 494.2 410.3 494.4 411.2 494.6 408.5 494.8 407.3 495.0 410.0 495.1 411.2 495.3 413.8 495.5 409.6 495.7 410.8 495.9 410.4 496.1 411.5 496.2 412.0 496.4 410.9 496.6 408.7 496.8 407.4 497.0 409.8 497.1 408.9 497.3 410.2 497.5 410.0 497.7 413.1 497.9 407.4 498.1 408.1 498.2 405.7 498.4 411.0 498.6 409.1 498.8 411.8 499.0 408.9 499.2 409.9 499.3 408.0 499.5 410.1 499.7 408.3 499.9 411.3 500.1 408.7 500.2 411.0 500.4 411.4 500.6 410.1 500.8 409.4 501.0 413.8 501.2 414.0 501.3 409.8 501.5 410.4 501.7 415.4 501.9 414.7 502.1 412.4 502.3 409.8 502.4 410.2 502.6 408.3 502.8 407.9 503.0 405.0 503.2 414.4 503.4 411.0 503.5 408.2 503.7 413.9 503.9 414.3 504.1 410.2 504.3 407.9 504.4 407.4 504.6 414.9 504.8 413.4 505.0 410.7 505.2 411.8 505.4 409.7 505.5 410.3 505.7 406.3 505.9 410.9 506.1 410.3 506.3 410.6 506.5 408.0 506.6 413.5 506.8 409.8 507.0 412.6 507.2 414.1 507.4 407.7 507.6 409.3 507.7 407.2 507.9 410.0 508.1 409.1 508.3 410.5 508.5 409.5 508.6 412.0 508.8 406.8 509.0 413.3 509.2 406.9 509.4 411.6 509.6 408.9 509.7 410.7 509.9 409.9 510.1 407.4 510.3 410.7 510.5 413.4 510.7 410.5 510.8 409.5 511.0 417.2 511.2 408.8 511.4 408.5 511.6 415.7 511.7 411.7 511.9 409.3 512.1 414.2 512.3 412.3 512.5 412.1 512.7 409.8 512.8 408.4 513.0 411.2 513.2 411.0 513.4 408.9 513.6 409.9 513.8 411.6 513.9 408.2 514.1 415.1 514.3 411.4 514.5 412.9 514.7 413.2 514.9 411.6 515.0 412.0 515.2 406.1 515.4 410.6 515.6 411.6 515.8 398.4 515.9 411.4 516.1 419.7 516.3 415.5 516.5 413.9 516.7 416.4 516.9 413.1 517.0 414.1 517.2 411.6 517.4 416.4 517.6 417.1 517.8 413.6 518.0 411.7 518.1 408.9 518.3 412.8 518.5 413.9 518.7 409.8 518.9 411.9 519.0 407.5 519.2 412.1 519.4 416.7 519.6 413.8 519.8 414.3 520.0 415.6 520.1 414.6 520.3 415.4 520.5 415.6 520.7 417.0 520.9 414.7 521.1 413.9 521.2 413.4 521.4 412.6 521.6 417.3 521.8 416.7 522.0 414.8 522.1 412.0 522.3 416.3 522.5 413.8 522.7 412.2 522.9 408.0 523.1 412.3 523.2 414.2 523.4 410.3 523.6 412.5 523.8 413.7 524.0 410.2 524.2 415.1 524.3 412.4 524.5 412.6 524.7 410.6 524.9 415.7 525.1 416.1 525.3 413.9 525.4 413.7 525.6 412.9 525.8 414.0 526.0 412.1 526.2 411.5 526.3 412.6 526.5 415.8 526.7 410.4 526.9 417.0 527.1 413.8 527.3 411.1 527.4 414.8 527.6 410.1 527.8 408.6 528.0 409.3 528.2 412.1 528.4 410.7 528.5 414.2 528.7 411.9 528.9 411.7 529.1 412.5 529.3 412.3 529.5 413.1 529.6 417.4 529.8 411.6 530.0 411.9 530.2 407.7 530.4 411.1 530.5 412.8 530.7 410.9 530.9 411.7 531.1 413.4 531.3 414.4 531.5 417.2 531.6 413.5 531.8 409.9 532.0 418.5 532.2 416.4 532.4 412.2 532.6 413.6 532.7 413.0 532.9 418.5 533.1 415.4 533.3 412.6 533.5 412.4 533.6 413.0 533.8 415.9 534.0 412.4 534.2 416.6 534.4 419.0 534.6 416.3 534.7 409.6 534.9 413.5 535.1 411.4 535.3 415.9 535.5 407.1 535.7 408.3 535.8 413.9 536.0 414.6 536.2 407.6 536.4 414.7 536.6 408.4 536.8 414.3 536.9 419.4 537.1 410.8 537.3 412.4 537.5 412.0 537.7 415.0 537.8 414.3 538.0 411.5 538.2 415.8 538.4 418.5 538.6 411.5 538.8 415.2 538.9 410.6 539.1 414.8 539.3 414.7 539.5 414.3 539.7 419.4 539.9 410.9 540.0 415.4 540.2 414.4 540.4 410.5 540.6 413.9 540.8 412.0 540.9 413.4 541.1 412.3 541.3 413.5 541.5 411.3 541.7 414.5 541.9 412.9 542.0 415.7 542.2 411.1 542.4 419.2 542.6 413.5 542.8 413.1 543.0 413.2 543.1 414.1 543.3 410.9 543.5 409.1 543.7 415.7 543.9 418.9 544.0 417.0 544.2 416.5 544.4 414.9 544.6 414.8 544.8 412.1 545.0 415.8 545.1 415.0 545.3 414.7 545.5 417.1 545.7 415.8 545.9 408.5 546.1 415.3 546.2 417.4 546.4 420.2 546.6 412.4 546.8 415.6 547.0 416.3 547.2 408.9 547.3 411.3 547.5 418.8 547.7 415.5 547.9 412.3 548.1 412.6 548.2 417.2 548.4 410.3 548.6 410.0 548.8 417.1 549.0 418.6 549.2 417.7 549.3 412.7 549.5 411.7 549.7 413.9 549.9 415.8 550.1 414.6 550.3 413.1 550.4 417.4 550.6 418.7 550.8 414.9 551.0 411.8 551.2 414.2 551.4 414.0 551.5 415.4 551.7 410.2 551.9 414.3 552.1 407.6 552.3 406.3 552.4 404.0 552.6 406.5 552.8 404.7 553.0 409.6 553.2 413.4 553.4 412.5 553.5 414.7 553.7 416.2 553.9 416.5 554.1 413.3 554.3 417.4 554.5 415.8 554.6 415.9 554.8 414.6 555.0 416.0 555.2 410.5 555.4 419.8 555.5 414.4 555.7 415.9 555.9 413.2 556.1 419.6 556.3 412.9 556.5 418.9 556.6 414.0 556.8 414.3 557.0 415.4 557.2 417.2 557.4 417.4 557.6 415.3 557.7 417.3 557.9 420.2 558.1 419.9 558.3 413.8 558.5 413.8 558.6 414.6 558.8 415.8 559.0 415.0 559.2 414.7 559.4 415.3 559.6 417.7 559.7 417.6 559.9 418.5 560.1 415.4 560.3 418.1 560.5 416.2 560.7 412.8 560.8 416.8 561.0 413.7 561.2 412.3 561.4 420.3 561.6 419.5 561.8 415.0 561.9 417.8 562.1 414.9 562.3 414.5 562.5 417.3 562.7 414.1 562.8 411.9 563.0 413.7 563.2 418.0 563.4 416.3 563.6 417.2 563.8 412.4 563.9 416.6 564.1 417.8 564.3 416.2 564.5 415.2 564.7 417.3 564.9 416.2 565.0 416.5 565.2 414.8 565.4 414.3 565.6 415.9 565.8 417.7 566.0 415.7 566.1 418.7 566.3 414.2 566.5 415.9 566.7 416.2 566.9 422.4 567.0 411.3 567.2 413.4 567.4 413.8 567.6 416.5 567.8 415.2 568.0 410.1 568.1 418.4 568.3 415.1 568.5 415.4 568.7 416.5 568.9 416.0 569.1 419.1 569.2 415.3 569.4 419.9 569.6 421.9 569.8 414.9 570.0 418.7 570.1 421.6 570.3 416.5 570.5 415.5 570.7 419.0 570.9 412.9 571.1 416.2 571.2 418.0 571.4 420.3 571.6 417.4 571.8 417.7 572.0 415.8 572.2 414.9 572.3 417.3 572.5 416.3 572.7 414.0 572.9 415.8 573.1 417.8 573.2 415.7 573.4 418.3 573.6 416.0 573.8 417.0 574.0 419.6 574.2 415.7 574.3 416.9 574.5 415.4 574.7 420.2 574.9 414.6 575.1 414.5 575.3 418.0 575.4 417.4 575.6 417.1 575.8 417.3 576.0 415.3 576.2 418.9 576.4 419.9 576.5 417.8 576.7 412.9 576.9 418.2 577.1 419.5 577.3 419.3 577.4 416.8 577.6 414.4 577.8 418.8 578.0 416.6 578.2 416.5 578.4 415.9 578.5 416.6 578.7 414.5 578.9 415.4 579.1 418.5 579.3 411.5 579.5 420.4 579.6 420.4 579.8 415.0 580.0 417.0 580.2 418.1 580.4 417.1 580.5 416.0 580.7 418.6 580.9 419.1 581.1 420.0 581.3 419.6 581.5 419.5 581.6 415.0 581.8 417.1 582.0 416.5 582.2 419.1 582.4 415.4 582.6 421.5 582.7 416.7 582.9 416.2 583.1 419.1 583.3 420.1 583.5 416.5 583.7 419.4 583.8 419.8 584.0 417.8 584.2 420.4 584.4 418.1 584.6 413.1 584.7 418.8 584.9 415.7 585.1 420.3 585.3 417.7 585.5 418.6 585.7 418.4 585.8 416.3 586.0 413.1 586.2 418.4 586.4 415.1 586.6 417.3 586.8 416.4 586.9 419.2 587.1 419.8 587.3 418.6 587.5 419.9 587.7 418.2 587.9 420.6 588.0 418.2 588.2 417.9 588.4 414.2 588.6 414.5 588.8 417.4 588.9 419.8 589.1 417.2 589.3 416.8 589.5 419.1 589.7 420.6 589.9 422.7 590.0 418.6 590.2 414.0 590.4 419.0 590.6 417.6 590.8 417.7 591.0 417.5 591.1 416.8 591.3 423.3 591.5 419.0 591.7 417.8 591.9 418.8 592.0 415.8 592.2 419.4 592.4 416.3 592.6 414.3 592.8 418.9 593.0 418.2 593.1 419.0 593.3 416.5 593.5 423.3 593.7 421.8 593.9 419.1 594.1 416.5 594.2 417.2 594.4 420.6 594.6 415.0 594.8 418.6 595.0 420.4 595.1 417.7 595.3 416.0 595.5 419.2 595.7 422.6 595.9 420.4 596.1 418.9 596.2 416.9 596.4 421.4 596.6 418.5 596.8 421.8 597.0 418.9 597.2 422.2 597.3 420.2 597.5 422.7 597.7 421.4 597.9 427.4 598.1 423.7 598.3 416.3 598.4 416.3 598.6 417.6 598.8 419.0 599.0 413.6 599.2 415.7 599.3 411.3 599.5 406.6 599.7 406.3 599.9 402.5 600.1 407.3 600.3 409.9 600.4 407.6 600.6 418.3 600.8 420.2 601.0 417.2 601.2 423.7 601.4 417.4 601.5 419.6 601.7 417.6 601.9 418.7 602.1 419.2 602.3 416.6 602.5 420.8 602.6 420.7 602.8 417.6 603.0 421.3 603.2 416.4 603.4 416.5 603.5 418.4 603.7 419.6 603.9 421.3 604.1 412.8 604.3 421.5 604.5 421.8 604.6 417.8 604.8 419.2 605.0 420.2 605.2 420.6 605.4 421.9 605.6 423.1 605.7 422.7 605.9 419.6 606.1 418.5 606.3 418.3 606.5 421.1 606.6 426.3 606.8 419.9 607.0 421.4 607.2 427.3 607.4 417.9 607.6 420.6 607.7 421.2 607.9 420.6 608.1 420.8 608.3 420.5 608.5 420.8 608.7 421.0 608.8 419.7 609.0 420.2 609.2 415.5 609.4 420.8 609.6 422.3 609.8 422.6 609.9 420.3 610.1 421.0 610.3 420.7 610.5 421.8 610.7 421.8 610.8 419.6 611.0 418.2 611.2 420.6 611.4 421.6 611.6 424.1 611.8 424.0 611.9 421.2 612.1 421.9 612.3 421.5 612.5 423.9 612.7 421.6 612.9 425.9 613.0 424.1 613.2 423.3 613.4 420.2 613.6 423.0 613.8 423.9 613.9 421.1 614.1 421.9 614.3 419.5 614.5 420.9 614.7 421.1 614.9 421.9 615.0 419.9 615.2 423.1 615.4 425.0 615.6 419.4 615.8 422.7 616.0 421.5 616.1 420.3 616.3 419.5 616.5 428.7 616.7 424.5 616.9 419.3 617.0 426.1 617.2 421.1 617.4 423.1 617.6 424.3 617.8 422.6 618.0 426.2 618.1 421.3 618.3 419.5 618.5 425.6 618.7 423.8 618.9 419.4 619.1 421.3 619.2 422.9 619.4 418.7 619.6 425.9 619.8 422.5 620.0 421.6 620.2 422.5 620.3 419.9 620.5 425.6 620.7 421.6 620.9 423.6 621.1 419.0 621.2 419.4 621.4 420.7 621.6 424.6 621.8 422.3 622.0 424.2 622.2 423.6 622.3 421.4 622.5 423.5 622.7 418.2 622.9 422.3 623.1 423.7 623.3 425.1 623.4 423.7 623.6 420.0 623.8 421.3 624.0 419.3 624.2 419.6 624.4 421.5 624.5 424.4 624.7 423.2 624.9 422.8 625.1 426.9 625.3 422.4 625.4 425.6 625.6 423.4 625.8 424.5 626.0 421.9 626.2 417.1 626.4 426.0 626.5 423.3 626.7 418.4 626.9 425.3 627.1 423.6 627.3 423.3 627.5 422.3 627.6 426.8 627.8 422.3 628.0 421.5 628.2 417.0 628.4 423.1 628.5 424.3 628.7 422.6 628.9 429.1 629.1 422.2 629.3 419.4 629.5 423.2 629.6 423.3 629.8 423.9 630.0 423.0 630.2 426.3 630.4 419.8 630.6 424.5 630.7 424.4 630.9 419.4 631.1 423.2 631.3 424.1 631.5 419.2 631.6 422.6 631.8 420.7 632.0 424.2 632.2 427.0 632.4 422.5 632.6 419.7 632.7 424.2 632.9 422.3 633.1 421.6 633.3 422.7 633.5 423.2 633.7 421.7 633.8 423.0 634.0 424.8 634.2 421.1 634.4 421.8 634.6 422.8 634.8 422.0 634.9 429.9 635.1 423.1 635.3 423.6 635.5 428.3 635.7 418.8 635.8 422.8 636.0 424.7 636.2 424.5 636.4 423.0 636.6 423.7 636.8 427.4 636.9 424.7 637.1 422.7 637.3 422.4 637.5 421.9 637.7 426.5 637.9 425.5 638.0 423.2 638.2 425.4 638.4 423.5 638.6 425.9 638.8 422.5 639.0 423.7 639.1 422.4 639.3 423.6 639.5 425.5 639.7 426.5 639.9 423.5 640.0 425.0 640.2 427.1 640.4 424.9 640.6 421.9 640.8 420.9 641.0 422.0 641.1 420.7 641.3 424.7 641.5 424.2 641.7 426.1 641.9 425.7 642.1 420.2 642.2 422.9 642.4 422.5 642.6 418.0 642.8 419.6" fill="none" stroke="#000" stroke-width="1.1" stroke-linejoin="miter"/>
<polyline points="666.0 426.1 666.1 427.4 666.3 428.3 666.5 427.2 666.7 429.9 666.9 430.4 667.1 431.4 667.2 425.9 667.4 429.7 667.6 427.7 667.8 425.5 668.0 423.9 668.1 429.1 668.3 427.9 668.5 428.1 668.7 431.5 668.9 429.6 669.1 421.9 669.2 428.8 669.4 424.5 669.6 426.9 669.8 424.6 670.0 425.7 670.2 428.3 670.3 431.8 670.5 425.5 670.7 427.3 670.9 427.8 671.1 426.8 671.3 430.6 671.4 428.2 671.6 428.2 671.8 431.2 672.0 430.0 672.2 427.0 672.3 431.7 672.5 424.7 672.7 425.0 672.9 427.5 673.1 427.3 673.3 432.8 673.4 428.5 673.6 427.5 673.8 428.2 674.0 427.3 674.2 429.7 674.4 424.9 674.5 428.6 674.7 425.8 674.9 427.0 675.1 431.4 675.3 432.2 675.5 427.7 675.6 432.5 675.8 431.0 676.0 427.3 676.2 432.2 676.4 432.0 676.5 432.6 676.7 432.2 676.9 425.3 677.1 428.5 677.3 427.6 677.5 434.5 677.6 435.7 677.8 432.9 678.0 427.8 678.2 427.6 678.4 435.1 678.6 434.6" fill="none" stroke="#000" stroke-width="1.1" stroke-linejoin="miter"/>
<polyline points="266.8 463.3 267.7 461.2 269.0 455.1 269.2 454.9 269.4 454.9 270.1 456.6 270.5 456.8 271.6 455.1 272.5 455.2 272.9 455.1 273.4 453.6 273.8 447.4 274.3 428.8 274.9 445.6 275.0 447.4 275.2 447.8 275.8 447.2 276.7 445.2 277.2 444.4 277.6 444.5 278.5 446.5 278.9 446.6 279.2 445.6 280.3 440.4 280.9 439.6 281.2 439.7 281.6 440.4 282.7 443.4 283.1 443.5 284.2 440.1 285.4 438.5 286.9 432.9 287.5 431.9 287.8 432.4 288.9 434.9 289.3 434.9 290.0 434.0 290.6 434.0 292.6 435.2 293.7 437.2 294.0 437.4 294.4 437.0 295.5 434.4 296.2 433.4 296.8 433.1 297.1 433.2 298.0 435.1 298.4 435.4 299.3 434.0 299.7 433.8 300.8 435.9 301.5 436.5 302.2 436.0 303.2 434.2 303.5 434.0 304.4 436.0 304.8 436.4 305.7 435.2 306.1 435.1 306.6 431.1 306.8 431.3 307.3 436.2 309.2 433.2 309.9 432.4 311.4 432.6 312.6 433.9 313.2 434.0 313.7 432.7 314.6 428.5 315.0 427.6 315.4 427.4 316.3 428.4 316.7 428.3 317.9 424.3 318.3 423.8 318.7 424.1 319.4 425.0 319.8 425.1 321.2 423.2 322.1 423.7 322.5 423.7 324.5 422.4 326.1 421.7 327.4 423.2 327.8 422.8 330.7 416.6 330.9 416.6 331.3 417.2 332.2 420.2 332.7 420.9 333.1 420.6 334.0 418.8 334.5 418.2 335.1 418.1 336.0 418.3 338.2 417.5 339.7 415.4 340.0 413.5 340.6 396.7 340.7 397.2 341.3 411.6 341.5 411.9 342.6 407.1 342.8 407.2 343.1 412.9 343.8 399.3 344.0 398.6 344.2 399.9 344.6 406.7 345.9 377.8 346.4 402.6 346.6 404.9 347.1 385.4 347.3 383.9 348.2 382.4 348.4 382.2 348.6 382.3 348.8 383.5 349.5 418.3 350.1 387.4 350.2 382.5 350.6 380.4 351.3 380.2 352.6 380.8 353.2 380.6 353.3 380.7 353.5 381.6 354.2 407.1 354.4 406.3 355.0 383.6 355.2 380.9 355.5 379.9 357.4 380.1 359.0 381.0 361.6 381.4 361.9 381.6 362.1 382.2 362.5 388.5 363.0 408.8 363.6 389.8 363.7 385.7 364.1 383.6 365.4 382.9 365.9 382.7 366.7 382.9 367.9 383.8 369.4 383.4 371.0 385.6 371.4 385.6 372.5 385.3 374.1 386.3 377.1 386.5 377.6 386.8 379.4 388.4 380.0 388.6 380.9 388.4 381.3 389.1 382.0 395.4 382.2 395.2 382.9 390.0 383.1 389.9 384.5 390.3 384.7 390.2 384.9 389.2 385.6 369.6 386.2 388.1 386.4 390.2 386.6 389.6 386.9 370.7 387.3 329.9 387.5 332.4 388.0 387.1 388.4 392.0 389.7 391.4 390.2 391.4 392.0 392.7 395.3 394.3 397.5 394.2 399.1 394.9 401.2 394.8 403.2 395.5 405.0 395.7 406.1 395.5 407.9 396.6 411.0 397.4 413.0 397.5 414.7 398.4 416.7 398.2 417.4 398.4 418.5 399.1 418.9 400.1 419.6 410.0 420.3 400.3 420.5 399.6 420.9 399.3 422.1 399.3 424.0 400.5 424.7 400.7 427.2 400.3 429.6 400.3 430.9 400.9 432.2 401.1 433.6 402.0 434.0 400.8 434.6 396.4 435.3 401.8 435.6 402.4 436.4 402.5 437.8 402.1 441.3 403.6 441.9 403.5 442.6 403.1 442.9 401.9 443.3 393.5 444.0 292.0 444.2 288.2 445.0 373.4 445.5 399.4 445.7 402.4 445.9 403.3 446.0 403.5 446.8 403.3 447.3 403.3 448.6 404.3 448.8 404.3 449.0 403.9 449.9 393.0 450.1 393.1 450.2 394.3 451.0 403.7 451.3 404.7 452.1 405.1 452.6 405.1 454.1 404.5 455.4 404.9 457.7 405.0 459.2 405.7 460.5 405.8 461.7 406.2 463.0 406.0 464.7 406.5 466.5 405.9 467.8 406.6 470.7 407.1 472.9 406.8 475.4 407.3 477.8 408.3 479.3 408.1 480.5 408.4 481.8 408.0 483.3 408.6 484.9 408.3 486.6 408.9 489.3 408.3 491.1 408.9 492.8 408.8 494.0 409.7 495.0 410.0 498.8 409.5 500.2 410.3 501.5 410.4 503.2 410.9 505.0 410.5 506.1 410.8 507.6 410.7 509.0 411.2 510.5 411.2 511.9 411.5 513.2 411.3 515.6 412.6 516.3 416.0 516.5 415.9 517.2 412.7 517.6 412.4 519.4 412.0 519.8 412.0 520.0 412.2 520.7 415.7 520.9 415.7 521.4 413.1 521.8 412.6 523.2 413.0 524.9 412.9 527.4 413.3 529.8 412.6 532.2 414.0 534.2 413.6 534.7 413.1 535.7 409.4 536.6 412.9 536.9 413.3 537.5 413.6 539.5 413.6 540.9 414.2 542.6 413.9 545.9 415.1 549.3 414.3 551.2 414.6 551.5 413.7 551.7 412.4 552.4 403.6 553.5 414.5 553.9 415.0 555.5 415.7 557.4 415.4 558.8 415.8 560.3 415.7 561.9 416.1 563.4 415.9 564.9 416.5 566.7 416.8 570.5 416.8 572.3 417.6 573.8 417.3 576.5 417.4 578.7 417.1 580.4 417.6 587.7 418.2 589.1 418.7 590.4 418.5 591.7 418.7 593.3 418.4 595.5 419.2 597.9 419.3 598.3 419.2 598.6 418.9 599.0 417.1 599.9 406.0 601.0 419.1 601.4 420.2 602.1 420.7 602.5 420.8 602.8 420.4 603.5 417.4 603.7 416.8 603.9 416.8 604.8 420.5 605.2 421.0 605.6 421.1 608.8 421.2 610.8 421.5 612.7 421.4 613.9 421.8 615.4 421.5 616.9 422.1 617.6 422.2 618.9 422.2 620.7 421.7 622.2 422.3 623.6 422.5 626.0 423.3 628.5 422.9 630.4 423.4 632.0 422.9 634.4 423.7 636.6 423.7 637.9 424.1 640.0 423.7 643.5 424.5 645.3 424.0 649.4 424.7 652.1 425.7 653.5 425.5 655.0 425.9 657.9 426.0 659.9 426.9 665.0 427.7 666.5 428.2 668.0 428.2 670.5 428.9 671.1 428.9 671.4 428.5 672.3 426.4 672.7 426.8 673.4 429.0 673.8 429.4 676.9 429.8 678.6 430.5" fill="none" stroke="#f5a018" stroke-width="1.6"/>
<polyline points="266.8 463.3 267.7 461.2 269.0 455.1 269.2 454.9 269.4 454.9 270.3 456.8 270.7 456.6 271.6 455.1 272.5 455.2 272.9 455.1 273.4 453.8 274.7 448.6 275.8 447.2 277.1 444.5 277.4 444.4 277.6 444.5 278.5 446.5 278.9 446.6 279.1 446.2 280.2 441.1 280.7 439.7 281.1 439.6 281.4 440.0 282.5 443.1 282.9 443.6 283.1 443.5 284.2 440.1 285.4 438.5 286.9 432.9 287.3 432.0 287.5 431.9 287.8 432.4 288.9 434.9 289.3 434.9 290.0 434.0 290.6 434.0 292.6 435.2 293.7 437.2 294.0 437.4 294.4 437.0 295.5 434.4 296.2 433.4 296.8 433.1 297.1 433.2 298.0 435.1 298.4 435.4 299.3 434.0 299.7 433.8 300.8 435.9 301.5 436.5 302.2 436.0 303.2 434.2 303.5 434.0 304.6 436.3 305.0 436.3 305.5 435.4 305.9 435.3 306.8 438.8 307.7 435.8 309.7 432.6 310.3 432.4 311.4 432.6 312.6 433.9 313.2 434.0 313.7 432.7 314.6 428.5 315.0 427.6 315.4 427.4 316.3 428.4 316.7 428.3 317.9 424.3 318.3 423.8 318.7 424.1 319.4 425.0 319.8 425.1 321.2 423.2 322.1 423.7 322.5 423.7 324.5 422.4 326.1 421.7 327.4 423.2 327.8 422.8 330.7 416.6 330.9 416.6 331.3 417.2 332.2 420.2 332.7 420.9 333.1 420.6 334.0 418.8 334.5 418.2 335.1 418.1 336.0 418.3 338.2 417.5 339.7 415.4 340.4 413.7 341.5 411.9 342.6 407.1 342.8 407.2 343.1 412.9 343.8 399.3 344.0 398.6 344.2 399.9 344.6 406.7 345.1 392.4 345.7 389.6 345.9 389.2 346.0 390.6 346.6 404.9 347.1 385.4 347.5 383.4 348.4 382.2 348.6 382.3 348.8 383.5 349.0 388.1 349.5 418.3 350.2 382.5 350.6 380.4 351.1 380.2 352.4 380.7 353.3 380.7 353.5 381.6 354.2 407.1 354.4 406.3 355.0 383.6 355.3 380.1 355.7 379.9 357.4 380.1 359.0 381.0 361.6 381.4 361.9 381.6 362.3 384.0 362.5 388.5 363.0 408.8 363.6 389.8 363.9 384.1 364.1 383.6 365.2 383.0 366.1 382.7 366.8 383.0 367.9 383.8 369.4 383.4 371.0 385.6 371.4 385.6 372.5 385.3 374.1 386.3 375.1 386.2 377.2 386.5 379.4 388.4 380.0 388.6 380.9 388.4 381.1 388.6 381.4 391.7 382.0 405.0 382.7 391.2 383.1 389.9 386.2 391.0 388.0 392.2 389.7 391.4 390.2 391.4 392.0 392.7 395.3 394.3 397.5 394.2 399.1 394.9 401.2 394.8 403.2 395.5 405.0 395.7 406.1 395.5 407.9 396.6 411.0 397.4 413.0 397.5 414.7 398.4 416.7 398.2 417.2 398.3 418.5 399.1 418.9 400.1 419.6 410.0 420.3 400.3 420.7 399.3 421.6 399.2 422.5 399.5 424.5 400.7 425.4 400.7 427.2 400.3 429.6 400.3 430.9 400.9 432.2 401.1 433.8 402.2 434.9 402.2 436.2 402.6 437.8 402.1 441.3 403.6 441.9 403.5 443.1 403.0 445.1 403.7 447.1 403.3 449.1 404.6 450.8 404.5 452.3 405.1 454.1 404.5 455.4 404.9 457.7 405.0 459.2 405.7 460.5 405.8 461.7 406.2 463.0 406.0 464.7 406.5 466.5 405.9 467.8 406.6 470.7 407.1 472.9 406.8 475.4 407.3 477.8 408.3 479.3 408.1 480.5 408.4 481.8 408.0 483.3 408.6 484.9 408.3 486.6 408.9 489.3 408.3 491.1 408.9 492.8 408.8 494.0 409.7 495.0 410.0 498.8 409.5 500.2 410.3 501.5 410.4 503.2 410.9 505.0 410.5 506.1 410.8 507.6 410.7 509.0 411.2 510.5 411.2 511.9 411.5 513.2 411.3 515.6 412.6 516.3 416.0 516.5 415.9 517.2 412.7 517.6 412.4 519.6 412.0 520.0 412.2 520.1 412.8 520.7 415.7 520.9 415.7 521.4 413.1 521.8 412.6 523.2 413.0 524.9 412.9 527.4 413.3 529.8 412.6 532.4 414.0 536.4 413.2 537.8 413.7 539.5 413.6 540.8 414.2 542.8 414.0 545.9 415.1 549.7 414.3 552.6 415.2 554.5 415.2 555.7 415.7 557.4 415.4 558.8 415.8 560.3 415.7 561.9 416.1 563.4 415.9 564.9 416.5 566.7 416.8 570.5 416.8 572.3 417.6 573.8 417.3 576.5 417.4 578.7 417.1 580.4 417.6 587.7 418.2 589.1 418.7 590.4 418.5 591.7 418.7 593.3 418.4 595.7 419.2 599.0 419.3 602.5 420.8 603.7 420.6 605.6 421.1 608.8 421.2 610.8 421.5 612.7 421.4 613.9 421.8 615.4 421.5 616.9 422.1 617.6 422.2 618.9 422.2 620.7 421.7 622.2 422.3 623.6 422.5 625.8 423.2 628.5 422.9 630.4 423.4 632.0 422.9 634.4 423.7 636.6 423.7 637.9 424.1 640.0 423.7 643.5 424.5 645.3 424.0 649.4 424.7 652.1 425.7 653.5 425.5 655.0 425.9 657.9 426.0 659.9 426.9 665.0 427.7 666.5 428.2 668.0 428.2 670.2 428.9 673.1 429.5 676.9 429.8 678.6 430.5" fill="none" stroke="#c8281e" stroke-width="1.5" stroke-dasharray="2 1.2"/>
</g>
<rect x="268.6" y="323.9" width="9.2" height="20.9" fill="#fff"/>
<text x="276.9" y="344.3" font-size="10.4" fill="#9b2fae" transform="rotate(-90 276.9 344.3)" textLength="19.9" lengthAdjust="spacingAndGlyphs">C<tspan font-size="7.2"> III</tspan>]</text>
<rect x="301.3" y="361.5" width="9.2" height="21.0" fill="#fff"/>
<text x="309.6" y="382.0" font-size="10.4" fill="#9b2fae" transform="rotate(-90 309.6 382.0)" textLength="20.0" lengthAdjust="spacingAndGlyphs">Mg<tspan font-size="7.2"> II</tspan></text>
<rect x="322.4" y="358.2" width="9.2" height="26.5" fill="#fff"/>
<text x="330.7" y="384.2" font-size="10.4" fill="#4a38d4" transform="rotate(-90 330.7 384.2)" textLength="25.5" lengthAdjust="spacingAndGlyphs">[Ne<tspan font-size="7.2"> V</tspan>]</text>
<rect x="333.2" y="351.5" width="9.2" height="22.0" fill="#fff"/>
<text x="341.5" y="373.0" font-size="10.4" fill="#2c3ae4" transform="rotate(-90 341.5 373.0)" textLength="21.0" lengthAdjust="spacingAndGlyphs">[O<tspan font-size="7.2"> II</tspan>]</text>
<rect x="348.3" y="286.2" width="9.2" height="13.2" fill="#fff"/>
<text x="356.6" y="298.9" font-size="10.4" fill="#3aa0e6" transform="rotate(-90 356.6 298.9)" textLength="12.2" lengthAdjust="spacingAndGlyphs">Hδ</text>
<rect x="340.6" y="434.1" width="9.2" height="28.4" fill="#fff"/>
<text x="348.9" y="462.0" font-size="10.4" fill="#2e5ae6" transform="rotate(-90 348.9 462.0)" textLength="27.4" lengthAdjust="spacingAndGlyphs">[Ne<tspan font-size="7.2"> III</tspan>]</text>
<rect x="359.3" y="449.5" width="9.2" height="13.0" fill="#fff"/>
<text x="367.6" y="462.0" font-size="10.4" fill="#3cbad4" transform="rotate(-90 367.6 462.0)" textLength="12.0" lengthAdjust="spacingAndGlyphs">Hγ</text>
<rect x="371.9" y="446.5" width="9.2" height="16.0" fill="#fff"/>
<text x="380.2" y="462.0" font-size="10.4" fill="#3cc4b0" transform="rotate(-90 380.2 462.0)" textLength="15.0" lengthAdjust="spacingAndGlyphs">Hβ</text>
<rect x="383.9" y="436.5" width="9.2" height="26.0" fill="#fff"/>
<text x="392.2" y="462.0" font-size="10.4" fill="#28b050" transform="rotate(-90 392.2 462.0)" textLength="25.0" lengthAdjust="spacingAndGlyphs">[O<tspan font-size="7.2"> III</tspan>]</text>
<rect x="414.1" y="445.1" width="9.2" height="16.5" fill="#fff"/>
<text x="422.4" y="461.1" font-size="10.4" fill="#2ebc30" transform="rotate(-90 422.4 461.1)" textLength="15.5" lengthAdjust="spacingAndGlyphs">Na<tspan font-size="7.2"> I</tspan></text>
<rect x="427.4" y="442.7" width="9.2" height="18.9" fill="#fff"/>
<text x="435.7" y="461.1" font-size="10.4" fill="#38c238" transform="rotate(-90 435.7 461.1)" textLength="17.9" lengthAdjust="spacingAndGlyphs">[O<tspan font-size="7.2"> I</tspan>]</text>
<rect x="438.3" y="447.5" width="9.2" height="14.1" fill="#fff"/>
<text x="446.6" y="461.1" font-size="10.4" fill="#22dc22" transform="rotate(-90 446.6 461.1)" textLength="13.1" lengthAdjust="spacingAndGlyphs">Hα</text>
<rect x="447.4" y="442.2" width="9.2" height="19.4" fill="#fff"/>
<text x="455.7" y="461.1" font-size="10.4" fill="#70e444" transform="rotate(-90 455.7 461.1)" textLength="18.4" lengthAdjust="spacingAndGlyphs">[S<tspan font-size="7.2"> II</tspan>]</text>
<rect x="511.5" y="441.3" width="9.2" height="20.3" fill="#fff"/>
<text x="519.8" y="461.1" font-size="10.4" fill="#c8e82a" transform="rotate(-90 519.8 461.1)" textLength="19.3" lengthAdjust="spacingAndGlyphs">Ca<tspan font-size="7.2"> II</tspan></text>
<rect x="538.4" y="439.8" width="9.2" height="22.3" fill="#fff"/>
<text x="546.7" y="461.6" font-size="10.4" fill="#f2d820" transform="rotate(-90 546.7 461.6)" textLength="21.3" lengthAdjust="spacingAndGlyphs">[S<tspan font-size="7.2"> III</tspan>]</text>
<rect x="591.7" y="335.0" width="9.2" height="17.8" fill="#fff"/>
<text x="600.0" y="352.3" font-size="10.4" fill="#ffb830" transform="rotate(-90 600.0 352.3)" textLength="16.8" lengthAdjust="spacingAndGlyphs">He<tspan font-size="7.2"> I</tspan></text>
<rect x="601.1" y="360.3" width="9.2" height="20.7" fill="#fff"/>
<text x="609.4" y="380.5" font-size="10.4" fill="#ff8c28" transform="rotate(-90 609.4 380.5)" textLength="19.7" lengthAdjust="spacingAndGlyphs">Paγ</text>
<rect x="656.4" y="358.9" width="9.2" height="25.1" fill="#fff"/>
<text x="664.7" y="383.5" font-size="10.4" fill="#f04848" transform="rotate(-90 664.7 383.5)" textLength="24.1" lengthAdjust="spacingAndGlyphs">[Fe<tspan font-size="7.2"> II</tspan>]</text>
<rect x="668.7" y="361.8" width="9.2" height="19.2" fill="#fff"/>
<text x="677.0" y="380.5" font-size="10.4" fill="#e02828" transform="rotate(-90 677.0 380.5)" textLength="18.2" lengthAdjust="spacingAndGlyphs">Paβ</text>
<rect x="565.5" y="281.5" width="98" height="33" fill="#fff"/>
<rect x="569.5" y="284.6" width="10.8" height="5.3" fill="#b8b8b8"/>
<path d="M569.5 287.3h10.8" stroke="#111" stroke-width="1.1"/>
<path d="M569.5 297.3h10.8" stroke="#f5a018" stroke-width="1.3"/>
<path d="M569.3 307.4h11" stroke="#c8281e" stroke-width="1.4" stroke-dasharray="4 2.8"/>
<text x="584.6" y="290.5" font-size="9.4" fill="#111">Data</text>
<text x="584.6" y="300.6" font-size="9.4" fill="#111">Best-fit model</text>
<text x="584.6" y="310.6" font-size="9.4" fill="#111" textLength="73.9" lengthAdjust="spacingAndGlyphs">Continuum model</text>
<path d="M685 278.6H262.9V466.2H685" fill="none" stroke="#9a9a9a" stroke-width="1.1"/>
<path d="M277.6 466.2v-3.5M314.1 466.2v-3.5M350.6 466.2v-3.5M387.1 466.2v-3.5M423.6 466.2v-3.5M460.1 466.2v-3.5M496.6 466.2v-3.5M533.1 466.2v-3.5M569.6 466.2v-3.5M606.1 466.2v-3.5M642.6 466.2v-3.5M262.9 463.7h3.5M262.9 425.0h3.5M262.9 386.3h3.5M262.9 347.6h3.5M262.9 308.9h3.5M294.5 278.6v3.5M384.4 278.6v3.5M474.3 278.6v3.5M564.2 278.6v3.5M654.1 278.6v3.5" stroke="#555" stroke-width="0.9"/>
<text x="277.6" y="477.4" font-size="9.2" text-anchor="middle">2,000</text>
<text x="314.1" y="477.4" font-size="9.2" text-anchor="middle">3,000</text>
<text x="350.6" y="477.4" font-size="9.2" text-anchor="middle">4,000</text>
<text x="387.1" y="477.4" font-size="9.2" text-anchor="middle">5,000</text>
<text x="423.6" y="477.4" font-size="9.2" text-anchor="middle">6,000</text>
<text x="460.1" y="477.4" font-size="9.2" text-anchor="middle">7,000</text>
<text x="496.6" y="477.4" font-size="9.2" text-anchor="middle">8,000</text>
<text x="533.1" y="477.4" font-size="9.2" text-anchor="middle">9,000</text>
<text x="569.6" y="477.4" font-size="9.2" text-anchor="middle">10,000</text>
<text x="606.1" y="477.4" font-size="9.2" text-anchor="middle">11,000</text>
<text x="642.6" y="477.4" font-size="9.2" text-anchor="middle">12,000</text>
<text x="258.6" y="467.0" font-size="9.2" text-anchor="end">0</text>
<text x="258.6" y="428.3" font-size="9.2" text-anchor="end">2</text>
<text x="258.6" y="389.6" font-size="9.2" text-anchor="end">4</text>
<text x="258.6" y="350.9" font-size="9.2" text-anchor="end">6</text>
<text x="258.6" y="312.2" font-size="9.2" text-anchor="end">8</text>
<text x="294.5" y="273.6" font-size="9.2" text-anchor="middle">1</text>
<text x="384.4" y="273.6" font-size="9.2" text-anchor="middle">2</text>
<text x="474.3" y="273.6" font-size="9.2" text-anchor="middle">3</text>
<text x="564.2" y="273.6" font-size="9.2" text-anchor="middle">4</text>
<text x="654.1" y="273.6" font-size="9.2" text-anchor="middle">5</text>
<text x="431.1" y="261.8" font-size="10.8" fill="#111"><tspan font-family="Liberation Serif" font-style="italic">λ</tspan> (observed) (μm)</text>
<text x="447.7" y="494.2" font-size="10.8" fill="#111"><tspan font-family="Liberation Serif" font-style="italic">λ</tspan> (rest) (Å)</text>
<text x="242.6" y="373.5" font-size="10.8" text-anchor="middle" fill="#111" transform="rotate(-90 242.6 373.5)"><tspan font-style="italic">F</tspan><tspan font-style="italic" font-size="7" dy="2">λ</tspan><tspan dy="-2"> (10</tspan><tspan font-size="7" dy="-3.6">−19</tspan><tspan dy="3.6"> erg s</tspan><tspan font-size="7" dy="-3.6">−1</tspan><tspan dy="3.6"> cm</tspan><tspan font-size="7" dy="-3.6">−2</tspan><tspan dy="3.6"> Å</tspan><tspan font-size="7" dy="-3.6">−1</tspan><tspan dy="3.6">)</tspan></text>
</svg></div></body></html>
